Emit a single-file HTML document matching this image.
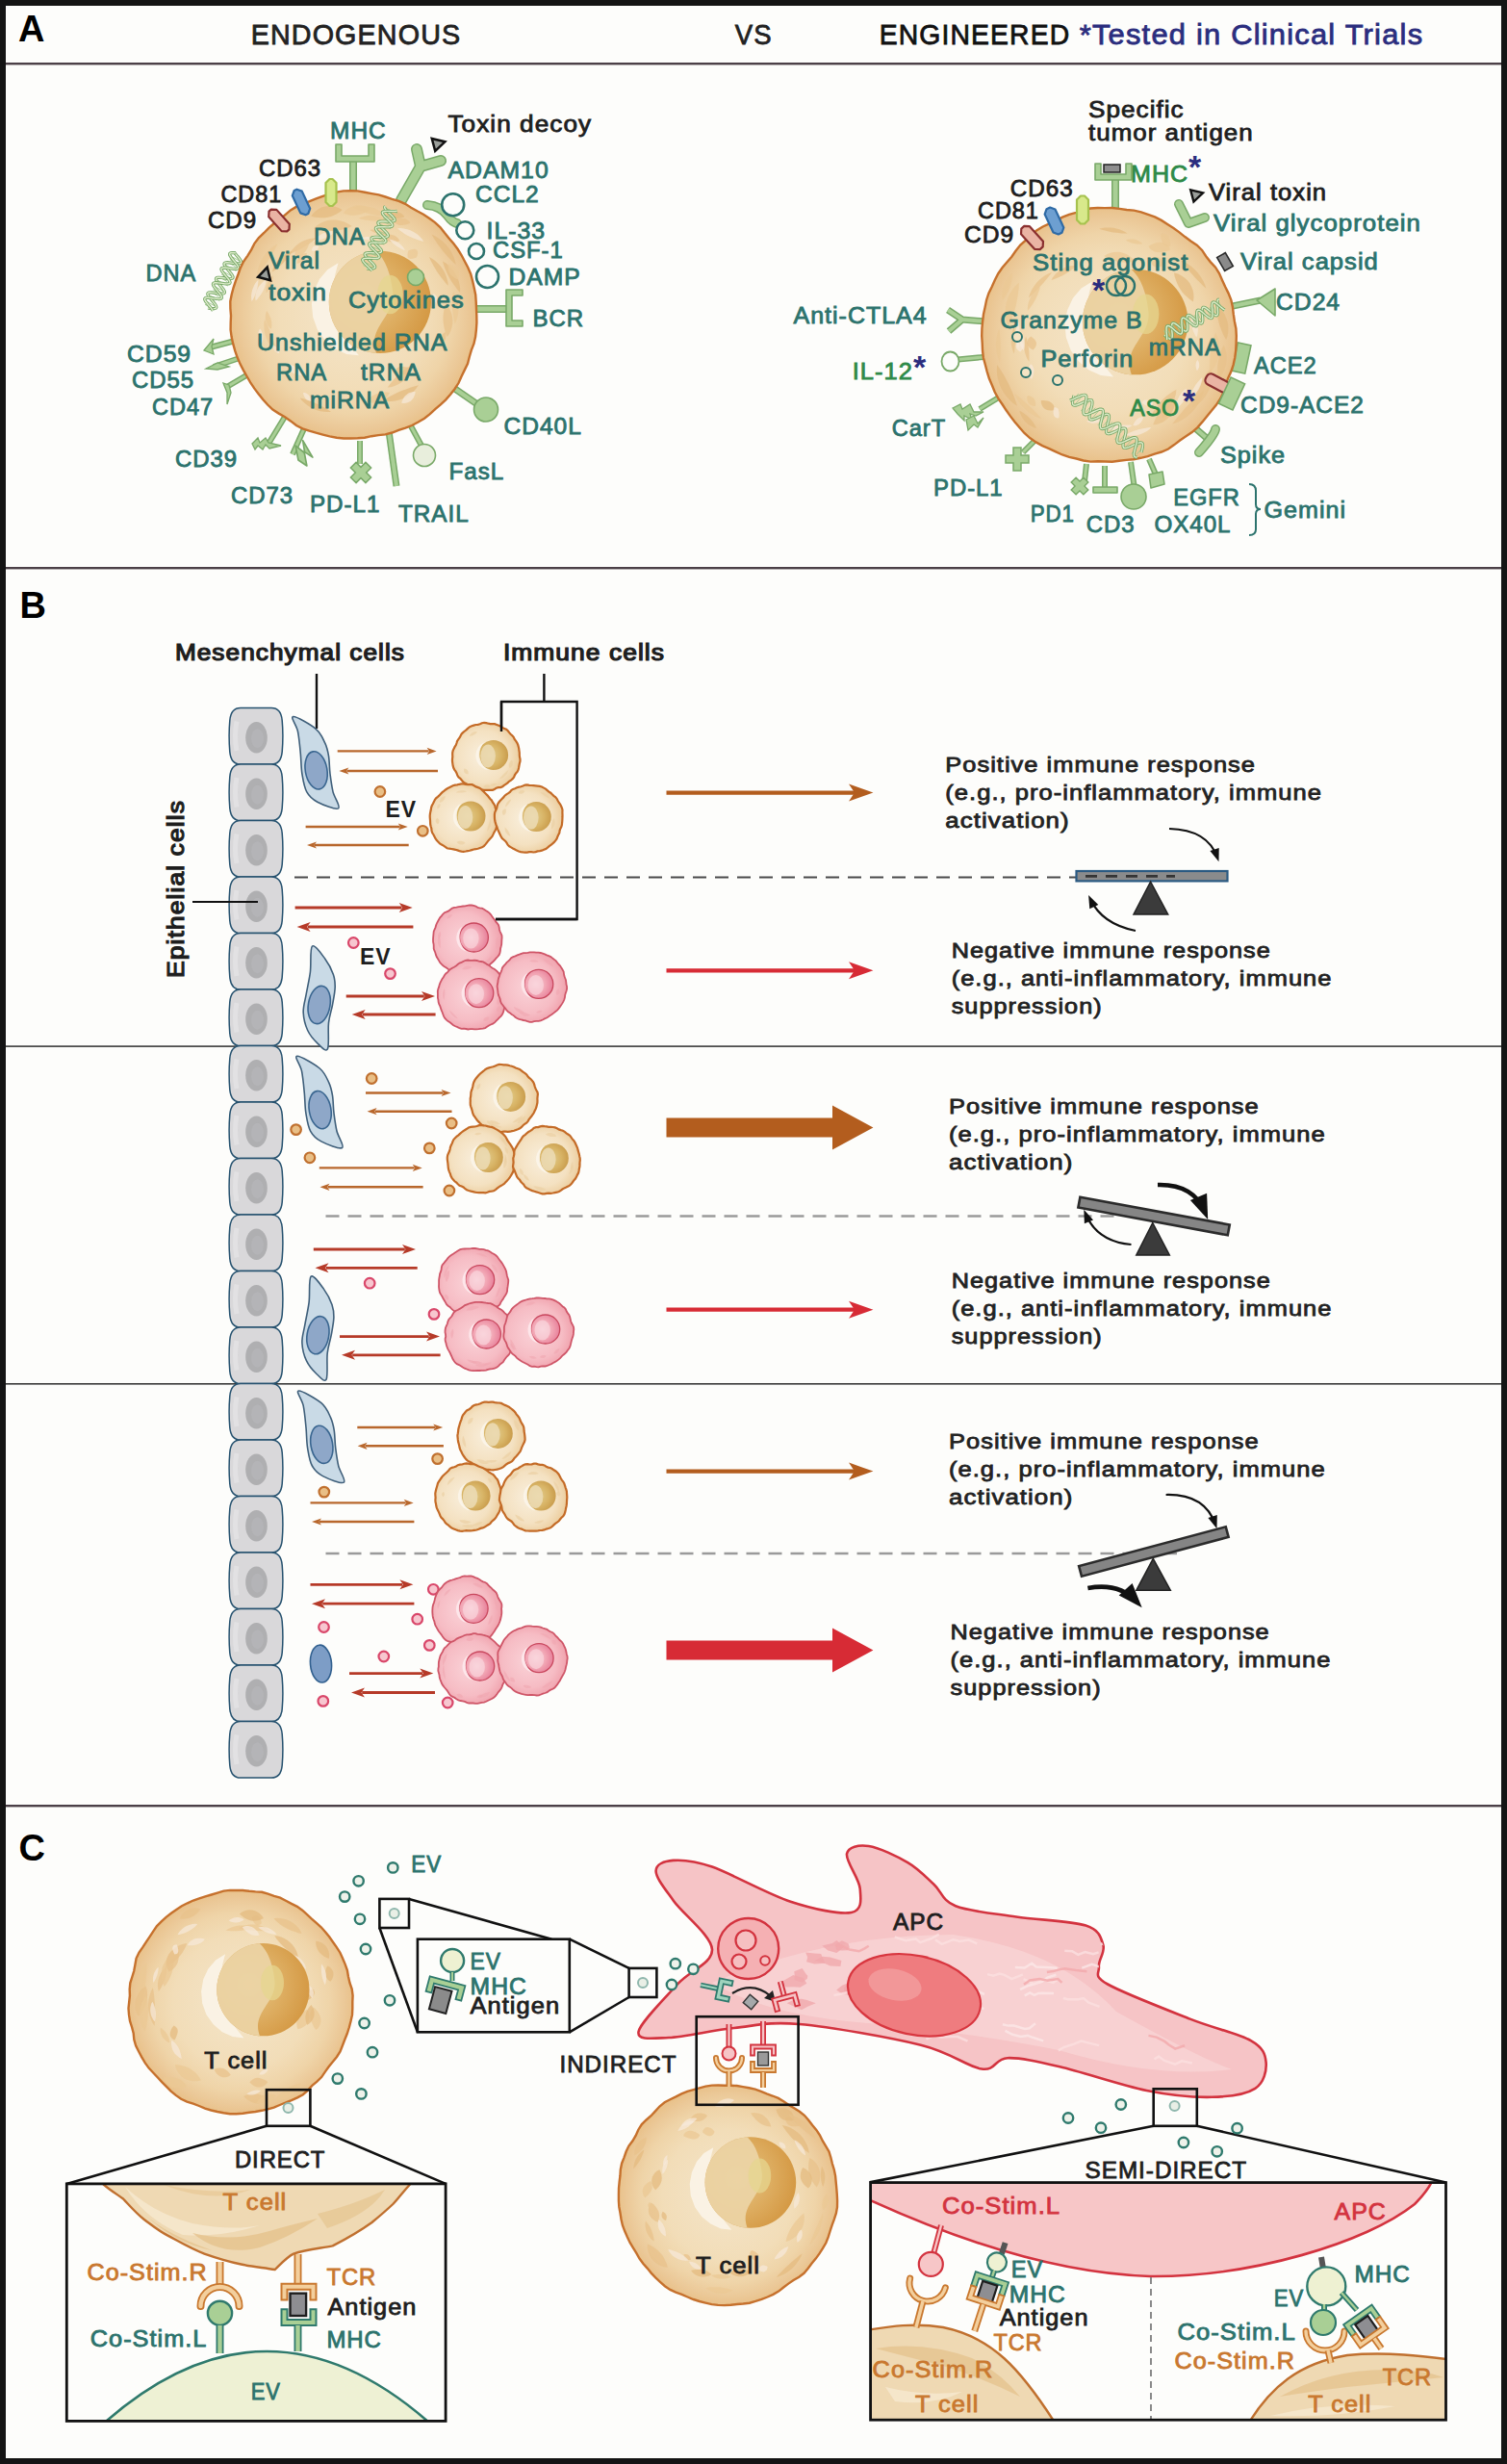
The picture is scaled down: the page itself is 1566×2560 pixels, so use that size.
<!DOCTYPE html>
<html><head><meta charset="utf-8"><title>EV figure</title>
<style>html,body{margin:0;padding:0;background:#fdfdfb;width:1566px;height:2560px;overflow:hidden}
text{font-family:"Liberation Sans",sans-serif}</style></head><body>
<svg width="1566" height="2560" viewBox="0 0 1566 2560" font-family="Liberation Sans, sans-serif" style="display:block">
<defs>
<radialGradient id="gCell" cx="0.5" cy="0.5" r="0.5">
 <stop offset="0" stop-color="#f4e5ca"/><stop offset="0.6" stop-color="#f2ddb8"/>
 <stop offset="0.8" stop-color="#efd4a8"/><stop offset="0.93" stop-color="#ebc897"/><stop offset="1" stop-color="#e9c28b"/></radialGradient>
<radialGradient id="gNuc" cx="0.35" cy="0.45" r="0.7">
 <stop offset="0" stop-color="#e7c585"/><stop offset="0.55" stop-color="#ddac5f"/><stop offset="1" stop-color="#d39640"/></radialGradient>
<radialGradient id="gTan" cx="0.45" cy="0.5" r="0.55">
 <stop offset="0" stop-color="#f9efdd"/><stop offset="0.7" stop-color="#f4e1c1"/><stop offset="1" stop-color="#ecce9f"/></radialGradient>
<radialGradient id="gTanNuc" cx="0.4" cy="0.5" r="0.6">
 <stop offset="0" stop-color="#e2cd8e"/><stop offset="0.6" stop-color="#d8b466"/><stop offset="1" stop-color="#c99c4c"/></radialGradient>
<radialGradient id="gPink" cx="0.45" cy="0.5" r="0.55">
 <stop offset="0" stop-color="#fad3d8"/><stop offset="0.7" stop-color="#f6bcc4"/><stop offset="1" stop-color="#f0a2ad"/></radialGradient>
<radialGradient id="gPinkNuc" cx="0.4" cy="0.5" r="0.6">
 <stop offset="0" stop-color="#f9d3da"/><stop offset="0.6" stop-color="#f1a3b2"/><stop offset="1" stop-color="#e7809a"/></radialGradient>
</defs>
<rect x="0" y="0" width="1566" height="2560" fill="#141414"/>
<rect x="6" y="6" width="1554" height="2548" fill="#fdfdfb"/>
<rect x="6" y="65" width="1554" height="2.4" fill="#4b4047"/>
<rect x="6" y="589" width="1554" height="2.4" fill="#4b4047"/>
<rect x="6" y="1875" width="1554" height="2.4" fill="#4b4047"/>
<rect x="6" y="1086.3" width="1554" height="1.6" fill="#3a3a3a"/>
<rect x="6" y="1437" width="1554" height="1.6" fill="#3a3a3a"/>
<text x="19" y="43" font-size="38" fill="#000" font-weight="bold" letter-spacing="0.85" text-anchor="start" >A</text>
<text x="20.5" y="641.6" font-size="38" fill="#000" font-weight="bold" letter-spacing="0.85" text-anchor="start" >B</text>
<text x="19.5" y="1933" font-size="38" fill="#000" font-weight="bold" letter-spacing="0.85" text-anchor="start" >C</text>
<text x="260.7" y="45.6" font-size="29" fill="#222" stroke="#222" stroke-width="0.8" textLength="218.6" lengthAdjust="spacingAndGlyphs" letter-spacing="1.16" text-anchor="start" >ENDOGENOUS</text>
<text x="763.7" y="45.6" font-size="29" fill="#222" stroke="#222" stroke-width="0.8" textLength="38.9" lengthAdjust="spacingAndGlyphs" letter-spacing="1.16" text-anchor="start" >VS</text>
<text x="913.7" y="45.6" font-size="29" fill="#111" stroke="#111" stroke-width="0.8" textLength="198.6" lengthAdjust="spacingAndGlyphs" letter-spacing="1.16" text-anchor="start" >ENGINEERED</text>
<text x="1121.7" y="45.6" font-size="29" fill="#2b2d7e" stroke="#2b2d7e" stroke-width="0.8" textLength="357.6" lengthAdjust="spacingAndGlyphs" letter-spacing="1.16" text-anchor="start" >*Tested in Clinical Trials</text>
<line x1="367" y1="200" x2="367" y2="167" stroke="#79a968" stroke-width="8" stroke-linecap="butt"/>
<line x1="367" y1="200" x2="367" y2="167" stroke="#a9cf95" stroke-width="5" stroke-linecap="butt"/>
<path d="M349.0,150 L355.0,150 L355.0,162 L383.0,162 L383.0,150 L389.0,150 L389.0,168 L349.0,168Z" fill="#a9cf95" stroke="#79a968" stroke-width="1.6" stroke-linejoin="round"/>
<path d="M417,208 L437,173 M437,173 L433,155 M437,173 L458,167" stroke="#79a968" stroke-width="12" stroke-linecap="round" stroke-linejoin="round" fill="none"/>
<path d="M417,208 L437,173 M437,173 L433,155 M437,173 L458,167" stroke="#a9cf95" stroke-width="9" stroke-linecap="round" stroke-linejoin="round" fill="none"/>
<path d="M444,213 Q458,214 465,224 Q470,231 475,232" stroke="#79a968" stroke-width="10" stroke-linecap="round" fill="none"/>
<path d="M444,213 Q458,214 465,224 Q470,231 475,232" stroke="#a9cf95" stroke-width="7" stroke-linecap="round" fill="none"/>
<line x1="494" y1="321" x2="528" y2="321" stroke="#79a968" stroke-width="8" stroke-linecap="butt"/>
<line x1="494" y1="321" x2="528" y2="321" stroke="#a9cf95" stroke-width="5" stroke-linecap="butt"/>
<path d="M526,301 L543,301 L543,307 L532,307 L532,333 L543,333 L543,339 L526,339Z" fill="#a9cf95" stroke="#79a968" stroke-width="1.6" stroke-linejoin="round"/>
<line x1="467" y1="400" x2="496" y2="420" stroke="#79a968" stroke-width="7" stroke-linecap="butt"/>
<line x1="467" y1="400" x2="496" y2="420" stroke="#a9cf95" stroke-width="4" stroke-linecap="butt"/>
<circle cx="505" cy="425.5" r="12.5" fill="#a9cf95" stroke="#79a968" stroke-width="1.6"/>
<line x1="425" y1="439" x2="438" y2="463" stroke="#79a968" stroke-width="6" stroke-linecap="butt"/>
<line x1="425" y1="439" x2="438" y2="463" stroke="#a9cf95" stroke-width="3" stroke-linecap="butt"/>
<circle cx="441" cy="473" r="11.5" fill="#e8eedc" stroke="#79a968" stroke-width="1.6"/>
<line x1="404" y1="448" x2="412" y2="505" stroke="#79a968" stroke-width="7" stroke-linecap="butt"/>
<line x1="404" y1="448" x2="412" y2="505" stroke="#a9cf95" stroke-width="4" stroke-linecap="butt"/>
<line x1="374" y1="458" x2="374" y2="482" stroke="#79a968" stroke-width="6" stroke-linecap="butt"/>
<line x1="374" y1="458" x2="374" y2="482" stroke="#a9cf95" stroke-width="3" stroke-linecap="butt"/>
<g transform="translate(375,491) rotate(45)"><path d="M-4,-11 L4,-11 L4,-4 L11,-4 L11,4 L4,4 L4,11 L-4,11 L-4,4 L-11,4 L-11,-4 L-4,-4Z" fill="#a9cf95" stroke="#79a968" stroke-width="1.5"/></g>
<line x1="317" y1="443" x2="304" y2="472" stroke="#79a968" stroke-width="6" stroke-linecap="butt"/>
<line x1="317" y1="443" x2="304" y2="472" stroke="#a9cf95" stroke-width="3" stroke-linecap="butt"/>
<g transform="translate(310,478) rotate(20) scale(1.3)"><path d="M0,0 L-6,-10 L3,-7 L-2,-16 L10,-6 L2,-8 L8,2Z" fill="#a9cf95" stroke="#79a968" stroke-width="1.3" stroke-linejoin="round"/></g>
<line x1="296" y1="433" x2="279" y2="461" stroke="#79a968" stroke-width="6" stroke-linecap="butt"/>
<line x1="296" y1="433" x2="279" y2="461" stroke="#a9cf95" stroke-width="3" stroke-linecap="butt"/>
<path d="M262,461 L268,455 L270,460 L276,455 L279,460 L292,463 L280,466 L276,462 L273,467 L268,463 L265,467Z" fill="#a9cf95" stroke="#79a968" stroke-width="1.3"/>
<line x1="256" y1="390" x2="234" y2="403" stroke="#79a968" stroke-width="6" stroke-linecap="butt"/>
<line x1="256" y1="390" x2="234" y2="403" stroke="#a9cf95" stroke-width="3" stroke-linecap="butt"/>
<path d="M232,398 L236,408 L236,420 L240,408 L238,400Z" fill="#a9cf95" stroke="#79a968" stroke-width="1.3"/>
<line x1="249" y1="372" x2="222" y2="381" stroke="#79a968" stroke-width="6" stroke-linecap="butt"/>
<line x1="249" y1="372" x2="222" y2="381" stroke="#a9cf95" stroke-width="3" stroke-linecap="butt"/>
<path d="M214,383 L226,377 L238,381 L226,384Z" fill="#a9cf95" stroke="#79a968" stroke-width="1.3"/>
<line x1="248" y1="353" x2="218" y2="361" stroke="#79a968" stroke-width="6" stroke-linecap="butt"/>
<line x1="248" y1="353" x2="218" y2="361" stroke="#a9cf95" stroke-width="3" stroke-linecap="butt"/>
<path d="M212,364 L222,352 L220,360 L222,368Z" fill="#a9cf95" stroke="#79a968" stroke-width="1.3"/>
<line x1="220.7" y1="320.6" x2="213.0" y2="316.3" stroke="#a9cc95" stroke-width="1"/>
<line x1="224.8" y1="318.8" x2="212.3" y2="311.9" stroke="#a9cc95" stroke-width="1"/>
<line x1="220.3" y1="312.2" x2="220.3" y2="312.2" stroke="#a9cc95" stroke-width="1"/>
<line x1="215.8" y1="305.7" x2="228.3" y2="312.6" stroke="#a9cc95" stroke-width="1"/>
<line x1="219.9" y1="303.9" x2="227.6" y2="308.1" stroke="#a9cc95" stroke-width="1"/>
<line x1="229.3" y1="305.0" x2="221.6" y2="300.8" stroke="#a9cc95" stroke-width="1"/>
<line x1="233.4" y1="303.2" x2="221.0" y2="296.3" stroke="#a9cc95" stroke-width="1"/>
<line x1="228.9" y1="296.7" x2="228.9" y2="296.7" stroke="#a9cc95" stroke-width="1"/>
<line x1="224.4" y1="290.1" x2="236.9" y2="297.0" stroke="#a9cc95" stroke-width="1"/>
<line x1="228.5" y1="288.3" x2="236.2" y2="292.6" stroke="#a9cc95" stroke-width="1"/>
<line x1="237.9" y1="289.5" x2="230.2" y2="285.2" stroke="#a9cc95" stroke-width="1"/>
<line x1="242.0" y1="287.7" x2="229.6" y2="280.8" stroke="#a9cc95" stroke-width="1"/>
<line x1="237.5" y1="281.1" x2="237.5" y2="281.1" stroke="#a9cc95" stroke-width="1"/>
<line x1="233.0" y1="274.5" x2="245.5" y2="281.5" stroke="#a9cc95" stroke-width="1"/>
<line x1="237.1" y1="272.8" x2="244.8" y2="277.0" stroke="#a9cc95" stroke-width="1"/>
<line x1="246.6" y1="273.9" x2="238.8" y2="269.6" stroke="#a9cc95" stroke-width="1"/>
<line x1="250.7" y1="272.1" x2="238.2" y2="265.2" stroke="#a9cc95" stroke-width="1"/>
<line x1="246.1" y1="265.6" x2="246.1" y2="265.6" stroke="#a9cc95" stroke-width="1"/>
<path d="M216.0,320.0 L218.2,320.3 L220.3,320.5 L222.1,320.6 L223.5,320.5 L224.4,320.1 L224.8,319.4 L224.7,318.4 L224.2,317.2 L223.2,315.7 L221.9,314.1 L220.5,312.4 L219.0,310.7 L217.7,309.1 L216.6,307.6 L216.0,306.3 L215.8,305.2 L216.1,304.5 L216.9,304.0 L218.2,303.8 L219.9,303.9 L221.9,304.1 L224.1,304.4 L226.3,304.7 L228.5,304.9 L230.3,305.1 L231.8,305.0 L232.9,304.6 L233.4,304.0 L233.4,303.1 L232.9,301.9 L232.0,300.5 L230.8,298.9 L229.4,297.2 L227.9,295.5 L226.6,293.9 L225.5,292.3 L224.7,291.0 L224.4,289.9 L224.6,289.1 L225.3,288.5 L226.5,288.3 L228.1,288.3 L230.1,288.5 L232.2,288.7 L234.5,289.1 L236.6,289.3 L238.6,289.5 L240.1,289.5 L241.3,289.2 L241.9,288.6 L242.1,287.8 L241.7,286.7 L240.9,285.3 L239.7,283.7 L238.3,282.1 L236.9,280.3 L235.5,278.7 L234.3,277.1 L233.4,275.7 L233.0,274.5 L233.1,273.7 L233.7,273.1 L234.8,272.8 L236.3,272.7 L238.2,272.9 L240.3,273.1 L242.6,273.4 L244.8,273.7 L246.8,273.9 L248.4,273.9 L249.7,273.7 L250.4,273.2 L250.7,272.4 L250.4,271.4 L249.7,270.1 L248.6,268.5 L247.3,266.9 L245.8,265.2 L244.4,263.5 L243.1,261.9" fill="none" stroke="#7aa96b" stroke-width="3.2"/>
<path d="M216.0,320.0 L218.2,320.3 L220.3,320.5 L222.1,320.6 L223.5,320.5 L224.4,320.1 L224.8,319.4 L224.7,318.4 L224.2,317.2 L223.2,315.7 L221.9,314.1 L220.5,312.4 L219.0,310.7 L217.7,309.1 L216.6,307.6 L216.0,306.3 L215.8,305.2 L216.1,304.5 L216.9,304.0 L218.2,303.8 L219.9,303.9 L221.9,304.1 L224.1,304.4 L226.3,304.7 L228.5,304.9 L230.3,305.1 L231.8,305.0 L232.9,304.6 L233.4,304.0 L233.4,303.1 L232.9,301.9 L232.0,300.5 L230.8,298.9 L229.4,297.2 L227.9,295.5 L226.6,293.9 L225.5,292.3 L224.7,291.0 L224.4,289.9 L224.6,289.1 L225.3,288.5 L226.5,288.3 L228.1,288.3 L230.1,288.5 L232.2,288.7 L234.5,289.1 L236.6,289.3 L238.6,289.5 L240.1,289.5 L241.3,289.2 L241.9,288.6 L242.1,287.8 L241.7,286.7 L240.9,285.3 L239.7,283.7 L238.3,282.1 L236.9,280.3 L235.5,278.7 L234.3,277.1 L233.4,275.7 L233.0,274.5 L233.1,273.7 L233.7,273.1 L234.8,272.8 L236.3,272.7 L238.2,272.9 L240.3,273.1 L242.6,273.4 L244.8,273.7 L246.8,273.9 L248.4,273.9 L249.7,273.7 L250.4,273.2 L250.7,272.4 L250.4,271.4 L249.7,270.1 L248.6,268.5 L247.3,266.9 L245.8,265.2 L244.4,263.5 L243.1,261.9" fill="none" stroke="#dcecc9" stroke-width="1.4"/>
<path d="M221.3,322.9 L220.4,321.5 L219.2,319.9 L217.8,318.2 L216.3,316.5 L215.0,314.8 L213.8,313.3 L213.1,312.0 L212.7,310.9 L212.9,310.1 L213.6,309.5 L214.8,309.3 L216.5,309.3 L218.4,309.5 L220.6,309.7 L222.8,310.1 L225.0,310.3 L226.9,310.5 L228.5,310.5 L229.7,310.2 L230.3,309.6 L230.4,308.8 L230.1,307.7 L229.2,306.3 L228.1,304.7 L226.7,303.1 L225.2,301.3 L223.9,299.7 L222.7,298.1 L221.8,296.7 L221.4,295.5 L221.5,294.7 L222.0,294.1 L223.1,293.8 L224.7,293.7 L226.6,293.9 L228.7,294.1 L231.0,294.4 L233.1,294.7 L235.1,294.9 L236.8,294.9 L238.1,294.7 L238.8,294.2 L239.1,293.4 L238.8,292.4 L238.1,291.1 L237.0,289.5 L235.6,287.9 L234.2,286.2 L232.8,284.5 L231.5,282.9 L230.6,281.4 L230.0,280.2 L230.0,279.3 L230.5,278.6 L231.5,278.3 L232.9,278.2 L234.8,278.3 L236.8,278.5 L239.1,278.8 L241.3,279.1 L243.3,279.3 L245.1,279.4 L246.4,279.2 L247.3,278.8 L247.7,278.1 L247.5,277.1 L246.9,275.8 L245.9,274.3 L244.6,272.7 L243.1,271.0 L241.7,269.3 L240.4,267.7 L239.4,266.2 L238.7,264.9 L238.6,263.9 L238.9,263.2 L239.8,262.8 L241.2,262.6 L242.9,262.7 L245.0,262.9" fill="none" stroke="#7aa96b" stroke-width="3.2"/>
<path d="M221.3,322.9 L220.4,321.5 L219.2,319.9 L217.8,318.2 L216.3,316.5 L215.0,314.8 L213.8,313.3 L213.1,312.0 L212.7,310.9 L212.9,310.1 L213.6,309.5 L214.8,309.3 L216.5,309.3 L218.4,309.5 L220.6,309.7 L222.8,310.1 L225.0,310.3 L226.9,310.5 L228.5,310.5 L229.7,310.2 L230.3,309.6 L230.4,308.8 L230.1,307.7 L229.2,306.3 L228.1,304.7 L226.7,303.1 L225.2,301.3 L223.9,299.7 L222.7,298.1 L221.8,296.7 L221.4,295.5 L221.5,294.7 L222.0,294.1 L223.1,293.8 L224.7,293.7 L226.6,293.9 L228.7,294.1 L231.0,294.4 L233.1,294.7 L235.1,294.9 L236.8,294.9 L238.1,294.7 L238.8,294.2 L239.1,293.4 L238.8,292.4 L238.1,291.1 L237.0,289.5 L235.6,287.9 L234.2,286.2 L232.8,284.5 L231.5,282.9 L230.6,281.4 L230.0,280.2 L230.0,279.3 L230.5,278.6 L231.5,278.3 L232.9,278.2 L234.8,278.3 L236.8,278.5 L239.1,278.8 L241.3,279.1 L243.3,279.3 L245.1,279.4 L246.4,279.2 L247.3,278.8 L247.7,278.1 L247.5,277.1 L246.9,275.8 L245.9,274.3 L244.6,272.7 L243.1,271.0 L241.7,269.3 L240.4,267.7 L239.4,266.2 L238.7,264.9 L238.6,263.9 L238.9,263.2 L239.8,262.8 L241.2,262.6 L242.9,262.7 L245.0,262.9" fill="none" stroke="#dcecc9" stroke-width="1.4"/>
<path d="M495.3,328.0 L495.4,335.3 L494.9,342.6 L494.1,349.8 L492.5,356.9 L489.8,363.8 L487.8,370.7 L486.0,377.9 L482.8,384.4 L479.6,391.0 L476.6,397.8 L472.6,404.0 L468.1,409.8 L463.2,415.3 L457.8,420.4 L452.2,425.1 L446.8,430.2 L441.0,434.8 L434.6,438.5 L428.1,442.0 L421.3,444.6 L414.3,446.9 L407.5,449.5 L400.4,451.4 L393.2,452.1 L386.0,453.2 L378.9,454.7 L371.6,455.3 L364.4,455.5 L357.1,455.5 L349.8,454.8 L342.6,453.4 L335.5,451.6 L328.4,449.7 L321.4,447.6 L314.4,445.3 L307.9,442.0 L302.0,437.4 L296.1,433.2 L289.7,429.6 L283.4,425.6 L278.1,420.5 L273.2,415.0 L268.6,409.2 L264.2,403.4 L260.2,397.3 L256.5,391.0 L252.9,384.6 L249.5,378.1 L246.6,371.3 L244.2,364.3 L242.2,357.2 L240.6,350.1 L239.6,342.7 L239.7,335.3 L240.0,328.0 L239.4,320.6 L239.3,313.2 L240.7,306.0 L242.6,298.8 L244.9,291.9 L247.5,285.0 L249.9,278.1 L253.2,271.5 L257.4,265.6 L261.2,259.4 L264.5,252.8 L268.9,247.0 L274.3,242.0 L279.3,236.8 L284.9,232.0 L290.8,227.9 L296.4,223.2 L301.9,218.4 L308.2,214.7 L315.0,212.0 L321.7,209.1 L328.5,206.4 L335.4,203.8 L342.4,201.6 L349.5,199.6 L356.9,198.4 L364.3,198.2 L371.7,198.4 L379.0,199.7 L386.2,201.1 L393.5,202.4 L400.5,204.5 L407.4,206.8 L414.4,208.9 L421.1,211.8 L427.2,215.7 L433.5,219.3 L440.0,222.7 L446.0,226.8 L452.0,231.1 L457.4,236.0 L461.9,241.8 L466.5,247.4 L471.3,253.0 L475.6,258.8 L479.5,265.0 L482.9,271.5 L486.3,278.0 L489.2,284.7 L491.1,291.9 L492.7,299.0 L494.2,306.2 L494.7,313.5 L495.0,320.7Z" fill="url(#gCell)" stroke="#c6712d" stroke-width="2.4"/>
<path d="M463.2,315.4 L465.8,318.6 L467.7,322.0 L469.1,325.5 L470.0,329.1 L470.4,332.8 L470.3,336.5 L469.6,340.1 L468.5,343.6 L466.9,347.0 L464.6,350.1 L464.6,350.1 L463.1,346.3 L462.1,342.6 L461.3,339.1 L460.8,335.7 L460.5,332.3 L460.5,329.0 L460.8,325.7 L461.3,322.4 L462.0,318.9 L463.2,315.4Z" fill="#e8c28b" opacity="0.75"/>
<path d="M460.0,271.5 L463.6,273.6 L466.7,276.2 L469.4,279.0 L471.8,282.1 L473.9,285.4 L475.6,288.8 L476.8,292.5 L477.7,296.2 L478.2,300.1 L478.0,304.0 L478.0,304.0 L475.2,300.8 L472.9,297.6 L470.6,294.5 L468.6,291.4 L466.8,288.2 L465.1,285.1 L463.6,281.8 L462.2,278.5 L461.0,275.1 L460.0,271.5Z" fill="#e4bb80" opacity="0.75"/>
<path d="M427.0,382.5 L426.8,384.5 L426.2,386.1 L425.2,387.3 L423.9,388.3 L422.4,389.0 L420.6,389.3 L418.5,389.2 L416.2,388.8 L413.7,388.0 L410.8,386.5 L410.8,386.5 L411.2,384.7 L411.9,383.3 L412.8,382.3 L413.9,381.5 L415.3,381.0 L417.0,380.8 L419.0,380.9 L421.3,381.2 L423.8,381.6 L427.0,382.5Z" fill="#e8c28b" opacity="0.75"/>
<path d="M471.0,302.8 L472.8,305.9 L474.2,309.1 L475.3,312.4 L476.0,315.8 L476.4,319.3 L476.4,322.8 L476.0,326.3 L475.3,329.7 L474.3,333.1 L472.7,336.4 L472.7,336.4 L471.8,333.0 L471.2,329.7 L470.7,326.4 L470.3,323.1 L470.0,319.8 L469.9,316.5 L470.0,313.2 L470.1,309.8 L470.4,306.4 L471.0,302.8Z" fill="#ebc894" opacity="0.75"/>
<path d="M356.7,221.3 L359.2,218.6 L361.9,216.6 L364.8,215.0 L367.7,213.9 L370.6,213.3 L373.6,213.2 L376.5,213.5 L379.4,214.3 L382.2,215.5 L384.8,217.5 L384.8,217.5 L381.7,219.5 L378.7,221.0 L375.9,222.2 L373.1,223.0 L370.4,223.6 L367.7,223.8 L365.0,223.7 L362.3,223.3 L359.5,222.6 L356.7,221.3Z" fill="#ebc894" opacity="0.75"/>
<path d="M308.5,273.8 L308.7,271.9 L309.1,270.2 L309.7,268.6 L310.5,267.2 L311.5,266.0 L312.7,265.0 L314.0,264.1 L315.5,263.5 L317.1,263.0 L319.0,262.9 L319.0,262.9 L318.5,264.8 L317.9,266.4 L317.2,267.8 L316.3,269.1 L315.4,270.3 L314.3,271.2 L313.1,272.1 L311.8,272.8 L310.3,273.4 L308.5,273.8Z" fill="#ebc894" opacity="0.75"/>
<path d="M281.7,341.8 L280.0,340.2 L278.6,338.5 L277.5,336.6 L276.7,334.8 L276.1,332.8 L275.8,330.9 L275.7,328.9 L275.9,327.0 L276.3,325.0 L277.2,323.1 L277.2,323.1 L278.6,325.1 L279.6,327.0 L280.5,328.9 L281.3,330.7 L281.8,332.5 L282.2,334.4 L282.3,336.2 L282.3,338.0 L282.2,339.9 L281.7,341.8Z" fill="#ebc894" opacity="0.75"/>
<path d="M446.1,267.0 L449.5,268.9 L452.6,271.2 L455.3,273.7 L457.8,276.4 L460.0,279.4 L461.8,282.6 L463.3,286.0 L464.5,289.5 L465.4,293.1 L465.7,296.8 L465.7,296.8 L463.0,293.9 L460.7,291.0 L458.4,288.2 L456.3,285.3 L454.3,282.4 L452.5,279.5 L450.7,276.5 L449.1,273.5 L447.5,270.4 L446.1,267.0Z" fill="#e4bb80" opacity="0.75"/>
<path d="M434.9,400.3 L432.4,403.8 L429.5,406.9 L426.2,409.6 L422.7,412.0 L418.9,413.9 L414.9,415.4 L410.8,416.4 L406.5,417.0 L402.1,417.1 L397.7,416.6 L397.7,416.6 L401.0,414.3 L404.4,412.3 L407.9,410.5 L411.3,408.8 L414.9,407.1 L418.6,405.6 L422.4,404.2 L426.3,402.8 L430.4,401.5 L434.9,400.3Z" fill="#e4bb80" opacity="0.75"/>
<path d="M408.9,229.8 L411.3,228.5 L413.4,227.7 L415.5,227.1 L417.5,226.9 L419.4,226.9 L421.1,227.3 L422.6,228.0 L424.1,228.9 L425.3,230.1 L426.3,231.8 L426.3,231.8 L423.8,232.8 L421.5,233.4 L419.5,233.8 L417.5,234.0 L415.8,234.0 L414.2,233.7 L412.7,233.1 L411.3,232.3 L410.0,231.3 L408.9,229.8Z" fill="#e8c28b" opacity="0.75"/>
<path d="M267.1,285.6 L267.6,281.6 L268.6,277.7 L269.9,273.9 L271.6,270.3 L273.6,266.9 L275.9,263.7 L278.6,260.7 L281.5,258.0 L284.7,255.5 L288.2,253.5 L288.2,253.5 L286.6,257.1 L284.7,260.6 L282.9,263.9 L280.9,267.2 L278.9,270.3 L276.8,273.4 L274.6,276.5 L272.3,279.6 L269.8,282.6 L267.1,285.6Z" fill="#ebc894" opacity="0.75"/>
<path d="M300.6,264.1 L302.3,261.0 L304.5,258.4 L306.8,255.9 L309.4,253.7 L312.3,251.8 L315.3,250.2 L318.5,248.9 L321.8,248.0 L325.3,247.4 L328.9,247.2 L328.9,247.2 L326.4,249.5 L323.8,251.4 L321.2,253.3 L318.6,255.1 L315.9,256.7 L313.1,258.3 L310.2,259.8 L307.1,261.3 L304.0,262.7 L300.6,264.1Z" fill="#e8c28b" opacity="0.75"/>
<path d="M384.3,239.0 L386.4,238.5 L388.4,238.4 L390.5,238.4 L392.5,238.6 L394.5,239.1 L396.4,239.7 L398.2,240.5 L400.0,241.5 L401.7,242.7 L403.3,244.2 L403.3,244.2 L401.1,244.2 L399.1,244.0 L397.1,243.8 L395.2,243.4 L393.3,243.0 L391.5,242.4 L389.6,241.7 L387.8,241.0 L386.0,240.1 L384.3,239.0Z" fill="#e8c28b" opacity="0.75"/>
<path d="M305.9,267.8 L306.1,264.9 L306.7,262.4 L307.6,260.1 L308.9,258.1 L310.3,256.4 L312.1,254.9 L314.1,253.8 L316.3,252.9 L318.6,252.4 L321.3,252.5 L321.3,252.5 L320.5,255.2 L319.5,257.6 L318.4,259.6 L317.1,261.5 L315.8,263.1 L314.2,264.4 L312.5,265.6 L310.5,266.5 L308.4,267.3 L305.9,267.8Z" fill="#ebc894" opacity="0.75"/>
<path d="M462.5,344.9 L463.1,346.5 L463.3,348.0 L463.3,349.5 L463.2,351.0 L462.8,352.4 L462.2,353.7 L461.3,355.0 L460.3,356.2 L459.1,357.3 L457.6,358.3 L457.6,358.3 L457.2,356.7 L457.1,355.2 L457.2,353.8 L457.4,352.4 L457.8,351.1 L458.3,349.8 L459.1,348.5 L460.0,347.3 L461.1,346.1 L462.5,344.9Z" fill="#e8c28b" opacity="0.75"/>
<path d="M323.2,224.6 L325.5,221.4 L328.3,218.9 L331.2,216.9 L334.4,215.3 L337.8,214.4 L341.2,213.9 L344.8,214.0 L348.4,214.7 L352.1,215.9 L355.7,218.0 L355.7,218.0 L352.7,220.5 L349.8,222.3 L346.8,223.8 L343.8,225.0 L340.8,225.8 L337.7,226.2 L334.4,226.3 L330.9,226.1 L327.3,225.7 L323.2,224.6Z" fill="#e4bb80" opacity="0.75"/>
<path d="M405.0,408.0 L403.3,410.7 L401.4,413.0 L399.2,414.9 L396.8,416.4 L394.3,417.5 L391.6,418.2 L388.9,418.6 L386.1,418.5 L383.2,418.0 L380.4,416.9 L380.4,416.9 L382.7,414.6 L385.0,412.8 L387.2,411.3 L389.5,410.1 L391.8,409.1 L394.2,408.4 L396.7,407.9 L399.3,407.6 L402.0,407.6 L405.0,408.0Z" fill="#ebc894" opacity="0.75"/>
<path d="M448.6,243.6 L452.5,245.4 L456.1,247.7 L459.4,250.2 L462.4,253.1 L465.2,256.2 L467.7,259.6 L469.8,263.2 L471.5,267.0 L472.9,270.9 L473.8,275.1 L473.8,275.1 L470.6,272.2 L467.7,269.2 L464.9,266.3 L462.3,263.3 L459.8,260.2 L457.4,257.1 L455.0,253.9 L452.8,250.6 L450.6,247.2 L448.6,243.6Z" fill="#e4bb80" opacity="0.75"/>
<path d="M366.8,215.5 L370.5,214.5 L374.2,214.1 L377.9,214.1 L381.6,214.5 L385.3,215.2 L388.9,216.3 L392.3,217.8 L395.6,219.7 L398.8,221.9 L401.6,224.7 L401.6,224.7 L398.0,224.6 L394.5,224.2 L391.0,223.7 L387.6,223.0 L384.2,222.2 L380.8,221.2 L377.4,220.1 L374.0,218.8 L370.4,217.3 L366.8,215.5Z" fill="#ebc894" opacity="0.75"/>
<path d="M287.8,366.5 L284.8,363.9 L282.2,360.9 L280.0,357.7 L278.1,354.4 L276.5,350.8 L275.4,347.1 L274.6,343.4 L274.3,339.5 L274.3,335.7 L274.9,331.8 L274.9,331.8 L276.7,335.5 L278.4,339.0 L279.9,342.5 L281.3,345.9 L282.6,349.3 L283.9,352.7 L285.0,356.0 L286.0,359.5 L287.0,362.9 L287.8,366.5Z" fill="#ebc894" opacity="0.75"/>
<path d="M276.7,304.5 L276.4,302.4 L276.5,300.3 L276.7,298.3 L277.1,296.4 L277.8,294.4 L278.6,292.6 L279.6,290.9 L280.8,289.2 L282.2,287.7 L283.8,286.3 L283.8,286.3 L283.7,288.4 L283.4,290.4 L282.9,292.3 L282.4,294.1 L281.8,295.9 L281.0,297.7 L280.1,299.4 L279.1,301.1 L278.0,302.8 L276.7,304.5Z" fill="#ebc894" opacity="0.75"/>
<path d="M401.2,222.7 L403.6,221.4 L405.9,220.6 L408.1,220.1 L410.2,219.9 L412.3,220.1 L414.2,220.5 L416.0,221.3 L417.7,222.3 L419.2,223.6 L420.4,225.4 L420.4,225.4 L417.9,226.3 L415.5,226.8 L413.3,227.2 L411.3,227.3 L409.4,227.2 L407.5,226.8 L405.8,226.2 L404.2,225.3 L402.7,224.3 L401.2,222.7Z" fill="#e4bb80" opacity="0.75"/>
<path d="M326.1,237.3 L329.3,234.3 L332.8,232.0 L336.7,230.3 L340.7,229.1 L344.8,228.5 L349.1,228.6 L353.4,229.2 L357.6,230.5 L361.7,232.4 L365.7,235.1 L365.7,235.1 L362.0,236.8 L358.4,238.0 L354.8,238.8 L351.1,239.4 L347.4,239.7 L343.6,239.7 L339.6,239.5 L335.4,239.0 L331.0,238.4 L326.1,237.3Z" fill="#e8c28b" opacity="0.75"/>
<path d="M466.0,274.1 L468.7,274.8 L470.8,275.9 L472.7,277.2 L474.2,278.7 L475.4,280.3 L476.3,282.1 L476.8,284.0 L477.0,286.1 L476.8,288.3 L476.1,290.6 L476.1,290.6 L473.6,289.5 L471.6,288.2 L469.9,286.8 L468.5,285.4 L467.4,283.9 L466.6,282.2 L466.0,280.4 L465.7,278.5 L465.6,276.4 L466.0,274.1Z" fill="#ebc894" opacity="0.75"/>
<path d="M424.3,260.6 L426.7,259.5 L428.7,259.0 L430.4,258.8 L431.8,259.0 L432.8,259.5 L433.6,260.4 L434.0,261.7 L434.1,263.2 L433.8,265.1 L432.9,267.4 L432.9,267.4 L430.4,268.3 L428.5,268.7 L426.9,268.9 L425.6,268.7 L424.6,268.2 L423.9,267.4 L423.6,266.3 L423.5,264.8 L423.7,263.0 L424.3,260.6Z" fill="#ebc894" opacity="0.75"/>
<path d="M428.1,379.3 L427.3,383.1 L425.9,386.6 L424.1,389.9 L421.9,392.8 L419.3,395.5 L416.5,397.7 L413.4,399.6 L410.1,401.1 L406.5,402.2 L402.8,402.6 L402.8,402.6 L405.1,399.3 L407.4,396.4 L409.7,393.8 L412.0,391.2 L414.4,388.9 L416.8,386.7 L419.4,384.7 L422.1,382.8 L424.9,380.9 L428.1,379.3Z" fill="#e8c28b" opacity="0.75"/>
<path d="M397.8,245.7 L400.1,244.6 L402.2,244.1 L404.3,243.8 L406.3,243.8 L408.3,244.2 L410.0,244.8 L411.6,245.7 L413.1,247.0 L414.4,248.4 L415.4,250.3 L415.4,250.3 L413.0,250.9 L410.7,251.2 L408.7,251.3 L406.8,251.2 L405.0,250.9 L403.4,250.4 L401.8,249.6 L400.4,248.6 L399.0,247.4 L397.8,245.7Z" fill="#e8c28b" opacity="0.75"/>
<path d="M372.7,226.8 L375.6,225.5 L378.6,224.7 L381.6,224.1 L384.6,223.8 L387.5,223.9 L390.5,224.2 L393.3,224.8 L396.2,225.7 L398.9,226.8 L401.5,228.4 L401.5,228.4 L398.3,228.9 L395.2,229.2 L392.2,229.3 L389.3,229.4 L386.5,229.3 L383.7,229.1 L381.0,228.8 L378.2,228.3 L375.5,227.7 L372.7,226.8Z" fill="#ebc894" opacity="0.75"/>
<path d="M282.8,282.6 L283.6,279.5 L284.8,276.7 L286.3,274.0 L288.1,271.5 L290.1,269.1 L292.4,267.0 L294.9,265.1 L297.6,263.5 L300.5,262.1 L303.6,261.1 L303.6,261.1 L302.1,263.7 L300.4,266.1 L298.6,268.4 L296.8,270.5 L294.8,272.7 L292.7,274.7 L290.5,276.7 L288.1,278.7 L285.6,280.7 L282.8,282.6Z" fill="#e4bb80" opacity="0.75"/>
<path d="M344.1,427.9 L340.3,428.1 L336.6,427.8 L333.0,427.2 L329.4,426.2 L326.0,424.9 L322.7,423.3 L319.6,421.3 L316.7,419.0 L314.0,416.4 L311.7,413.4 L311.7,413.4 L315.3,414.3 L318.7,415.4 L322.0,416.6 L325.3,417.8 L328.5,419.2 L331.6,420.6 L334.7,422.2 L337.8,423.9 L340.9,425.8 L344.1,427.9Z" fill="#e4bb80" opacity="0.75"/>
<path d="M375.7,247.5 L377.1,246.8 L378.4,246.5 L379.7,246.2 L381.0,246.1 L382.4,246.1 L383.6,246.2 L384.9,246.5 L386.1,246.9 L387.3,247.5 L388.5,248.2 L388.5,248.2 L387.1,248.7 L385.7,248.9 L384.4,249.1 L383.1,249.2 L381.8,249.1 L380.6,249.0 L379.3,248.8 L378.1,248.5 L376.9,248.1 L375.7,247.5Z" fill="#f7eadb" opacity="0.7"/>
<path d="M261.6,313.3 L261.2,310.8 L261.1,308.3 L261.2,305.9 L261.6,303.5 L262.2,301.2 L263.0,298.9 L264.0,296.7 L265.2,294.6 L266.7,292.5 L268.4,290.6 L268.4,290.6 L268.4,293.1 L268.1,295.5 L267.7,297.8 L267.2,300.1 L266.6,302.3 L265.9,304.5 L265.0,306.7 L264.1,308.9 L263.0,311.1 L261.6,313.3Z" fill="#f7eadb" opacity="0.7"/>
<path d="M307.8,388.2 L306.3,388.2 L305.1,387.9 L304.1,387.4 L303.2,386.8 L302.6,385.9 L302.1,384.9 L301.8,383.8 L301.8,382.5 L301.9,381.0 L302.4,379.3 L302.4,379.3 L303.8,379.5 L304.9,379.9 L305.9,380.4 L306.7,381.0 L307.3,381.8 L307.7,382.7 L307.9,383.8 L308.1,385.1 L308.0,386.5 L307.8,388.2Z" fill="#f7eadb" opacity="0.7"/>
<path d="M272.0,356.8 L270.7,355.6 L269.8,354.2 L269.1,352.7 L268.5,351.2 L268.2,349.7 L268.1,348.1 L268.3,346.5 L268.6,344.8 L269.2,343.1 L270.1,341.5 L270.1,341.5 L271.2,342.8 L272.0,344.2 L272.6,345.7 L273.0,347.1 L273.3,348.6 L273.4,350.1 L273.3,351.7 L273.1,353.3 L272.7,355.0 L272.0,356.8Z" fill="#f7eadb" opacity="0.7"/>
<path d="M323.6,416.4 L322.2,416.5 L321.0,416.2 L319.9,415.8 L318.8,415.2 L317.9,414.4 L317.1,413.5 L316.4,412.3 L315.8,411.1 L315.3,409.6 L315.0,407.9 L315.0,407.9 L316.4,408.0 L317.5,408.3 L318.6,408.7 L319.5,409.4 L320.4,410.1 L321.2,411.0 L321.9,412.1 L322.5,413.4 L323.1,414.8 L323.6,416.4Z" fill="#f7eadb" opacity="0.7"/>
<path d="M325.5,250.8 L327.2,248.5 L329.2,246.6 L331.4,244.9 L333.6,243.4 L336.0,242.2 L338.6,241.3 L341.2,240.6 L343.8,240.2 L346.5,240.1 L349.3,240.4 L349.3,240.4 L347.0,242.2 L344.8,243.7 L342.5,245.0 L340.2,246.2 L337.9,247.3 L335.6,248.2 L333.2,249.1 L330.7,249.8 L328.2,250.4 L325.5,250.8Z" fill="#f7eadb" opacity="0.7"/>
<path d="M265.7,312.6 L265.3,310.0 L265.4,307.5 L265.8,305.0 L266.5,302.6 L267.5,300.2 L268.7,298.0 L270.3,295.9 L272.1,293.9 L274.1,292.1 L276.6,290.5 L276.6,290.5 L276.4,292.9 L275.9,295.3 L275.3,297.5 L274.5,299.7 L273.5,301.9 L272.3,304.0 L270.9,306.2 L269.4,308.3 L267.7,310.4 L265.7,312.6Z" fill="#f7eadb" opacity="0.7"/>
<path d="M431.7,407.0 L431.3,409.5 L430.5,411.6 L429.6,413.4 L428.3,415.1 L426.9,416.4 L425.3,417.5 L423.5,418.3 L421.6,418.8 L419.5,419.0 L417.2,418.7 L417.2,418.7 L418.0,416.3 L419.0,414.3 L420.0,412.6 L421.2,411.1 L422.6,409.9 L424.0,408.8 L425.7,408.0 L427.5,407.4 L429.4,407.0 L431.7,407.0Z" fill="#f7eadb" opacity="0.7"/>
<path d="M413.0,237.3 L416.4,237.1 L419.7,237.5 L422.9,238.2 L425.9,239.1 L428.8,240.4 L431.5,242.0 L434.1,243.8 L436.4,245.9 L438.5,248.2 L440.3,250.9 L440.3,250.9 L436.9,250.0 L433.8,249.0 L430.8,248.0 L427.9,246.8 L425.2,245.6 L422.6,244.2 L420.1,242.7 L417.7,241.1 L415.3,239.3 L413.0,237.3Z" fill="#f7eadb" opacity="0.7"/>
<path d="M290.1,367.3 L288.6,366.8 L287.4,366.2 L286.4,365.5 L285.4,364.7 L284.7,363.8 L284.1,362.9 L283.6,361.9 L283.3,360.8 L283.2,359.6 L283.4,358.4 L283.4,358.4 L284.8,359.0 L285.9,359.8 L287.0,360.5 L287.8,361.3 L288.6,362.1 L289.2,363.0 L289.6,364.0 L289.9,365.0 L290.1,366.1 L290.1,367.3Z" fill="#f7eadb" opacity="0.7"/>
<path d="M324.0,260.4 L324.1,259.1 L324.5,258.0 L324.9,257.1 L325.5,256.3 L326.2,255.8 L327.0,255.4 L327.9,255.2 L328.9,255.2 L330.0,255.3 L331.2,255.8 L331.2,255.8 L330.9,257.2 L330.5,258.2 L330.0,259.1 L329.5,259.8 L328.8,260.3 L328.1,260.7 L327.2,260.9 L326.3,260.9 L325.2,260.8 L324.0,260.4Z" fill="#f7eadb" opacity="0.7"/>
<path d="M316.7,389.3 L314.7,389.8 L312.9,389.9 L311.3,389.8 L309.9,389.4 L308.7,388.8 L307.7,388.0 L306.9,387.0 L306.3,385.7 L306.0,384.3 L306.0,382.6 L306.0,382.6 L308.1,382.4 L309.8,382.4 L311.4,382.6 L312.7,383.0 L313.8,383.5 L314.8,384.3 L315.5,385.2 L316.1,386.3 L316.5,387.6 L316.7,389.3Z" fill="#f7eadb" opacity="0.7"/>
<path d="M404.4,248.6 L406.5,248.9 L408.5,249.5 L410.5,250.2 L412.3,251.2 L414.1,252.3 L415.7,253.5 L417.3,255.0 L418.7,256.5 L419.9,258.3 L421.0,260.2 L421.0,260.2 L419.0,259.5 L417.1,258.7 L415.4,257.8 L413.7,256.8 L412.0,255.7 L410.4,254.5 L408.9,253.2 L407.3,251.8 L405.8,250.3 L404.4,248.6Z" fill="#f7eadb" opacity="0.7"/>
<path d="M450.4,304.7 L451.8,305.8 L452.9,306.9 L453.8,308.1 L454.6,309.4 L455.2,310.7 L455.6,312.1 L455.9,313.5 L455.9,314.9 L455.8,316.3 L455.5,317.8 L455.5,317.8 L454.3,316.5 L453.3,315.3 L452.5,314.0 L451.7,312.8 L451.2,311.5 L450.8,310.2 L450.5,308.9 L450.3,307.6 L450.2,306.2 L450.4,304.7Z" fill="#f7eadb" opacity="0.7"/>
<path d="M373.0,369.2 L360.2,367.9 L348.2,362.4 L337.8,353.8 L329.9,342.5 L325.2,329.5 L323.9,315.7 L326.3,302.2 L332.0,289.9 L340.5,279.9 L351.5,273.2 L351.5,273.2 L348.4,284.8 L346.6,295.5 L346.2,305.6 L346.9,315.1 L348.5,324.3 L350.9,333.3 L354.4,342.2 L359.0,351.1 L365.2,360.0 L373.0,369.2Z" fill="#fbf4e8" opacity="0.9"/>
<clipPath id="nc3"><circle cx="394.9" cy="313.9" r="53.1"/></clipPath>
<circle cx="394.9" cy="313.9" r="53.1" fill="url(#gNuc)"/>
<g clip-path="url(#nc3)">
<path d="M384.3,255.5 L331.1,287.4 L336.4,367.0 L392.2,369.7 C378.9,340.5 410.8,329.9 408.2,303.3 C405.5,282.0 400.2,266.1 384.3,255.5Z" fill="#ecd4a6" opacity="0.93"/>
<ellipse cx="405.5" cy="306.0" rx="13.3" ry="20.2" fill="#e6d58f" opacity="0.75"/>
</g>
<line x1="385.7" y1="279.1" x2="377.6" y2="275.7" stroke="#a9cc95" stroke-width="1"/>
<line x1="389.6" y1="276.9" x2="376.5" y2="271.3" stroke="#a9cc95" stroke-width="1"/>
<line x1="384.4" y1="270.8" x2="384.4" y2="270.8" stroke="#a9cc95" stroke-width="1"/>
<line x1="379.2" y1="264.8" x2="392.4" y2="270.3" stroke="#a9cc95" stroke-width="1"/>
<line x1="383.1" y1="262.6" x2="391.2" y2="266.0" stroke="#a9cc95" stroke-width="1"/>
<line x1="392.6" y1="262.8" x2="384.5" y2="259.3" stroke="#a9cc95" stroke-width="1"/>
<line x1="396.5" y1="260.5" x2="383.3" y2="255.0" stroke="#a9cc95" stroke-width="1"/>
<line x1="391.3" y1="254.5" x2="391.3" y2="254.5" stroke="#a9cc95" stroke-width="1"/>
<line x1="386.1" y1="248.5" x2="399.2" y2="254.0" stroke="#a9cc95" stroke-width="1"/>
<line x1="389.9" y1="246.3" x2="398.1" y2="249.7" stroke="#a9cc95" stroke-width="1"/>
<line x1="399.4" y1="246.4" x2="391.3" y2="243.0" stroke="#a9cc95" stroke-width="1"/>
<line x1="403.3" y1="244.2" x2="390.2" y2="238.7" stroke="#a9cc95" stroke-width="1"/>
<line x1="398.1" y1="238.2" x2="398.1" y2="238.2" stroke="#a9cc95" stroke-width="1"/>
<line x1="392.9" y1="232.2" x2="406.1" y2="237.7" stroke="#a9cc95" stroke-width="1"/>
<line x1="396.8" y1="230.0" x2="404.9" y2="233.4" stroke="#a9cc95" stroke-width="1"/>
<line x1="406.3" y1="230.1" x2="398.1" y2="226.7" stroke="#a9cc95" stroke-width="1"/>
<line x1="410.2" y1="227.9" x2="397.0" y2="222.4" stroke="#a9cc95" stroke-width="1"/>
<line x1="404.9" y1="221.9" x2="404.9" y2="221.9" stroke="#a9cc95" stroke-width="1"/>
<line x1="399.7" y1="215.9" x2="412.9" y2="221.4" stroke="#a9cc95" stroke-width="1"/>
<path d="M381.0,279.0 L383.4,279.1 L385.5,279.1 L387.4,278.9 L388.7,278.6 L389.5,278.0 L389.7,277.2 L389.3,276.1 L388.3,274.8 L387.0,273.3 L385.3,271.7 L383.6,270.1 L382.0,268.5 L380.6,267.0 L379.6,265.7 L379.1,264.6 L379.3,263.7 L380.1,263.1 L381.4,262.8 L383.2,262.6 L385.4,262.6 L387.7,262.7 L390.1,262.8 L392.3,262.8 L394.1,262.6 L395.5,262.3 L396.3,261.7 L396.5,260.9 L396.2,259.8 L395.2,258.5 L393.9,257.1 L392.3,255.5 L390.5,253.8 L388.9,252.2 L387.5,250.7 L386.5,249.4 L386.0,248.3 L386.1,247.4 L386.8,246.8 L388.1,246.5 L389.9,246.3 L392.1,246.3 L394.4,246.4 L396.8,246.4 L399.0,246.5 L400.9,246.3 L402.3,246.0 L403.1,245.5 L403.4,244.6 L403.0,243.6 L402.1,242.3 L400.8,240.8 L399.2,239.2 L397.5,237.6 L395.8,236.0 L394.4,234.5 L393.4,233.2 L392.9,232.0 L392.9,231.2 L393.6,230.5 L394.9,230.2 L396.7,230.0 L398.8,230.0 L401.1,230.0 L403.5,230.1 L405.7,230.1 L407.6,230.0 L409.1,229.7 L410.0,229.2 L410.2,228.4 L409.9,227.3 L409.0,226.1 L407.7,224.6 L406.1,223.0 L404.4,221.4 L402.7,219.8 L401.3,218.3 L400.2,216.9 L399.7,215.8 L399.8,214.9 L400.4,214.2" fill="none" stroke="#7aa96b" stroke-width="3.2"/>
<path d="M381.0,279.0 L383.4,279.1 L385.5,279.1 L387.4,278.9 L388.7,278.6 L389.5,278.0 L389.7,277.2 L389.3,276.1 L388.3,274.8 L387.0,273.3 L385.3,271.7 L383.6,270.1 L382.0,268.5 L380.6,267.0 L379.6,265.7 L379.1,264.6 L379.3,263.7 L380.1,263.1 L381.4,262.8 L383.2,262.6 L385.4,262.6 L387.7,262.7 L390.1,262.8 L392.3,262.8 L394.1,262.6 L395.5,262.3 L396.3,261.7 L396.5,260.9 L396.2,259.8 L395.2,258.5 L393.9,257.1 L392.3,255.5 L390.5,253.8 L388.9,252.2 L387.5,250.7 L386.5,249.4 L386.0,248.3 L386.1,247.4 L386.8,246.8 L388.1,246.5 L389.9,246.3 L392.1,246.3 L394.4,246.4 L396.8,246.4 L399.0,246.5 L400.9,246.3 L402.3,246.0 L403.1,245.5 L403.4,244.6 L403.0,243.6 L402.1,242.3 L400.8,240.8 L399.2,239.2 L397.5,237.6 L395.8,236.0 L394.4,234.5 L393.4,233.2 L392.9,232.0 L392.9,231.2 L393.6,230.5 L394.9,230.2 L396.7,230.0 L398.8,230.0 L401.1,230.0 L403.5,230.1 L405.7,230.1 L407.6,230.0 L409.1,229.7 L410.0,229.2 L410.2,228.4 L409.9,227.3 L409.0,226.1 L407.7,224.6 L406.1,223.0 L404.4,221.4 L402.7,219.8 L401.3,218.3 L400.2,216.9 L399.7,215.8 L399.8,214.9 L400.4,214.2" fill="none" stroke="#dcecc9" stroke-width="1.4"/>
<path d="M386.6,281.3 L385.5,280.0 L384.0,278.4 L382.3,276.8 L380.6,275.2 L379.0,273.6 L377.8,272.2 L377.0,270.9 L376.7,269.9 L377.1,269.2 L378.1,268.7 L379.6,268.4 L381.6,268.3 L383.8,268.3 L386.2,268.4 L388.5,268.5 L390.6,268.5 L392.3,268.3 L393.5,267.8 L394.1,267.2 L394.1,266.3 L393.5,265.1 L392.4,263.7 L390.9,262.2 L389.2,260.6 L387.5,258.9 L385.9,257.4 L384.7,255.9 L383.8,254.7 L383.6,253.7 L383.9,252.9 L384.9,252.4 L386.4,252.1 L388.3,252.0 L390.5,252.0 L392.9,252.1 L395.3,252.2 L397.4,252.1 L399.1,252.0 L400.3,251.5 L400.9,250.9 L400.9,250.0 L400.4,248.8 L399.3,247.5 L397.8,246.0 L396.2,244.4 L394.4,242.7 L392.8,241.1 L391.6,239.7 L390.7,238.4 L390.4,237.4 L390.7,236.6 L391.6,236.1 L393.1,235.8 L395.0,235.7 L397.3,235.7 L399.6,235.8 L402.0,235.9 L404.1,235.8 L405.8,235.6 L407.1,235.3 L407.7,234.6 L407.8,233.7 L407.3,232.6 L406.2,231.2 L404.8,229.7 L403.1,228.1 L401.4,226.5 L399.8,224.9 L398.5,223.4 L397.6,222.2 L397.3,221.1 L397.5,220.3 L398.4,219.8 L399.9,219.5 L401.8,219.4 L404.0,219.4 L406.4,219.5 L408.7,219.5 L410.8,219.5 L412.6,219.3" fill="none" stroke="#7aa96b" stroke-width="3.2"/>
<path d="M386.6,281.3 L385.5,280.0 L384.0,278.4 L382.3,276.8 L380.6,275.2 L379.0,273.6 L377.8,272.2 L377.0,270.9 L376.7,269.9 L377.1,269.2 L378.1,268.7 L379.6,268.4 L381.6,268.3 L383.8,268.3 L386.2,268.4 L388.5,268.5 L390.6,268.5 L392.3,268.3 L393.5,267.8 L394.1,267.2 L394.1,266.3 L393.5,265.1 L392.4,263.7 L390.9,262.2 L389.2,260.6 L387.5,258.9 L385.9,257.4 L384.7,255.9 L383.8,254.7 L383.6,253.7 L383.9,252.9 L384.9,252.4 L386.4,252.1 L388.3,252.0 L390.5,252.0 L392.9,252.1 L395.3,252.2 L397.4,252.1 L399.1,252.0 L400.3,251.5 L400.9,250.9 L400.9,250.0 L400.4,248.8 L399.3,247.5 L397.8,246.0 L396.2,244.4 L394.4,242.7 L392.8,241.1 L391.6,239.7 L390.7,238.4 L390.4,237.4 L390.7,236.6 L391.6,236.1 L393.1,235.8 L395.0,235.7 L397.3,235.7 L399.6,235.8 L402.0,235.9 L404.1,235.8 L405.8,235.6 L407.1,235.3 L407.7,234.6 L407.8,233.7 L407.3,232.6 L406.2,231.2 L404.8,229.7 L403.1,228.1 L401.4,226.5 L399.8,224.9 L398.5,223.4 L397.6,222.2 L397.3,221.1 L397.5,220.3 L398.4,219.8 L399.9,219.5 L401.8,219.4 L404.0,219.4 L406.4,219.5 L408.7,219.5 L410.8,219.5 L412.6,219.3" fill="none" stroke="#dcecc9" stroke-width="1.4"/>
<g transform="translate(344,200) rotate(0)"><path d="M-5.5,-10.0 L-1.5,-14.0 L1.5,-14.0 L5.5,-10.0 L5.5,10.0 L1.5,14.0 L-1.5,14.0 L-5.5,10.0Z" fill="#d8e98b" stroke="#a6c24e" stroke-width="2.2" stroke-linejoin="round"/></g>
<g transform="translate(313,210) rotate(-25)"><path d="M-5.5,-10.0 L-1.5,-14.0 L1.5,-14.0 L5.5,-10.0 L5.5,10.0 L1.5,14.0 L-1.5,14.0 L-5.5,10.0Z" fill="#6d9fd1" stroke="#2f6ba6" stroke-width="2.2" stroke-linejoin="round"/></g>
<g transform="translate(290,229) rotate(-42)"><path d="M-5.5,-10.0 L-1.5,-14.0 L1.5,-14.0 L5.5,-10.0 L5.5,10.0 L1.5,14.0 L-1.5,14.0 L-5.5,10.0Z" fill="#eab4a4" stroke="#8a2f2f" stroke-width="2.2" stroke-linejoin="round"/></g>
<circle cx="470.7" cy="212.8" r="11.5" fill="#fdfdfb" stroke="#2c736d" stroke-width="2.6"/>
<circle cx="483.3" cy="239.3" r="9" fill="#fdfdfb" stroke="#2c736d" stroke-width="2.6"/>
<circle cx="495" cy="261" r="8" fill="#fdfdfb" stroke="#2c736d" stroke-width="2.6"/>
<circle cx="506.5" cy="287.5" r="11.5" fill="#fdfdfb" stroke="#2c736d" stroke-width="2.6"/>
<circle cx="432" cy="288" r="8.5" fill="#a9cf95" stroke="#79a968" stroke-width="1.6"/>
<g transform="translate(276,284) rotate(15) scale(0.95)"><path d="M-7,6 L7,6 L0,-7Z" fill="#9a9e9a" stroke="#111" stroke-width="2.6" stroke-linejoin="miter"/></g>
<g transform="translate(456,149) rotate(75) scale(0.95)"><path d="M-7,6 L7,6 L0,-7Z" fill="#9a9e9a" stroke="#111" stroke-width="2.6" stroke-linejoin="miter"/></g>
<text x="343.0" y="144" font-size="23" fill="#2c736d" stroke="#2c736d" stroke-width="0.8" textLength="58.7" lengthAdjust="spacingAndGlyphs" letter-spacing="0.92" text-anchor="start" >MHC</text>
<text x="465.5" y="136.5" font-size="23" fill="#1e1e1e" stroke="#1e1e1e" stroke-width="0.8" textLength="149.6" lengthAdjust="spacingAndGlyphs" letter-spacing="0.92" text-anchor="start" >Toxin decoy</text>
<text x="269.0" y="183" font-size="23" fill="#1e1e1e" stroke="#1e1e1e" stroke-width="0.8" textLength="65.1" lengthAdjust="spacingAndGlyphs" letter-spacing="0.92" text-anchor="start" >CD63</text>
<text x="229.5" y="209.5" font-size="23" fill="#1e1e1e" stroke="#1e1e1e" stroke-width="0.8" textLength="63.6" lengthAdjust="spacingAndGlyphs" letter-spacing="0.92" text-anchor="start" >CD81</text>
<text x="216.0" y="236.7" font-size="23" fill="#1e1e1e" stroke="#1e1e1e" stroke-width="0.8" textLength="51.1" lengthAdjust="spacingAndGlyphs" letter-spacing="0.92" text-anchor="start" >CD9</text>
<text x="465.5" y="184.6" font-size="23" fill="#2c736d" stroke="#2c736d" stroke-width="0.8" textLength="105.2" lengthAdjust="spacingAndGlyphs" letter-spacing="0.92" text-anchor="start" >ADAM10</text>
<text x="494.0" y="209.5" font-size="23" fill="#2c736d" stroke="#2c736d" stroke-width="0.8" textLength="66.7" lengthAdjust="spacingAndGlyphs" letter-spacing="0.92" text-anchor="start" >CCL2</text>
<text x="505.5" y="247.6" font-size="23" fill="#2c736d" stroke="#2c736d" stroke-width="0.8" textLength="61.6" lengthAdjust="spacingAndGlyphs" letter-spacing="0.92" text-anchor="start" >IL-33</text>
<text x="512.0" y="267.5" font-size="23" fill="#2c736d" stroke="#2c736d" stroke-width="0.8" textLength="73.6" lengthAdjust="spacingAndGlyphs" letter-spacing="0.92" text-anchor="start" >CSF-1</text>
<text x="528.5" y="295.7" font-size="23" fill="#2c736d" stroke="#2c736d" stroke-width="0.8" textLength="75.3" lengthAdjust="spacingAndGlyphs" letter-spacing="0.92" text-anchor="start" >DAMP</text>
<text x="553.5" y="339" font-size="23" fill="#2c736d" stroke="#2c736d" stroke-width="0.8" textLength="53.6" lengthAdjust="spacingAndGlyphs" letter-spacing="0.92" text-anchor="start" >BCR</text>
<text x="151.5" y="292.4" font-size="23" fill="#2c736d" stroke="#2c736d" stroke-width="0.8" textLength="52.6" lengthAdjust="spacingAndGlyphs" letter-spacing="0.92" text-anchor="start" >DNA</text>
<text x="326.0" y="254.3" font-size="23" fill="#2c736d" stroke="#2c736d" stroke-width="0.8" textLength="53.9" lengthAdjust="spacingAndGlyphs" letter-spacing="0.92" text-anchor="start" >DNA</text>
<text x="279.0" y="279" font-size="23" fill="#2c736d" stroke="#2c736d" stroke-width="0.8" textLength="54.1" lengthAdjust="spacingAndGlyphs" letter-spacing="0.92" text-anchor="start" >Viral</text>
<text x="279.0" y="312.3" font-size="23" fill="#2c736d" stroke="#2c736d" stroke-width="0.8" textLength="61.1" lengthAdjust="spacingAndGlyphs" letter-spacing="0.92" text-anchor="start" >toxin</text>
<text x="362.0" y="320" font-size="23" fill="#2c736d" stroke="#2c736d" stroke-width="0.8" textLength="120.7" lengthAdjust="spacingAndGlyphs" letter-spacing="0.92" text-anchor="start" >Cytokines</text>
<text x="267.0" y="363.7" font-size="23" fill="#2c736d" stroke="#2c736d" stroke-width="0.8" textLength="198.5" lengthAdjust="spacingAndGlyphs" letter-spacing="0.92" text-anchor="start" >Unshielded RNA</text>
<text x="287.0" y="394.5" font-size="23" fill="#2c736d" stroke="#2c736d" stroke-width="0.8" textLength="53.1" lengthAdjust="spacingAndGlyphs" letter-spacing="0.92" text-anchor="start" >RNA</text>
<text x="375.0" y="394.5" font-size="23" fill="#2c736d" stroke="#2c736d" stroke-width="0.8" textLength="62.9" lengthAdjust="spacingAndGlyphs" letter-spacing="0.92" text-anchor="start" >tRNA</text>
<text x="322.0" y="424" font-size="23" fill="#2c736d" stroke="#2c736d" stroke-width="0.8" textLength="83.1" lengthAdjust="spacingAndGlyphs" letter-spacing="0.92" text-anchor="start" >miRNA</text>
<text x="132.0" y="375.8" font-size="23" fill="#2c736d" stroke="#2c736d" stroke-width="0.8" textLength="67.1" lengthAdjust="spacingAndGlyphs" letter-spacing="0.92" text-anchor="start" >CD59</text>
<text x="137.0" y="403" font-size="23" fill="#2c736d" stroke="#2c736d" stroke-width="0.8" textLength="65.1" lengthAdjust="spacingAndGlyphs" letter-spacing="0.92" text-anchor="start" >CD55</text>
<text x="158.0" y="431" font-size="23" fill="#2c736d" stroke="#2c736d" stroke-width="0.8" textLength="64.1" lengthAdjust="spacingAndGlyphs" letter-spacing="0.92" text-anchor="start" >CD47</text>
<text x="182.0" y="485.3" font-size="23" fill="#2c736d" stroke="#2c736d" stroke-width="0.8" textLength="65.1" lengthAdjust="spacingAndGlyphs" letter-spacing="0.92" text-anchor="start" >CD39</text>
<text x="240.0" y="523.4" font-size="23" fill="#2c736d" stroke="#2c736d" stroke-width="0.8" textLength="65.1" lengthAdjust="spacingAndGlyphs" letter-spacing="0.92" text-anchor="start" >CD73</text>
<text x="322.0" y="532.4" font-size="23" fill="#2c736d" stroke="#2c736d" stroke-width="0.8" textLength="73.5" lengthAdjust="spacingAndGlyphs" letter-spacing="0.92" text-anchor="start" >PD-L1</text>
<text x="414.0" y="541.7" font-size="23" fill="#2c736d" stroke="#2c736d" stroke-width="0.8" textLength="73.7" lengthAdjust="spacingAndGlyphs" letter-spacing="0.92" text-anchor="start" >TRAIL</text>
<text x="466.5" y="497.6" font-size="23" fill="#2c736d" stroke="#2c736d" stroke-width="0.8" textLength="57.6" lengthAdjust="spacingAndGlyphs" letter-spacing="0.92" text-anchor="start" >FasL</text>
<text x="523.5" y="451" font-size="23" fill="#2c736d" stroke="#2c736d" stroke-width="0.8" textLength="81.3" lengthAdjust="spacingAndGlyphs" letter-spacing="0.92" text-anchor="start" >CD40L</text>
<line x1="1159" y1="216" x2="1159" y2="186" stroke="#79a968" stroke-width="8" stroke-linecap="butt"/>
<line x1="1159" y1="216" x2="1159" y2="186" stroke="#a9cf95" stroke-width="5" stroke-linecap="butt"/>
<path d="M1138.0,170 L1144.0,170 L1144.0,181 L1170.0,181 L1170.0,170 L1176.0,170 L1176.0,187 L1138.0,187Z" fill="#a9cf95" stroke="#79a968" stroke-width="1.6" stroke-linejoin="round"/>
<rect x="1147" y="171" width="17" height="8" fill="#8e8e8e" stroke="#222" stroke-width="1.5"/>
<path d="M1225,212 L1235,232 L1252,226" stroke="#79a968" stroke-width="10" stroke-linecap="round" stroke-linejoin="round" fill="none"/>
<path d="M1225,212 L1235,232 L1252,226" stroke="#a9cf95" stroke-width="7" stroke-linecap="round" stroke-linejoin="round" fill="none"/>
<g transform="translate(1273,272) rotate(-30)"><rect x="-5" y="-8" width="10" height="16" fill="#8a8a8a" stroke="#2a2a2a" stroke-width="1.6"/></g>
<line x1="1281" y1="318" x2="1310" y2="312" stroke="#79a968" stroke-width="7" stroke-linecap="butt"/>
<line x1="1281" y1="318" x2="1310" y2="312" stroke="#a9cf95" stroke-width="4" stroke-linecap="butt"/>
<path d="M1306,312 L1325,300 L1325,328Z" fill="#a9cf95" stroke="#79a968" stroke-width="1.6" stroke-linejoin="round"/>
<g transform="translate(1290,372) rotate(12)"><rect x="-7" y="-15" width="14" height="30" fill="#a9cf95" stroke="#79a968" stroke-width="1.6"/></g>
<line x1="1241" y1="444" x2="1256" y2="457" stroke="#79a968" stroke-width="7" stroke-linecap="butt"/>
<line x1="1241" y1="444" x2="1256" y2="457" stroke="#a9cf95" stroke-width="4" stroke-linecap="butt"/>
<path d="M1246,470 Q1262,452 1263,446" stroke="#79a968" stroke-width="10" stroke-linecap="round" fill="none"/>
<path d="M1246,470 Q1262,452 1263,446" stroke="#a9cf95" stroke-width="7" stroke-linecap="round" fill="none"/>
<line x1="1194" y1="477" x2="1201" y2="493" stroke="#79a968" stroke-width="6" stroke-linecap="butt"/>
<line x1="1194" y1="477" x2="1201" y2="493" stroke="#a9cf95" stroke-width="3" stroke-linecap="butt"/>
<path d="M1194,493 L1208,490 L1210,503 L1196,507Z" fill="#a9cf95" stroke="#79a968" stroke-width="1.6" stroke-linejoin="round"/>
<line x1="1175" y1="480" x2="1179" y2="508" stroke="#79a968" stroke-width="6" stroke-linecap="butt"/>
<line x1="1175" y1="480" x2="1179" y2="508" stroke="#a9cf95" stroke-width="3" stroke-linecap="butt"/>
<circle cx="1178" cy="516" r="13" fill="#a9cf95" stroke="#79a968" stroke-width="1.6"/>
<line x1="1148" y1="484" x2="1148" y2="508" stroke="#79a968" stroke-width="6" stroke-linecap="butt"/>
<line x1="1148" y1="484" x2="1148" y2="508" stroke="#a9cf95" stroke-width="3" stroke-linecap="butt"/>
<path d="M1136,506 L1161,506 L1161,512 L1136,512Z" fill="#a9cf95" stroke="#79a968" stroke-width="1.6" stroke-linejoin="round"/>
<line x1="1129" y1="482" x2="1127" y2="500" stroke="#79a968" stroke-width="6" stroke-linecap="butt"/>
<line x1="1129" y1="482" x2="1127" y2="500" stroke="#a9cf95" stroke-width="3" stroke-linecap="butt"/>
<g transform="translate(1122,505) rotate(45)"><path d="M-3.5,-9 L3.5,-9 L3.5,-3.5 L9,-3.5 L9,3.5 L3.5,3.5 L3.5,9 L-3.5,9 L-3.5,3.5 L-9,3.5 L-9,-3.5 L-3.5,-3.5Z" fill="#a9cf95" stroke="#79a968" stroke-width="1.4"/></g>
<line x1="1078" y1="455" x2="1063" y2="470" stroke="#79a968" stroke-width="6" stroke-linecap="butt"/>
<line x1="1078" y1="455" x2="1063" y2="470" stroke="#a9cf95" stroke-width="3" stroke-linecap="butt"/>
<g transform="translate(1057,477)"><path d="M-4,-12 L4,-12 L4,-4 L12,-4 L12,4 L4,4 L4,12 L-4,12 L-4,4 L-12,4 L-12,-4 L-4,-4Z" fill="#a9cf95" stroke="#79a968" stroke-width="1.5"/></g>
<line x1="1041" y1="411" x2="1018" y2="425" stroke="#79a968" stroke-width="6" stroke-linecap="butt"/>
<line x1="1041" y1="411" x2="1018" y2="425" stroke="#a9cf95" stroke-width="3" stroke-linecap="butt"/>
<path d="M990,424 L998,420 L1000,425 L1008,420 L1012,428 L1022,428 L1014,432 L1008,430 L1010,436 L1002,432 L1002,437 L995,430Z" fill="#a9cf95" stroke="#79a968" stroke-width="1.3"/>
<path d="M1004,436 L1012,432 L1016,440 L1022,434 L1016,444 L1012,441 L1006,447Z" fill="#a9cf95" stroke="#79a968" stroke-width="1.3"/>
<line x1="1022" y1="371" x2="990" y2="374" stroke="#79a968" stroke-width="6" stroke-linecap="butt"/>
<line x1="1022" y1="371" x2="990" y2="374" stroke="#a9cf95" stroke-width="3" stroke-linecap="butt"/>
<ellipse cx="987.5" cy="375.5" rx="9" ry="10" fill="#fdfdfb" stroke="#79a968" stroke-width="1.8"/>
<path d="M1024,334 L1000,332 L985,322 M1000,332 L986,344" stroke="#79a968" stroke-width="7" stroke-linecap="butt" fill="none"/>
<path d="M1024,334 L1000,332 L985,322 M1000,332 L986,344" stroke="#a9cf95" stroke-width="4" stroke-linecap="butt" fill="none"/>
<path d="M1284.8,349.0 L1284.6,356.6 L1284.2,364.2 L1283.2,371.7 L1281.6,379.1 L1279.2,386.3 L1276.0,393.2 L1273.7,400.4 L1271.4,407.7 L1268.0,414.5 L1263.8,420.8 L1258.9,426.7 L1254.2,432.6 L1249.4,438.4 L1244.4,444.1 L1238.7,449.1 L1232.4,453.3 L1226.2,457.5 L1220.2,462.1 L1214.0,466.5 L1207.0,469.5 L1199.8,471.7 L1192.6,474.1 L1185.3,475.8 L1178.0,477.2 L1170.5,477.9 L1163.1,478.7 L1155.7,479.8 L1148.3,479.5 L1140.8,479.2 L1133.2,479.6 L1125.8,478.5 L1118.5,476.5 L1111.1,474.8 L1103.9,472.5 L1097.1,469.3 L1090.2,466.1 L1083.2,463.1 L1076.5,459.4 L1070.2,455.1 L1064.5,450.0 L1059.5,444.2 L1054.6,438.4 L1049.9,432.4 L1045.6,426.3 L1041.5,420.0 L1037.3,413.8 L1033.7,407.2 L1030.9,400.2 L1027.9,393.3 L1025.7,386.1 L1023.8,378.8 L1021.8,371.5 L1021.0,364.0 L1020.7,356.5 L1020.2,349.0 L1020.4,341.5 L1021.1,334.0 L1022.0,326.5 L1023.6,319.2 L1025.1,311.7 L1027.4,304.6 L1030.8,297.8 L1033.8,290.9 L1037.3,284.2 L1041.6,278.1 L1046.5,272.3 L1051.3,266.7 L1055.6,260.5 L1060.3,254.6 L1065.9,249.7 L1071.4,244.5 L1077.1,239.4 L1083.6,235.5 L1090.5,232.4 L1097.3,229.2 L1104.0,225.7 L1111.0,222.9 L1118.3,220.9 L1125.6,218.5 L1132.9,216.5 L1140.6,216.0 L1148.2,216.1 L1155.8,216.0 L1163.3,216.9 L1170.8,218.0 L1178.4,218.6 L1185.8,220.3 L1193.0,222.8 L1200.1,225.4 L1206.9,228.9 L1213.2,233.0 L1219.5,237.0 L1225.5,241.4 L1231.4,246.1 L1237.4,250.4 L1243.7,254.7 L1249.1,259.9 L1253.2,266.2 L1257.8,272.1 L1263.0,277.7 L1267.0,284.1 L1270.0,291.0 L1273.1,297.8 L1276.5,304.6 L1279.3,311.6 L1280.9,319.0 L1281.8,326.5 L1282.9,334.0 L1284.4,341.4Z" fill="url(#gCell)" stroke="#c6712d" stroke-width="2.4"/>
<path d="M1220.0,283.5 L1224.2,284.6 L1227.8,286.4 L1231.1,288.7 L1233.9,291.3 L1236.3,294.3 L1238.1,297.7 L1239.5,301.3 L1240.3,305.1 L1240.5,309.1 L1239.9,313.4 L1239.9,313.4 L1236.4,311.0 L1233.5,308.5 L1230.8,306.0 L1228.5,303.4 L1226.5,300.6 L1224.8,297.7 L1223.3,294.6 L1222.0,291.3 L1220.8,287.7 L1220.0,283.5Z" fill="#e4bb80" opacity="0.75"/>
<path d="M1068.9,309.6 L1069.9,306.0 L1071.4,302.6 L1073.2,299.3 L1075.3,296.2 L1077.6,293.3 L1080.3,290.6 L1083.2,288.3 L1086.3,286.1 L1089.5,284.3 L1093.1,282.9 L1093.1,282.9 L1091.0,285.8 L1088.8,288.5 L1086.5,291.2 L1084.2,293.9 L1081.9,296.5 L1079.5,299.1 L1077.0,301.7 L1074.4,304.3 L1071.8,307.0 L1068.9,309.6Z" fill="#e8c28b" opacity="0.75"/>
<path d="M1056.9,421.8 L1052.7,419.0 L1049.0,415.6 L1045.7,411.8 L1042.8,407.8 L1040.4,403.4 L1038.5,398.9 L1037.0,394.1 L1036.1,389.2 L1035.8,384.2 L1036.1,379.1 L1036.1,379.1 L1039.1,383.2 L1041.7,387.3 L1044.1,391.3 L1046.3,395.4 L1048.4,399.5 L1050.3,403.7 L1052.2,408.0 L1053.9,412.4 L1055.5,416.9 L1056.9,421.8Z" fill="#e4bb80" opacity="0.75"/>
<path d="M1227.3,270.7 L1231.1,272.3 L1234.6,274.4 L1237.9,276.8 L1240.9,279.4 L1243.7,282.3 L1246.3,285.4 L1248.5,288.8 L1250.5,292.3 L1252.2,295.9 L1253.4,299.8 L1253.4,299.8 L1250.3,296.9 L1247.4,294.1 L1244.6,291.2 L1241.9,288.4 L1239.3,285.5 L1236.8,282.7 L1234.3,279.8 L1231.9,276.8 L1229.6,273.8 L1227.3,270.7Z" fill="#e4bb80" opacity="0.75"/>
<path d="M1193.6,255.7 L1196.7,253.9 L1199.7,252.7 L1202.5,252.0 L1205.2,251.8 L1207.7,252.0 L1209.9,252.6 L1211.9,253.7 L1213.7,255.1 L1215.2,257.0 L1216.2,259.5 L1216.2,259.5 L1212.7,260.7 L1209.6,261.4 L1206.8,261.9 L1204.3,262.0 L1202.0,261.9 L1199.9,261.4 L1198.1,260.6 L1196.4,259.4 L1194.8,257.9 L1193.6,255.7Z" fill="#ebc894" opacity="0.75"/>
<path d="M1082.3,435.1 L1078.4,433.8 L1074.8,432.0 L1071.4,430.0 L1068.2,427.7 L1065.2,425.1 L1062.4,422.2 L1059.9,419.2 L1057.7,415.9 L1055.7,412.4 L1054.2,408.8 L1054.2,408.8 L1057.5,411.3 L1060.6,413.8 L1063.6,416.4 L1066.5,418.9 L1069.3,421.5 L1072.0,424.1 L1074.7,426.7 L1077.3,429.4 L1079.8,432.2 L1082.3,435.1Z" fill="#ebc894" opacity="0.75"/>
<path d="M1265.1,317.2 L1268.2,320.1 L1270.7,323.4 L1272.7,326.8 L1274.3,330.4 L1275.5,334.1 L1276.2,337.8 L1276.4,341.7 L1276.2,345.5 L1275.5,349.3 L1274.1,353.1 L1274.1,353.1 L1272.0,349.3 L1270.3,345.7 L1268.8,342.1 L1267.5,338.6 L1266.5,335.1 L1265.7,331.7 L1265.2,328.2 L1264.9,324.6 L1264.8,321.0 L1265.1,317.2Z" fill="#e4bb80" opacity="0.75"/>
<path d="M1047.6,338.8 L1045.8,333.9 L1044.9,329.0 L1044.6,324.0 L1044.9,319.1 L1045.8,314.3 L1047.3,309.6 L1049.4,305.2 L1052.0,301.0 L1055.1,297.1 L1058.9,293.8 L1058.9,293.8 L1058.7,299.1 L1058.1,303.9 L1057.4,308.6 L1056.6,313.1 L1055.7,317.5 L1054.5,321.7 L1053.1,326.0 L1051.6,330.2 L1049.8,334.5 L1047.6,338.8Z" fill="#ebc894" opacity="0.75"/>
<path d="M1221.2,417.6 L1220.9,420.2 L1220.1,422.6 L1219.2,424.8 L1218.0,426.8 L1216.7,428.6 L1215.1,430.2 L1213.4,431.6 L1211.5,432.8 L1209.4,433.7 L1207.2,434.3 L1207.2,434.3 L1208.1,431.7 L1209.2,429.5 L1210.3,427.5 L1211.5,425.6 L1212.8,423.9 L1214.2,422.3 L1215.8,420.9 L1217.4,419.6 L1219.2,418.5 L1221.2,417.6Z" fill="#e8c28b" opacity="0.75"/>
<path d="M1041.9,311.6 L1041.3,308.3 L1041.2,305.1 L1041.5,302.0 L1042.1,299.0 L1043.0,296.0 L1044.2,293.3 L1045.7,290.7 L1047.5,288.2 L1049.5,286.0 L1052.0,284.0 L1052.0,284.0 L1051.8,287.4 L1051.4,290.5 L1050.8,293.4 L1050.0,296.3 L1049.1,299.0 L1048.1,301.7 L1046.8,304.2 L1045.4,306.7 L1043.8,309.2 L1041.9,311.6Z" fill="#ebc894" opacity="0.75"/>
<path d="M1067.9,322.9 L1067.8,319.9 L1068.2,317.0 L1068.8,314.1 L1069.8,311.4 L1071.0,308.7 L1072.5,306.2 L1074.2,303.9 L1076.2,301.7 L1078.4,299.8 L1080.9,298.1 L1080.9,298.1 L1080.2,300.9 L1079.2,303.6 L1078.2,306.2 L1077.1,308.7 L1075.9,311.2 L1074.6,313.6 L1073.1,315.9 L1071.5,318.3 L1069.8,320.6 L1067.9,322.9Z" fill="#ebc894" opacity="0.75"/>
<path d="M1170.0,249.4 L1171.9,248.8 L1173.8,248.5 L1175.6,248.5 L1177.5,248.6 L1179.3,248.8 L1181.0,249.3 L1182.7,250.0 L1184.3,250.9 L1185.9,251.9 L1187.3,253.2 L1187.3,253.2 L1185.4,253.5 L1183.5,253.5 L1181.7,253.4 L1179.9,253.3 L1178.2,253.0 L1176.5,252.5 L1174.8,252.0 L1173.2,251.3 L1171.5,250.5 L1170.0,249.4Z" fill="#ebc894" opacity="0.75"/>
<path d="M1077.0,444.9 L1074.3,444.2 L1071.9,443.0 L1069.7,441.7 L1067.6,440.2 L1065.7,438.4 L1064.0,436.5 L1062.5,434.3 L1061.2,432.0 L1060.1,429.5 L1059.4,426.8 L1059.4,426.8 L1061.9,428.0 L1064.1,429.4 L1066.1,430.9 L1068.0,432.4 L1069.8,434.2 L1071.4,436.0 L1073.0,438.0 L1074.4,440.1 L1075.8,442.4 L1077.0,444.9Z" fill="#e4bb80" opacity="0.75"/>
<path d="M1250.8,405.6 L1249.6,410.5 L1247.7,415.2 L1245.3,419.6 L1242.5,423.7 L1239.4,427.5 L1235.8,431.0 L1231.9,434.0 L1227.6,436.7 L1223.2,439.0 L1218.3,440.6 L1218.3,440.6 L1221.2,436.5 L1224.3,432.8 L1227.3,429.2 L1230.3,425.6 L1233.4,422.2 L1236.7,418.8 L1240.0,415.5 L1243.4,412.2 L1246.9,408.9 L1250.8,405.6Z" fill="#e8c28b" opacity="0.75"/>
<path d="M1092.5,291.1 L1094.0,288.3 L1096.0,285.7 L1098.1,283.4 L1100.6,281.4 L1103.2,279.7 L1106.0,278.2 L1109.0,277.1 L1112.1,276.3 L1115.3,275.9 L1118.7,275.9 L1118.7,275.9 L1116.4,278.1 L1114.1,279.9 L1111.7,281.7 L1109.3,283.3 L1106.8,284.8 L1104.2,286.2 L1101.5,287.5 L1098.7,288.8 L1095.7,290.0 L1092.5,291.1Z" fill="#e8c28b" opacity="0.75"/>
<path d="M1221.2,414.2 L1221.1,418.8 L1220.2,423.0 L1218.8,426.8 L1217.0,430.3 L1214.7,433.4 L1212.1,436.0 L1209.0,438.2 L1205.7,439.8 L1202.1,441.0 L1198.2,441.3 L1198.2,441.3 L1199.9,436.9 L1201.7,433.1 L1203.6,429.6 L1205.5,426.5 L1207.6,423.8 L1209.8,421.3 L1212.2,419.1 L1214.9,417.2 L1217.8,415.5 L1221.2,414.2Z" fill="#e8c28b" opacity="0.75"/>
<path d="M1195.7,268.9 L1198.0,267.7 L1200.1,267.2 L1201.9,267.0 L1203.6,267.3 L1205.0,267.9 L1206.2,268.8 L1207.2,270.2 L1207.9,271.8 L1208.3,273.8 L1208.2,276.3 L1208.2,276.3 L1205.8,277.1 L1203.8,277.5 L1202.0,277.6 L1200.5,277.3 L1199.2,276.8 L1198.1,275.9 L1197.2,274.7 L1196.5,273.2 L1196.0,271.3 L1195.7,268.9Z" fill="#ebc894" opacity="0.75"/>
<path d="M1073.7,363.4 L1071.5,362.4 L1069.9,361.2 L1068.7,359.9 L1067.9,358.5 L1067.4,357.1 L1067.4,355.6 L1067.7,354.1 L1068.4,352.6 L1069.5,351.1 L1071.2,349.6 L1071.2,349.6 L1073.2,351.0 L1074.6,352.3 L1075.7,353.6 L1076.5,354.9 L1076.9,356.2 L1077.0,357.5 L1076.7,358.8 L1076.1,360.3 L1075.2,361.8 L1073.7,363.4Z" fill="#e8c28b" opacity="0.75"/>
<path d="M1258.4,383.0 L1259.3,388.0 L1259.2,392.9 L1258.5,397.7 L1257.3,402.4 L1255.5,406.8 L1253.2,410.9 L1250.4,414.7 L1247.0,418.2 L1243.3,421.2 L1238.9,423.6 L1238.9,423.6 L1240.0,418.6 L1241.3,414.0 L1242.7,409.6 L1244.3,405.5 L1246.1,401.5 L1248.0,397.7 L1250.2,393.9 L1252.6,390.2 L1255.3,386.6 L1258.4,383.0Z" fill="#e8c28b" opacity="0.75"/>
<path d="M1096.4,426.0 L1093.8,426.6 L1091.5,426.6 L1089.4,426.3 L1087.5,425.7 L1085.9,424.9 L1084.5,423.7 L1083.4,422.2 L1082.5,420.4 L1081.9,418.5 L1081.8,416.1 L1081.8,416.1 L1084.4,415.9 L1086.7,416.2 L1088.6,416.5 L1090.4,417.1 L1091.9,418.0 L1093.2,419.0 L1094.3,420.3 L1095.2,421.9 L1095.9,423.7 L1096.4,426.0Z" fill="#e4bb80" opacity="0.75"/>
<path d="M1222.4,404.8 L1221.9,409.4 L1220.6,413.5 L1218.9,417.4 L1216.6,421.0 L1214.0,424.1 L1210.9,426.9 L1207.5,429.2 L1203.8,431.0 L1199.8,432.3 L1195.6,432.9 L1195.6,432.9 L1197.8,428.8 L1200.1,425.2 L1202.5,421.9 L1204.9,418.9 L1207.3,416.1 L1209.9,413.5 L1212.7,411.1 L1215.6,408.9 L1218.8,406.7 L1222.4,404.8Z" fill="#e8c28b" opacity="0.75"/>
<path d="M1206.1,242.8 L1208.1,242.5 L1209.7,242.7 L1211.3,243.2 L1212.6,244.1 L1213.8,245.2 L1214.7,246.8 L1215.4,248.6 L1215.9,250.7 L1216.2,253.1 L1216.0,256.0 L1216.0,256.0 L1214.1,256.2 L1212.5,255.9 L1211.1,255.3 L1209.9,254.5 L1208.9,253.4 L1208.1,251.9 L1207.4,250.2 L1206.8,248.1 L1206.3,245.8 L1206.1,242.8Z" fill="#ebc894" opacity="0.75"/>
<path d="M1147.4,265.9 L1150.6,263.9 L1154.0,262.7 L1157.5,262.0 L1161.0,261.8 L1164.4,262.1 L1167.8,263.0 L1171.0,264.3 L1174.1,266.2 L1176.9,268.5 L1179.4,271.4 L1179.4,271.4 L1175.8,272.2 L1172.4,272.5 L1169.2,272.6 L1166.1,272.5 L1163.0,272.1 L1160.0,271.4 L1156.9,270.5 L1153.9,269.3 L1150.7,267.9 L1147.4,265.9Z" fill="#ebc894" opacity="0.75"/>
<path d="M1053.7,367.4 L1052.6,364.8 L1051.8,362.1 L1051.2,359.4 L1050.8,356.6 L1050.7,353.8 L1050.8,351.0 L1051.2,348.2 L1051.8,345.4 L1052.6,342.7 L1053.8,340.0 L1053.8,340.0 L1054.2,342.8 L1054.5,345.5 L1054.7,348.2 L1054.9,350.9 L1054.9,353.6 L1054.9,356.3 L1054.7,359.0 L1054.5,361.8 L1054.2,364.6 L1053.7,367.4Z" fill="#e8c28b" opacity="0.75"/>
<path d="M1069.4,375.8 L1067.8,373.5 L1066.6,371.0 L1065.7,368.5 L1064.9,365.8 L1064.5,363.2 L1064.3,360.4 L1064.3,357.7 L1064.6,355.0 L1065.2,352.2 L1066.1,349.6 L1066.1,349.6 L1067.0,352.2 L1067.6,354.8 L1068.2,357.3 L1068.6,359.9 L1069.0,362.4 L1069.3,365.0 L1069.4,367.6 L1069.5,370.3 L1069.5,373.0 L1069.4,375.8Z" fill="#e8c28b" opacity="0.75"/>
<path d="M1076.0,422.0 L1074.1,421.9 L1072.5,421.5 L1071.0,420.8 L1069.8,420.0 L1068.8,419.0 L1068.1,417.8 L1067.6,416.4 L1067.3,414.8 L1067.2,413.1 L1067.6,411.1 L1067.6,411.1 L1069.5,411.3 L1071.1,411.8 L1072.4,412.5 L1073.5,413.3 L1074.4,414.3 L1075.2,415.4 L1075.7,416.7 L1076.0,418.2 L1076.2,419.9 L1076.0,422.0Z" fill="#ebc894" opacity="0.75"/>
<path d="M1142.2,237.8 L1145.2,237.0 L1148.2,236.6 L1151.2,236.4 L1154.2,236.5 L1157.2,236.8 L1160.2,237.4 L1163.1,238.3 L1166.0,239.4 L1168.8,240.7 L1171.5,242.4 L1171.5,242.4 L1168.5,242.5 L1165.6,242.4 L1162.7,242.1 L1159.9,241.8 L1157.0,241.4 L1154.1,240.9 L1151.2,240.3 L1148.3,239.6 L1145.3,238.8 L1142.2,237.8Z" fill="#e4bb80" opacity="0.75"/>
<path d="M1263.2,345.5 L1265.1,349.7 L1266.3,354.1 L1266.9,358.6 L1267.1,363.1 L1266.8,367.5 L1265.9,371.9 L1264.5,376.1 L1262.7,380.2 L1260.4,384.1 L1257.5,387.7 L1257.5,387.7 L1257.1,383.0 L1257.1,378.6 L1257.2,374.4 L1257.5,370.2 L1258.0,366.1 L1258.6,362.0 L1259.4,358.0 L1260.4,353.9 L1261.6,349.7 L1263.2,345.5Z" fill="#ebc894" opacity="0.75"/>
<path d="M1039.0,376.5 L1037.5,373.2 L1036.4,369.8 L1035.6,366.2 L1035.1,362.7 L1034.9,359.1 L1035.0,355.5 L1035.4,351.9 L1036.0,348.3 L1037.0,344.8 L1038.3,341.4 L1038.3,341.4 L1038.8,344.9 L1039.1,348.3 L1039.4,351.8 L1039.6,355.2 L1039.7,358.7 L1039.7,362.1 L1039.6,365.7 L1039.5,369.2 L1039.3,372.8 L1039.0,376.5Z" fill="#ebc894" opacity="0.75"/>
<path d="M1271.6,358.4 L1273.2,362.2 L1274.1,366.0 L1274.6,369.8 L1274.6,373.6 L1274.2,377.3 L1273.4,381.0 L1272.1,384.5 L1270.5,387.9 L1268.4,391.2 L1265.8,394.1 L1265.8,394.1 L1265.3,390.0 L1265.2,386.2 L1265.2,382.5 L1265.4,378.9 L1265.9,375.4 L1266.6,372.0 L1267.4,368.6 L1268.6,365.2 L1269.9,361.8 L1271.6,358.4Z" fill="#e8c28b" opacity="0.75"/>
<path d="M1058.2,362.0 L1057.0,359.3 L1056.2,356.5 L1055.6,353.7 L1055.3,350.9 L1055.2,348.0 L1055.4,345.1 L1055.8,342.3 L1056.5,339.4 L1057.4,336.7 L1058.7,334.0 L1058.7,334.0 L1059.1,336.9 L1059.4,339.7 L1059.5,342.5 L1059.6,345.3 L1059.6,348.0 L1059.5,350.8 L1059.3,353.5 L1059.0,356.3 L1058.7,359.1 L1058.2,362.0Z" fill="#f7eadb" opacity="0.7"/>
<path d="M1232.7,403.6 L1232.8,406.5 L1232.6,409.2 L1232.0,411.7 L1231.2,414.1 L1230.1,416.3 L1228.8,418.4 L1227.3,420.2 L1225.5,421.9 L1223.5,423.3 L1221.3,424.4 L1221.3,424.4 L1221.8,421.5 L1222.5,418.9 L1223.3,416.5 L1224.2,414.2 L1225.2,412.1 L1226.4,410.2 L1227.7,408.3 L1229.2,406.6 L1230.8,405.0 L1232.7,403.6Z" fill="#f7eadb" opacity="0.7"/>
<path d="M1145.0,436.9 L1143.4,438.0 L1141.8,438.7 L1140.1,439.3 L1138.5,439.6 L1136.9,439.8 L1135.3,439.7 L1133.7,439.5 L1132.2,439.0 L1130.7,438.4 L1129.3,437.4 L1129.3,437.4 L1131.1,436.6 L1132.8,436.0 L1134.5,435.6 L1136.1,435.3 L1137.6,435.2 L1139.1,435.2 L1140.6,435.4 L1142.1,435.7 L1143.6,436.1 L1145.0,436.9Z" fill="#f7eadb" opacity="0.7"/>
<path d="M1176.8,441.9 L1174.2,443.5 L1171.5,444.8 L1168.7,445.8 L1165.8,446.5 L1162.9,446.9 L1160.0,447.1 L1157.0,446.9 L1154.0,446.5 L1151.1,445.8 L1148.3,444.8 L1148.3,444.8 L1151.1,443.9 L1154.0,443.2 L1156.8,442.7 L1159.6,442.2 L1162.4,441.9 L1165.2,441.7 L1168.0,441.6 L1170.8,441.6 L1173.8,441.6 L1176.8,441.9Z" fill="#f7eadb" opacity="0.7"/>
<path d="M1072.1,393.8 L1070.6,392.9 L1069.5,391.7 L1068.7,390.4 L1068.2,389.0 L1067.9,387.4 L1067.9,385.8 L1068.2,384.0 L1068.8,382.2 L1069.7,380.3 L1071.1,378.2 L1071.1,378.2 L1072.3,379.3 L1073.2,380.4 L1073.8,381.7 L1074.3,383.0 L1074.5,384.4 L1074.4,386.0 L1074.2,387.7 L1073.7,389.6 L1073.1,391.5 L1072.1,393.8Z" fill="#f7eadb" opacity="0.7"/>
<path d="M1249.2,392.1 L1249.0,394.9 L1248.5,397.5 L1247.7,400.1 L1246.6,402.5 L1245.4,404.9 L1243.9,407.1 L1242.2,409.2 L1240.2,411.1 L1238.1,412.8 L1235.8,414.2 L1235.8,414.2 L1236.5,411.6 L1237.5,409.1 L1238.6,406.8 L1239.7,404.5 L1241.0,402.3 L1242.3,400.1 L1243.8,398.0 L1245.5,396.0 L1247.2,394.0 L1249.2,392.1Z" fill="#f7eadb" opacity="0.7"/>
<path d="M1063.7,364.2 L1062.4,362.7 L1061.5,361.1 L1060.7,359.5 L1060.2,357.8 L1059.9,356.1 L1059.8,354.4 L1059.9,352.7 L1060.3,350.9 L1060.8,349.2 L1061.7,347.5 L1061.7,347.5 L1062.7,349.2 L1063.4,350.9 L1064.0,352.5 L1064.4,354.1 L1064.7,355.7 L1064.8,357.4 L1064.8,359.0 L1064.6,360.7 L1064.3,362.4 L1063.7,364.2Z" fill="#f7eadb" opacity="0.7"/>
<path d="M1100.4,434.3 L1099.0,434.5 L1097.8,434.3 L1096.8,433.8 L1096.0,433.1 L1095.3,432.1 L1094.9,430.9 L1094.6,429.4 L1094.6,427.6 L1094.7,425.7 L1095.2,423.3 L1095.2,423.3 L1096.6,423.2 L1097.6,423.4 L1098.5,423.9 L1099.2,424.6 L1099.8,425.5 L1100.2,426.8 L1100.5,428.2 L1100.6,429.9 L1100.6,431.9 L1100.4,434.3Z" fill="#f7eadb" opacity="0.7"/>
<path d="M1060.2,365.4 L1058.5,364.4 L1057.4,363.4 L1056.5,362.3 L1056.0,361.2 L1055.7,360.0 L1055.8,358.7 L1056.2,357.5 L1057.0,356.2 L1058.0,354.9 L1059.5,353.7 L1059.5,353.7 L1061.0,354.7 L1062.1,355.8 L1062.9,356.9 L1063.4,358.0 L1063.6,359.1 L1063.5,360.2 L1063.1,361.4 L1062.5,362.6 L1061.6,363.9 L1060.2,365.4Z" fill="#f7eadb" opacity="0.7"/>
<path d="M1188.1,433.4 L1187.5,435.4 L1186.8,437.0 L1185.9,438.4 L1184.9,439.6 L1183.9,440.6 L1182.7,441.3 L1181.5,441.8 L1180.2,442.2 L1178.8,442.3 L1177.3,442.0 L1177.3,442.0 L1178.2,440.1 L1179.1,438.6 L1180.0,437.2 L1181.0,436.1 L1182.0,435.1 L1183.1,434.4 L1184.2,433.8 L1185.4,433.5 L1186.7,433.3 L1188.1,433.4Z" fill="#f7eadb" opacity="0.7"/>
<path d="M1238.6,329.1 L1240.4,330.9 L1241.8,332.9 L1242.9,334.9 L1243.8,337.1 L1244.5,339.3 L1244.8,341.5 L1244.9,343.7 L1244.6,346.0 L1244.2,348.3 L1243.3,350.5 L1243.3,350.5 L1241.9,348.3 L1240.8,346.1 L1239.9,344.0 L1239.2,341.9 L1238.7,339.9 L1238.3,337.8 L1238.1,335.7 L1238.0,333.6 L1238.1,331.4 L1238.6,329.1Z" fill="#f7eadb" opacity="0.7"/>
<path d="M1198.1,418.3 L1197.7,419.6 L1197.1,420.6 L1196.3,421.3 L1195.3,421.7 L1194.2,421.9 L1193.0,421.9 L1191.6,421.5 L1190.1,420.9 L1188.5,420.0 L1186.8,418.6 L1186.8,418.6 L1187.2,417.4 L1187.8,416.5 L1188.6,415.9 L1189.4,415.6 L1190.5,415.4 L1191.6,415.5 L1193.0,415.9 L1194.5,416.4 L1196.1,417.2 L1198.1,418.3Z" fill="#f7eadb" opacity="0.7"/>
<path d="M1244.6,373.9 L1245.3,375.3 L1245.8,376.5 L1246.1,377.8 L1246.2,379.0 L1246.2,380.1 L1246.1,381.3 L1245.7,382.3 L1245.3,383.3 L1244.7,384.3 L1243.8,385.2 L1243.8,385.2 L1243.3,383.8 L1242.9,382.5 L1242.7,381.2 L1242.5,380.0 L1242.5,378.9 L1242.7,377.8 L1242.9,376.8 L1243.3,375.8 L1243.8,374.8 L1244.6,373.9Z" fill="#f7eadb" opacity="0.7"/>
<path d="M1196.4,444.1 L1194.2,446.2 L1191.8,447.9 L1189.3,449.3 L1186.7,450.6 L1184.0,451.5 L1181.2,452.2 L1178.3,452.6 L1175.4,452.7 L1172.4,452.6 L1169.5,452.0 L1169.5,452.0 L1172.0,450.5 L1174.6,449.3 L1177.2,448.3 L1179.8,447.3 L1182.4,446.5 L1185.0,445.8 L1187.8,445.2 L1190.5,444.7 L1193.4,444.3 L1196.4,444.1Z" fill="#f7eadb" opacity="0.7"/>
<path d="M1157.1,391.5 L1143.9,390.1 L1131.6,384.5 L1120.9,375.6 L1112.7,364.0 L1107.8,350.6 L1106.5,336.3 L1109.0,322.4 L1114.9,309.7 L1123.6,299.4 L1135.0,292.5 L1135.0,292.5 L1131.8,304.5 L1129.9,315.5 L1129.5,325.9 L1130.2,335.7 L1131.9,345.2 L1134.4,354.4 L1137.9,363.6 L1142.8,372.9 L1149.1,382.0 L1157.1,391.5Z" fill="#fbf4e8" opacity="0.9"/>
<clipPath id="nc5"><circle cx="1179.7" cy="334.5" r="54.8"/></clipPath>
<circle cx="1179.7" cy="334.5" r="54.8" fill="url(#gNuc)"/>
<g clip-path="url(#nc5)">
<path d="M1168.8,274.2 L1114.0,307.1 L1119.5,389.3 L1177.0,392.0 C1163.3,361.9 1196.2,350.9 1193.4,323.5 C1190.7,301.6 1185.2,285.2 1168.8,274.2Z" fill="#ecd4a6" opacity="0.93"/>
<ellipse cx="1190.7" cy="326.3" rx="13.7" ry="20.8" fill="#e6d58f" opacity="0.75"/>
</g>
<line x1="1213.5" y1="350.8" x2="1209.7" y2="343.5" stroke="#a9cc95" stroke-width="1"/>
<line x1="1217.8" y1="351.5" x2="1211.7" y2="339.6" stroke="#a9cc95" stroke-width="1"/>
<line x1="1217.9" y1="343.9" x2="1217.9" y2="343.9" stroke="#a9cc95" stroke-width="1"/>
<line x1="1218.0" y1="336.4" x2="1224.1" y2="348.2" stroke="#a9cc95" stroke-width="1"/>
<line x1="1222.3" y1="337.0" x2="1226.1" y2="344.3" stroke="#a9cc95" stroke-width="1"/>
<line x1="1229.3" y1="342.7" x2="1225.5" y2="335.4" stroke="#a9cc95" stroke-width="1"/>
<line x1="1233.6" y1="343.3" x2="1227.5" y2="331.5" stroke="#a9cc95" stroke-width="1"/>
<line x1="1233.7" y1="335.8" x2="1233.7" y2="335.8" stroke="#a9cc95" stroke-width="1"/>
<line x1="1233.8" y1="328.2" x2="1239.9" y2="340.0" stroke="#a9cc95" stroke-width="1"/>
<line x1="1238.1" y1="328.8" x2="1241.9" y2="336.2" stroke="#a9cc95" stroke-width="1"/>
<line x1="1245.0" y1="334.5" x2="1241.3" y2="327.2" stroke="#a9cc95" stroke-width="1"/>
<line x1="1249.4" y1="335.2" x2="1243.3" y2="323.3" stroke="#a9cc95" stroke-width="1"/>
<line x1="1249.5" y1="327.6" x2="1249.5" y2="327.6" stroke="#a9cc95" stroke-width="1"/>
<line x1="1249.6" y1="320.1" x2="1255.7" y2="331.9" stroke="#a9cc95" stroke-width="1"/>
<line x1="1253.9" y1="320.7" x2="1257.7" y2="328.0" stroke="#a9cc95" stroke-width="1"/>
<line x1="1260.8" y1="326.4" x2="1257.1" y2="319.1" stroke="#a9cc95" stroke-width="1"/>
<line x1="1265.2" y1="327.0" x2="1259.0" y2="315.2" stroke="#a9cc95" stroke-width="1"/>
<line x1="1265.3" y1="319.4" x2="1265.3" y2="319.4" stroke="#a9cc95" stroke-width="1"/>
<line x1="1265.4" y1="311.9" x2="1271.5" y2="323.7" stroke="#a9cc95" stroke-width="1"/>
<path d="M1210.0,348.0 L1211.7,349.4 L1213.3,350.7 L1214.8,351.7 L1216.0,352.2 L1217.0,352.3 L1217.6,351.7 L1218.0,350.7 L1218.2,349.2 L1218.2,347.2 L1218.0,345.1 L1217.8,342.9 L1217.6,340.7 L1217.6,338.8 L1217.7,337.2 L1218.1,336.1 L1218.8,335.6 L1219.7,335.6 L1221.0,336.1 L1222.4,337.1 L1224.0,338.3 L1225.7,339.8 L1227.4,341.2 L1229.0,342.5 L1230.5,343.5 L1231.7,344.1 L1232.7,344.1 L1233.4,343.6 L1233.8,342.6 L1234.0,341.1 L1234.0,339.2 L1233.8,337.1 L1233.6,334.8 L1233.4,332.7 L1233.4,330.7 L1233.5,329.1 L1233.9,328.0 L1234.5,327.5 L1235.5,327.4 L1236.7,327.9 L1238.1,328.8 L1239.7,330.1 L1241.4,331.5 L1243.1,333.0 L1244.7,334.3 L1246.2,335.3 L1247.4,335.9 L1248.4,336.0 L1249.2,335.5 L1249.6,334.5 L1249.8,333.0 L1249.8,331.1 L1249.6,329.0 L1249.4,326.8 L1249.2,324.6 L1249.2,322.6 L1249.3,321.0 L1249.7,319.9 L1250.3,319.3 L1251.2,319.3 L1252.4,319.7 L1253.8,320.6 L1255.4,321.9 L1257.1,323.3 L1258.8,324.7 L1260.4,326.1 L1261.9,327.1 L1263.2,327.7 L1264.2,327.8 L1264.9,327.4 L1265.4,326.4 L1265.6,325.0 L1265.5,323.1 L1265.4,321.0 L1265.2,318.7 L1265.0,316.6 L1265.0,314.6 L1265.1,313.0 L1265.4,311.8 L1266.0,311.2 L1266.9,311.1" fill="none" stroke="#7aa96b" stroke-width="3.2"/>
<path d="M1210.0,348.0 L1211.7,349.4 L1213.3,350.7 L1214.8,351.7 L1216.0,352.2 L1217.0,352.3 L1217.6,351.7 L1218.0,350.7 L1218.2,349.2 L1218.2,347.2 L1218.0,345.1 L1217.8,342.9 L1217.6,340.7 L1217.6,338.8 L1217.7,337.2 L1218.1,336.1 L1218.8,335.6 L1219.7,335.6 L1221.0,336.1 L1222.4,337.1 L1224.0,338.3 L1225.7,339.8 L1227.4,341.2 L1229.0,342.5 L1230.5,343.5 L1231.7,344.1 L1232.7,344.1 L1233.4,343.6 L1233.8,342.6 L1234.0,341.1 L1234.0,339.2 L1233.8,337.1 L1233.6,334.8 L1233.4,332.7 L1233.4,330.7 L1233.5,329.1 L1233.9,328.0 L1234.5,327.5 L1235.5,327.4 L1236.7,327.9 L1238.1,328.8 L1239.7,330.1 L1241.4,331.5 L1243.1,333.0 L1244.7,334.3 L1246.2,335.3 L1247.4,335.9 L1248.4,336.0 L1249.2,335.5 L1249.6,334.5 L1249.8,333.0 L1249.8,331.1 L1249.6,329.0 L1249.4,326.8 L1249.2,324.6 L1249.2,322.6 L1249.3,321.0 L1249.7,319.9 L1250.3,319.3 L1251.2,319.3 L1252.4,319.7 L1253.8,320.6 L1255.4,321.9 L1257.1,323.3 L1258.8,324.7 L1260.4,326.1 L1261.9,327.1 L1263.2,327.7 L1264.2,327.8 L1264.9,327.4 L1265.4,326.4 L1265.6,325.0 L1265.5,323.1 L1265.4,321.0 L1265.2,318.7 L1265.0,316.6 L1265.0,314.6 L1265.1,313.0 L1265.4,311.8 L1266.0,311.2 L1266.9,311.1" fill="none" stroke="#dcecc9" stroke-width="1.4"/>
<path d="M1212.6,353.0 L1212.7,351.3 L1212.6,349.3 L1212.4,347.1 L1212.2,344.9 L1212.1,342.8 L1212.1,341.0 L1212.3,339.6 L1212.8,338.7 L1213.6,338.4 L1214.6,338.6 L1215.9,339.3 L1217.5,340.4 L1219.1,341.7 L1220.8,343.2 L1222.5,344.6 L1224.1,345.8 L1225.4,346.6 L1226.6,347.0 L1227.5,346.9 L1228.1,346.2 L1228.4,344.9 L1228.5,343.3 L1228.4,341.3 L1228.2,339.1 L1228.0,336.9 L1227.9,334.8 L1227.9,332.9 L1228.1,331.5 L1228.6,330.6 L1229.3,330.2 L1230.4,330.4 L1231.7,331.1 L1233.2,332.1 L1234.8,333.5 L1236.5,334.9 L1238.2,336.3 L1239.8,337.6 L1241.2,338.4 L1242.3,338.8 L1243.2,338.7 L1243.8,338.1 L1244.2,336.9 L1244.3,335.2 L1244.2,333.2 L1244.0,331.0 L1243.8,328.8 L1243.7,326.7 L1243.7,324.9 L1243.9,323.4 L1244.3,322.5 L1245.1,322.1 L1246.1,322.2 L1247.4,322.9 L1248.9,323.9 L1250.5,325.2 L1252.2,326.7 L1253.9,328.1 L1255.5,329.3 L1256.9,330.2 L1258.1,330.7 L1259.0,330.6 L1259.6,329.9 L1259.9,328.8 L1260.0,327.2 L1260.0,325.2 L1259.8,323.0 L1259.6,320.8 L1259.4,318.6 L1259.4,316.8 L1259.6,315.3 L1260.1,314.4 L1260.8,313.9 L1261.8,314.0 L1263.1,314.7 L1264.6,315.7 L1266.2,317.0 L1267.9,318.5 L1269.6,319.9 L1271.2,321.1 L1272.6,322.0" fill="none" stroke="#7aa96b" stroke-width="3.2"/>
<path d="M1212.6,353.0 L1212.7,351.3 L1212.6,349.3 L1212.4,347.1 L1212.2,344.9 L1212.1,342.8 L1212.1,341.0 L1212.3,339.6 L1212.8,338.7 L1213.6,338.4 L1214.6,338.6 L1215.9,339.3 L1217.5,340.4 L1219.1,341.7 L1220.8,343.2 L1222.5,344.6 L1224.1,345.8 L1225.4,346.6 L1226.6,347.0 L1227.5,346.9 L1228.1,346.2 L1228.4,344.9 L1228.5,343.3 L1228.4,341.3 L1228.2,339.1 L1228.0,336.9 L1227.9,334.8 L1227.9,332.9 L1228.1,331.5 L1228.6,330.6 L1229.3,330.2 L1230.4,330.4 L1231.7,331.1 L1233.2,332.1 L1234.8,333.5 L1236.5,334.9 L1238.2,336.3 L1239.8,337.6 L1241.2,338.4 L1242.3,338.8 L1243.2,338.7 L1243.8,338.1 L1244.2,336.9 L1244.3,335.2 L1244.2,333.2 L1244.0,331.0 L1243.8,328.8 L1243.7,326.7 L1243.7,324.9 L1243.9,323.4 L1244.3,322.5 L1245.1,322.1 L1246.1,322.2 L1247.4,322.9 L1248.9,323.9 L1250.5,325.2 L1252.2,326.7 L1253.9,328.1 L1255.5,329.3 L1256.9,330.2 L1258.1,330.7 L1259.0,330.6 L1259.6,329.9 L1259.9,328.8 L1260.0,327.2 L1260.0,325.2 L1259.8,323.0 L1259.6,320.8 L1259.4,318.6 L1259.4,316.8 L1259.6,315.3 L1260.1,314.4 L1260.8,313.9 L1261.8,314.0 L1263.1,314.7 L1264.6,315.7 L1266.2,317.0 L1267.9,318.5 L1269.6,319.9 L1271.2,321.1 L1272.6,322.0" fill="none" stroke="#dcecc9" stroke-width="1.4"/>
<line x1="1114.7" y1="416.1" x2="1120.8" y2="408.9" stroke="#a9cc95" stroke-width="1"/>
<line x1="1116.3" y1="421.2" x2="1126.2" y2="409.6" stroke="#a9cc95" stroke-width="1"/>
<line x1="1124.8" y1="418.4" x2="1124.8" y2="418.4" stroke="#a9cc95" stroke-width="1"/>
<line x1="1133.2" y1="415.5" x2="1123.3" y2="427.1" stroke="#a9cc95" stroke-width="1"/>
<line x1="1134.8" y1="420.7" x2="1128.7" y2="427.9" stroke="#a9cc95" stroke-width="1"/>
<line x1="1132.2" y1="430.8" x2="1138.3" y2="423.6" stroke="#a9cc95" stroke-width="1"/>
<line x1="1133.8" y1="436.0" x2="1143.7" y2="424.4" stroke="#a9cc95" stroke-width="1"/>
<line x1="1142.2" y1="433.1" x2="1142.2" y2="433.1" stroke="#a9cc95" stroke-width="1"/>
<line x1="1150.7" y1="430.3" x2="1140.8" y2="441.9" stroke="#a9cc95" stroke-width="1"/>
<line x1="1152.3" y1="435.4" x2="1146.2" y2="442.6" stroke="#a9cc95" stroke-width="1"/>
<line x1="1149.7" y1="445.6" x2="1155.8" y2="438.4" stroke="#a9cc95" stroke-width="1"/>
<line x1="1151.3" y1="450.7" x2="1161.2" y2="439.1" stroke="#a9cc95" stroke-width="1"/>
<line x1="1159.8" y1="447.9" x2="1159.8" y2="447.9" stroke="#a9cc95" stroke-width="1"/>
<line x1="1168.2" y1="445.0" x2="1158.3" y2="456.6" stroke="#a9cc95" stroke-width="1"/>
<line x1="1169.8" y1="450.2" x2="1163.7" y2="457.4" stroke="#a9cc95" stroke-width="1"/>
<line x1="1167.2" y1="460.3" x2="1173.3" y2="453.1" stroke="#a9cc95" stroke-width="1"/>
<line x1="1168.8" y1="465.5" x2="1178.7" y2="453.9" stroke="#a9cc95" stroke-width="1"/>
<line x1="1177.2" y1="462.6" x2="1177.2" y2="462.6" stroke="#a9cc95" stroke-width="1"/>
<line x1="1185.7" y1="459.8" x2="1175.8" y2="471.4" stroke="#a9cc95" stroke-width="1"/>
<line x1="1187.3" y1="464.9" x2="1181.2" y2="472.1" stroke="#a9cc95" stroke-width="1"/>
<path d="M1116.0,411.0 L1115.3,413.6 L1114.7,416.1 L1114.5,418.2 L1114.6,419.8 L1115.2,420.8 L1116.3,421.2 L1118.0,421.1 L1120.0,420.5 L1122.3,419.5 L1124.8,418.4 L1127.2,417.2 L1129.5,416.3 L1131.5,415.6 L1133.2,415.5 L1134.3,415.9 L1134.9,417.0 L1135.0,418.6 L1134.8,420.7 L1134.2,423.1 L1133.5,425.8 L1132.8,428.4 L1132.2,430.8 L1132.0,432.9 L1132.1,434.5 L1132.7,435.6 L1133.8,436.0 L1135.5,435.9 L1137.5,435.2 L1139.8,434.3 L1142.2,433.1 L1144.7,432.0 L1147.0,431.0 L1149.0,430.4 L1150.7,430.3 L1151.8,430.7 L1152.4,431.7 L1152.5,433.3 L1152.3,435.4 L1151.7,437.9 L1151.0,440.5 L1150.3,443.1 L1149.7,445.6 L1149.5,447.7 L1149.6,449.3 L1150.2,450.3 L1151.3,450.7 L1153.0,450.6 L1155.0,450.0 L1157.3,449.0 L1159.8,447.9 L1162.2,446.7 L1164.5,445.8 L1166.5,445.1 L1168.2,445.0 L1169.3,445.4 L1169.9,446.5 L1170.0,448.1 L1169.8,450.2 L1169.2,452.6 L1168.5,455.2 L1167.8,457.9 L1167.2,460.3 L1167.0,462.4 L1167.1,464.0 L1167.7,465.1 L1168.8,465.5 L1170.5,465.4 L1172.5,464.7 L1174.8,463.8 L1177.2,462.6 L1179.7,461.5 L1182.0,460.5 L1184.0,459.9 L1185.7,459.8 L1186.8,460.2 L1187.4,461.2 L1187.5,462.8 L1187.3,464.9 L1186.7,467.4 L1186.0,470.0" fill="none" stroke="#7aa96b" stroke-width="3.2"/>
<path d="M1116.0,411.0 L1115.3,413.6 L1114.7,416.1 L1114.5,418.2 L1114.6,419.8 L1115.2,420.8 L1116.3,421.2 L1118.0,421.1 L1120.0,420.5 L1122.3,419.5 L1124.8,418.4 L1127.2,417.2 L1129.5,416.3 L1131.5,415.6 L1133.2,415.5 L1134.3,415.9 L1134.9,417.0 L1135.0,418.6 L1134.8,420.7 L1134.2,423.1 L1133.5,425.8 L1132.8,428.4 L1132.2,430.8 L1132.0,432.9 L1132.1,434.5 L1132.7,435.6 L1133.8,436.0 L1135.5,435.9 L1137.5,435.2 L1139.8,434.3 L1142.2,433.1 L1144.7,432.0 L1147.0,431.0 L1149.0,430.4 L1150.7,430.3 L1151.8,430.7 L1152.4,431.7 L1152.5,433.3 L1152.3,435.4 L1151.7,437.9 L1151.0,440.5 L1150.3,443.1 L1149.7,445.6 L1149.5,447.7 L1149.6,449.3 L1150.2,450.3 L1151.3,450.7 L1153.0,450.6 L1155.0,450.0 L1157.3,449.0 L1159.8,447.9 L1162.2,446.7 L1164.5,445.8 L1166.5,445.1 L1168.2,445.0 L1169.3,445.4 L1169.9,446.5 L1170.0,448.1 L1169.8,450.2 L1169.2,452.6 L1168.5,455.2 L1167.8,457.9 L1167.2,460.3 L1167.0,462.4 L1167.1,464.0 L1167.7,465.1 L1168.8,465.5 L1170.5,465.4 L1172.5,464.7 L1174.8,463.8 L1177.2,462.6 L1179.7,461.5 L1182.0,460.5 L1184.0,459.9 L1185.7,459.8 L1186.8,460.2 L1187.4,461.2 L1187.5,462.8 L1187.3,464.9 L1186.7,467.4 L1186.0,470.0" fill="none" stroke="#dcecc9" stroke-width="1.4"/>
<path d="M1111.8,415.9 L1113.8,415.3 L1116.2,414.4 L1118.6,413.2 L1121.1,412.1 L1123.4,411.1 L1125.4,410.5 L1127.0,410.3 L1128.2,410.8 L1128.8,411.8 L1128.9,413.4 L1128.7,415.5 L1128.1,418.0 L1127.4,420.6 L1126.7,423.2 L1126.1,425.7 L1125.8,427.8 L1126.0,429.4 L1126.6,430.4 L1127.7,430.8 L1129.3,430.7 L1131.3,430.1 L1133.7,429.1 L1136.1,428.0 L1138.6,426.8 L1140.9,425.8 L1142.9,425.2 L1144.5,425.1 L1145.7,425.5 L1146.3,426.6 L1146.4,428.2 L1146.2,430.3 L1145.6,432.7 L1144.9,435.3 L1144.2,438.0 L1143.6,440.4 L1143.3,442.5 L1143.5,444.1 L1144.1,445.1 L1145.2,445.6 L1146.8,445.4 L1148.8,444.8 L1151.2,443.9 L1153.6,442.7 L1156.1,441.6 L1158.4,440.6 L1160.4,440.0 L1162.0,439.8 L1163.2,440.3 L1163.8,441.3 L1163.9,442.9 L1163.7,445.0 L1163.1,447.5 L1162.4,450.1 L1161.7,452.7 L1161.1,455.2 L1160.8,457.3 L1161.0,458.9 L1161.6,459.9 L1162.7,460.3 L1164.3,460.2 L1166.3,459.6 L1168.7,458.6 L1171.1,457.5 L1173.6,456.3 L1175.9,455.3 L1177.9,454.7 L1179.5,454.6 L1180.7,455.0 L1181.3,456.1 L1181.4,457.7 L1181.2,459.8 L1180.6,462.2 L1179.9,464.8 L1179.2,467.5 L1178.6,469.9 L1178.3,472.0 L1178.5,473.6 L1179.1,474.6 L1180.2,475.1 L1181.8,474.9" fill="none" stroke="#7aa96b" stroke-width="3.2"/>
<path d="M1111.8,415.9 L1113.8,415.3 L1116.2,414.4 L1118.6,413.2 L1121.1,412.1 L1123.4,411.1 L1125.4,410.5 L1127.0,410.3 L1128.2,410.8 L1128.8,411.8 L1128.9,413.4 L1128.7,415.5 L1128.1,418.0 L1127.4,420.6 L1126.7,423.2 L1126.1,425.7 L1125.8,427.8 L1126.0,429.4 L1126.6,430.4 L1127.7,430.8 L1129.3,430.7 L1131.3,430.1 L1133.7,429.1 L1136.1,428.0 L1138.6,426.8 L1140.9,425.8 L1142.9,425.2 L1144.5,425.1 L1145.7,425.5 L1146.3,426.6 L1146.4,428.2 L1146.2,430.3 L1145.6,432.7 L1144.9,435.3 L1144.2,438.0 L1143.6,440.4 L1143.3,442.5 L1143.5,444.1 L1144.1,445.1 L1145.2,445.6 L1146.8,445.4 L1148.8,444.8 L1151.2,443.9 L1153.6,442.7 L1156.1,441.6 L1158.4,440.6 L1160.4,440.0 L1162.0,439.8 L1163.2,440.3 L1163.8,441.3 L1163.9,442.9 L1163.7,445.0 L1163.1,447.5 L1162.4,450.1 L1161.7,452.7 L1161.1,455.2 L1160.8,457.3 L1161.0,458.9 L1161.6,459.9 L1162.7,460.3 L1164.3,460.2 L1166.3,459.6 L1168.7,458.6 L1171.1,457.5 L1173.6,456.3 L1175.9,455.3 L1177.9,454.7 L1179.5,454.6 L1180.7,455.0 L1181.3,456.1 L1181.4,457.7 L1181.2,459.8 L1180.6,462.2 L1179.9,464.8 L1179.2,467.5 L1178.6,469.9 L1178.3,472.0 L1178.5,473.6 L1179.1,474.6 L1180.2,475.1 L1181.8,474.9" fill="none" stroke="#dcecc9" stroke-width="1.4"/>
<g transform="translate(1265,398) rotate(28)"><rect x="-13" y="-6" width="26" height="12" rx="5" fill="#eab4a4" stroke="#8a2f2f" stroke-width="2.2"/></g>
<g transform="translate(1280,409) rotate(25)"><rect x="-8" y="-15" width="16" height="30" fill="#a9cf95" stroke="#79a968" stroke-width="1.6"/></g>
<g transform="translate(1125,218) rotate(0)"><path d="M-6.0,-10.5 L-2.0,-14.5 L2.0,-14.5 L6.0,-10.5 L6.0,10.5 L2.0,14.5 L-2.0,14.5 L-6.0,10.5Z" fill="#d8e98b" stroke="#a6c24e" stroke-width="2.2" stroke-linejoin="round"/></g>
<g transform="translate(1095.5,229.5) rotate(-25)"><path d="M-6.0,-10.5 L-2.0,-14.5 L2.0,-14.5 L6.0,-10.5 L6.0,10.5 L2.0,14.5 L-2.0,14.5 L-6.0,10.5Z" fill="#6d9fd1" stroke="#2f6ba6" stroke-width="2.2" stroke-linejoin="round"/></g>
<g transform="translate(1072.5,247) rotate(-42)"><path d="M-6.0,-10.5 L-2.0,-14.5 L2.0,-14.5 L6.0,-10.5 L6.0,10.5 L2.0,14.5 L-2.0,14.5 L-6.0,10.5Z" fill="#eab4a4" stroke="#8a2f2f" stroke-width="2.2" stroke-linejoin="round"/></g>
<circle cx="1160" cy="297" r="10" fill="none" stroke="#2c736d" stroke-width="2.4"/>
<circle cx="1169" cy="297" r="10" fill="none" stroke="#2c736d" stroke-width="2.4"/>
<circle cx="1057" cy="350" r="5" fill="#f5e4c4" stroke="#2c736d" stroke-width="2"/>
<circle cx="1066" cy="387" r="5" fill="#f5e4c4" stroke="#2c736d" stroke-width="2"/>
<circle cx="1099" cy="395" r="5" fill="#f5e4c4" stroke="#2c736d" stroke-width="2"/>
<g transform="translate(1244,202) rotate(75) scale(0.9)"><path d="M-7,6 L7,6 L0,-7Z" fill="#9a9e9a" stroke="#111" stroke-width="2.6" stroke-linejoin="miter"/></g>
<text x="1235" y="185" font-size="34" fill="#2b2d7e" font-weight="bold" letter-spacing="0.85" text-anchor="start" >*</text>
<text x="949" y="393" font-size="34" fill="#2b2d7e" font-weight="bold" letter-spacing="0.85" text-anchor="start" >*</text>
<text x="1229" y="428" font-size="34" fill="#2b2d7e" font-weight="bold" letter-spacing="0.85" text-anchor="start" >*</text>
<text x="1135" y="313" font-size="34" fill="#2b2d7e" font-weight="bold" letter-spacing="0.85" text-anchor="start" >*</text>
<text x="1131.0" y="122" font-size="23" fill="#1e1e1e" stroke="#1e1e1e" stroke-width="0.8" textLength="99.7" lengthAdjust="spacingAndGlyphs" letter-spacing="0.92" text-anchor="start" >Specific</text>
<text x="1131.0" y="146" font-size="23" fill="#1e1e1e" stroke="#1e1e1e" stroke-width="0.8" textLength="171.7" lengthAdjust="spacingAndGlyphs" letter-spacing="0.92" text-anchor="start" >tumor antigen</text>
<text x="1175.0" y="188.5" font-size="23" fill="#2e8a48" stroke="#2e8a48" stroke-width="0.8" textLength="60.1" lengthAdjust="spacingAndGlyphs" letter-spacing="0.92" text-anchor="start" >MHC</text>
<text x="1256.0" y="208.4" font-size="23" fill="#1e1e1e" stroke="#1e1e1e" stroke-width="0.8" textLength="123.1" lengthAdjust="spacingAndGlyphs" letter-spacing="0.92" text-anchor="start" >Viral toxin</text>
<text x="1261.0" y="240" font-size="23" fill="#2c736d" stroke="#2c736d" stroke-width="0.8" textLength="215.9" lengthAdjust="spacingAndGlyphs" letter-spacing="0.92" text-anchor="start" >Viral glycoprotein</text>
<text x="1289.0" y="280" font-size="23" fill="#2c736d" stroke="#2c736d" stroke-width="0.8" textLength="143.8" lengthAdjust="spacingAndGlyphs" letter-spacing="0.92" text-anchor="start" >Viral capsid</text>
<text x="1326.0" y="322" font-size="23" fill="#2c736d" stroke="#2c736d" stroke-width="0.8" textLength="67.1" lengthAdjust="spacingAndGlyphs" letter-spacing="0.92" text-anchor="start" >CD24</text>
<text x="1049.8" y="203.8" font-size="23" fill="#1e1e1e" stroke="#1e1e1e" stroke-width="0.8" textLength="65.8" lengthAdjust="spacingAndGlyphs" letter-spacing="0.92" text-anchor="start" >CD63</text>
<text x="1016.0" y="227" font-size="23" fill="#1e1e1e" stroke="#1e1e1e" stroke-width="0.8" textLength="63.8" lengthAdjust="spacingAndGlyphs" letter-spacing="0.92" text-anchor="start" >CD81</text>
<text x="1002.0" y="251.6" font-size="23" fill="#1e1e1e" stroke="#1e1e1e" stroke-width="0.8" textLength="52.1" lengthAdjust="spacingAndGlyphs" letter-spacing="0.92" text-anchor="start" >CD9</text>
<text x="1073.0" y="281" font-size="23" fill="#2c736d" stroke="#2c736d" stroke-width="0.8" textLength="162.4" lengthAdjust="spacingAndGlyphs" letter-spacing="0.92" text-anchor="start" >Sting agonist</text>
<text x="824.5" y="336" font-size="23" fill="#2c736d" stroke="#2c736d" stroke-width="0.8" textLength="139.2" lengthAdjust="spacingAndGlyphs" letter-spacing="0.92" text-anchor="start" >Anti-CTLA4</text>
<text x="1039.6" y="341" font-size="23" fill="#2c736d" stroke="#2c736d" stroke-width="0.8" textLength="147.9" lengthAdjust="spacingAndGlyphs" letter-spacing="0.92" text-anchor="start" >Granzyme B</text>
<text x="1081.4" y="381" font-size="23" fill="#2c736d" stroke="#2c736d" stroke-width="0.8" textLength="96.7" lengthAdjust="spacingAndGlyphs" letter-spacing="0.92" text-anchor="start" >Perforin</text>
<text x="1193.8" y="368.7" font-size="23" fill="#2c736d" stroke="#2c736d" stroke-width="0.8" textLength="75.3" lengthAdjust="spacingAndGlyphs" letter-spacing="0.92" text-anchor="start" >mRNA</text>
<text x="1303.0" y="388" font-size="23" fill="#2c736d" stroke="#2c736d" stroke-width="0.8" textLength="65.7" lengthAdjust="spacingAndGlyphs" letter-spacing="0.92" text-anchor="start" >ACE2</text>
<text x="1289.0" y="429" font-size="23" fill="#2c736d" stroke="#2c736d" stroke-width="0.8" textLength="128.9" lengthAdjust="spacingAndGlyphs" letter-spacing="0.92" text-anchor="start" >CD9-ACE2</text>
<text x="885.8" y="394.3" font-size="23" fill="#2e8a48" stroke="#2e8a48" stroke-width="0.8" textLength="63.0" lengthAdjust="spacingAndGlyphs" letter-spacing="0.92" text-anchor="start" >IL-12</text>
<text x="926.7" y="453.3" font-size="23" fill="#2c736d" stroke="#2c736d" stroke-width="0.8" textLength="56.4" lengthAdjust="spacingAndGlyphs" letter-spacing="0.92" text-anchor="start" >CarT</text>
<text x="1174.3" y="432.4" font-size="23" fill="#2e8a48" stroke="#2e8a48" stroke-width="0.8" textLength="51.8" lengthAdjust="spacingAndGlyphs" letter-spacing="0.92" text-anchor="start" >ASO</text>
<text x="1268.0" y="480.5" font-size="23" fill="#2c736d" stroke="#2c736d" stroke-width="0.8" textLength="68.1" lengthAdjust="spacingAndGlyphs" letter-spacing="0.92" text-anchor="start" >Spike</text>
<text x="970.0" y="515" font-size="23" fill="#2c736d" stroke="#2c736d" stroke-width="0.8" textLength="72.6" lengthAdjust="spacingAndGlyphs" letter-spacing="0.92" text-anchor="start" >PD-L1</text>
<text x="1070.7" y="541.5" font-size="23" fill="#2c736d" stroke="#2c736d" stroke-width="0.8" textLength="46.2" lengthAdjust="spacingAndGlyphs" letter-spacing="0.92" text-anchor="start" >PD1</text>
<text x="1128.8" y="553" font-size="23" fill="#2c736d" stroke="#2c736d" stroke-width="0.8" textLength="50.8" lengthAdjust="spacingAndGlyphs" letter-spacing="0.92" text-anchor="start" >CD3</text>
<text x="1219.3" y="525.3" font-size="23" fill="#2c736d" stroke="#2c736d" stroke-width="0.8" textLength="69.5" lengthAdjust="spacingAndGlyphs" letter-spacing="0.92" text-anchor="start" >EGFR</text>
<text x="1199.4" y="553" font-size="23" fill="#2c736d" stroke="#2c736d" stroke-width="0.8" textLength="80.1" lengthAdjust="spacingAndGlyphs" letter-spacing="0.92" text-anchor="start" >OX40L</text>
<text x="1313.6" y="537.8" font-size="23" fill="#2c736d" stroke="#2c736d" stroke-width="0.8" textLength="85.5" lengthAdjust="spacingAndGlyphs" letter-spacing="0.92" text-anchor="start" >Gemini</text>
<path d="M1298,503 Q1305,503 1305,510 L1305,524 Q1305,529 1310,529 Q1305,529 1305,534 L1305,550 Q1305,556 1298,556" fill="none" stroke="#2c736d" stroke-width="2"/>
<text x="181.9" y="686" font-size="23.5" fill="#1e1e1e" stroke="#1e1e1e" stroke-width="1.2" textLength="239.1" lengthAdjust="spacingAndGlyphs" letter-spacing="0.94" text-anchor="start" >Mesenchymal cells</text>
<text x="522.9" y="686" font-size="23.5" fill="#1e1e1e" stroke="#1e1e1e" stroke-width="1.2" textLength="168.1" lengthAdjust="spacingAndGlyphs" letter-spacing="0.94" text-anchor="start" >Immune cells</text>
<text x="189.9" y="1015" font-size="23.5" fill="#1e1e1e" stroke="#1e1e1e" stroke-width="1.2" textLength="185.1" lengthAdjust="spacingAndGlyphs" letter-spacing="0.94" text-anchor="start" transform="rotate(-90 191 1015)">Epithelial cells</text>
<path d="M329,700 L329,757" stroke="#111" stroke-width="2.4" fill="none"/>
<path d="M565.4,700 L565.4,729 M521,760 L521,729 L599.6,729 L599.6,955 L515,955" stroke="#111" stroke-width="2.4" fill="none"/>
<path d="M200,937 L268,937" stroke="#111" stroke-width="2.2" fill="none"/>
<line x1="306" y1="911.5" x2="1118" y2="911.5" stroke="#4a4a4a" stroke-width="2.2" stroke-dasharray="14,9"/>
<line x1="338.5" y1="1263.5" x2="1160" y2="1263.5" stroke="#9a9a9a" stroke-width="2.4" stroke-dasharray="14,9"/>
<line x1="338.5" y1="1614" x2="1223" y2="1614" stroke="#9a9a9a" stroke-width="2.4" stroke-dasharray="14,9"/>
<path d="M250,735.6 L282,735.6 Q292,735.6 293.2,748.6 Q294.6,764.85 293.2,781.1 Q292,794.1 282,794.1 L250,794.1 Q240,794.1 238.8,781.1 Q237.4,764.85 238.8,748.6 Q240,735.6 250,735.6Z" fill="#d9d8da" stroke="#26526f" stroke-width="1.5"/>
<path d="M246,749.6 Q243,764.85 246,780.1" stroke="#e4e3e5" stroke-width="5" fill="none" opacity="0.8"/>
<ellipse cx="266.5" cy="766.2" rx="11.3" ry="16.3" fill="#afafb1"/>
<ellipse cx="267.5" cy="767.2" rx="6.5" ry="10" fill="#b8b8ba" opacity="0.6"/>
<path d="M250,794.1 L282,794.1 Q292,794.1 293.2,807.1 Q294.6,823.35 293.2,839.6 Q292,852.6 282,852.6 L250,852.6 Q240,852.6 238.8,839.6 Q237.4,823.35 238.8,807.1 Q240,794.1 250,794.1Z" fill="#d9d8da" stroke="#26526f" stroke-width="1.5"/>
<path d="M246,808.1 Q243,823.35 246,838.6" stroke="#e4e3e5" stroke-width="5" fill="none" opacity="0.8"/>
<ellipse cx="266.5" cy="824.7" rx="11.3" ry="16.3" fill="#afafb1"/>
<ellipse cx="267.5" cy="825.7" rx="6.5" ry="10" fill="#b8b8ba" opacity="0.6"/>
<path d="M250,852.6 L282,852.6 Q292,852.6 293.2,865.6 Q294.6,881.85 293.2,898.1 Q292,911.1 282,911.1 L250,911.1 Q240,911.1 238.8,898.1 Q237.4,881.85 238.8,865.6 Q240,852.6 250,852.6Z" fill="#d9d8da" stroke="#26526f" stroke-width="1.5"/>
<path d="M246,866.6 Q243,881.85 246,897.1" stroke="#e4e3e5" stroke-width="5" fill="none" opacity="0.8"/>
<ellipse cx="266.5" cy="883.2" rx="11.3" ry="16.3" fill="#afafb1"/>
<ellipse cx="267.5" cy="884.2" rx="6.5" ry="10" fill="#b8b8ba" opacity="0.6"/>
<path d="M250,911.1 L282,911.1 Q292,911.1 293.2,924.1 Q294.6,940.35 293.2,956.6 Q292,969.6 282,969.6 L250,969.6 Q240,969.6 238.8,956.6 Q237.4,940.35 238.8,924.1 Q240,911.1 250,911.1Z" fill="#d9d8da" stroke="#26526f" stroke-width="1.5"/>
<path d="M246,925.1 Q243,940.35 246,955.6" stroke="#e4e3e5" stroke-width="5" fill="none" opacity="0.8"/>
<ellipse cx="266.5" cy="941.7" rx="11.3" ry="16.3" fill="#afafb1"/>
<ellipse cx="267.5" cy="942.7" rx="6.5" ry="10" fill="#b8b8ba" opacity="0.6"/>
<path d="M250,969.6 L282,969.6 Q292,969.6 293.2,982.6 Q294.6,998.85 293.2,1015.0999999999999 Q292,1028.1 282,1028.1 L250,1028.1 Q240,1028.1 238.8,1015.0999999999999 Q237.4,998.85 238.8,982.6 Q240,969.6 250,969.6Z" fill="#d9d8da" stroke="#26526f" stroke-width="1.5"/>
<path d="M246,983.6 Q243,998.85 246,1014.0999999999999" stroke="#e4e3e5" stroke-width="5" fill="none" opacity="0.8"/>
<ellipse cx="266.5" cy="1000.2" rx="11.3" ry="16.3" fill="#afafb1"/>
<ellipse cx="267.5" cy="1001.2" rx="6.5" ry="10" fill="#b8b8ba" opacity="0.6"/>
<path d="M250,1028.1 L282,1028.1 Q292,1028.1 293.2,1041.1 Q294.6,1057.35 293.2,1073.6 Q292,1086.6 282,1086.6 L250,1086.6 Q240,1086.6 238.8,1073.6 Q237.4,1057.35 238.8,1041.1 Q240,1028.1 250,1028.1Z" fill="#d9d8da" stroke="#26526f" stroke-width="1.5"/>
<path d="M246,1042.1 Q243,1057.35 246,1072.6" stroke="#e4e3e5" stroke-width="5" fill="none" opacity="0.8"/>
<ellipse cx="266.5" cy="1058.6999999999998" rx="11.3" ry="16.3" fill="#afafb1"/>
<ellipse cx="267.5" cy="1059.6999999999998" rx="6.5" ry="10" fill="#b8b8ba" opacity="0.6"/>
<path d="M250,1086.6 L282,1086.6 Q292,1086.6 293.2,1099.6 Q294.6,1115.85 293.2,1132.1 Q292,1145.1 282,1145.1 L250,1145.1 Q240,1145.1 238.8,1132.1 Q237.4,1115.85 238.8,1099.6 Q240,1086.6 250,1086.6Z" fill="#d9d8da" stroke="#26526f" stroke-width="1.5"/>
<path d="M246,1100.6 Q243,1115.85 246,1131.1" stroke="#e4e3e5" stroke-width="5" fill="none" opacity="0.8"/>
<ellipse cx="266.5" cy="1117.1999999999998" rx="11.3" ry="16.3" fill="#afafb1"/>
<ellipse cx="267.5" cy="1118.1999999999998" rx="6.5" ry="10" fill="#b8b8ba" opacity="0.6"/>
<path d="M250,1145.1 L282,1145.1 Q292,1145.1 293.2,1158.1 Q294.6,1174.35 293.2,1190.6 Q292,1203.6 282,1203.6 L250,1203.6 Q240,1203.6 238.8,1190.6 Q237.4,1174.35 238.8,1158.1 Q240,1145.1 250,1145.1Z" fill="#d9d8da" stroke="#26526f" stroke-width="1.5"/>
<path d="M246,1159.1 Q243,1174.35 246,1189.6" stroke="#e4e3e5" stroke-width="5" fill="none" opacity="0.8"/>
<ellipse cx="266.5" cy="1175.6999999999998" rx="11.3" ry="16.3" fill="#afafb1"/>
<ellipse cx="267.5" cy="1176.6999999999998" rx="6.5" ry="10" fill="#b8b8ba" opacity="0.6"/>
<path d="M250,1203.6 L282,1203.6 Q292,1203.6 293.2,1216.6 Q294.6,1232.85 293.2,1249.1 Q292,1262.1 282,1262.1 L250,1262.1 Q240,1262.1 238.8,1249.1 Q237.4,1232.85 238.8,1216.6 Q240,1203.6 250,1203.6Z" fill="#d9d8da" stroke="#26526f" stroke-width="1.5"/>
<path d="M246,1217.6 Q243,1232.85 246,1248.1" stroke="#e4e3e5" stroke-width="5" fill="none" opacity="0.8"/>
<ellipse cx="266.5" cy="1234.1999999999998" rx="11.3" ry="16.3" fill="#afafb1"/>
<ellipse cx="267.5" cy="1235.1999999999998" rx="6.5" ry="10" fill="#b8b8ba" opacity="0.6"/>
<path d="M250,1262.1 L282,1262.1 Q292,1262.1 293.2,1275.1 Q294.6,1291.35 293.2,1307.6 Q292,1320.6 282,1320.6 L250,1320.6 Q240,1320.6 238.8,1307.6 Q237.4,1291.35 238.8,1275.1 Q240,1262.1 250,1262.1Z" fill="#d9d8da" stroke="#26526f" stroke-width="1.5"/>
<path d="M246,1276.1 Q243,1291.35 246,1306.6" stroke="#e4e3e5" stroke-width="5" fill="none" opacity="0.8"/>
<ellipse cx="266.5" cy="1292.6999999999998" rx="11.3" ry="16.3" fill="#afafb1"/>
<ellipse cx="267.5" cy="1293.6999999999998" rx="6.5" ry="10" fill="#b8b8ba" opacity="0.6"/>
<path d="M250,1320.6 L282,1320.6 Q292,1320.6 293.2,1333.6 Q294.6,1349.85 293.2,1366.1 Q292,1379.1 282,1379.1 L250,1379.1 Q240,1379.1 238.8,1366.1 Q237.4,1349.85 238.8,1333.6 Q240,1320.6 250,1320.6Z" fill="#d9d8da" stroke="#26526f" stroke-width="1.5"/>
<path d="M246,1334.6 Q243,1349.85 246,1365.1" stroke="#e4e3e5" stroke-width="5" fill="none" opacity="0.8"/>
<ellipse cx="266.5" cy="1351.1999999999998" rx="11.3" ry="16.3" fill="#afafb1"/>
<ellipse cx="267.5" cy="1352.1999999999998" rx="6.5" ry="10" fill="#b8b8ba" opacity="0.6"/>
<path d="M250,1379.1 L282,1379.1 Q292,1379.1 293.2,1392.1 Q294.6,1408.35 293.2,1424.6 Q292,1437.6 282,1437.6 L250,1437.6 Q240,1437.6 238.8,1424.6 Q237.4,1408.35 238.8,1392.1 Q240,1379.1 250,1379.1Z" fill="#d9d8da" stroke="#26526f" stroke-width="1.5"/>
<path d="M246,1393.1 Q243,1408.35 246,1423.6" stroke="#e4e3e5" stroke-width="5" fill="none" opacity="0.8"/>
<ellipse cx="266.5" cy="1409.6999999999998" rx="11.3" ry="16.3" fill="#afafb1"/>
<ellipse cx="267.5" cy="1410.6999999999998" rx="6.5" ry="10" fill="#b8b8ba" opacity="0.6"/>
<path d="M250,1437.6 L282,1437.6 Q292,1437.6 293.2,1450.6 Q294.6,1466.85 293.2,1483.1 Q292,1496.1 282,1496.1 L250,1496.1 Q240,1496.1 238.8,1483.1 Q237.4,1466.85 238.8,1450.6 Q240,1437.6 250,1437.6Z" fill="#d9d8da" stroke="#26526f" stroke-width="1.5"/>
<path d="M246,1451.6 Q243,1466.85 246,1482.1" stroke="#e4e3e5" stroke-width="5" fill="none" opacity="0.8"/>
<ellipse cx="266.5" cy="1468.1999999999998" rx="11.3" ry="16.3" fill="#afafb1"/>
<ellipse cx="267.5" cy="1469.1999999999998" rx="6.5" ry="10" fill="#b8b8ba" opacity="0.6"/>
<path d="M250,1496.1 L282,1496.1 Q292,1496.1 293.2,1509.1 Q294.6,1525.35 293.2,1541.6 Q292,1554.6 282,1554.6 L250,1554.6 Q240,1554.6 238.8,1541.6 Q237.4,1525.35 238.8,1509.1 Q240,1496.1 250,1496.1Z" fill="#d9d8da" stroke="#26526f" stroke-width="1.5"/>
<path d="M246,1510.1 Q243,1525.35 246,1540.6" stroke="#e4e3e5" stroke-width="5" fill="none" opacity="0.8"/>
<ellipse cx="266.5" cy="1526.6999999999998" rx="11.3" ry="16.3" fill="#afafb1"/>
<ellipse cx="267.5" cy="1527.6999999999998" rx="6.5" ry="10" fill="#b8b8ba" opacity="0.6"/>
<path d="M250,1554.6 L282,1554.6 Q292,1554.6 293.2,1567.6 Q294.6,1583.85 293.2,1600.1 Q292,1613.1 282,1613.1 L250,1613.1 Q240,1613.1 238.8,1600.1 Q237.4,1583.85 238.8,1567.6 Q240,1554.6 250,1554.6Z" fill="#d9d8da" stroke="#26526f" stroke-width="1.5"/>
<path d="M246,1568.6 Q243,1583.85 246,1599.1" stroke="#e4e3e5" stroke-width="5" fill="none" opacity="0.8"/>
<ellipse cx="266.5" cy="1585.1999999999998" rx="11.3" ry="16.3" fill="#afafb1"/>
<ellipse cx="267.5" cy="1586.1999999999998" rx="6.5" ry="10" fill="#b8b8ba" opacity="0.6"/>
<path d="M250,1613.1 L282,1613.1 Q292,1613.1 293.2,1626.1 Q294.6,1642.35 293.2,1658.6 Q292,1671.6 282,1671.6 L250,1671.6 Q240,1671.6 238.8,1658.6 Q237.4,1642.35 238.8,1626.1 Q240,1613.1 250,1613.1Z" fill="#d9d8da" stroke="#26526f" stroke-width="1.5"/>
<path d="M246,1627.1 Q243,1642.35 246,1657.6" stroke="#e4e3e5" stroke-width="5" fill="none" opacity="0.8"/>
<ellipse cx="266.5" cy="1643.6999999999998" rx="11.3" ry="16.3" fill="#afafb1"/>
<ellipse cx="267.5" cy="1644.6999999999998" rx="6.5" ry="10" fill="#b8b8ba" opacity="0.6"/>
<path d="M250,1671.6 L282,1671.6 Q292,1671.6 293.2,1684.6 Q294.6,1700.85 293.2,1717.1 Q292,1730.1 282,1730.1 L250,1730.1 Q240,1730.1 238.8,1717.1 Q237.4,1700.85 238.8,1684.6 Q240,1671.6 250,1671.6Z" fill="#d9d8da" stroke="#26526f" stroke-width="1.5"/>
<path d="M246,1685.6 Q243,1700.85 246,1716.1" stroke="#e4e3e5" stroke-width="5" fill="none" opacity="0.8"/>
<ellipse cx="266.5" cy="1702.1999999999998" rx="11.3" ry="16.3" fill="#afafb1"/>
<ellipse cx="267.5" cy="1703.1999999999998" rx="6.5" ry="10" fill="#b8b8ba" opacity="0.6"/>
<path d="M250,1730.1 L282,1730.1 Q292,1730.1 293.2,1743.1 Q294.6,1759.35 293.2,1775.6 Q292,1788.6 282,1788.6 L250,1788.6 Q240,1788.6 238.8,1775.6 Q237.4,1759.35 238.8,1743.1 Q240,1730.1 250,1730.1Z" fill="#d9d8da" stroke="#26526f" stroke-width="1.5"/>
<path d="M246,1744.1 Q243,1759.35 246,1774.6" stroke="#e4e3e5" stroke-width="5" fill="none" opacity="0.8"/>
<ellipse cx="266.5" cy="1760.6999999999998" rx="11.3" ry="16.3" fill="#afafb1"/>
<ellipse cx="267.5" cy="1761.6999999999998" rx="6.5" ry="10" fill="#b8b8ba" opacity="0.6"/>
<path d="M250,1788.6 L282,1788.6 Q292,1788.6 293.2,1801.6 Q294.6,1817.85 293.2,1834.1 Q292,1847.1 282,1847.1 L250,1847.1 Q240,1847.1 238.8,1834.1 Q237.4,1817.85 238.8,1801.6 Q240,1788.6 250,1788.6Z" fill="#d9d8da" stroke="#26526f" stroke-width="1.5"/>
<path d="M246,1802.6 Q243,1817.85 246,1833.1" stroke="#e4e3e5" stroke-width="5" fill="none" opacity="0.8"/>
<ellipse cx="266.5" cy="1819.1999999999998" rx="11.3" ry="16.3" fill="#afafb1"/>
<ellipse cx="267.5" cy="1820.1999999999998" rx="6.5" ry="10" fill="#b8b8ba" opacity="0.6"/>
<path d="M200,937 L268,937" stroke="#111" stroke-width="2.2" fill="none"/>
<g transform="translate(0,0)"><path d="M304.6,744.6 C307.7,744.1 322.7,752.7 328.2,757.3 C333.7,761.9 335.6,767.5 337.8,772.2 C340.0,776.9 340.6,780.1 341.5,785.4 C342.4,790.7 342.2,797.8 343.0,804.0 C343.8,810.2 344.6,816.6 346.0,822.6 C347.4,828.6 354.3,838.0 351.6,839.8 C348.9,841.6 335.3,836.1 329.8,833.2 C324.3,830.3 321.4,827.5 318.7,822.6 C316.0,817.7 315.0,810.6 313.9,804.0 C312.8,797.4 313.0,790.1 312.3,782.8 C311.6,775.5 310.8,766.4 309.5,760.0 C308.2,753.6 301.5,745.1 304.6,744.6Z" fill="#c9dae6" stroke="#3f5f7a" stroke-width="1.6" stroke-linejoin="round"/>
</g>
<ellipse cx="328.6" cy="800.4" rx="11.3" ry="19.8" transform="rotate(-10 328.6 800.4)" fill="#8ea7c8" stroke="#3a6690" stroke-width="1.6"/>
<g transform="translate(0,0)"><path d="M324.5,983.0 C327.1,980.7 334.2,991.3 337.8,996.2 C341.4,1001.1 344.6,1007.3 346.3,1012.2 C348.0,1017.1 348.3,1020.1 348.2,1025.4 C348.1,1030.7 346.6,1037.8 345.5,1044.0 C344.4,1050.2 342.4,1054.9 341.5,1062.6 C340.6,1070.2 342.3,1086.3 340.4,1089.9 C338.5,1093.5 333.8,1087.5 330.3,1084.3 C326.9,1081.1 322.2,1075.9 319.7,1070.5 C317.2,1065.1 315.5,1058.2 315.2,1052.0 C314.9,1045.8 316.9,1040.4 318.1,1033.4 C319.3,1026.4 321.3,1018.4 322.4,1010.0 C323.5,1001.6 321.9,985.3 324.5,983.0Z" fill="#c9dae6" stroke="#3f5f7a" stroke-width="1.6" stroke-linejoin="round"/>
</g>
<ellipse cx="331.7" cy="1044" rx="11.3" ry="19.8" transform="rotate(10 331.7 1044)" fill="#8ea7c8" stroke="#3a6690" stroke-width="1.6"/>
<line x1="350.7" y1="780.4" x2="445.6" y2="780.4" stroke="#b8672c" stroke-width="2.4"/>
<path d="M453.6,780.4 L443.6,776.8 L446.1,780.4 L443.6,784.0Z" fill="#b8672c"/>
<line x1="455" y1="801" x2="360.4" y2="801" stroke="#b8672c" stroke-width="2.4"/>
<path d="M352.4,801 L362.4,797.4 L359.9,801 L362.4,804.6Z" fill="#b8672c"/>
<line x1="317.6" y1="859" x2="415.7" y2="859" stroke="#b8672c" stroke-width="2.4"/>
<path d="M423.7,859 L413.7,855.4 L416.2,859 L413.7,862.6Z" fill="#b8672c"/>
<line x1="424.7" y1="878" x2="327.0" y2="878" stroke="#b8672c" stroke-width="2.4"/>
<path d="M319,878 L329,874.4 L326.5,878 L329,881.6Z" fill="#b8672c"/>
<line x1="306.6" y1="943" x2="417.5" y2="943" stroke="#b63a28" stroke-width="2.8"/>
<path d="M428.7,943 L414.7,938 L418.2,943 L414.7,948Z" fill="#b63a28"/>
<line x1="429.4" y1="963" x2="319.8" y2="963" stroke="#b63a28" stroke-width="2.8"/>
<path d="M308.6,963 L322.6,958 L319.1,963 L322.6,968Z" fill="#b63a28"/>
<line x1="359.7" y1="1035" x2="440.8" y2="1035" stroke="#b63a28" stroke-width="2.8"/>
<path d="M452,1035 L438,1030 L441.5,1035 L438,1040Z" fill="#b63a28"/>
<line x1="452.6" y1="1054" x2="376.9" y2="1054" stroke="#b63a28" stroke-width="2.8"/>
<path d="M365.7,1054 L379.7,1049 L376.2,1054 L379.7,1059Z" fill="#b63a28"/>
<circle cx="394.9" cy="822.5" r="5.3" fill="#e9bf86" stroke="#c0702f" stroke-width="2.2"/>
<circle cx="439.3" cy="863.3" r="5.3" fill="#e9bf86" stroke="#c0702f" stroke-width="2.2"/>
<circle cx="367.3" cy="979.5" r="5.3" fill="#f7c6cf" stroke="#d9476a" stroke-width="2.2"/>
<circle cx="405.5" cy="1011.6" r="5.3" fill="#f7c6cf" stroke="#d9476a" stroke-width="2.2"/>
<text x="400.5" y="849" font-size="23" fill="#1e1e1e" font-weight="bold" letter-spacing="0.85" text-anchor="start" >EV</text>
<text x="374" y="1002" font-size="23" fill="#1e1e1e" font-weight="bold" letter-spacing="0.85" text-anchor="start" >EV</text>
<path d="M540.0,786.5 L540.5,788.7 L540.5,790.9 L539.9,793.1 L539.5,795.3 L539.1,797.5 L538.6,799.7 L537.7,801.7 L536.1,803.4 L534.9,805.3 L534.1,807.4 L532.7,809.2 L531.0,810.6 L529.1,811.8 L527.5,813.3 L525.8,814.7 L523.9,815.8 L522.2,817.2 L520.2,818.1 L517.8,818.1 L515.8,818.7 L513.9,820.0 L511.9,820.8 L509.6,820.9 L507.5,820.9 L505.3,820.9 L503.1,820.8 L501.0,820.7 L498.8,820.8 L496.6,820.3 L494.6,819.5 L492.6,818.7 L490.5,817.9 L488.5,817.0 L486.8,815.7 L484.9,814.5 L482.9,813.6 L481.1,812.2 L479.7,810.5 L478.3,808.9 L476.5,807.4 L475.3,805.6 L474.6,803.4 L473.5,801.4 L472.2,799.6 L471.2,797.6 L470.6,795.4 L470.3,793.2 L470.0,791.0 L470.0,788.7 L470.3,786.5 L470.2,784.3 L470.2,782.1 L470.7,779.9 L471.6,777.9 L472.6,775.9 L473.8,774.0 L474.5,772.0 L475.1,769.9 L476.3,768.1 L477.6,766.4 L478.6,764.4 L479.7,762.5 L481.3,760.9 L483.0,759.5 L484.7,758.1 L486.3,756.6 L488.1,755.2 L490.2,754.3 L492.3,753.6 L494.4,753.0 L496.6,752.8 L498.8,752.3 L500.8,751.3 L503.1,750.8 L505.3,751.1 L507.5,751.7 L509.6,752.1 L511.9,752.1 L514.1,752.1 L516.2,752.9 L518.3,753.8 L520.3,754.7 L522.1,756.0 L524.1,756.9 L526.1,757.8 L527.8,759.3 L529.2,761.1 L530.6,762.7 L532.3,764.2 L533.7,765.9 L534.6,767.9 L535.9,769.7 L537.2,771.5 L538.1,773.5 L538.7,775.6 L539.2,777.8 L539.5,780.0 L539.8,782.1 L539.8,784.3Z" fill="url(#gTan)" stroke="#c46b27" stroke-width="2.2"/>
<path d="M509.8,816.8 L509.1,817.5 L508.4,818.0 L507.7,818.4 L507.0,818.7 L506.2,818.8 L505.4,818.7 L504.7,818.5 L503.9,818.2 L503.2,817.7 L502.5,817.0 L502.5,817.0 L503.3,816.4 L504.0,815.9 L504.7,815.6 L505.4,815.5 L506.1,815.4 L506.8,815.4 L507.5,815.6 L508.2,815.8 L509.0,816.2 L509.8,816.8Z" fill="#ebd0a4" opacity="0.7"/>
<path d="M528.2,800.1 L527.9,801.4 L527.3,802.7 L526.7,804.0 L525.9,805.1 L525.0,806.1 L523.9,807.1 L522.8,807.9 L521.6,808.5 L520.3,809.0 L518.9,809.4 L518.9,809.4 L519.7,808.3 L520.6,807.3 L521.5,806.3 L522.4,805.3 L523.2,804.4 L524.2,803.6 L525.1,802.7 L526.1,801.8 L527.1,800.9 L528.2,800.1Z" fill="#ebd0a4" opacity="0.7"/>
<path d="M487.8,764.9 L488.2,763.9 L488.8,763.0 L489.4,762.2 L490.2,761.5 L491.0,761.0 L491.9,760.6 L492.8,760.3 L493.8,760.1 L494.9,760.1 L495.9,760.4 L495.9,760.4 L495.3,761.2 L494.6,761.9 L493.9,762.6 L493.2,763.1 L492.4,763.6 L491.6,764.0 L490.8,764.3 L489.9,764.6 L488.9,764.8 L487.8,764.9Z" fill="#ebd0a4" opacity="0.7"/>
<path d="M515.9,814.4 L515.4,815.1 L514.9,815.6 L514.3,816.1 L513.6,816.4 L513.0,816.6 L512.3,816.7 L511.6,816.8 L510.8,816.7 L510.1,816.5 L509.4,816.1 L509.4,816.1 L509.9,815.5 L510.5,815.1 L511.1,814.7 L511.7,814.4 L512.4,814.2 L513.0,814.1 L513.7,814.1 L514.4,814.1 L515.1,814.2 L515.9,814.4Z" fill="#ebd0a4" opacity="0.7"/>
<path d="M531.8,789.8 L532.4,790.8 L532.7,791.8 L532.9,792.7 L532.9,793.7 L532.7,794.6 L532.4,795.4 L531.9,796.2 L531.2,797.0 L530.4,797.6 L529.4,798.1 L529.4,798.1 L529.0,797.0 L528.9,796.0 L528.9,795.1 L528.9,794.3 L529.1,793.5 L529.4,792.8 L529.8,792.0 L530.3,791.3 L530.9,790.6 L531.8,789.8Z" fill="#ebd0a4" opacity="0.7"/>
<path d="M486.6,804.3 L485.5,804.3 L484.6,804.1 L483.8,803.7 L483.2,803.3 L482.7,802.7 L482.3,802.0 L482.1,801.2 L482.0,800.4 L482.1,799.5 L482.4,798.5 L482.4,798.5 L483.4,798.7 L484.2,799.1 L484.9,799.4 L485.5,799.9 L485.9,800.4 L486.2,801.0 L486.5,801.6 L486.6,802.4 L486.7,803.3 L486.6,804.3Z" fill="#ebd0a4" opacity="0.7"/>
<circle cx="512.6" cy="784.5" r="15.5" fill="url(#gTanNuc)"/>
<ellipse cx="507.1" cy="785.5" rx="7.8" ry="12.1" fill="#ecdcb6" opacity="0.85"/>
<path d="M507.6,800.0 L503.9,799.2 L500.6,797.3 L497.7,794.6 L495.7,791.2 L494.5,787.4 L494.4,783.4 L495.4,779.5 L497.2,776.0 L499.8,773.2 L503.0,771.3 L503.0,771.3 L501.0,774.3 L499.5,777.3 L498.6,780.4 L498.3,783.6 L498.5,786.7 L499.3,789.8 L500.5,792.7 L502.4,795.4 L504.7,797.8 L507.6,800.0Z" fill="#fbf5ea" opacity="0.9"/>
<path d="M517.7,850.0 L517.3,852.2 L516.3,854.4 L515.9,856.5 L516.0,858.8 L515.5,861.0 L514.5,863.0 L513.4,864.9 L512.5,866.9 L511.5,868.9 L510.1,870.6 L508.5,872.2 L507.1,873.9 L505.8,875.6 L504.4,877.4 L502.8,879.1 L500.9,880.3 L498.8,881.0 L496.6,881.7 L494.4,882.2 L492.3,882.5 L490.2,883.1 L488.1,883.8 L486.0,884.1 L483.9,884.5 L481.7,884.8 L479.5,884.6 L477.4,884.1 L475.3,883.4 L473.3,882.8 L471.2,882.4 L469.0,882.0 L466.8,881.7 L464.5,881.2 L462.7,879.9 L460.9,878.6 L458.9,877.6 L457.0,876.3 L455.4,874.7 L453.8,873.1 L452.5,871.2 L451.5,869.2 L450.5,867.2 L449.2,865.3 L448.5,863.1 L448.3,860.8 L447.7,858.7 L447.2,856.6 L447.1,854.4 L447.0,852.2 L446.8,850.0 L446.7,847.8 L446.9,845.6 L447.3,843.4 L447.8,841.3 L448.1,839.1 L448.8,837.0 L449.9,835.1 L450.9,833.1 L451.8,831.0 L453.1,829.3 L454.9,827.8 L456.5,826.4 L458.0,824.8 L459.6,823.2 L461.3,821.9 L463.0,820.5 L464.8,819.3 L466.8,818.3 L468.8,817.3 L470.7,816.3 L472.9,815.6 L475.1,815.3 L477.3,814.8 L479.5,814.4 L481.7,814.4 L483.9,814.8 L486.1,815.1 L488.4,815.0 L490.6,815.2 L492.7,816.3 L494.6,817.4 L496.7,818.1 L498.8,818.9 L500.5,820.4 L502.1,822.0 L503.6,823.5 L505.1,825.0 L506.7,826.6 L508.0,828.2 L509.4,829.9 L510.9,831.5 L511.9,833.4 L513.1,835.2 L514.3,837.1 L514.7,839.3 L515.5,841.3 L516.4,843.4 L516.8,845.6 L517.3,847.8Z" fill="url(#gTan)" stroke="#c46b27" stroke-width="2.2"/>
<path d="M455.1,856.3 L454.3,855.8 L453.7,855.2 L453.2,854.6 L452.9,853.9 L452.7,853.3 L452.7,852.5 L452.9,851.8 L453.2,851.1 L453.7,850.4 L454.4,849.8 L454.4,849.8 L455.1,850.4 L455.6,851.0 L456.0,851.6 L456.3,852.2 L456.4,852.8 L456.4,853.5 L456.3,854.1 L456.1,854.8 L455.7,855.5 L455.1,856.3Z" fill="#ebd0a4" opacity="0.7"/>
<path d="M509.7,851.1 L510.0,852.5 L510.2,853.8 L510.2,855.2 L510.0,856.6 L509.7,857.9 L509.3,859.2 L508.7,860.4 L508.0,861.6 L507.1,862.7 L506.2,863.7 L506.2,863.7 L506.4,862.3 L506.7,861.0 L507.0,859.8 L507.3,858.5 L507.6,857.3 L508.0,856.1 L508.4,854.9 L508.8,853.7 L509.2,852.4 L509.7,851.1Z" fill="#ebd0a4" opacity="0.7"/>
<path d="M454.7,840.4 L454.4,839.7 L454.3,838.9 L454.3,838.3 L454.4,837.6 L454.6,837.0 L454.9,836.5 L455.4,836.0 L455.9,835.6 L456.5,835.2 L457.3,834.9 L457.3,834.9 L457.5,835.7 L457.5,836.4 L457.4,837.1 L457.3,837.7 L457.1,838.2 L456.8,838.7 L456.4,839.2 L456.0,839.6 L455.4,840.0 L454.7,840.4Z" fill="#ebd0a4" opacity="0.7"/>
<path d="M473.7,823.4 L474.7,822.7 L475.8,822.1 L476.9,821.7 L478.1,821.4 L479.3,821.2 L480.5,821.2 L481.7,821.3 L482.9,821.5 L484.0,821.9 L485.2,822.5 L485.2,822.5 L484.0,822.8 L482.8,823.0 L481.7,823.2 L480.6,823.4 L479.5,823.5 L478.4,823.6 L477.2,823.6 L476.1,823.6 L474.9,823.6 L473.7,823.4Z" fill="#ebd0a4" opacity="0.7"/>
<path d="M483.6,875.7 L482.8,876.6 L481.8,877.1 L480.9,877.4 L479.9,877.6 L478.9,877.6 L478.0,877.4 L477.0,877.0 L476.2,876.5 L475.3,875.8 L474.7,874.8 L474.7,874.8 L475.7,874.3 L476.7,874.0 L477.6,873.8 L478.5,873.8 L479.3,873.8 L480.1,873.9 L481.0,874.2 L481.8,874.6 L482.7,875.0 L483.6,875.7Z" fill="#ebd0a4" opacity="0.7"/>
<path d="M456.8,834.1 L456.8,832.9 L456.9,831.9 L457.3,830.9 L457.7,830.0 L458.3,829.2 L459.0,828.6 L459.8,828.0 L460.8,827.6 L461.8,827.3 L463.0,827.2 L463.0,827.2 L462.7,828.3 L462.3,829.2 L461.9,830.1 L461.5,830.9 L460.9,831.6 L460.3,832.2 L459.6,832.7 L458.8,833.2 L457.9,833.7 L456.8,834.1Z" fill="#ebd0a4" opacity="0.7"/>
<circle cx="489.0" cy="848" r="15.5" fill="url(#gTanNuc)"/>
<ellipse cx="483.5" cy="849" rx="7.8" ry="12.1" fill="#ecdcb6" opacity="0.85"/>
<path d="M484.0,863.5 L480.3,862.7 L477.0,860.8 L474.1,858.1 L472.1,854.7 L470.9,850.9 L470.8,846.9 L471.8,843.0 L473.6,839.5 L476.2,836.7 L479.4,834.8 L479.4,834.8 L477.4,837.8 L475.9,840.8 L475.0,843.9 L474.7,847.1 L474.9,850.2 L475.7,853.3 L476.9,856.2 L478.8,858.9 L481.1,861.3 L484.0,863.5Z" fill="#fbf5ea" opacity="0.9"/>
<path d="M584.4,850.6 L584.3,852.8 L584.1,854.9 L583.9,857.1 L583.3,859.1 L582.2,861.1 L581.6,863.1 L581.3,865.3 L580.3,867.3 L579.4,869.2 L578.6,871.4 L577.4,873.2 L575.9,874.9 L574.3,876.5 L572.5,877.8 L570.7,879.1 L569.0,880.6 L567.2,882.0 L565.2,882.8 L563.1,883.7 L560.9,884.1 L558.7,884.4 L556.6,885.1 L554.4,885.5 L552.2,885.2 L550.0,885.2 L547.8,885.6 L545.6,885.6 L543.4,885.4 L541.1,885.1 L539.0,884.5 L536.9,883.6 L535.0,882.5 L533.0,881.5 L531.1,880.4 L529.2,879.3 L527.6,877.7 L526.5,875.7 L525.2,873.9 L523.5,872.5 L521.8,871.1 L520.7,869.2 L519.7,867.2 L518.8,865.3 L517.9,863.3 L517.1,861.3 L516.4,859.2 L515.6,857.2 L514.8,855.0 L514.3,852.8 L514.0,850.6 L513.9,848.3 L513.9,846.0 L514.3,843.8 L515.3,841.7 L516.2,839.6 L516.6,837.4 L517.3,835.2 L518.6,833.3 L520.1,831.6 L521.6,830.0 L523.2,828.4 L524.5,826.7 L526.2,825.3 L528.2,824.2 L529.9,822.9 L531.3,821.1 L533.1,819.9 L535.2,819.2 L537.2,818.3 L539.3,817.6 L541.4,817.3 L543.5,816.5 L545.6,815.6 L547.8,815.4 L550.0,815.8 L552.2,816.0 L554.4,816.1 L556.5,816.3 L558.7,816.6 L560.9,816.9 L563.1,817.5 L565.1,818.6 L567.0,819.6 L568.7,821.1 L570.4,822.6 L572.2,823.7 L573.8,825.3 L575.4,826.8 L577.1,828.1 L578.6,829.8 L579.6,831.8 L580.7,833.7 L582.1,835.5 L583.1,837.5 L584.0,839.6 L584.5,841.7 L584.4,844.0 L584.5,846.2 L584.5,848.4Z" fill="url(#gTan)" stroke="#c46b27" stroke-width="2.2"/>
<path d="M525.1,838.6 L525.2,837.5 L525.4,836.4 L525.8,835.4 L526.2,834.4 L526.8,833.5 L527.5,832.7 L528.3,831.9 L529.2,831.3 L530.1,830.8 L531.2,830.4 L531.2,830.4 L530.8,831.4 L530.3,832.4 L529.8,833.3 L529.3,834.1 L528.8,834.9 L528.1,835.7 L527.5,836.5 L526.8,837.2 L526.0,837.9 L525.1,838.6Z" fill="#ebd0a4" opacity="0.7"/>
<path d="M561.5,823.1 L562.8,823.2 L564.0,823.4 L565.2,823.8 L566.3,824.3 L567.4,825.0 L568.4,825.7 L569.2,826.6 L570.0,827.5 L570.7,828.5 L571.3,829.7 L571.3,829.7 L570.1,829.2 L569.0,828.7 L568.0,828.1 L567.0,827.5 L566.1,826.9 L565.1,826.2 L564.2,825.5 L563.3,824.8 L562.4,824.0 L561.5,823.1Z" fill="#ebd0a4" opacity="0.7"/>
<path d="M523.2,847.1 L522.5,846.2 L522.2,845.4 L522.0,844.6 L521.9,843.7 L522.0,842.9 L522.3,842.2 L522.8,841.5 L523.4,840.9 L524.2,840.4 L525.1,840.0 L525.1,840.0 L525.6,840.9 L525.8,841.8 L525.9,842.6 L525.9,843.3 L525.8,844.0 L525.6,844.6 L525.2,845.3 L524.7,845.9 L524.1,846.5 L523.2,847.1Z" fill="#ebd0a4" opacity="0.7"/>
<path d="M575.4,850.0 L576.1,851.2 L576.4,852.4 L576.6,853.7 L576.6,854.9 L576.5,856.2 L576.1,857.4 L575.6,858.5 L574.9,859.6 L574.1,860.5 L573.1,861.4 L573.1,861.4 L573.0,860.0 L573.0,858.8 L573.0,857.7 L573.1,856.6 L573.3,855.5 L573.6,854.4 L573.9,853.4 L574.3,852.3 L574.8,851.2 L575.4,850.0Z" fill="#ebd0a4" opacity="0.7"/>
<path d="M530.3,868.7 L529.1,868.3 L528.1,867.7 L527.2,867.0 L526.5,866.1 L525.8,865.2 L525.3,864.2 L524.9,863.1 L524.7,862.0 L524.6,860.8 L524.8,859.6 L524.8,859.6 L525.7,860.4 L526.4,861.2 L527.1,862.0 L527.7,862.8 L528.3,863.7 L528.8,864.6 L529.2,865.5 L529.6,866.5 L530.0,867.6 L530.3,868.7Z" fill="#ebd0a4" opacity="0.7"/>
<path d="M538.7,824.0 L539.0,823.1 L539.5,822.4 L540.1,821.9 L540.7,821.4 L541.4,821.1 L542.2,821.0 L542.9,821.0 L543.7,821.2 L544.5,821.5 L545.3,822.1 L545.3,822.1 L544.7,822.9 L544.2,823.5 L543.6,823.9 L543.0,824.3 L542.4,824.5 L541.8,824.7 L541.1,824.7 L540.4,824.6 L539.6,824.4 L538.7,824.0Z" fill="#ebd0a4" opacity="0.7"/>
<circle cx="557.3" cy="848.6" r="15.5" fill="url(#gTanNuc)"/>
<ellipse cx="551.8" cy="849.6" rx="7.8" ry="12.1" fill="#ecdcb6" opacity="0.85"/>
<path d="M552.3,864.1 L548.6,863.3 L545.3,861.4 L542.4,858.7 L540.4,855.3 L539.2,851.5 L539.1,847.5 L540.1,843.6 L541.9,840.1 L544.5,837.3 L547.7,835.4 L547.7,835.4 L545.7,838.4 L544.2,841.4 L543.3,844.5 L543.0,847.7 L543.2,850.8 L544.0,853.9 L545.2,856.8 L547.1,859.5 L549.4,861.9 L552.3,864.1Z" fill="#fbf5ea" opacity="0.9"/>
<path d="M521.4,976.6 L521.3,978.9 L521.2,981.1 L520.7,983.3 L520.1,985.5 L519.9,987.8 L519.5,990.1 L518.6,992.2 L517.1,994.0 L515.5,995.7 L514.1,997.4 L512.5,999.0 L510.8,1000.5 L509.2,1001.9 L507.8,1003.7 L506.5,1005.6 L504.8,1007.1 L502.8,1008.3 L500.7,1009.1 L498.5,1009.7 L496.4,1010.5 L494.4,1011.7 L492.3,1012.5 L490.0,1013.1 L487.7,1013.1 L485.4,1012.8 L483.1,1012.8 L480.8,1012.8 L478.6,1012.2 L476.5,1011.4 L474.3,1010.7 L472.2,1010.0 L469.9,1009.6 L467.8,1008.7 L466.0,1007.1 L464.2,1005.8 L462.2,1004.6 L460.4,1003.2 L458.7,1001.7 L457.2,1000.0 L456.0,997.9 L454.9,996.0 L453.7,994.0 L452.9,991.9 L452.3,989.7 L451.4,987.7 L450.7,985.5 L450.7,983.2 L450.6,981.0 L450.1,978.8 L450.0,976.6 L450.1,974.4 L450.3,972.2 L450.5,969.9 L450.7,967.7 L451.6,965.6 L452.5,963.6 L453.1,961.4 L453.9,959.3 L455.0,957.3 L456.1,955.3 L457.2,953.3 L458.8,951.6 L460.2,949.8 L461.9,948.2 L464.1,947.3 L466.2,946.4 L468.0,945.0 L469.9,943.6 L472.0,942.9 L474.3,942.6 L476.6,942.2 L478.8,941.8 L481.0,941.5 L483.2,941.3 L485.4,940.8 L487.7,940.3 L490.0,940.5 L492.2,940.9 L494.4,941.6 L496.4,942.8 L498.5,943.4 L500.9,943.7 L502.9,944.7 L504.8,946.0 L506.8,947.2 L508.6,948.6 L510.1,950.3 L511.4,952.2 L512.7,954.0 L514.1,955.8 L515.3,957.6 L516.8,959.4 L518.1,961.2 L518.7,963.4 L519.0,965.7 L519.6,967.8 L520.6,969.9 L521.5,972.0 L521.6,974.3Z" fill="url(#gPink)" stroke="#cf5668" stroke-width="1.8"/>
<path d="M457.6,985.2 L456.6,984.0 L455.9,982.7 L455.4,981.3 L455.0,979.9 L454.8,978.5 L454.9,977.0 L455.0,975.5 L455.4,974.1 L455.9,972.7 L456.7,971.4 L456.7,971.4 L457.1,972.9 L457.3,974.3 L457.5,975.6 L457.7,977.0 L457.8,978.3 L457.8,979.6 L457.8,980.9 L457.8,982.3 L457.7,983.7 L457.6,985.2Z" fill="#f0a6b1" opacity="0.6"/>
<path d="M456.1,975.2 L455.6,974.4 L455.3,973.6 L455.1,972.8 L455.0,972.0 L455.1,971.2 L455.3,970.4 L455.6,969.7 L456.1,969.0 L456.7,968.4 L457.4,967.8 L457.4,967.8 L457.8,968.7 L458.0,969.5 L458.1,970.3 L458.1,971.0 L458.0,971.7 L457.9,972.4 L457.6,973.1 L457.2,973.8 L456.8,974.5 L456.1,975.2Z" fill="#f0a6b1" opacity="0.6"/>
<path d="M464.5,954.4 L464.7,953.5 L465.0,952.8 L465.4,952.2 L465.9,951.6 L466.4,951.1 L467.0,950.7 L467.7,950.4 L468.4,950.3 L469.2,950.2 L470.1,950.2 L470.1,950.2 L469.7,951.0 L469.4,951.7 L468.9,952.3 L468.5,952.8 L468.0,953.2 L467.4,953.6 L466.8,953.9 L466.1,954.1 L465.4,954.3 L464.5,954.4Z" fill="#f0a6b1" opacity="0.6"/>
<path d="M511.2,993.1 L510.8,994.4 L510.3,995.6 L509.6,996.7 L508.9,997.7 L508.0,998.7 L507.1,999.6 L506.0,1000.3 L504.9,1001.0 L503.8,1001.6 L502.5,1002.0 L502.5,1002.0 L503.3,1000.9 L504.1,1000.0 L504.9,999.0 L505.7,998.1 L506.5,997.2 L507.4,996.4 L508.3,995.6 L509.2,994.7 L510.1,993.9 L511.2,993.1Z" fill="#f0a6b1" opacity="0.6"/>
<path d="M516.7,973.1 L517.4,974.3 L517.9,975.5 L518.2,976.8 L518.4,978.1 L518.4,979.4 L518.2,980.7 L517.8,982.0 L517.3,983.2 L516.6,984.4 L515.6,985.4 L515.6,985.4 L515.3,984.1 L515.2,982.8 L515.1,981.6 L515.1,980.3 L515.2,979.2 L515.3,978.0 L515.5,976.8 L515.8,975.6 L516.2,974.4 L516.7,973.1Z" fill="#f0a6b1" opacity="0.6"/>
<path d="M499.7,998.3 L499.1,999.2 L498.4,999.9 L497.7,1000.5 L496.9,1001.1 L496.0,1001.5 L495.1,1001.8 L494.1,1002.0 L493.1,1002.1 L492.2,1002.1 L491.1,1002.0 L491.1,1002.0 L491.9,1001.3 L492.7,1000.8 L493.5,1000.4 L494.3,999.9 L495.2,999.6 L496.0,999.2 L496.9,998.9 L497.7,998.7 L498.7,998.5 L499.7,998.3Z" fill="#f0a6b1" opacity="0.6"/>
<circle cx="492.4" cy="974.0" r="15" fill="url(#gPinkNuc)" stroke="#c9485e" stroke-width="1.3"/>
<ellipse cx="489.4" cy="975.0" rx="8.2" ry="10.5" fill="#fad6dd" opacity="0.7"/>
<path d="M484.9,988.7 L481.9,987.6 L479.2,985.7 L476.9,983.2 L475.3,980.2 L474.4,976.9 L474.2,973.4 L474.9,970.1 L476.2,967.0 L478.2,964.3 L480.7,962.3 L480.7,962.3 L479.3,965.1 L478.3,967.9 L477.7,970.7 L477.6,973.5 L477.8,976.3 L478.5,979.0 L479.5,981.6 L480.9,984.2 L482.7,986.5 L484.9,988.7Z" fill="#fde9ec" opacity="0.9"/>
<path d="M526.7,1034.3 L527.0,1036.6 L527.0,1038.9 L526.7,1041.1 L526.2,1043.4 L525.3,1045.5 L524.1,1047.5 L523.5,1049.7 L522.9,1052.0 L521.9,1054.0 L520.5,1055.8 L518.8,1057.4 L517.2,1059.1 L515.6,1060.7 L514.0,1062.4 L512.1,1063.6 L510.0,1064.5 L508.0,1065.5 L506.1,1066.8 L504.2,1068.1 L501.9,1068.6 L499.6,1068.8 L497.4,1069.1 L495.2,1069.3 L493.0,1069.4 L490.8,1069.2 L488.6,1069.2 L486.4,1069.5 L484.2,1069.0 L482.0,1068.7 L479.6,1068.8 L477.4,1068.2 L475.4,1067.1 L473.2,1066.3 L471.2,1065.2 L469.4,1063.7 L467.6,1062.3 L465.6,1061.1 L463.9,1059.6 L462.3,1057.9 L461.1,1055.9 L460.3,1053.7 L459.5,1051.5 L458.6,1049.4 L457.9,1047.3 L457.2,1045.2 L456.2,1043.2 L455.6,1041.0 L455.4,1038.8 L454.9,1036.6 L454.9,1034.3 L454.9,1032.0 L454.8,1029.8 L455.3,1027.5 L456.1,1025.4 L456.6,1023.2 L457.4,1021.1 L458.4,1019.1 L459.4,1017.1 L460.8,1015.2 L461.9,1013.3 L463.3,1011.5 L465.0,1010.1 L466.5,1008.4 L468.1,1006.9 L470.0,1005.7 L472.0,1004.7 L473.9,1003.6 L475.6,1002.0 L477.5,1000.6 L479.6,999.8 L481.7,998.8 L483.8,997.8 L486.2,997.5 L488.5,997.8 L490.8,997.9 L493.1,997.7 L495.4,998.0 L497.6,998.6 L499.9,999.0 L502.1,999.4 L504.2,1000.6 L506.1,1001.9 L508.0,1002.9 L509.8,1004.4 L511.6,1005.7 L513.6,1006.7 L515.4,1008.1 L517.0,1009.7 L518.5,1011.3 L519.8,1013.2 L520.8,1015.2 L521.9,1017.2 L522.8,1019.3 L523.6,1021.3 L524.6,1023.3 L525.9,1025.3 L526.5,1027.5 L526.2,1029.8 L526.2,1032.1Z" fill="url(#gPink)" stroke="#cf5668" stroke-width="1.8"/>
<path d="M461.5,1039.0 L460.9,1037.9 L460.4,1036.7 L460.2,1035.5 L460.0,1034.3 L460.0,1033.1 L460.1,1031.8 L460.3,1030.6 L460.7,1029.4 L461.2,1028.3 L461.9,1027.2 L461.9,1027.2 L462.1,1028.5 L462.2,1029.7 L462.3,1030.9 L462.3,1032.0 L462.3,1033.2 L462.2,1034.3 L462.1,1035.4 L461.9,1036.6 L461.7,1037.8 L461.5,1039.0Z" fill="#f0a6b1" opacity="0.6"/>
<path d="M518.8,1036.2 L519.5,1037.1 L519.8,1037.9 L520.1,1038.8 L520.1,1039.7 L520.0,1040.5 L519.8,1041.3 L519.4,1042.1 L518.8,1042.8 L518.1,1043.4 L517.2,1043.9 L517.2,1043.9 L516.8,1043.0 L516.5,1042.1 L516.4,1041.3 L516.4,1040.5 L516.5,1039.8 L516.7,1039.0 L517.0,1038.3 L517.5,1037.6 L518.0,1036.9 L518.8,1036.2Z" fill="#f0a6b1" opacity="0.6"/>
<path d="M480.1,1006.9 L480.9,1006.0 L481.8,1005.2 L482.8,1004.6 L483.8,1004.1 L484.9,1003.8 L486.1,1003.7 L487.2,1003.7 L488.4,1003.9 L489.5,1004.3 L490.6,1004.9 L490.6,1004.9 L489.6,1005.6 L488.6,1006.1 L487.6,1006.5 L486.6,1006.8 L485.6,1007.1 L484.6,1007.2 L483.5,1007.3 L482.4,1007.3 L481.3,1007.2 L480.1,1006.9Z" fill="#f0a6b1" opacity="0.6"/>
<path d="M508.2,1056.8 L508.1,1057.8 L507.8,1058.7 L507.4,1059.4 L506.8,1060.0 L506.2,1060.4 L505.5,1060.8 L504.8,1060.9 L504.0,1060.9 L503.1,1060.8 L502.1,1060.4 L502.1,1060.4 L502.5,1059.4 L502.9,1058.7 L503.3,1058.1 L503.8,1057.6 L504.3,1057.2 L504.9,1056.9 L505.6,1056.7 L506.3,1056.6 L507.2,1056.6 L508.2,1056.8Z" fill="#f0a6b1" opacity="0.6"/>
<path d="M519.4,1045.4 L519.7,1046.3 L519.9,1047.1 L519.9,1047.8 L519.7,1048.6 L519.5,1049.2 L519.1,1049.9 L518.5,1050.4 L517.9,1050.8 L517.2,1051.2 L516.2,1051.4 L516.2,1051.4 L516.0,1050.5 L516.0,1049.7 L516.1,1048.9 L516.2,1048.3 L516.5,1047.7 L516.8,1047.1 L517.3,1046.6 L517.8,1046.2 L518.5,1045.7 L519.4,1045.4Z" fill="#f0a6b1" opacity="0.6"/>
<path d="M476.1,1058.4 L474.8,1058.1 L473.6,1057.5 L472.4,1056.9 L471.4,1056.1 L470.4,1055.3 L469.5,1054.3 L468.7,1053.2 L468.0,1052.1 L467.4,1050.9 L467.0,1049.6 L467.0,1049.6 L468.1,1050.4 L469.0,1051.3 L470.0,1052.1 L470.9,1052.9 L471.8,1053.8 L472.7,1054.7 L473.5,1055.6 L474.4,1056.5 L475.3,1057.4 L476.1,1058.4Z" fill="#f0a6b1" opacity="0.6"/>
<circle cx="497.8" cy="1031.7" r="15" fill="url(#gPinkNuc)" stroke="#c9485e" stroke-width="1.3"/>
<ellipse cx="494.8" cy="1032.7" rx="8.2" ry="10.5" fill="#fad6dd" opacity="0.7"/>
<path d="M490.3,1046.4 L487.3,1045.3 L484.6,1043.4 L482.3,1040.9 L480.7,1037.9 L479.8,1034.6 L479.6,1031.1 L480.3,1027.8 L481.6,1024.7 L483.6,1022.0 L486.1,1020.0 L486.1,1020.0 L484.7,1022.8 L483.7,1025.6 L483.1,1028.4 L483.0,1031.2 L483.2,1034.0 L483.9,1036.7 L484.9,1039.3 L486.3,1041.9 L488.1,1044.2 L490.3,1046.4Z" fill="#fde9ec" opacity="0.9"/>
<path d="M589.1,1025.0 L589.1,1027.3 L588.6,1029.5 L587.8,1031.7 L587.2,1033.8 L587.0,1036.1 L586.4,1038.3 L585.5,1040.4 L584.4,1042.4 L583.1,1044.3 L581.8,1046.1 L580.5,1047.9 L579.0,1049.6 L577.2,1051.0 L575.5,1052.4 L573.7,1053.8 L571.8,1054.9 L570.0,1056.3 L568.1,1057.5 L566.0,1058.4 L564.0,1059.5 L561.9,1060.4 L559.7,1060.9 L557.3,1060.9 L555.1,1061.1 L552.8,1061.8 L550.5,1061.9 L548.2,1061.2 L546.0,1060.4 L543.8,1060.0 L541.6,1059.5 L539.4,1058.8 L537.3,1058.0 L535.4,1056.7 L533.7,1055.1 L531.8,1053.9 L530.0,1052.6 L528.1,1051.3 L526.5,1049.7 L525.2,1047.8 L523.8,1046.1 L522.4,1044.3 L521.0,1042.5 L520.1,1040.4 L519.7,1038.1 L518.9,1036.0 L518.0,1033.9 L517.5,1031.7 L517.3,1029.5 L517.0,1027.3 L516.6,1025.0 L516.9,1022.7 L517.4,1020.5 L517.6,1018.3 L518.2,1016.1 L519.0,1014.0 L519.6,1011.9 L520.6,1009.9 L521.4,1007.7 L522.0,1005.5 L523.4,1003.6 L525.0,1002.0 L526.4,1000.2 L528.1,998.7 L529.7,997.1 L531.2,995.2 L533.2,994.1 L535.4,993.3 L537.5,992.4 L539.6,991.7 L541.7,990.9 L543.9,990.2 L546.1,990.1 L548.4,989.8 L550.6,989.4 L552.8,989.3 L555.0,989.4 L557.3,989.7 L559.5,989.7 L561.8,990.0 L564.0,990.7 L566.1,991.4 L568.2,992.3 L570.3,993.1 L572.4,994.1 L574.2,995.6 L576.0,996.9 L577.8,998.4 L579.2,1000.2 L580.6,1002.0 L582.2,1003.6 L583.4,1005.6 L584.6,1007.5 L585.7,1009.5 L586.0,1011.8 L586.4,1014.1 L587.2,1016.2 L588.0,1018.3 L588.3,1020.5 L588.5,1022.8Z" fill="url(#gPink)" stroke="#cf5668" stroke-width="1.8"/>
<path d="M551.1,1054.8 L549.8,1055.4 L548.5,1055.8 L547.2,1055.9 L545.9,1055.9 L544.7,1055.7 L543.5,1055.2 L542.3,1054.6 L541.3,1053.9 L540.3,1052.9 L539.5,1051.7 L539.5,1051.7 L540.9,1051.6 L542.2,1051.6 L543.4,1051.7 L544.5,1051.8 L545.6,1052.1 L546.7,1052.4 L547.8,1052.9 L548.9,1053.4 L550.0,1054.0 L551.1,1054.8Z" fill="#f0a6b1" opacity="0.6"/>
<path d="M563.5,1050.1 L563.1,1050.8 L562.6,1051.3 L562.0,1051.8 L561.4,1052.1 L560.7,1052.3 L560.0,1052.5 L559.3,1052.5 L558.6,1052.4 L557.9,1052.3 L557.1,1051.9 L557.1,1051.9 L557.7,1051.3 L558.3,1050.9 L558.9,1050.5 L559.4,1050.2 L560.0,1050.0 L560.7,1049.9 L561.3,1049.8 L562.0,1049.8 L562.7,1049.9 L563.5,1050.1Z" fill="#f0a6b1" opacity="0.6"/>
<path d="M550.1,998.5 L551.0,997.9 L552.0,997.5 L553.0,997.3 L554.0,997.2 L555.0,997.2 L556.0,997.3 L557.0,997.6 L557.9,998.0 L558.8,998.5 L559.6,999.2 L559.6,999.2 L558.6,999.5 L557.6,999.6 L556.7,999.6 L555.7,999.7 L554.8,999.6 L553.9,999.5 L553.0,999.4 L552.1,999.1 L551.1,998.9 L550.1,998.5Z" fill="#f0a6b1" opacity="0.6"/>
<path d="M544.9,1052.3 L543.5,1052.5 L542.1,1052.5 L540.8,1052.2 L539.5,1051.8 L538.2,1051.3 L537.1,1050.5 L536.1,1049.6 L535.2,1048.6 L534.4,1047.5 L533.8,1046.1 L533.8,1046.1 L535.2,1046.5 L536.4,1046.9 L537.6,1047.4 L538.7,1047.9 L539.8,1048.4 L540.8,1049.1 L541.9,1049.7 L542.9,1050.5 L543.9,1051.3 L544.9,1052.3Z" fill="#f0a6b1" opacity="0.6"/>
<path d="M580.2,1027.5 L580.9,1028.2 L581.3,1029.0 L581.5,1029.7 L581.6,1030.5 L581.5,1031.2 L581.3,1031.9 L580.9,1032.5 L580.4,1033.1 L579.7,1033.6 L578.8,1034.0 L578.8,1034.0 L578.3,1033.2 L578.0,1032.4 L577.8,1031.7 L577.8,1031.0 L577.9,1030.4 L578.1,1029.8 L578.4,1029.2 L578.8,1028.7 L579.4,1028.1 L580.2,1027.5Z" fill="#f0a6b1" opacity="0.6"/>
<path d="M564.0,996.6 L565.5,996.5 L567.0,996.7 L568.4,997.0 L569.8,997.6 L571.0,998.3 L572.2,999.2 L573.2,1000.3 L574.0,1001.5 L574.7,1002.8 L575.2,1004.2 L575.2,1004.2 L573.8,1003.7 L572.5,1003.1 L571.3,1002.5 L570.1,1001.9 L569.1,1001.2 L568.0,1000.4 L567.0,999.6 L566.0,998.7 L565.0,997.7 L564.0,996.6Z" fill="#f0a6b1" opacity="0.6"/>
<circle cx="559.8" cy="1022.4" r="15" fill="url(#gPinkNuc)" stroke="#c9485e" stroke-width="1.3"/>
<ellipse cx="556.8" cy="1023.4" rx="8.2" ry="10.5" fill="#fad6dd" opacity="0.7"/>
<path d="M552.3,1037.1 L549.3,1036.0 L546.6,1034.1 L544.3,1031.6 L542.7,1028.6 L541.8,1025.3 L541.6,1021.8 L542.3,1018.5 L543.6,1015.4 L545.6,1012.7 L548.1,1010.7 L548.1,1010.7 L546.7,1013.5 L545.7,1016.3 L545.1,1019.1 L545.0,1021.9 L545.2,1024.7 L545.9,1027.4 L546.9,1030.0 L548.3,1032.6 L550.1,1034.9 L552.3,1037.1Z" fill="#fde9ec" opacity="0.9"/>
<path d="M521,760 L521,729 M599.6,955 L515,955" stroke="#111" stroke-width="2.4" fill="none"/>
<line x1="692.5" y1="823.6" x2="890" y2="823.6" stroke="#b35d1e" stroke-width="4.2"/>
<path d="M907.4,823.6 L882,814.6 L888,823.6 L882,832.6Z" fill="#b35d1e"/>
<line x1="692.5" y1="1008.3" x2="890" y2="1008.3" stroke="#d72b35" stroke-width="4.2"/>
<path d="M907.4,1008.3 L882,999.3 L888,1008.3 L882,1017.3Z" fill="#d72b35"/>
<text x="982.3" y="802.3" font-size="22.6" fill="#222" stroke="#222" stroke-width="0.8" textLength="322.7" lengthAdjust="spacingAndGlyphs" letter-spacing="0.90" text-anchor="start" >Positive immune response</text>
<text x="982.3" y="831.3" font-size="22.6" fill="#222" stroke="#222" stroke-width="0.8" textLength="391.7" lengthAdjust="spacingAndGlyphs" letter-spacing="0.90" text-anchor="start" >(e.g., pro-inflammatory, immune</text>
<text x="982.3" y="860.3" font-size="22.6" fill="#222" stroke="#222" stroke-width="0.8" textLength="129.4" lengthAdjust="spacingAndGlyphs" letter-spacing="0.90" text-anchor="start" >activation)</text>
<text x="988.7" y="995" font-size="22.6" fill="#222" stroke="#222" stroke-width="0.8" textLength="332.1" lengthAdjust="spacingAndGlyphs" letter-spacing="0.90" text-anchor="start" >Negative immune response</text>
<text x="988.7" y="1024" font-size="22.6" fill="#222" stroke="#222" stroke-width="0.8" textLength="395.8" lengthAdjust="spacingAndGlyphs" letter-spacing="0.90" text-anchor="start" >(e.g., anti-inflammatory, immune</text>
<text x="988.7" y="1053" font-size="22.6" fill="#222" stroke="#222" stroke-width="0.8" textLength="157.0" lengthAdjust="spacingAndGlyphs" letter-spacing="0.90" text-anchor="start" >suppression)</text>
<rect x="1118.5" y="905" width="157" height="10.4" fill="#8a8b8c" stroke="#2b5a82" stroke-width="2.2"/>
<line x1="1128" y1="910.4" x2="1221" y2="910.4" stroke="#343434" stroke-width="2.6" stroke-dasharray="12,9"/>
<path d="M1195.6,916 L1213.7,950 L1178,950Z" fill="#3b3b3b" stroke="#222" stroke-width="1.5"/>
<path d="M1215,861 Q1255,862 1265,891" fill="none" stroke="#111" stroke-width="2.2"/>
<path d="M1266.5,895.3 L1266.7,880.9 L1257.4,884.1Z" fill="#111"/>
<path d="M1180,967 Q1145,960 1133,934" fill="none" stroke="#111" stroke-width="2.2"/>
<path d="M1131.1,929.9 L1132.3,944.2 L1141.3,940.1Z" fill="#111"/>
<g transform="translate(4,352.7)"><path d="M304.6,744.6 C307.7,744.1 322.7,752.7 328.2,757.3 C333.7,761.9 335.6,767.5 337.8,772.2 C340.0,776.9 340.6,780.1 341.5,785.4 C342.4,790.7 342.2,797.8 343.0,804.0 C343.8,810.2 344.6,816.6 346.0,822.6 C347.4,828.6 354.3,838.0 351.6,839.8 C348.9,841.6 335.3,836.1 329.8,833.2 C324.3,830.3 321.4,827.5 318.7,822.6 C316.0,817.7 315.0,810.6 313.9,804.0 C312.8,797.4 313.0,790.1 312.3,782.8 C311.6,775.5 310.8,766.4 309.5,760.0 C308.2,753.6 301.5,745.1 304.6,744.6Z" fill="#c9dae6" stroke="#3f5f7a" stroke-width="1.6" stroke-linejoin="round"/>
</g>
<ellipse cx="332.6" cy="1153.1" rx="11.3" ry="19.8" transform="rotate(-10 332.6 1153.1)" fill="#8ea7c8" stroke="#3a6690" stroke-width="1.6"/>
<g transform="translate(-1.3,343.2)"><path d="M324.5,983.0 C327.1,980.7 334.2,991.3 337.8,996.2 C341.4,1001.1 344.6,1007.3 346.3,1012.2 C348.0,1017.1 348.3,1020.1 348.2,1025.4 C348.1,1030.7 346.6,1037.8 345.5,1044.0 C344.4,1050.2 342.4,1054.9 341.5,1062.6 C340.6,1070.2 342.3,1086.3 340.4,1089.9 C338.5,1093.5 333.8,1087.5 330.3,1084.3 C326.9,1081.1 322.2,1075.9 319.7,1070.5 C317.2,1065.1 315.5,1058.2 315.2,1052.0 C314.9,1045.8 316.9,1040.4 318.1,1033.4 C319.3,1026.4 321.3,1018.4 322.4,1010.0 C323.5,1001.6 321.9,985.3 324.5,983.0Z" fill="#c9dae6" stroke="#3f5f7a" stroke-width="1.6" stroke-linejoin="round"/>
</g>
<ellipse cx="330.4" cy="1387.2" rx="11.3" ry="19.8" transform="rotate(10 330.4 1387.2)" fill="#8ea7c8" stroke="#3a6690" stroke-width="1.6"/>
<line x1="380" y1="1135.5" x2="460.5" y2="1135.5" stroke="#b8672c" stroke-width="2.4"/>
<path d="M468.5,1135.5 L458.5,1131.9 L461.0,1135.5 L458.5,1139.1Z" fill="#b8672c"/>
<line x1="469.5" y1="1154.7" x2="389.6" y2="1154.7" stroke="#b8672c" stroke-width="2.4"/>
<path d="M381.6,1154.7 L391.6,1151.1000000000001 L389.1,1154.7 L391.6,1158.3Z" fill="#b8672c"/>
<line x1="331.8" y1="1213.4" x2="430.7" y2="1213.4" stroke="#b8672c" stroke-width="2.4"/>
<path d="M438.7,1213.4 L428.7,1209.8000000000002 L431.2,1213.4 L428.7,1217.0Z" fill="#b8672c"/>
<line x1="439.6" y1="1233.3" x2="340.5" y2="1233.3" stroke="#b8672c" stroke-width="2.4"/>
<path d="M332.5,1233.3 L342.5,1229.7 L340.0,1233.3 L342.5,1236.8999999999999Z" fill="#b8672c"/>
<line x1="325.8" y1="1298" x2="420.8" y2="1298" stroke="#b63a28" stroke-width="2.8"/>
<path d="M432,1298 L418,1293 L421.5,1298 L418,1303Z" fill="#b63a28"/>
<line x1="433.7" y1="1317.3" x2="338.7" y2="1317.3" stroke="#b63a28" stroke-width="2.8"/>
<path d="M327.5,1317.3 L341.5,1312.3 L338.0,1317.3 L341.5,1322.3Z" fill="#b63a28"/>
<line x1="353" y1="1388.6" x2="445.8" y2="1388.6" stroke="#b63a28" stroke-width="2.8"/>
<path d="M457,1388.6 L443,1383.6 L446.5,1388.6 L443,1393.6Z" fill="#b63a28"/>
<line x1="457.6" y1="1407.8" x2="366.2" y2="1407.8" stroke="#b63a28" stroke-width="2.8"/>
<path d="M355,1407.8 L369,1402.8 L365.5,1407.8 L369,1412.8Z" fill="#b63a28"/>
<circle cx="386.2" cy="1120.5" r="5.3" fill="#e9bf86" stroke="#c0702f" stroke-width="2.2"/>
<circle cx="307.6" cy="1173.6" r="5.3" fill="#e9bf86" stroke="#c0702f" stroke-width="2.2"/>
<circle cx="321.9" cy="1202.8" r="5.3" fill="#e9bf86" stroke="#c0702f" stroke-width="2.2"/>
<circle cx="469.2" cy="1167" r="5.3" fill="#e9bf86" stroke="#c0702f" stroke-width="2.2"/>
<circle cx="446.3" cy="1192.9" r="5.3" fill="#e9bf86" stroke="#c0702f" stroke-width="2.2"/>
<circle cx="466.9" cy="1237" r="5.3" fill="#e9bf86" stroke="#c0702f" stroke-width="2.2"/>
<circle cx="384.2" cy="1333.2" r="5.3" fill="#f7c6cf" stroke="#d9476a" stroke-width="2.2"/>
<circle cx="451" cy="1365.4" r="5.3" fill="#f7c6cf" stroke="#d9476a" stroke-width="2.2"/>
<path d="M558.4,1141.4 L558.5,1143.6 L558.4,1145.8 L557.9,1148.0 L557.4,1150.2 L556.6,1152.2 L555.6,1154.2 L554.7,1156.2 L553.6,1158.0 L552.3,1159.8 L550.9,1161.5 L549.6,1163.1 L548.5,1165.1 L547.1,1166.7 L545.2,1167.9 L543.5,1169.2 L542.0,1170.9 L540.3,1172.3 L538.2,1173.2 L536.2,1174.0 L534.2,1174.8 L532.0,1175.2 L529.9,1175.7 L527.7,1175.9 L525.5,1175.6 L523.3,1175.7 L521.1,1176.0 L518.9,1176.0 L516.8,1175.5 L514.6,1175.1 L512.5,1174.7 L510.4,1173.9 L508.5,1172.9 L506.7,1171.7 L504.8,1170.5 L502.8,1169.7 L500.7,1168.7 L499.1,1167.2 L497.5,1165.6 L495.9,1164.0 L494.6,1162.2 L493.4,1160.4 L492.1,1158.6 L491.2,1156.5 L490.7,1154.3 L490.1,1152.2 L489.4,1150.1 L488.8,1148.0 L488.7,1145.8 L488.8,1143.6 L488.7,1141.4 L489.1,1139.3 L489.3,1137.1 L489.4,1134.9 L490.0,1132.9 L490.7,1130.8 L491.3,1128.7 L491.7,1126.5 L492.3,1124.4 L493.3,1122.4 L494.6,1120.5 L496.0,1118.8 L497.5,1117.1 L499.0,1115.5 L500.7,1114.1 L502.5,1112.7 L504.2,1111.2 L506.1,1110.1 L508.2,1109.4 L510.4,1108.8 L512.5,1108.3 L514.6,1107.4 L516.6,1106.5 L518.8,1105.9 L521.1,1106.0 L523.3,1106.4 L525.5,1106.4 L527.7,1106.6 L529.8,1107.2 L531.9,1107.7 L534.0,1108.5 L535.9,1109.5 L538.0,1110.2 L540.0,1110.9 L541.8,1112.3 L543.4,1113.7 L545.3,1114.8 L547.0,1116.2 L548.3,1118.0 L549.7,1119.6 L551.4,1121.0 L552.9,1122.6 L554.2,1124.4 L555.1,1126.4 L555.7,1128.6 L556.4,1130.7 L557.4,1132.7 L558.5,1134.7 L558.9,1136.9 L558.6,1139.2Z" fill="url(#gTan)" stroke="#c46b27" stroke-width="2.2"/>
<path d="M546.1,1159.5 L546.0,1160.9 L545.5,1162.1 L545.0,1163.3 L544.2,1164.3 L543.4,1165.1 L542.4,1165.8 L541.2,1166.4 L540.0,1166.8 L538.8,1167.0 L537.4,1166.9 L537.4,1166.9 L538.0,1165.7 L538.6,1164.7 L539.3,1163.7 L540.1,1162.9 L540.9,1162.2 L541.7,1161.5 L542.7,1160.9 L543.7,1160.4 L544.8,1159.9 L546.1,1159.5Z" fill="#ebd0a4" opacity="0.7"/>
<path d="M519.8,1167.8 L518.6,1168.3 L517.3,1168.5 L516.1,1168.5 L514.9,1168.4 L513.8,1168.0 L512.7,1167.6 L511.7,1166.9 L510.8,1166.1 L510.0,1165.2 L509.3,1164.1 L509.3,1164.1 L510.6,1164.1 L511.8,1164.2 L512.9,1164.4 L513.9,1164.6 L514.9,1164.9 L515.9,1165.3 L516.8,1165.8 L517.8,1166.4 L518.8,1167.0 L519.8,1167.8Z" fill="#ebd0a4" opacity="0.7"/>
<path d="M513.8,1168.8 L512.7,1169.2 L511.6,1169.2 L510.6,1169.2 L509.6,1168.9 L508.7,1168.5 L507.9,1168.0 L507.2,1167.3 L506.5,1166.5 L506.0,1165.6 L505.7,1164.5 L505.7,1164.5 L506.8,1164.5 L507.8,1164.6 L508.8,1164.8 L509.6,1165.1 L510.4,1165.4 L511.2,1165.9 L511.9,1166.4 L512.5,1167.1 L513.2,1167.9 L513.8,1168.8Z" fill="#ebd0a4" opacity="0.7"/>
<path d="M542.8,1159.3 L542.3,1160.6 L541.6,1161.7 L540.8,1162.8 L539.8,1163.7 L538.8,1164.5 L537.7,1165.1 L536.5,1165.7 L535.2,1166.0 L533.9,1166.2 L532.5,1166.2 L532.5,1166.2 L533.5,1165.2 L534.4,1164.4 L535.4,1163.6 L536.3,1162.9 L537.3,1162.2 L538.3,1161.6 L539.3,1161.0 L540.4,1160.4 L541.5,1159.8 L542.8,1159.3Z" fill="#ebd0a4" opacity="0.7"/>
<path d="M521.4,1171.0 L520.2,1171.4 L519.0,1171.5 L517.7,1171.6 L516.5,1171.5 L515.4,1171.2 L514.2,1170.8 L513.1,1170.3 L512.1,1169.7 L511.1,1169.0 L510.3,1168.1 L510.3,1168.1 L511.5,1168.2 L512.6,1168.3 L513.8,1168.5 L514.9,1168.7 L516.0,1169.0 L517.0,1169.3 L518.1,1169.7 L519.2,1170.1 L520.3,1170.5 L521.4,1171.0Z" fill="#ebd0a4" opacity="0.7"/>
<path d="M495.9,1132.2 L495.5,1131.3 L495.4,1130.5 L495.3,1129.7 L495.5,1128.9 L495.7,1128.2 L496.1,1127.5 L496.7,1126.9 L497.3,1126.4 L498.0,1126.0 L499.0,1125.7 L499.0,1125.7 L499.2,1126.7 L499.2,1127.5 L499.1,1128.3 L499.0,1129.0 L498.7,1129.6 L498.4,1130.2 L497.9,1130.8 L497.4,1131.3 L496.7,1131.8 L495.9,1132.2Z" fill="#ebd0a4" opacity="0.7"/>
<circle cx="530.5999999999999" cy="1139.4" r="15.5" fill="url(#gTanNuc)"/>
<ellipse cx="525.0999999999999" cy="1140.4" rx="7.8" ry="12.1" fill="#ecdcb6" opacity="0.85"/>
<path d="M525.6,1154.9 L521.9,1154.1 L518.6,1152.2 L515.7,1149.5 L513.7,1146.1 L512.5,1142.3 L512.4,1138.3 L513.4,1134.4 L515.2,1130.9 L517.8,1128.1 L521.0,1126.2 L521.0,1126.2 L519.0,1129.2 L517.5,1132.2 L516.6,1135.3 L516.3,1138.5 L516.5,1141.6 L517.3,1144.7 L518.5,1147.6 L520.4,1150.3 L522.7,1152.7 L525.6,1154.9Z" fill="#fbf5ea" opacity="0.9"/>
<path d="M535.0,1204.5 L535.4,1206.7 L535.1,1208.9 L534.7,1211.1 L534.0,1213.2 L533.6,1215.4 L533.1,1217.6 L532.0,1219.6 L530.9,1221.5 L529.7,1223.4 L528.3,1225.1 L526.9,1226.7 L525.4,1228.3 L523.9,1229.9 L522.0,1231.1 L520.1,1232.2 L518.3,1233.4 L516.6,1234.7 L514.9,1236.1 L513.0,1237.3 L510.8,1237.7 L508.6,1237.9 L506.5,1238.7 L504.4,1239.3 L502.2,1239.2 L500.0,1239.2 L497.8,1239.2 L495.6,1239.0 L493.5,1238.6 L491.4,1238.1 L489.3,1237.6 L487.1,1237.0 L485.0,1236.3 L483.2,1235.0 L481.6,1233.5 L479.7,1232.5 L477.5,1231.7 L475.8,1230.2 L474.3,1228.7 L472.4,1227.3 L470.9,1225.6 L469.6,1223.8 L468.5,1221.8 L467.9,1219.6 L467.0,1217.6 L466.2,1215.5 L465.8,1213.3 L465.6,1211.1 L465.4,1208.9 L465.1,1206.7 L464.8,1204.5 L464.8,1202.3 L465.2,1200.1 L466.1,1198.0 L467.0,1196.0 L467.6,1194.0 L468.0,1191.8 L468.8,1189.8 L469.8,1187.9 L470.5,1185.8 L471.5,1183.8 L473.0,1182.2 L474.7,1180.7 L476.4,1179.4 L478.0,1177.9 L479.6,1176.5 L481.4,1175.1 L483.2,1174.0 L485.1,1172.8 L486.9,1171.5 L489.1,1170.9 L491.3,1170.7 L493.5,1170.5 L495.6,1170.0 L497.8,1169.2 L500.0,1169.0 L502.2,1169.3 L504.4,1169.5 L506.6,1170.1 L508.7,1170.6 L510.9,1170.9 L513.0,1171.8 L514.9,1172.9 L516.8,1173.9 L518.7,1175.1 L520.5,1176.3 L522.2,1177.7 L523.8,1179.2 L525.2,1180.8 L526.3,1182.7 L527.3,1184.6 L528.4,1186.5 L529.7,1188.2 L530.9,1189.9 L532.1,1191.8 L533.1,1193.8 L533.8,1195.8 L534.6,1197.9 L535.0,1200.1 L534.7,1202.3Z" fill="url(#gTan)" stroke="#c46b27" stroke-width="2.2"/>
<path d="M524.7,1199.0 L525.3,1200.0 L525.8,1201.0 L526.1,1202.1 L526.3,1203.2 L526.4,1204.3 L526.4,1205.4 L526.2,1206.5 L525.8,1207.6 L525.4,1208.6 L524.8,1209.6 L524.8,1209.6 L524.5,1208.5 L524.3,1207.4 L524.2,1206.3 L524.1,1205.3 L524.1,1204.3 L524.1,1203.3 L524.2,1202.3 L524.3,1201.2 L524.4,1200.1 L524.7,1199.0Z" fill="#ebd0a4" opacity="0.7"/>
<path d="M525.2,1202.3 L525.9,1203.5 L526.4,1204.7 L526.7,1205.9 L526.8,1207.2 L526.7,1208.4 L526.4,1209.6 L526.0,1210.8 L525.3,1211.9 L524.5,1212.9 L523.5,1213.8 L523.5,1213.8 L523.3,1212.5 L523.2,1211.3 L523.2,1210.1 L523.2,1209.0 L523.4,1207.9 L523.6,1206.9 L523.8,1205.8 L524.2,1204.7 L524.6,1203.5 L525.2,1202.3Z" fill="#ebd0a4" opacity="0.7"/>
<path d="M519.2,1180.4 L520.2,1180.6 L521.1,1180.9 L521.9,1181.3 L522.6,1181.8 L523.3,1182.3 L523.8,1183.0 L524.3,1183.8 L524.6,1184.6 L524.9,1185.5 L525.0,1186.5 L525.0,1186.5 L524.1,1186.1 L523.3,1185.7 L522.6,1185.2 L521.9,1184.7 L521.3,1184.2 L520.8,1183.6 L520.4,1182.9 L519.9,1182.2 L519.5,1181.4 L519.2,1180.4Z" fill="#ebd0a4" opacity="0.7"/>
<path d="M493.0,1178.6 L493.7,1178.0 L494.3,1177.5 L495.0,1177.1 L495.8,1176.9 L496.6,1176.7 L497.3,1176.7 L498.1,1176.8 L498.9,1176.9 L499.7,1177.3 L500.4,1177.7 L500.4,1177.7 L499.7,1178.2 L499.0,1178.6 L498.3,1178.8 L497.6,1179.0 L496.9,1179.2 L496.1,1179.2 L495.4,1179.2 L494.7,1179.1 L493.9,1178.9 L493.0,1178.6Z" fill="#ebd0a4" opacity="0.7"/>
<path d="M518.9,1181.0 L520.2,1181.5 L521.4,1182.2 L522.5,1183.0 L523.6,1183.9 L524.5,1185.0 L525.3,1186.1 L525.9,1187.3 L526.5,1188.6 L526.9,1189.9 L527.0,1191.3 L527.0,1191.3 L526.0,1190.4 L525.1,1189.4 L524.2,1188.4 L523.4,1187.5 L522.6,1186.5 L521.8,1185.5 L521.0,1184.4 L520.3,1183.4 L519.6,1182.3 L518.9,1181.0Z" fill="#ebd0a4" opacity="0.7"/>
<path d="M525.0,1191.7 L525.8,1192.2 L526.5,1192.7 L527.1,1193.3 L527.5,1194.0 L527.9,1194.7 L528.1,1195.5 L528.1,1196.3 L528.1,1197.1 L527.9,1198.0 L527.5,1198.8 L527.5,1198.8 L526.8,1198.2 L526.2,1197.6 L525.8,1197.0 L525.4,1196.3 L525.1,1195.7 L524.9,1195.0 L524.8,1194.3 L524.8,1193.5 L524.8,1192.7 L525.0,1191.7Z" fill="#ebd0a4" opacity="0.7"/>
<circle cx="507.3" cy="1202.5" r="15.5" fill="url(#gTanNuc)"/>
<ellipse cx="501.8" cy="1203.5" rx="7.8" ry="12.1" fill="#ecdcb6" opacity="0.85"/>
<path d="M502.3,1218.0 L498.6,1217.2 L495.3,1215.3 L492.4,1212.6 L490.4,1209.2 L489.2,1205.4 L489.1,1201.4 L490.1,1197.5 L491.9,1194.0 L494.5,1191.2 L497.7,1189.3 L497.7,1189.3 L495.7,1192.3 L494.2,1195.3 L493.3,1198.4 L493.0,1201.6 L493.2,1204.7 L494.0,1207.8 L495.2,1210.7 L497.1,1213.4 L499.4,1215.8 L502.3,1218.0Z" fill="#fbf5ea" opacity="0.9"/>
<path d="M602.8,1205.5 L602.5,1207.7 L602.5,1209.9 L602.4,1212.1 L601.9,1214.2 L601.6,1216.4 L601.1,1218.6 L600.0,1220.6 L599.1,1222.6 L598.0,1224.5 L596.5,1226.2 L595.2,1228.0 L593.9,1229.8 L592.3,1231.3 L590.4,1232.6 L588.4,1233.6 L586.4,1234.4 L584.5,1235.5 L582.7,1236.8 L580.9,1238.0 L578.8,1238.7 L576.6,1239.1 L574.5,1239.5 L572.3,1239.8 L570.2,1239.7 L568.0,1239.9 L565.8,1240.4 L563.6,1240.4 L561.5,1239.7 L559.4,1239.0 L557.3,1238.4 L555.2,1237.7 L553.1,1237.1 L551.0,1236.3 L549.2,1235.2 L547.1,1234.2 L545.4,1232.8 L544.2,1230.8 L542.7,1229.3 L541.2,1227.7 L540.0,1225.8 L538.4,1224.3 L537.1,1222.5 L536.3,1220.4 L535.5,1218.4 L534.7,1216.3 L533.7,1214.3 L533.0,1212.2 L533.3,1209.9 L533.6,1207.7 L533.4,1205.5 L533.3,1203.3 L533.9,1201.2 L534.3,1199.1 L534.3,1196.9 L534.7,1194.7 L535.8,1192.8 L536.9,1190.9 L537.9,1189.0 L539.2,1187.2 L540.4,1185.4 L541.6,1183.7 L542.7,1181.7 L544.1,1180.0 L545.9,1178.8 L547.5,1177.3 L549.2,1175.9 L551.2,1174.9 L553.0,1173.6 L554.7,1172.0 L556.9,1171.2 L559.2,1171.1 L561.3,1170.4 L563.5,1169.9 L565.8,1170.2 L568.0,1170.4 L570.2,1170.8 L572.4,1170.9 L574.6,1171.0 L576.8,1171.4 L578.8,1172.2 L580.7,1173.4 L582.8,1174.1 L584.9,1174.7 L586.8,1175.9 L588.5,1177.3 L590.3,1178.5 L592.2,1179.7 L593.5,1181.5 L594.7,1183.4 L596.2,1185.0 L597.4,1186.8 L598.3,1188.8 L599.2,1190.8 L600.1,1192.8 L600.6,1194.9 L601.2,1197.0 L601.8,1199.1 L602.2,1201.2 L602.7,1203.3Z" fill="url(#gTan)" stroke="#c46b27" stroke-width="2.2"/>
<path d="M550.0,1226.8 L549.0,1226.6 L548.0,1226.3 L547.2,1225.8 L546.4,1225.2 L545.7,1224.6 L545.1,1223.8 L544.7,1222.9 L544.4,1222.0 L544.2,1221.0 L544.2,1220.0 L544.2,1220.0 L545.1,1220.4 L545.9,1220.9 L546.6,1221.5 L547.3,1222.1 L547.9,1222.7 L548.4,1223.4 L548.9,1224.1 L549.3,1224.9 L549.7,1225.8 L550.0,1226.8Z" fill="#ebd0a4" opacity="0.7"/>
<path d="M543.7,1221.1 L542.7,1220.7 L541.9,1220.2 L541.2,1219.6 L540.7,1219.0 L540.3,1218.2 L540.0,1217.4 L539.8,1216.6 L539.8,1215.7 L540.0,1214.8 L540.3,1213.8 L540.3,1213.8 L541.2,1214.4 L541.8,1214.9 L542.4,1215.6 L542.9,1216.2 L543.2,1216.9 L543.5,1217.6 L543.7,1218.3 L543.8,1219.2 L543.8,1220.0 L543.7,1221.1Z" fill="#ebd0a4" opacity="0.7"/>
<path d="M594.8,1207.2 L595.2,1208.1 L595.4,1208.9 L595.5,1209.8 L595.5,1210.6 L595.4,1211.5 L595.2,1212.3 L594.8,1213.0 L594.4,1213.8 L593.8,1214.5 L593.1,1215.1 L593.1,1215.1 L593.0,1214.2 L592.9,1213.3 L593.0,1212.5 L593.0,1211.7 L593.2,1211.0 L593.4,1210.2 L593.6,1209.5 L593.9,1208.7 L594.3,1208.0 L594.8,1207.2Z" fill="#ebd0a4" opacity="0.7"/>
<path d="M566.9,1178.6 L568.1,1177.8 L569.3,1177.3 L570.6,1177.0 L571.8,1176.9 L573.1,1177.1 L574.3,1177.4 L575.5,1177.9 L576.6,1178.6 L577.5,1179.5 L578.4,1180.6 L578.4,1180.6 L577.0,1180.9 L575.8,1181.0 L574.6,1181.1 L573.5,1181.0 L572.4,1180.9 L571.3,1180.7 L570.3,1180.3 L569.2,1179.9 L568.1,1179.3 L566.9,1178.6Z" fill="#ebd0a4" opacity="0.7"/>
<path d="M567.3,1235.7 L566.0,1236.3 L564.6,1236.6 L563.1,1236.7 L561.7,1236.7 L560.3,1236.4 L559.0,1236.0 L557.7,1235.4 L556.5,1234.6 L555.4,1233.7 L554.5,1232.5 L554.5,1232.5 L555.9,1232.5 L557.3,1232.6 L558.6,1232.7 L559.9,1232.9 L561.1,1233.2 L562.3,1233.5 L563.6,1234.0 L564.8,1234.4 L566.0,1235.0 L567.3,1235.7Z" fill="#ebd0a4" opacity="0.7"/>
<path d="M595.3,1210.2 L595.6,1211.4 L595.7,1212.6 L595.7,1213.7 L595.5,1214.8 L595.1,1215.9 L594.7,1216.9 L594.1,1217.9 L593.3,1218.8 L592.5,1219.6 L591.5,1220.2 L591.5,1220.2 L591.6,1219.1 L591.8,1218.0 L592.1,1216.9 L592.4,1215.9 L592.7,1215.0 L593.1,1214.0 L593.6,1213.1 L594.1,1212.1 L594.6,1211.2 L595.3,1210.2Z" fill="#ebd0a4" opacity="0.7"/>
<circle cx="575.3" cy="1203.5" r="15.5" fill="url(#gTanNuc)"/>
<ellipse cx="569.8" cy="1204.5" rx="7.8" ry="12.1" fill="#ecdcb6" opacity="0.85"/>
<path d="M570.3,1219.0 L566.6,1218.2 L563.3,1216.3 L560.4,1213.6 L558.4,1210.2 L557.2,1206.4 L557.1,1202.4 L558.1,1198.5 L559.9,1195.0 L562.5,1192.2 L565.7,1190.3 L565.7,1190.3 L563.7,1193.3 L562.2,1196.3 L561.3,1199.4 L561.0,1202.6 L561.2,1205.7 L562.0,1208.8 L563.2,1211.7 L565.1,1214.4 L567.4,1216.8 L570.3,1219.0Z" fill="#fbf5ea" opacity="0.9"/>
<path d="M528.2,1332.2 L527.9,1334.5 L527.6,1336.7 L527.2,1339.0 L527.1,1341.3 L526.5,1343.5 L525.3,1345.5 L524.0,1347.4 L522.9,1349.4 L521.6,1351.2 L520.4,1353.1 L519.5,1355.2 L517.9,1356.8 L515.9,1358.0 L514.4,1359.6 L512.7,1361.1 L510.7,1362.1 L508.8,1363.3 L507.0,1364.6 L505.0,1365.7 L502.9,1366.7 L500.7,1367.4 L498.5,1367.8 L496.3,1368.7 L494.0,1369.4 L491.7,1369.5 L489.4,1368.8 L487.2,1367.9 L485.0,1367.2 L482.7,1367.1 L480.5,1366.8 L478.4,1365.8 L476.4,1364.8 L474.3,1363.9 L472.5,1362.5 L470.7,1361.1 L469.0,1359.6 L467.5,1358.0 L465.6,1356.7 L464.0,1355.1 L462.9,1353.1 L461.8,1351.2 L460.6,1349.3 L459.6,1347.3 L458.4,1345.4 L457.2,1343.4 L456.6,1341.2 L456.2,1339.0 L456.0,1336.7 L456.1,1334.4 L456.1,1332.2 L456.1,1330.0 L456.4,1327.7 L456.8,1325.5 L457.1,1323.3 L458.0,1321.2 L458.6,1319.1 L458.8,1316.7 L459.5,1314.5 L461.0,1312.7 L462.4,1310.9 L463.9,1309.2 L465.2,1307.4 L466.8,1305.6 L468.6,1304.3 L470.5,1303.1 L472.4,1301.7 L474.3,1300.6 L476.2,1299.3 L478.2,1298.2 L480.5,1297.7 L482.8,1297.5 L485.1,1297.4 L487.3,1297.3 L489.5,1297.2 L491.7,1296.9 L493.9,1297.0 L496.1,1297.4 L498.3,1297.8 L500.5,1297.9 L502.7,1298.2 L504.9,1298.8 L507.2,1299.3 L509.2,1300.4 L511.0,1301.8 L513.0,1302.8 L515.0,1304.0 L516.7,1305.6 L518.0,1307.5 L519.3,1309.3 L520.8,1311.1 L522.1,1312.9 L523.2,1314.9 L524.3,1316.9 L525.3,1318.9 L526.1,1321.0 L526.5,1323.3 L526.9,1325.5 L527.6,1327.7 L528.3,1329.9Z" fill="url(#gPink)" stroke="#cf5668" stroke-width="1.8"/>
<path d="M461.4,1328.0 L461.2,1326.4 L461.2,1324.9 L461.3,1323.3 L461.6,1321.8 L462.1,1320.3 L462.8,1318.9 L463.6,1317.6 L464.6,1316.4 L465.7,1315.2 L466.9,1314.3 L466.9,1314.3 L466.5,1315.8 L466.0,1317.2 L465.5,1318.6 L465.1,1319.9 L464.5,1321.3 L464.0,1322.6 L463.4,1323.9 L462.8,1325.3 L462.2,1326.6 L461.4,1328.0Z" fill="#f0a6b1" opacity="0.6"/>
<path d="M494.7,1302.4 L496.0,1302.1 L497.2,1302.0 L498.5,1302.0 L499.7,1302.2 L500.9,1302.5 L502.1,1302.9 L503.2,1303.5 L504.2,1304.2 L505.2,1304.9 L506.1,1305.9 L506.1,1305.9 L504.8,1305.7 L503.6,1305.5 L502.5,1305.2 L501.3,1304.9 L500.2,1304.6 L499.1,1304.3 L498.1,1303.9 L497.0,1303.4 L495.8,1303.0 L494.7,1302.4Z" fill="#f0a6b1" opacity="0.6"/>
<path d="M519.4,1336.9 L519.7,1338.2 L519.7,1339.5 L519.6,1340.7 L519.4,1342.0 L519.0,1343.1 L518.4,1344.3 L517.8,1345.3 L517.0,1346.3 L516.1,1347.2 L515.0,1347.9 L515.0,1347.9 L515.3,1346.7 L515.6,1345.5 L515.9,1344.4 L516.2,1343.3 L516.7,1342.2 L517.1,1341.2 L517.6,1340.1 L518.1,1339.1 L518.7,1338.0 L519.4,1336.9Z" fill="#f0a6b1" opacity="0.6"/>
<path d="M464.0,1331.9 L463.2,1330.6 L462.8,1329.3 L462.6,1327.9 L462.6,1326.6 L462.8,1325.2 L463.3,1323.9 L463.9,1322.7 L464.7,1321.6 L465.7,1320.6 L466.9,1319.8 L466.9,1319.8 L467.0,1321.2 L467.0,1322.5 L467.0,1323.8 L466.8,1325.0 L466.6,1326.1 L466.3,1327.3 L465.9,1328.4 L465.4,1329.5 L464.8,1330.7 L464.0,1331.9Z" fill="#f0a6b1" opacity="0.6"/>
<path d="M465.9,1350.6 L464.9,1350.4 L464.1,1350.1 L463.4,1349.6 L462.9,1349.1 L462.5,1348.5 L462.2,1347.8 L462.0,1347.1 L462.0,1346.3 L462.2,1345.5 L462.5,1344.5 L462.5,1344.5 L463.4,1344.9 L464.2,1345.3 L464.8,1345.7 L465.3,1346.2 L465.6,1346.8 L465.9,1347.4 L466.0,1348.0 L466.1,1348.8 L466.1,1349.6 L465.9,1350.6Z" fill="#f0a6b1" opacity="0.6"/>
<path d="M510.7,1313.3 L511.9,1313.7 L512.9,1314.3 L513.9,1315.0 L514.7,1315.8 L515.4,1316.7 L516.0,1317.7 L516.4,1318.8 L516.7,1320.0 L516.8,1321.2 L516.7,1322.5 L516.7,1322.5 L515.7,1321.7 L514.9,1320.9 L514.1,1320.1 L513.4,1319.3 L512.8,1318.4 L512.3,1317.5 L511.8,1316.6 L511.4,1315.6 L511.0,1314.5 L510.7,1313.3Z" fill="#f0a6b1" opacity="0.6"/>
<circle cx="498.7" cy="1329.6000000000001" r="15" fill="url(#gPinkNuc)" stroke="#c9485e" stroke-width="1.3"/>
<ellipse cx="495.7" cy="1330.6000000000001" rx="8.2" ry="10.5" fill="#fad6dd" opacity="0.7"/>
<path d="M491.2,1344.3 L488.2,1343.2 L485.5,1341.3 L483.2,1338.8 L481.6,1335.8 L480.7,1332.5 L480.5,1329.0 L481.2,1325.7 L482.5,1322.6 L484.5,1319.9 L487.0,1317.9 L487.0,1317.9 L485.6,1320.7 L484.6,1323.5 L484.0,1326.3 L483.9,1329.1 L484.1,1331.9 L484.8,1334.6 L485.8,1337.2 L487.2,1339.8 L489.0,1342.1 L491.2,1344.3Z" fill="#fde9ec" opacity="0.9"/>
<path d="M534.8,1388.6 L534.8,1390.9 L534.6,1393.2 L533.8,1395.4 L533.1,1397.5 L532.3,1399.6 L531.3,1401.6 L530.5,1403.7 L529.8,1405.9 L528.6,1407.7 L526.9,1409.3 L525.5,1411.0 L524.2,1412.8 L523.0,1414.8 L521.3,1416.3 L519.5,1417.6 L517.9,1419.4 L516.1,1420.8 L513.9,1421.6 L511.7,1422.1 L509.4,1422.4 L507.2,1422.9 L505.1,1423.6 L502.8,1423.8 L500.6,1423.9 L498.4,1424.0 L496.2,1424.0 L493.9,1424.1 L491.6,1424.2 L489.3,1423.9 L487.1,1423.3 L485.0,1422.5 L482.8,1421.7 L480.8,1420.6 L478.9,1419.3 L477.0,1418.1 L474.8,1417.1 L473.0,1415.7 L471.6,1413.8 L470.4,1411.8 L469.5,1409.6 L468.5,1407.5 L467.6,1405.5 L466.6,1403.6 L465.4,1401.6 L464.6,1399.6 L463.9,1397.5 L463.4,1395.3 L462.7,1393.1 L462.6,1390.9 L463.2,1388.6 L463.0,1386.4 L462.5,1384.1 L462.6,1381.8 L463.0,1379.5 L463.9,1377.4 L464.9,1375.3 L465.4,1373.1 L466.3,1370.9 L467.9,1369.2 L469.4,1367.5 L470.5,1365.5 L471.6,1363.5 L473.4,1362.0 L475.6,1361.0 L477.6,1359.9 L479.5,1358.8 L481.3,1357.5 L483.1,1356.1 L485.2,1355.3 L487.3,1354.5 L489.5,1353.9 L491.7,1353.4 L493.9,1352.9 L496.1,1352.8 L498.4,1352.8 L500.6,1353.0 L502.9,1353.3 L505.0,1353.7 L507.3,1354.0 L509.6,1354.2 L511.7,1355.1 L513.6,1356.3 L515.6,1357.3 L517.4,1358.7 L519.3,1359.9 L521.3,1360.9 L522.9,1362.5 L524.4,1364.1 L526.2,1365.6 L527.5,1367.5 L528.8,1369.3 L530.3,1371.1 L531.3,1373.1 L532.0,1375.3 L532.6,1377.5 L533.4,1379.6 L534.1,1381.8 L534.5,1384.0 L534.7,1386.3Z" fill="url(#gPink)" stroke="#cf5668" stroke-width="1.8"/>
<path d="M510.8,1415.6 L510.2,1416.4 L509.5,1417.0 L508.7,1417.6 L507.9,1418.0 L507.0,1418.3 L506.1,1418.5 L505.2,1418.6 L504.2,1418.6 L503.3,1418.4 L502.3,1418.1 L502.3,1418.1 L503.1,1417.5 L503.9,1417.0 L504.7,1416.6 L505.5,1416.3 L506.3,1416.0 L507.2,1415.8 L508.0,1415.7 L508.9,1415.6 L509.8,1415.5 L510.8,1415.6Z" fill="#f0a6b1" opacity="0.6"/>
<path d="M469.7,1390.5 L469.1,1389.5 L468.7,1388.5 L468.4,1387.5 L468.3,1386.4 L468.3,1385.4 L468.5,1384.4 L468.9,1383.4 L469.3,1382.4 L469.9,1381.5 L470.7,1380.7 L470.7,1380.7 L471.0,1381.8 L471.2,1382.8 L471.3,1383.8 L471.3,1384.8 L471.2,1385.7 L471.1,1386.6 L470.9,1387.6 L470.6,1388.5 L470.2,1389.5 L469.7,1390.5Z" fill="#f0a6b1" opacity="0.6"/>
<path d="M495.9,1415.9 L494.7,1416.3 L493.5,1416.4 L492.4,1416.5 L491.2,1416.3 L490.1,1416.1 L489.0,1415.7 L487.9,1415.1 L487.0,1414.4 L486.1,1413.6 L485.3,1412.6 L485.3,1412.6 L486.5,1412.7 L487.7,1412.8 L488.7,1413.0 L489.8,1413.3 L490.8,1413.5 L491.8,1413.9 L492.8,1414.3 L493.8,1414.7 L494.9,1415.2 L495.9,1415.9Z" fill="#f0a6b1" opacity="0.6"/>
<path d="M484.5,1361.5 L485.5,1360.2 L486.6,1359.1 L487.9,1358.3 L489.2,1357.6 L490.6,1357.2 L492.1,1356.9 L493.6,1356.9 L495.1,1357.0 L496.6,1357.4 L498.0,1358.1 L498.0,1358.1 L496.7,1359.0 L495.4,1359.6 L494.1,1360.1 L492.8,1360.6 L491.6,1360.9 L490.3,1361.2 L488.9,1361.4 L487.6,1361.5 L486.1,1361.6 L484.5,1361.5Z" fill="#f0a6b1" opacity="0.6"/>
<path d="M501.0,1415.8 L499.9,1416.5 L498.8,1416.9 L497.6,1417.2 L496.4,1417.3 L495.1,1417.3 L493.9,1417.1 L492.8,1416.7 L491.7,1416.1 L490.7,1415.4 L489.7,1414.5 L489.7,1414.5 L491.0,1414.2 L492.2,1414.1 L493.3,1414.1 L494.4,1414.1 L495.5,1414.1 L496.6,1414.3 L497.6,1414.5 L498.7,1414.9 L499.9,1415.2 L501.0,1415.8Z" fill="#f0a6b1" opacity="0.6"/>
<path d="M507.3,1417.1 L506.1,1418.1 L504.9,1418.9 L503.5,1419.6 L502.1,1420.0 L500.7,1420.2 L499.2,1420.2 L497.7,1420.0 L496.3,1419.6 L494.9,1418.9 L493.7,1418.0 L493.7,1418.0 L495.1,1417.5 L496.5,1417.2 L497.8,1416.9 L499.1,1416.7 L500.4,1416.5 L501.7,1416.5 L503.0,1416.5 L504.4,1416.6 L505.8,1416.8 L507.3,1417.1Z" fill="#f0a6b1" opacity="0.6"/>
<circle cx="505.4" cy="1386.0" r="15" fill="url(#gPinkNuc)" stroke="#c9485e" stroke-width="1.3"/>
<ellipse cx="502.4" cy="1387.0" rx="8.2" ry="10.5" fill="#fad6dd" opacity="0.7"/>
<path d="M497.9,1400.7 L494.9,1399.6 L492.2,1397.7 L489.9,1395.2 L488.3,1392.2 L487.4,1388.9 L487.2,1385.4 L487.9,1382.1 L489.2,1379.0 L491.2,1376.3 L493.7,1374.3 L493.7,1374.3 L492.3,1377.1 L491.3,1379.9 L490.7,1382.7 L490.6,1385.5 L490.8,1388.3 L491.5,1391.0 L492.5,1393.6 L493.9,1396.2 L495.7,1398.5 L497.9,1400.7Z" fill="#fde9ec" opacity="0.9"/>
<path d="M596.0,1383.6 L595.9,1385.9 L595.5,1388.1 L594.7,1390.3 L594.0,1392.4 L593.5,1394.6 L593.0,1396.8 L592.4,1399.0 L591.4,1401.0 L590.0,1402.8 L588.7,1404.6 L587.1,1406.3 L585.4,1407.7 L583.8,1409.2 L582.3,1410.9 L580.6,1412.4 L578.8,1413.7 L576.9,1414.9 L574.9,1416.0 L573.0,1417.1 L570.9,1418.0 L568.7,1418.8 L566.5,1419.5 L564.2,1419.4 L562.0,1419.7 L559.7,1420.4 L557.4,1420.1 L555.1,1419.7 L552.8,1419.8 L550.6,1419.2 L548.6,1417.8 L546.6,1416.7 L544.6,1415.7 L542.6,1414.7 L540.7,1413.6 L538.9,1412.3 L537.1,1410.9 L535.7,1409.2 L534.0,1407.7 L532.2,1406.4 L530.8,1404.6 L529.6,1402.7 L528.3,1400.9 L527.2,1398.9 L526.6,1396.7 L525.8,1394.6 L524.6,1392.6 L523.6,1390.5 L523.3,1388.2 L523.5,1385.9 L523.9,1383.6 L523.9,1381.3 L523.9,1379.1 L524.3,1376.9 L525.2,1374.8 L525.9,1372.6 L526.4,1370.4 L526.9,1368.2 L527.7,1366.0 L529.1,1364.2 L530.5,1362.4 L531.6,1360.3 L533.1,1358.6 L534.8,1357.1 L536.7,1355.7 L538.5,1354.4 L540.3,1353.0 L542.3,1351.9 L544.4,1351.2 L546.6,1350.5 L548.7,1349.8 L550.9,1349.3 L553.1,1349.2 L555.3,1348.9 L557.5,1348.5 L559.7,1348.4 L561.9,1348.6 L564.1,1348.8 L566.3,1349.0 L568.5,1349.3 L570.8,1349.4 L573.1,1349.8 L575.2,1350.6 L577.3,1351.6 L579.2,1352.8 L581.2,1354.0 L582.9,1355.6 L584.5,1357.2 L586.4,1358.5 L587.9,1360.3 L588.8,1362.5 L590.0,1364.4 L591.4,1366.2 L592.2,1368.3 L592.7,1370.5 L593.2,1372.7 L594.0,1374.8 L595.2,1376.8 L596.1,1379.0 L596.3,1381.3Z" fill="url(#gPink)" stroke="#cf5668" stroke-width="1.8"/>
<path d="M546.2,1356.3 L547.0,1355.3 L547.8,1354.5 L548.8,1353.8 L549.8,1353.3 L550.9,1352.9 L552.0,1352.7 L553.1,1352.6 L554.3,1352.6 L555.4,1352.9 L556.6,1353.3 L556.6,1353.3 L555.6,1354.0 L554.6,1354.6 L553.7,1355.1 L552.7,1355.5 L551.7,1355.8 L550.7,1356.0 L549.7,1356.2 L548.6,1356.3 L547.5,1356.4 L546.2,1356.3Z" fill="#f0a6b1" opacity="0.6"/>
<path d="M534.9,1403.2 L534.0,1402.8 L533.2,1402.2 L532.5,1401.6 L531.8,1400.8 L531.3,1400.1 L530.9,1399.2 L530.6,1398.3 L530.4,1397.4 L530.3,1396.4 L530.3,1395.4 L530.3,1395.4 L531.1,1396.1 L531.7,1396.8 L532.3,1397.5 L532.8,1398.2 L533.3,1398.9 L533.7,1399.7 L534.1,1400.5 L534.4,1401.3 L534.7,1402.2 L534.9,1403.2Z" fill="#f0a6b1" opacity="0.6"/>
<path d="M557.8,1411.0 L556.9,1411.4 L556.1,1411.6 L555.2,1411.7 L554.3,1411.7 L553.5,1411.6 L552.7,1411.4 L551.9,1411.0 L551.1,1410.5 L550.4,1409.9 L549.8,1409.2 L549.8,1409.2 L550.8,1409.0 L551.6,1408.9 L552.5,1408.9 L553.3,1409.0 L554.0,1409.1 L554.8,1409.3 L555.5,1409.6 L556.3,1410.0 L557.0,1410.4 L557.8,1411.0Z" fill="#f0a6b1" opacity="0.6"/>
<path d="M581.4,1401.0 L581.3,1402.0 L581.1,1402.9 L580.7,1403.8 L580.2,1404.5 L579.7,1405.1 L579.0,1405.7 L578.2,1406.1 L577.4,1406.4 L576.4,1406.5 L575.4,1406.5 L575.4,1406.5 L575.7,1405.6 L576.1,1404.8 L576.5,1404.0 L577.0,1403.4 L577.5,1402.8 L578.1,1402.3 L578.8,1401.9 L579.6,1401.6 L580.4,1401.2 L581.4,1401.0Z" fill="#f0a6b1" opacity="0.6"/>
<path d="M567.6,1408.7 L567.1,1409.5 L566.5,1410.1 L565.9,1410.5 L565.2,1410.9 L564.5,1411.1 L563.8,1411.1 L563.0,1411.0 L562.3,1410.8 L561.6,1410.5 L560.8,1409.9 L560.8,1409.9 L561.5,1409.3 L562.1,1408.8 L562.7,1408.4 L563.4,1408.2 L564.0,1408.0 L564.6,1408.0 L565.3,1408.0 L566.0,1408.1 L566.8,1408.3 L567.6,1408.7Z" fill="#f0a6b1" opacity="0.6"/>
<path d="M536.6,1403.0 L535.4,1402.3 L534.3,1401.5 L533.3,1400.5 L532.4,1399.4 L531.7,1398.2 L531.1,1396.9 L530.7,1395.6 L530.5,1394.2 L530.4,1392.8 L530.6,1391.3 L530.6,1391.3 L531.5,1392.4 L532.2,1393.6 L532.9,1394.7 L533.6,1395.7 L534.2,1396.9 L534.8,1398.0 L535.3,1399.2 L535.8,1400.4 L536.3,1401.7 L536.6,1403.0Z" fill="#f0a6b1" opacity="0.6"/>
<circle cx="566.7" cy="1381.0" r="15" fill="url(#gPinkNuc)" stroke="#c9485e" stroke-width="1.3"/>
<ellipse cx="563.7" cy="1382.0" rx="8.2" ry="10.5" fill="#fad6dd" opacity="0.7"/>
<path d="M559.2,1395.7 L556.2,1394.6 L553.5,1392.7 L551.2,1390.2 L549.6,1387.2 L548.7,1383.9 L548.5,1380.4 L549.2,1377.1 L550.5,1374.0 L552.5,1371.3 L555.0,1369.3 L555.0,1369.3 L553.6,1372.1 L552.6,1374.9 L552.0,1377.7 L551.9,1380.5 L552.1,1383.3 L552.8,1386.0 L553.8,1388.6 L555.2,1391.2 L557.0,1393.5 L559.2,1395.7Z" fill="#fde9ec" opacity="0.9"/>
<path d="M692.5,1161.5 L865,1161.5 L865,1148.5 L907.4,1171.5 L865,1194.5 L865,1181.5 L692.5,1181.5Z" fill="#b35d1e"/>
<line x1="692.5" y1="1360.7" x2="890" y2="1360.7" stroke="#d72b35" stroke-width="4.2"/>
<path d="M907.4,1360.7 L882,1351.7 L888,1360.7 L882,1369.7Z" fill="#d72b35"/>
<text x="986.0" y="1157.3" font-size="22.6" fill="#222" stroke="#222" stroke-width="0.8" textLength="322.7" lengthAdjust="spacingAndGlyphs" letter-spacing="0.90" text-anchor="start" >Positive immune response</text>
<text x="986.0" y="1186.3" font-size="22.6" fill="#222" stroke="#222" stroke-width="0.8" textLength="391.7" lengthAdjust="spacingAndGlyphs" letter-spacing="0.90" text-anchor="start" >(e.g., pro-inflammatory, immune</text>
<text x="986.0" y="1215.3" font-size="22.6" fill="#222" stroke="#222" stroke-width="0.8" textLength="129.4" lengthAdjust="spacingAndGlyphs" letter-spacing="0.90" text-anchor="start" >activation)</text>
<text x="988.7" y="1337.8" font-size="22.6" fill="#222" stroke="#222" stroke-width="0.8" textLength="332.1" lengthAdjust="spacingAndGlyphs" letter-spacing="0.90" text-anchor="start" >Negative immune response</text>
<text x="988.7" y="1366.8" font-size="22.6" fill="#222" stroke="#222" stroke-width="0.8" textLength="395.8" lengthAdjust="spacingAndGlyphs" letter-spacing="0.90" text-anchor="start" >(e.g., anti-inflammatory, immune</text>
<text x="988.7" y="1395.8" font-size="22.6" fill="#222" stroke="#222" stroke-width="0.8" textLength="157.0" lengthAdjust="spacingAndGlyphs" letter-spacing="0.90" text-anchor="start" >suppression)</text>
<g transform="translate(0,4) rotate(10.5 1199 1260)"><rect x="1120" y="1254" width="158" height="11" fill="#858585" stroke="#2b2b2b" stroke-width="2.6"/></g>
<path d="M1197.8,1270.5 L1215.3,1304 L1180.8,1304Z" fill="#3b3b3b" stroke="#222" stroke-width="1.5"/>
<path d="M1203,1231 Q1240,1230 1252,1259" fill="none" stroke="#111" stroke-width="4.6"/>
<path d="M1255.2,1266.9 L1254.1,1239.7 L1236.9,1246.9Z" fill="#111"/>
<path d="M1175.5,1293 Q1140,1290 1128,1261" fill="none" stroke="#111" stroke-width="2.2"/>
<path d="M1126.3,1256.8 L1126.9,1271.2 L1136.0,1267.4Z" fill="#111"/>
<g transform="translate(5.7,700.4)"><path d="M304.6,744.6 C307.7,744.1 322.7,752.7 328.2,757.3 C333.7,761.9 335.6,767.5 337.8,772.2 C340.0,776.9 340.6,780.1 341.5,785.4 C342.4,790.7 342.2,797.8 343.0,804.0 C343.8,810.2 344.6,816.6 346.0,822.6 C347.4,828.6 354.3,838.0 351.6,839.8 C348.9,841.6 335.3,836.1 329.8,833.2 C324.3,830.3 321.4,827.5 318.7,822.6 C316.0,817.7 315.0,810.6 313.9,804.0 C312.8,797.4 313.0,790.1 312.3,782.8 C311.6,775.5 310.8,766.4 309.5,760.0 C308.2,753.6 301.5,745.1 304.6,744.6Z" fill="#c9dae6" stroke="#3f5f7a" stroke-width="1.6" stroke-linejoin="round"/>
</g>
<ellipse cx="334.3" cy="1500.8" rx="11.3" ry="19.8" transform="rotate(-10 334.3 1500.8)" fill="#8ea7c8" stroke="#3a6690" stroke-width="1.6"/>
<ellipse cx="333.5" cy="1728.6" rx="11" ry="19.5" transform="rotate(-5 333.5 1728.6)" fill="#7d9dc6" stroke="#32608f" stroke-width="1.6"/>
<line x1="371.3" y1="1483" x2="452.2" y2="1483" stroke="#b8672c" stroke-width="2.4"/>
<path d="M460.2,1483 L450.2,1479.4 L452.7,1483 L450.2,1486.6Z" fill="#b8672c"/>
<line x1="460.9" y1="1502.3" x2="379.6" y2="1502.3" stroke="#b8672c" stroke-width="2.4"/>
<path d="M371.6,1502.3 L381.6,1498.7 L379.1,1502.3 L381.6,1505.8999999999999Z" fill="#b8672c"/>
<line x1="322.5" y1="1561.4" x2="421.7" y2="1561.4" stroke="#b8672c" stroke-width="2.4"/>
<path d="M429.7,1561.4 L419.7,1557.8000000000002 L422.2,1561.4 L419.7,1565.0Z" fill="#b8672c"/>
<line x1="430.4" y1="1581" x2="332.0" y2="1581" stroke="#b8672c" stroke-width="2.4"/>
<path d="M324,1581 L334,1577.4 L331.5,1581 L334,1584.6Z" fill="#b8672c"/>
<line x1="322.5" y1="1646.3" x2="418.2" y2="1646.3" stroke="#b63a28" stroke-width="2.8"/>
<path d="M429.4,1646.3 L415.4,1641.3 L418.9,1646.3 L415.4,1651.3Z" fill="#b63a28"/>
<line x1="430.4" y1="1666.2" x2="335.2" y2="1666.2" stroke="#b63a28" stroke-width="2.8"/>
<path d="M324,1666.2 L338,1661.2 L334.5,1666.2 L338,1671.2Z" fill="#b63a28"/>
<line x1="363" y1="1738.6" x2="439.1" y2="1738.6" stroke="#b63a28" stroke-width="2.8"/>
<path d="M450.3,1738.6 L436.3,1733.6 L439.8,1738.6 L436.3,1743.6Z" fill="#b63a28"/>
<line x1="452" y1="1758.5" x2="376.2" y2="1758.5" stroke="#b63a28" stroke-width="2.8"/>
<path d="M365,1758.5 L379,1753.5 L375.5,1758.5 L379,1763.5Z" fill="#b63a28"/>
<circle cx="454.6" cy="1515.6" r="5.3" fill="#e9bf86" stroke="#c0702f" stroke-width="2.2"/>
<circle cx="336.8" cy="1550.1" r="5.3" fill="#e9bf86" stroke="#c0702f" stroke-width="2.2"/>
<circle cx="450.3" cy="1651.3" r="5.3" fill="#f7c6cf" stroke="#d9476a" stroke-width="2.2"/>
<circle cx="433.7" cy="1682.2" r="5.3" fill="#f7c6cf" stroke="#d9476a" stroke-width="2.2"/>
<circle cx="336.5" cy="1690.5" r="5.3" fill="#f7c6cf" stroke="#d9476a" stroke-width="2.2"/>
<circle cx="446.3" cy="1709.4" r="5.3" fill="#f7c6cf" stroke="#d9476a" stroke-width="2.2"/>
<circle cx="398.8" cy="1721" r="5.3" fill="#f7c6cf" stroke="#d9476a" stroke-width="2.2"/>
<circle cx="335.8" cy="1767.4" r="5.3" fill="#f7c6cf" stroke="#d9476a" stroke-width="2.2"/>
<circle cx="465.2" cy="1769" r="5.3" fill="#f7c6cf" stroke="#d9476a" stroke-width="2.2"/>
<path d="M545.3,1491.4 L545.5,1493.6 L545.6,1495.9 L545.0,1498.1 L544.0,1500.1 L543.0,1502.1 L542.1,1504.1 L541.4,1506.2 L540.5,1508.1 L539.1,1509.9 L537.8,1511.6 L536.3,1513.2 L534.8,1514.7 L533.5,1516.5 L532.1,1518.1 L530.3,1519.3 L528.2,1520.1 L526.4,1521.2 L524.7,1522.6 L523.0,1524.1 L521.0,1525.3 L518.9,1526.0 L516.7,1526.6 L514.5,1527.0 L512.3,1527.4 L510.0,1527.2 L507.8,1526.8 L505.5,1526.7 L503.3,1526.4 L501.2,1525.8 L499.1,1525.0 L497.1,1524.0 L495.1,1523.0 L493.2,1521.9 L491.4,1520.6 L489.6,1519.5 L487.5,1518.6 L485.6,1517.4 L484.0,1515.8 L482.7,1514.0 L481.4,1512.2 L480.3,1510.2 L479.4,1508.2 L478.3,1506.3 L477.6,1504.2 L477.2,1502.0 L476.7,1500.0 L476.1,1497.9 L475.8,1495.7 L475.6,1493.6 L475.4,1491.4 L475.8,1489.2 L476.1,1487.1 L476.3,1485.0 L476.8,1482.9 L477.4,1480.8 L478.0,1478.7 L478.7,1476.7 L479.5,1474.6 L480.1,1472.4 L481.0,1470.3 L482.5,1468.6 L483.8,1466.8 L485.4,1465.2 L487.5,1464.2 L489.3,1462.9 L490.8,1461.2 L492.7,1460.0 L494.9,1459.4 L497.2,1459.0 L499.2,1458.2 L501.2,1457.2 L503.4,1456.6 L505.6,1456.7 L507.8,1456.8 L510.0,1456.7 L512.2,1456.7 L514.3,1457.1 L516.5,1457.4 L518.7,1457.5 L520.9,1457.9 L522.9,1458.9 L524.8,1459.9 L526.9,1460.7 L528.8,1461.7 L530.6,1463.0 L532.3,1464.4 L534.0,1465.8 L535.4,1467.5 L536.6,1469.4 L538.0,1471.0 L539.4,1472.8 L540.3,1474.8 L541.1,1476.8 L542.1,1478.7 L543.3,1480.6 L544.2,1482.6 L544.5,1484.8 L544.6,1487.0 L545.0,1489.2Z" fill="url(#gTan)" stroke="#c46b27" stroke-width="2.2"/>
<path d="M534.1,1475.2 L535.4,1475.8 L536.5,1476.7 L537.4,1477.7 L538.2,1478.8 L538.8,1480.0 L539.2,1481.2 L539.4,1482.6 L539.4,1483.9 L539.2,1485.3 L538.7,1486.7 L538.7,1486.7 L537.7,1485.6 L536.9,1484.5 L536.3,1483.5 L535.7,1482.5 L535.2,1481.4 L534.8,1480.3 L534.5,1479.1 L534.3,1477.9 L534.1,1476.6 L534.1,1475.2Z" fill="#ebd0a4" opacity="0.7"/>
<path d="M508.2,1520.1 L506.8,1520.7 L505.3,1521.0 L503.9,1521.1 L502.4,1521.0 L501.0,1520.7 L499.7,1520.2 L498.4,1519.4 L497.3,1518.5 L496.2,1517.5 L495.4,1516.2 L495.4,1516.2 L496.9,1516.2 L498.3,1516.3 L499.6,1516.5 L500.9,1516.8 L502.1,1517.1 L503.3,1517.5 L504.5,1518.0 L505.7,1518.6 L507.0,1519.3 L508.2,1520.1Z" fill="#ebd0a4" opacity="0.7"/>
<path d="M486.5,1479.8 L486.2,1478.7 L486.2,1477.7 L486.3,1476.7 L486.6,1475.8 L487.1,1475.1 L487.7,1474.4 L488.4,1473.8 L489.3,1473.4 L490.3,1473.1 L491.4,1473.0 L491.4,1473.0 L491.4,1474.1 L491.3,1475.1 L491.0,1475.9 L490.7,1476.7 L490.3,1477.4 L489.8,1478.0 L489.2,1478.5 L488.5,1479.0 L487.6,1479.4 L486.5,1479.8Z" fill="#ebd0a4" opacity="0.7"/>
<path d="M531.5,1507.7 L531.1,1509.1 L530.5,1510.4 L529.8,1511.5 L528.9,1512.6 L527.9,1513.5 L526.7,1514.3 L525.5,1515.0 L524.2,1515.4 L522.9,1515.8 L521.4,1515.9 L521.4,1515.9 L522.3,1514.8 L523.3,1513.8 L524.2,1512.9 L525.1,1512.1 L526.0,1511.3 L527.0,1510.5 L528.1,1509.8 L529.1,1509.1 L530.3,1508.4 L531.5,1507.7Z" fill="#ebd0a4" opacity="0.7"/>
<path d="M516.9,1517.5 L515.8,1518.3 L514.6,1518.9 L513.3,1519.3 L512.0,1519.6 L510.7,1519.7 L509.3,1519.6 L508.0,1519.4 L506.7,1519.1 L505.5,1518.5 L504.3,1517.8 L504.3,1517.8 L505.6,1517.5 L506.9,1517.3 L508.2,1517.2 L509.4,1517.1 L510.6,1517.0 L511.8,1517.0 L513.0,1517.1 L514.3,1517.1 L515.6,1517.3 L516.9,1517.5Z" fill="#ebd0a4" opacity="0.7"/>
<path d="M484.2,1504.1 L483.2,1503.1 L482.3,1502.1 L481.6,1500.9 L481.0,1499.7 L480.6,1498.5 L480.4,1497.1 L480.3,1495.8 L480.5,1494.5 L480.8,1493.1 L481.3,1491.8 L481.3,1491.8 L481.9,1493.1 L482.4,1494.3 L482.8,1495.4 L483.2,1496.6 L483.5,1497.8 L483.8,1498.9 L484.0,1500.1 L484.1,1501.4 L484.2,1502.7 L484.2,1504.1Z" fill="#ebd0a4" opacity="0.7"/>
<circle cx="517.3" cy="1489.4" r="15.5" fill="url(#gTanNuc)"/>
<ellipse cx="511.79999999999995" cy="1490.4" rx="7.8" ry="12.1" fill="#ecdcb6" opacity="0.85"/>
<path d="M512.3,1504.9 L508.6,1504.1 L505.3,1502.2 L502.4,1499.5 L500.4,1496.1 L499.2,1492.3 L499.1,1488.3 L500.1,1484.4 L501.9,1480.9 L504.5,1478.1 L507.7,1476.2 L507.7,1476.2 L505.7,1479.2 L504.2,1482.2 L503.3,1485.3 L503.0,1488.5 L503.2,1491.6 L504.0,1494.7 L505.2,1497.6 L507.1,1500.3 L509.4,1502.7 L512.3,1504.9Z" fill="#fbf5ea" opacity="0.9"/>
<path d="M521.6,1556.0 L521.9,1558.2 L522.0,1560.4 L521.6,1562.6 L520.6,1564.7 L519.9,1566.7 L519.5,1568.9 L518.6,1571.0 L517.5,1572.9 L516.4,1574.8 L515.3,1576.7 L513.8,1578.4 L512.1,1579.8 L510.6,1581.3 L509.2,1583.1 L507.3,1584.2 L505.4,1585.3 L503.6,1586.6 L501.6,1587.4 L499.4,1587.9 L497.5,1588.8 L495.4,1589.5 L493.2,1589.8 L491.1,1590.1 L489.0,1590.3 L486.8,1590.3 L484.6,1590.2 L482.4,1590.5 L480.2,1590.8 L477.9,1590.6 L475.7,1590.1 L473.6,1589.3 L471.5,1588.4 L469.4,1587.6 L467.6,1586.2 L466.0,1584.6 L464.2,1583.3 L462.6,1581.8 L461.4,1579.8 L460.0,1578.1 L458.4,1576.6 L457.4,1574.7 L456.6,1572.6 L455.7,1570.6 L454.8,1568.7 L453.8,1566.7 L453.3,1564.6 L453.0,1562.4 L452.5,1560.3 L452.4,1558.2 L452.6,1556.0 L452.4,1553.8 L452.3,1551.6 L452.7,1549.5 L453.2,1547.4 L453.8,1545.3 L454.4,1543.2 L455.0,1541.0 L456.1,1539.1 L457.3,1537.3 L458.6,1535.5 L459.9,1533.7 L461.4,1532.2 L463.1,1530.7 L464.7,1529.3 L466.2,1527.7 L467.7,1525.9 L469.6,1524.8 L471.9,1524.3 L473.9,1523.5 L475.8,1522.2 L478.0,1521.7 L480.2,1521.5 L482.3,1520.7 L484.6,1520.3 L486.8,1520.7 L489.0,1521.1 L491.2,1521.1 L493.4,1521.5 L495.4,1522.5 L497.3,1523.5 L499.4,1524.3 L501.4,1524.9 L503.3,1526.0 L505.1,1527.2 L506.8,1528.5 L508.5,1529.8 L510.4,1530.9 L512.4,1531.9 L513.9,1533.6 L515.2,1535.4 L516.7,1537.0 L517.7,1539.0 L518.3,1541.2 L519.1,1543.2 L519.9,1545.3 L520.6,1547.3 L521.3,1549.4 L521.9,1551.6 L521.8,1553.8Z" fill="url(#gTan)" stroke="#c46b27" stroke-width="2.2"/>
<path d="M501.6,1581.0 L500.9,1582.1 L500.0,1583.0 L499.1,1583.7 L498.1,1584.3 L497.0,1584.8 L495.8,1585.1 L494.6,1585.3 L493.4,1585.3 L492.2,1585.1 L491.0,1584.8 L491.0,1584.8 L492.0,1584.0 L493.0,1583.4 L494.0,1582.9 L495.0,1582.4 L496.0,1582.0 L497.0,1581.7 L498.1,1581.4 L499.2,1581.2 L500.3,1581.1 L501.6,1581.0Z" fill="#ebd0a4" opacity="0.7"/>
<path d="M493.1,1585.0 L491.9,1585.8 L490.6,1586.4 L489.3,1586.8 L487.9,1587.1 L486.6,1587.2 L485.2,1587.0 L483.8,1586.8 L482.5,1586.3 L481.3,1585.7 L480.1,1584.9 L480.1,1584.9 L481.5,1584.6 L482.8,1584.4 L484.1,1584.2 L485.3,1584.1 L486.6,1584.1 L487.8,1584.2 L489.1,1584.3 L490.4,1584.4 L491.7,1584.6 L493.1,1585.0Z" fill="#ebd0a4" opacity="0.7"/>
<path d="M460.3,1555.2 L459.8,1554.6 L459.5,1554.0 L459.2,1553.5 L459.1,1552.9 L459.2,1552.3 L459.3,1551.8 L459.5,1551.2 L459.9,1550.8 L460.4,1550.3 L461.0,1549.9 L461.0,1549.9 L461.4,1550.5 L461.6,1551.1 L461.8,1551.6 L461.9,1552.2 L461.9,1552.7 L461.8,1553.2 L461.5,1553.7 L461.2,1554.2 L460.8,1554.7 L460.3,1555.2Z" fill="#ebd0a4" opacity="0.7"/>
<path d="M464.8,1542.9 L465.0,1541.7 L465.4,1540.6 L465.9,1539.5 L466.5,1538.5 L467.3,1537.6 L468.1,1536.8 L469.1,1536.1 L470.1,1535.5 L471.2,1535.1 L472.4,1534.8 L472.4,1534.8 L471.8,1535.9 L471.1,1536.8 L470.5,1537.7 L469.8,1538.5 L469.1,1539.3 L468.3,1540.1 L467.5,1540.8 L466.7,1541.5 L465.8,1542.2 L464.8,1542.9Z" fill="#ebd0a4" opacity="0.7"/>
<path d="M489.6,1581.3 L488.3,1582.1 L487.0,1582.6 L485.7,1582.9 L484.3,1583.0 L483.0,1582.9 L481.7,1582.6 L480.4,1582.1 L479.2,1581.5 L478.1,1580.6 L477.1,1579.5 L477.1,1579.5 L478.5,1579.3 L479.8,1579.3 L481.1,1579.3 L482.3,1579.3 L483.5,1579.5 L484.6,1579.7 L485.8,1579.9 L487.0,1580.3 L488.3,1580.7 L489.6,1581.3Z" fill="#ebd0a4" opacity="0.7"/>
<path d="M507.1,1535.7 L507.9,1535.8 L508.5,1536.0 L509.1,1536.3 L509.7,1536.7 L510.1,1537.1 L510.5,1537.7 L510.7,1538.3 L510.9,1538.9 L510.9,1539.6 L510.8,1540.4 L510.8,1540.4 L510.1,1540.2 L509.5,1539.9 L508.9,1539.6 L508.4,1539.2 L508.0,1538.8 L507.7,1538.3 L507.5,1537.8 L507.3,1537.2 L507.1,1536.5 L507.1,1535.7Z" fill="#ebd0a4" opacity="0.7"/>
<circle cx="494.1" cy="1554" r="15.5" fill="url(#gTanNuc)"/>
<ellipse cx="488.6" cy="1555" rx="7.8" ry="12.1" fill="#ecdcb6" opacity="0.85"/>
<path d="M489.1,1569.5 L485.4,1568.7 L482.1,1566.8 L479.2,1564.1 L477.2,1560.7 L476.0,1556.9 L475.9,1552.9 L476.9,1549.0 L478.7,1545.5 L481.3,1542.7 L484.5,1540.8 L484.5,1540.8 L482.5,1543.8 L481.0,1546.8 L480.1,1549.9 L479.8,1553.1 L480.0,1556.2 L480.8,1559.3 L482.0,1562.2 L483.9,1564.9 L486.2,1567.3 L489.1,1569.5Z" fill="#fbf5ea" opacity="0.9"/>
<path d="M589.3,1556.0 L589.1,1558.2 L589.0,1560.3 L588.9,1562.5 L588.6,1564.7 L588.1,1566.8 L587.7,1569.0 L587.2,1571.2 L586.4,1573.4 L585.2,1575.3 L583.5,1576.8 L582.0,1578.5 L580.7,1580.3 L578.9,1581.7 L577.1,1582.9 L575.4,1584.4 L573.8,1586.0 L572.0,1587.3 L569.8,1588.0 L567.7,1588.6 L565.7,1589.4 L563.5,1589.9 L561.3,1590.0 L559.1,1590.4 L557.0,1590.6 L554.8,1590.5 L552.6,1590.7 L550.4,1590.6 L548.2,1590.5 L546.0,1590.3 L543.9,1589.5 L541.9,1588.6 L539.8,1588.0 L537.8,1587.0 L536.0,1585.7 L534.3,1584.2 L533.0,1582.4 L531.6,1580.7 L529.7,1579.5 L527.8,1578.3 L526.3,1576.7 L525.2,1574.8 L524.2,1572.8 L522.9,1571.0 L521.8,1569.0 L521.5,1566.8 L521.1,1564.6 L520.4,1562.6 L519.5,1560.5 L518.9,1558.3 L519.1,1556.0 L519.4,1553.8 L519.9,1551.6 L520.2,1549.4 L520.6,1547.2 L521.6,1545.2 L522.8,1543.3 L523.5,1541.3 L524.4,1539.3 L525.5,1537.4 L526.7,1535.6 L528.2,1534.0 L529.9,1532.6 L531.3,1531.0 L532.5,1529.1 L534.1,1527.5 L536.2,1526.6 L538.2,1525.7 L540.0,1524.5 L541.9,1523.4 L543.8,1522.2 L545.9,1521.3 L548.2,1521.2 L550.4,1521.5 L552.6,1521.3 L554.8,1520.6 L557.0,1520.6 L559.2,1521.4 L561.3,1521.8 L563.6,1521.9 L565.7,1522.4 L567.6,1523.7 L569.6,1524.6 L571.8,1525.0 L573.8,1526.0 L575.6,1527.3 L577.5,1528.5 L579.2,1530.0 L580.6,1531.7 L581.7,1533.7 L582.7,1535.7 L583.8,1537.6 L585.2,1539.3 L586.3,1541.2 L587.0,1543.3 L587.6,1545.3 L588.3,1547.4 L588.9,1549.5 L589.0,1551.7 L589.2,1553.8Z" fill="url(#gTan)" stroke="#c46b27" stroke-width="2.2"/>
<path d="M579.9,1549.3 L580.8,1549.6 L581.4,1550.0 L581.9,1550.5 L582.3,1551.0 L582.4,1551.6 L582.4,1552.1 L582.3,1552.7 L582.0,1553.4 L581.5,1554.0 L580.7,1554.6 L580.7,1554.6 L579.9,1554.1 L579.4,1553.6 L578.9,1553.1 L578.6,1552.7 L578.5,1552.2 L578.5,1551.7 L578.6,1551.2 L578.9,1550.6 L579.3,1550.0 L579.9,1549.3Z" fill="#ebd0a4" opacity="0.7"/>
<path d="M565.2,1579.7 L564.4,1580.6 L563.6,1581.3 L562.6,1581.8 L561.7,1582.3 L560.6,1582.6 L559.6,1582.7 L558.5,1582.8 L557.4,1582.6 L556.3,1582.4 L555.3,1581.9 L555.3,1581.9 L556.3,1581.3 L557.2,1580.9 L558.2,1580.5 L559.1,1580.2 L560.0,1580.0 L561.0,1579.8 L562.0,1579.7 L563.0,1579.6 L564.1,1579.6 L565.2,1579.7Z" fill="#ebd0a4" opacity="0.7"/>
<path d="M575.2,1539.0 L576.4,1539.8 L577.4,1540.6 L578.4,1541.6 L579.2,1542.7 L579.8,1543.9 L580.4,1545.2 L580.7,1546.5 L580.9,1547.8 L580.9,1549.2 L580.7,1550.6 L580.7,1550.6 L579.9,1549.4 L579.3,1548.3 L578.6,1547.2 L578.0,1546.1 L577.5,1545.0 L577.0,1543.9 L576.5,1542.8 L576.0,1541.6 L575.6,1540.4 L575.2,1539.0Z" fill="#ebd0a4" opacity="0.7"/>
<path d="M530.3,1537.9 L530.5,1536.5 L530.9,1535.2 L531.5,1534.0 L532.3,1532.9 L533.2,1532.0 L534.2,1531.2 L535.4,1530.5 L536.6,1530.1 L538.0,1529.8 L539.4,1529.8 L539.4,1529.8 L538.8,1531.0 L538.1,1532.1 L537.3,1533.1 L536.6,1534.0 L535.7,1534.8 L534.8,1535.6 L533.9,1536.2 L532.8,1536.8 L531.7,1537.4 L530.3,1537.9Z" fill="#ebd0a4" opacity="0.7"/>
<path d="M548.2,1531.4 L549.2,1530.5 L550.3,1529.9 L551.5,1529.4 L552.7,1529.1 L554.0,1529.0 L555.2,1529.0 L556.5,1529.2 L557.7,1529.6 L558.8,1530.2 L559.9,1531.0 L559.9,1531.0 L558.6,1531.4 L557.4,1531.7 L556.3,1531.9 L555.2,1532.1 L554.1,1532.1 L552.9,1532.1 L551.8,1532.1 L550.7,1531.9 L549.5,1531.7 L548.2,1531.4Z" fill="#ebd0a4" opacity="0.7"/>
<path d="M545.0,1580.4 L543.7,1580.5 L542.4,1580.3 L541.1,1580.0 L540.0,1579.5 L538.9,1578.8 L537.9,1578.0 L537.0,1577.1 L536.3,1576.1 L535.7,1574.9 L535.3,1573.6 L535.3,1573.6 L536.6,1574.0 L537.7,1574.5 L538.7,1575.1 L539.7,1575.6 L540.7,1576.2 L541.6,1576.9 L542.5,1577.7 L543.3,1578.5 L544.2,1579.3 L545.0,1580.4Z" fill="#ebd0a4" opacity="0.7"/>
<circle cx="562.0999999999999" cy="1554" r="15.5" fill="url(#gTanNuc)"/>
<ellipse cx="556.5999999999999" cy="1555" rx="7.8" ry="12.1" fill="#ecdcb6" opacity="0.85"/>
<path d="M557.1,1569.5 L553.4,1568.7 L550.1,1566.8 L547.2,1564.1 L545.2,1560.7 L544.0,1556.9 L543.9,1552.9 L544.9,1549.0 L546.7,1545.5 L549.3,1542.7 L552.5,1540.8 L552.5,1540.8 L550.5,1543.8 L549.0,1546.8 L548.1,1549.9 L547.8,1553.1 L548.0,1556.2 L548.8,1559.3 L550.0,1562.2 L551.9,1564.9 L554.2,1567.3 L557.1,1569.5Z" fill="#fbf5ea" opacity="0.9"/>
<path d="M521.3,1673.9 L521.3,1676.2 L521.0,1678.4 L520.5,1680.7 L520.0,1682.9 L519.3,1685.0 L518.4,1687.1 L517.4,1689.1 L516.1,1690.9 L514.9,1692.8 L513.8,1694.7 L512.5,1696.6 L511.2,1698.4 L509.7,1700.1 L508.2,1701.9 L506.5,1703.3 L504.4,1704.4 L502.6,1705.7 L500.6,1706.9 L498.3,1707.3 L496.1,1707.6 L493.9,1708.4 L491.8,1709.0 L489.5,1709.1 L487.3,1709.1 L485.1,1709.2 L482.9,1709.4 L480.6,1709.5 L478.4,1709.1 L476.2,1708.7 L473.9,1708.5 L471.6,1707.9 L469.7,1706.6 L467.7,1705.6 L465.3,1705.1 L463.2,1704.0 L461.5,1702.4 L460.0,1700.6 L458.8,1698.6 L457.4,1696.8 L456.0,1695.0 L454.8,1693.1 L453.8,1691.1 L452.6,1689.2 L451.8,1687.1 L451.4,1684.8 L450.6,1682.8 L449.9,1680.6 L449.6,1678.4 L449.4,1676.1 L449.3,1673.9 L449.4,1671.7 L449.6,1669.4 L450.1,1667.2 L450.9,1665.1 L451.5,1663.0 L452.0,1660.8 L452.7,1658.6 L453.5,1656.5 L454.5,1654.5 L455.7,1652.6 L457.3,1650.9 L458.9,1649.3 L460.3,1647.5 L461.8,1645.7 L463.6,1644.3 L465.6,1643.1 L467.6,1642.1 L469.9,1641.5 L472.0,1640.9 L474.1,1640.2 L476.3,1639.5 L478.4,1638.8 L480.5,1637.8 L482.8,1637.4 L485.1,1637.7 L487.4,1637.5 L489.7,1637.4 L491.9,1638.1 L494.0,1639.1 L496.2,1639.9 L498.2,1640.9 L500.0,1642.2 L501.9,1643.3 L504.1,1644.0 L506.0,1645.1 L507.4,1646.9 L509.0,1648.5 L510.6,1649.9 L512.1,1651.5 L513.9,1653.0 L515.5,1654.6 L516.5,1656.6 L517.2,1658.8 L518.1,1660.8 L519.3,1662.8 L520.6,1664.8 L521.4,1667.0 L521.4,1669.3 L521.1,1671.6Z" fill="url(#gPink)" stroke="#cf5668" stroke-width="1.8"/>
<path d="M513.0,1659.6 L514.1,1660.8 L514.9,1662.0 L515.6,1663.4 L516.2,1664.8 L516.6,1666.2 L516.9,1667.7 L517.1,1669.2 L517.0,1670.8 L516.9,1672.3 L516.5,1673.8 L516.5,1673.8 L516.0,1672.3 L515.6,1670.9 L515.3,1669.5 L514.9,1668.1 L514.5,1666.7 L514.2,1665.4 L513.9,1664.0 L513.6,1662.6 L513.3,1661.1 L513.0,1659.6Z" fill="#f0a6b1" opacity="0.6"/>
<path d="M461.3,1658.4 L461.6,1657.3 L461.9,1656.3 L462.4,1655.3 L463.0,1654.4 L463.7,1653.6 L464.4,1652.9 L465.3,1652.3 L466.2,1651.7 L467.2,1651.3 L468.3,1651.0 L468.3,1651.0 L467.8,1652.0 L467.2,1652.9 L466.6,1653.7 L466.0,1654.5 L465.3,1655.2 L464.6,1655.9 L463.9,1656.5 L463.1,1657.2 L462.3,1657.8 L461.3,1658.4Z" fill="#f0a6b1" opacity="0.6"/>
<path d="M495.3,1700.5 L494.7,1701.3 L494.1,1701.9 L493.4,1702.4 L492.7,1702.8 L492.0,1703.0 L491.2,1703.2 L490.4,1703.1 L489.5,1703.0 L488.7,1702.7 L487.9,1702.2 L487.9,1702.2 L488.6,1701.6 L489.3,1701.1 L489.9,1700.7 L490.6,1700.4 L491.3,1700.2 L492.0,1700.1 L492.8,1700.1 L493.5,1700.1 L494.4,1700.2 L495.3,1700.5Z" fill="#f0a6b1" opacity="0.6"/>
<path d="M511.2,1678.0 L511.5,1679.2 L511.7,1680.4 L511.6,1681.5 L511.5,1682.7 L511.1,1683.8 L510.6,1684.8 L510.0,1685.8 L509.3,1686.7 L508.4,1687.5 L507.4,1688.1 L507.4,1688.1 L507.4,1686.9 L507.6,1685.8 L507.9,1684.7 L508.1,1683.7 L508.5,1682.8 L508.9,1681.8 L509.3,1680.9 L509.9,1679.9 L510.5,1679.0 L511.2,1678.0Z" fill="#f0a6b1" opacity="0.6"/>
<path d="M455.0,1671.5 L454.7,1670.5 L454.6,1669.6 L454.5,1668.6 L454.6,1667.6 L454.7,1666.7 L455.0,1665.8 L455.4,1664.9 L455.9,1664.0 L456.5,1663.2 L457.2,1662.5 L457.2,1662.5 L457.2,1663.5 L457.2,1664.5 L457.1,1665.4 L457.0,1666.3 L456.8,1667.2 L456.6,1668.0 L456.3,1668.9 L455.9,1669.8 L455.5,1670.6 L455.0,1671.5Z" fill="#f0a6b1" opacity="0.6"/>
<path d="M491.1,1645.2 L492.4,1644.9 L493.7,1644.8 L495.0,1644.8 L496.2,1645.1 L497.3,1645.5 L498.4,1646.1 L499.4,1646.8 L500.3,1647.6 L501.1,1648.6 L501.8,1649.8 L501.8,1649.8 L500.5,1649.7 L499.3,1649.5 L498.2,1649.2 L497.1,1648.9 L496.1,1648.5 L495.1,1648.0 L494.1,1647.4 L493.1,1646.8 L492.1,1646.1 L491.1,1645.2Z" fill="#f0a6b1" opacity="0.6"/>
<circle cx="492.1" cy="1671.3000000000002" r="15" fill="url(#gPinkNuc)" stroke="#c9485e" stroke-width="1.3"/>
<ellipse cx="489.1" cy="1672.3000000000002" rx="8.2" ry="10.5" fill="#fad6dd" opacity="0.7"/>
<path d="M484.6,1686.0 L481.6,1684.9 L478.9,1683.0 L476.6,1680.5 L475.0,1677.5 L474.1,1674.2 L473.9,1670.7 L474.6,1667.4 L475.9,1664.3 L477.9,1661.6 L480.4,1659.6 L480.4,1659.6 L479.0,1662.4 L478.0,1665.2 L477.4,1668.0 L477.3,1670.8 L477.5,1673.6 L478.2,1676.3 L479.2,1678.9 L480.6,1681.5 L482.4,1683.8 L484.6,1686.0Z" fill="#fde9ec" opacity="0.9"/>
<path d="M527.9,1733.6 L527.9,1735.9 L527.5,1738.1 L526.8,1740.3 L526.3,1742.5 L525.8,1744.7 L524.7,1746.7 L523.3,1748.5 L522.3,1750.4 L521.6,1752.6 L520.7,1754.6 L519.3,1756.4 L517.8,1758.1 L516.5,1760.0 L515.1,1761.9 L513.4,1763.5 L511.5,1764.7 L509.4,1765.8 L507.3,1766.7 L505.3,1767.8 L503.1,1768.6 L500.7,1768.8 L498.5,1769.3 L496.3,1769.9 L494.0,1769.9 L491.7,1769.5 L489.4,1769.5 L487.2,1769.5 L485.0,1768.9 L482.9,1767.9 L480.7,1767.3 L478.5,1767.0 L476.3,1766.3 L474.3,1765.2 L472.5,1763.9 L470.4,1762.9 L468.4,1761.8 L466.9,1760.0 L465.7,1758.0 L464.4,1756.1 L463.0,1754.5 L461.5,1752.8 L460.1,1750.9 L459.0,1749.0 L458.2,1746.9 L457.3,1744.8 L456.7,1742.6 L456.5,1740.3 L455.9,1738.1 L455.3,1735.9 L455.4,1733.6 L455.8,1731.3 L455.8,1729.1 L455.9,1726.8 L456.4,1724.5 L457.0,1722.3 L457.6,1720.1 L458.7,1718.1 L459.9,1716.1 L460.8,1714.0 L462.1,1712.1 L463.9,1710.6 L465.5,1709.0 L467.0,1707.3 L468.9,1706.0 L471.0,1705.2 L472.9,1704.0 L474.7,1702.6 L476.6,1701.6 L478.7,1700.8 L480.8,1700.0 L482.8,1699.0 L485.0,1698.4 L487.2,1698.3 L489.5,1698.0 L491.7,1697.1 L494.0,1697.2 L496.2,1697.9 L498.5,1698.1 L500.8,1698.3 L502.9,1699.0 L505.2,1699.5 L507.4,1700.3 L509.2,1701.7 L511.0,1703.2 L512.7,1704.7 L514.4,1706.2 L516.0,1707.8 L517.5,1709.3 L519.3,1710.8 L521.1,1712.3 L522.5,1714.1 L523.8,1715.9 L525.1,1717.9 L525.6,1720.2 L526.1,1722.4 L526.7,1724.6 L527.1,1726.8 L527.7,1729.1 L528.0,1731.3Z" fill="url(#gPink)" stroke="#cf5668" stroke-width="1.8"/>
<path d="M484.5,1703.7 L485.1,1702.8 L485.8,1702.1 L486.5,1701.6 L487.3,1701.2 L488.1,1701.0 L489.0,1701.0 L489.8,1701.2 L490.6,1701.6 L491.5,1702.1 L492.3,1702.8 L492.3,1702.8 L491.5,1703.6 L490.7,1704.2 L490.0,1704.6 L489.3,1704.9 L488.6,1705.0 L487.8,1705.0 L487.1,1704.9 L486.3,1704.7 L485.4,1704.3 L484.5,1703.7Z" fill="#f0a6b1" opacity="0.6"/>
<path d="M501.9,1761.6 L501.5,1762.4 L501.0,1763.1 L500.4,1763.6 L499.8,1764.0 L499.1,1764.3 L498.4,1764.3 L497.7,1764.3 L496.9,1764.1 L496.1,1763.7 L495.4,1763.2 L495.4,1763.2 L495.9,1762.4 L496.5,1761.8 L497.1,1761.4 L497.7,1761.1 L498.3,1760.8 L498.9,1760.7 L499.6,1760.8 L500.3,1760.9 L501.1,1761.1 L501.9,1761.6Z" fill="#f0a6b1" opacity="0.6"/>
<path d="M509.1,1758.0 L508.5,1759.3 L507.6,1760.4 L506.7,1761.3 L505.6,1762.1 L504.4,1762.7 L503.2,1763.1 L501.8,1763.4 L500.5,1763.5 L499.1,1763.4 L497.7,1763.0 L497.7,1763.0 L498.8,1762.0 L499.8,1761.3 L500.9,1760.6 L501.9,1760.0 L503.0,1759.5 L504.1,1759.0 L505.2,1758.7 L506.4,1758.4 L507.7,1758.1 L509.1,1758.0Z" fill="#f0a6b1" opacity="0.6"/>
<path d="M462.9,1744.7 L461.9,1743.4 L461.2,1742.0 L460.6,1740.5 L460.2,1739.0 L459.9,1737.4 L459.8,1735.9 L459.9,1734.3 L460.1,1732.7 L460.5,1731.1 L461.0,1729.7 L461.0,1729.7 L461.3,1731.2 L461.5,1732.7 L461.7,1734.2 L461.9,1735.7 L462.1,1737.2 L462.3,1738.6 L462.5,1740.1 L462.6,1741.6 L462.8,1743.1 L462.9,1744.7Z" fill="#f0a6b1" opacity="0.6"/>
<path d="M460.4,1730.3 L460.0,1728.9 L459.9,1727.5 L459.9,1726.1 L460.1,1724.7 L460.5,1723.4 L461.0,1722.1 L461.6,1720.8 L462.4,1719.7 L463.4,1718.7 L464.5,1717.8 L464.5,1717.8 L464.4,1719.2 L464.2,1720.5 L463.9,1721.8 L463.6,1723.0 L463.2,1724.3 L462.8,1725.4 L462.3,1726.6 L461.8,1727.8 L461.2,1729.0 L460.4,1730.3Z" fill="#f0a6b1" opacity="0.6"/>
<path d="M481.1,1763.2 L480.2,1763.6 L479.4,1763.7 L478.6,1763.8 L477.8,1763.6 L477.1,1763.4 L476.5,1763.0 L475.9,1762.5 L475.4,1761.8 L475.0,1761.0 L474.8,1760.1 L474.8,1760.1 L475.7,1759.9 L476.6,1759.8 L477.3,1759.8 L478.0,1760.0 L478.6,1760.2 L479.2,1760.6 L479.8,1761.0 L480.2,1761.6 L480.7,1762.3 L481.1,1763.2Z" fill="#f0a6b1" opacity="0.6"/>
<circle cx="498.7" cy="1731.0" r="15" fill="url(#gPinkNuc)" stroke="#c9485e" stroke-width="1.3"/>
<ellipse cx="495.7" cy="1732.0" rx="8.2" ry="10.5" fill="#fad6dd" opacity="0.7"/>
<path d="M491.2,1745.7 L488.2,1744.6 L485.5,1742.7 L483.2,1740.2 L481.6,1737.2 L480.7,1733.9 L480.5,1730.4 L481.2,1727.1 L482.5,1724.0 L484.5,1721.3 L487.0,1719.3 L487.0,1719.3 L485.6,1722.1 L484.6,1724.9 L484.0,1727.7 L483.9,1730.5 L484.1,1733.3 L484.8,1736.0 L485.8,1738.6 L487.2,1741.2 L489.0,1743.5 L491.2,1745.7Z" fill="#fde9ec" opacity="0.9"/>
<path d="M589.3,1725.3 L589.1,1727.6 L588.6,1729.8 L588.0,1732.0 L587.6,1734.2 L587.0,1736.3 L586.1,1738.4 L585.0,1740.3 L583.9,1742.2 L582.8,1744.2 L581.8,1746.2 L580.5,1748.0 L579.3,1749.9 L577.9,1751.7 L576.4,1753.5 L574.5,1754.8 L572.3,1755.6 L570.4,1756.7 L568.6,1758.2 L566.4,1759.0 L564.2,1759.6 L562.1,1760.5 L560.0,1761.4 L557.7,1761.5 L555.4,1761.1 L553.1,1760.8 L550.9,1761.0 L548.6,1761.2 L546.3,1760.8 L544.1,1760.4 L541.9,1759.9 L539.7,1759.1 L537.6,1758.3 L535.5,1757.4 L533.6,1756.1 L531.9,1754.4 L530.3,1752.9 L528.3,1751.7 L526.6,1750.2 L525.4,1748.2 L524.0,1746.4 L522.8,1744.5 L522.2,1742.3 L521.2,1740.3 L520.1,1738.4 L519.4,1736.2 L518.9,1734.1 L518.5,1731.9 L518.2,1729.7 L517.6,1727.5 L517.2,1725.3 L517.4,1723.1 L517.4,1720.8 L517.3,1718.5 L517.5,1716.2 L518.5,1714.1 L519.7,1712.1 L520.6,1710.0 L521.6,1708.0 L522.6,1706.0 L523.6,1703.9 L525.1,1702.1 L526.7,1700.5 L528.1,1698.7 L529.8,1697.1 L531.7,1695.8 L533.6,1694.5 L535.7,1693.6 L537.7,1692.6 L539.8,1691.8 L542.0,1691.3 L544.2,1690.4 L546.3,1689.7 L548.6,1689.4 L550.8,1689.3 L553.1,1689.6 L555.3,1689.8 L557.6,1689.9 L559.8,1690.1 L562.0,1690.6 L564.1,1691.5 L566.2,1692.2 L568.4,1692.8 L570.2,1694.2 L572.1,1695.3 L574.3,1696.2 L575.9,1697.7 L577.3,1699.5 L579.0,1701.0 L580.5,1702.7 L582.0,1704.3 L583.8,1705.8 L585.1,1707.7 L586.1,1709.8 L587.1,1711.9 L587.9,1714.0 L588.4,1716.2 L588.8,1718.5 L589.5,1720.7 L589.7,1723.0Z" fill="url(#gPink)" stroke="#cf5668" stroke-width="1.8"/>
<path d="M530.7,1747.1 L529.4,1746.4 L528.2,1745.5 L527.2,1744.5 L526.2,1743.4 L525.4,1742.2 L524.7,1740.9 L524.1,1739.5 L523.7,1738.1 L523.5,1736.6 L523.4,1735.1 L523.4,1735.1 L524.3,1736.3 L525.2,1737.5 L526.0,1738.6 L526.7,1739.8 L527.4,1740.9 L528.1,1742.1 L528.8,1743.3 L529.5,1744.5 L530.1,1745.8 L530.7,1747.1Z" fill="#f0a6b1" opacity="0.6"/>
<path d="M573.6,1703.9 L574.6,1703.8 L575.4,1704.0 L576.1,1704.2 L576.7,1704.5 L577.2,1705.0 L577.6,1705.6 L577.8,1706.2 L577.9,1707.0 L577.9,1707.8 L577.6,1708.8 L577.6,1708.8 L576.6,1708.7 L575.9,1708.5 L575.2,1708.2 L574.7,1707.9 L574.2,1707.5 L573.9,1707.0 L573.7,1706.4 L573.5,1705.7 L573.5,1704.9 L573.6,1703.9Z" fill="#f0a6b1" opacity="0.6"/>
<path d="M552.1,1753.0 L551.2,1753.5 L550.2,1753.9 L549.2,1754.1 L548.3,1754.1 L547.3,1754.0 L546.4,1753.7 L545.5,1753.3 L544.7,1752.8 L543.9,1752.1 L543.3,1751.2 L543.3,1751.2 L544.3,1750.9 L545.3,1750.8 L546.2,1750.7 L547.1,1750.8 L547.9,1750.9 L548.8,1751.1 L549.6,1751.4 L550.4,1751.8 L551.3,1752.3 L552.1,1753.0Z" fill="#f0a6b1" opacity="0.6"/>
<path d="M574.3,1746.3 L573.7,1747.7 L573.0,1748.9 L572.1,1750.0 L571.0,1751.0 L569.9,1751.8 L568.7,1752.5 L567.3,1753.0 L566.0,1753.4 L564.5,1753.5 L563.1,1753.5 L563.1,1753.5 L564.1,1752.4 L565.1,1751.6 L566.2,1750.7 L567.2,1750.0 L568.3,1749.3 L569.4,1748.6 L570.5,1748.0 L571.7,1747.4 L572.9,1746.8 L574.3,1746.3Z" fill="#f0a6b1" opacity="0.6"/>
<path d="M561.2,1696.9 L562.6,1696.9 L564.0,1697.0 L565.4,1697.4 L566.7,1697.8 L567.9,1698.4 L569.1,1699.1 L570.1,1700.0 L571.1,1701.0 L572.0,1702.0 L572.7,1703.2 L572.7,1703.2 L571.4,1702.7 L570.2,1702.2 L569.0,1701.6 L567.9,1701.1 L566.8,1700.5 L565.7,1699.8 L564.6,1699.2 L563.5,1698.5 L562.3,1697.8 L561.2,1696.9Z" fill="#f0a6b1" opacity="0.6"/>
<path d="M535.0,1747.5 L534.0,1747.7 L533.2,1747.6 L532.4,1747.4 L531.7,1747.1 L531.2,1746.7 L530.8,1746.1 L530.5,1745.4 L530.3,1744.6 L530.2,1743.8 L530.4,1742.8 L530.4,1742.8 L531.4,1742.8 L532.2,1743.0 L532.9,1743.2 L533.5,1743.5 L534.0,1743.9 L534.4,1744.4 L534.7,1745.0 L534.9,1745.7 L535.0,1746.5 L535.0,1747.5Z" fill="#f0a6b1" opacity="0.6"/>
<circle cx="560.1" cy="1722.7" r="15" fill="url(#gPinkNuc)" stroke="#c9485e" stroke-width="1.3"/>
<ellipse cx="557.1" cy="1723.7" rx="8.2" ry="10.5" fill="#fad6dd" opacity="0.7"/>
<path d="M552.6,1737.4 L549.6,1736.3 L546.9,1734.4 L544.6,1731.9 L543.0,1728.9 L542.1,1725.6 L541.9,1722.1 L542.6,1718.8 L543.9,1715.7 L545.9,1713.0 L548.4,1711.0 L548.4,1711.0 L547.0,1713.8 L546.0,1716.6 L545.4,1719.4 L545.3,1722.2 L545.5,1725.0 L546.2,1727.7 L547.2,1730.3 L548.6,1732.9 L550.4,1735.2 L552.6,1737.4Z" fill="#fde9ec" opacity="0.9"/>
<line x1="692.5" y1="1528.6" x2="890" y2="1528.6" stroke="#b35d1e" stroke-width="4.2"/>
<path d="M907.4,1528.6 L882,1519.6 L888,1528.6 L882,1537.6Z" fill="#b35d1e"/>
<path d="M692.5,1704.4 L865,1704.4 L865,1691.4 L907.4,1714.4 L865,1737.4 L865,1724.4 L692.5,1724.4Z" fill="#d72b35"/>
<text x="986.0" y="1505.2" font-size="22.6" fill="#222" stroke="#222" stroke-width="0.8" textLength="322.7" lengthAdjust="spacingAndGlyphs" letter-spacing="0.90" text-anchor="start" >Positive immune response</text>
<text x="986.0" y="1534.2" font-size="22.6" fill="#222" stroke="#222" stroke-width="0.8" textLength="391.7" lengthAdjust="spacingAndGlyphs" letter-spacing="0.90" text-anchor="start" >(e.g., pro-inflammatory, immune</text>
<text x="986.0" y="1563.2" font-size="22.6" fill="#222" stroke="#222" stroke-width="0.8" textLength="129.4" lengthAdjust="spacingAndGlyphs" letter-spacing="0.90" text-anchor="start" >activation)</text>
<text x="987.6" y="1702.7" font-size="22.6" fill="#222" stroke="#222" stroke-width="0.8" textLength="332.1" lengthAdjust="spacingAndGlyphs" letter-spacing="0.90" text-anchor="start" >Negative immune response</text>
<text x="987.6" y="1731.7" font-size="22.6" fill="#222" stroke="#222" stroke-width="0.8" textLength="395.8" lengthAdjust="spacingAndGlyphs" letter-spacing="0.90" text-anchor="start" >(e.g., anti-inflammatory, immune</text>
<text x="987.6" y="1760.7" font-size="22.6" fill="#222" stroke="#222" stroke-width="0.8" textLength="157.0" lengthAdjust="spacingAndGlyphs" letter-spacing="0.90" text-anchor="start" >suppression)</text>
<g transform="translate(0,1.5) rotate(-15 1199 1611)"><rect x="1120" y="1605" width="158" height="11" fill="#858585" stroke="#2b2b2b" stroke-width="2.6"/></g>
<path d="M1198.3,1619.4 L1216.3,1652.3 L1180.8,1652.3Z" fill="#3b3b3b" stroke="#222" stroke-width="1.5"/>
<path d="M1211.6,1553 Q1252,1552 1263,1584" fill="none" stroke="#111" stroke-width="2.2"/>
<path d="M1264.5,1588.3 L1264.8,1573.9 L1255.4,1577.1Z" fill="#111"/>
<path d="M1130.4,1650 Q1163,1644 1181,1664" fill="none" stroke="#111" stroke-width="4.6"/>
<path d="M1186.7,1670.3 L1176.6,1645.1 L1162.7,1657.6Z" fill="#111"/>
<path d="M366.3,2080.0 L366.3,2086.7 L366.0,2093.4 L364.5,2100.0 L362.8,2106.5 L360.8,2112.8 L358.3,2119.0 L355.9,2125.2 L353.5,2131.4 L350.0,2137.0 L345.7,2142.2 L341.6,2147.3 L337.8,2152.6 L334.1,2158.1 L329.4,2162.7 L324.3,2166.9 L319.8,2171.8 L314.8,2176.2 L309.0,2179.4 L302.9,2182.2 L296.7,2184.5 L290.7,2187.0 L284.6,2189.6 L278.3,2191.4 L271.9,2192.8 L265.4,2194.0 L258.9,2194.8 L252.3,2195.7 L245.7,2196.3 L239.0,2196.2 L232.4,2195.3 L225.9,2194.0 L219.4,2192.5 L213.1,2190.6 L206.9,2188.0 L200.8,2185.6 L194.3,2183.6 L188.2,2180.8 L182.7,2176.9 L177.6,2172.6 L172.9,2167.8 L168.2,2163.1 L163.7,2158.3 L159.2,2153.5 L154.6,2148.6 L150.7,2143.2 L147.3,2137.4 L144.2,2131.5 L141.2,2125.6 L139.3,2119.1 L138.7,2112.4 L137.0,2106.0 L135.0,2099.7 L134.0,2093.2 L133.5,2086.6 L134.2,2080.0 L134.9,2073.5 L134.7,2066.9 L135.3,2060.3 L137.3,2054.0 L139.2,2047.8 L140.4,2041.2 L141.6,2034.6 L144.5,2028.6 L148.3,2023.1 L151.9,2017.6 L155.6,2012.1 L159.2,2006.6 L163.0,2001.1 L167.7,1996.4 L172.6,1991.8 L177.9,1987.7 L183.3,1984.0 L188.9,1980.3 L194.8,1977.3 L200.8,1974.5 L207.1,1972.3 L213.3,1970.3 L219.7,1968.5 L226.0,1966.6 L232.4,1964.6 L239.0,1963.9 L245.7,1964.0 L252.3,1964.0 L258.9,1964.8 L265.5,1965.4 L272.1,1965.8 L278.5,1967.7 L284.8,1969.8 L291.1,1971.7 L297.0,1974.8 L302.9,1977.9 L308.8,1980.8 L314.2,1984.7 L319.1,1989.1 L323.9,1993.6 L328.8,1997.9 L333.7,2002.3 L338.1,2007.2 L342.2,2012.3 L346.0,2017.7 L349.8,2023.1 L353.4,2028.7 L356.1,2034.7 L358.7,2040.9 L360.9,2047.1 L362.0,2053.7 L363.5,2060.2 L365.7,2066.6 L366.6,2073.3Z" fill="url(#gCell)" stroke="#c6712d" stroke-width="2.4"/>
<path d="M285.2,2011.2 L288.9,2011.6 L292.3,2012.6 L295.5,2014.0 L298.6,2015.8 L301.3,2017.9 L303.8,2020.4 L305.9,2023.2 L307.6,2026.3 L309.0,2029.6 L309.8,2033.3 L309.8,2033.3 L306.6,2031.6 L303.8,2029.8 L301.1,2028.0 L298.6,2026.0 L296.2,2024.0 L293.9,2021.8 L291.7,2019.5 L289.5,2017.0 L287.3,2014.3 L285.2,2011.2Z" fill="#e4bb80" opacity="0.75"/>
<path d="M284.4,1993.2 L288.2,1992.8 L291.8,1993.0 L295.3,1993.7 L298.7,1994.7 L301.8,1996.2 L304.8,1998.0 L307.5,2000.2 L309.9,2002.8 L312.0,2005.6 L313.6,2008.9 L313.6,2008.9 L309.8,2008.2 L306.4,2007.1 L303.2,2006.0 L300.2,2004.7 L297.3,2003.3 L294.6,2001.7 L291.9,2000.0 L289.4,1998.0 L286.8,1995.8 L284.4,1993.2Z" fill="#e8c28b" opacity="0.75"/>
<path d="M176.1,2122.3 L174.1,2121.4 L172.4,2120.3 L170.9,2119.0 L169.6,2117.6 L168.5,2116.0 L167.7,2114.3 L167.1,2112.6 L166.7,2110.7 L166.6,2108.8 L166.9,2106.7 L166.9,2106.7 L168.7,2108.0 L170.2,2109.4 L171.6,2110.8 L172.8,2112.2 L173.7,2113.7 L174.6,2115.2 L175.2,2116.8 L175.7,2118.5 L176.1,2120.3 L176.1,2122.3Z" fill="#ebc894" opacity="0.75"/>
<path d="M261.6,1992.2 L262.9,1990.9 L264.2,1990.3 L265.5,1990.0 L266.7,1990.0 L267.8,1990.5 L268.9,1991.3 L269.8,1992.5 L270.7,1994.0 L271.4,1995.9 L271.9,1998.3 L271.9,1998.3 L270.4,1999.4 L269.1,2000.0 L268.0,2000.2 L266.9,2000.1 L265.9,1999.7 L265.0,1998.9 L264.1,1997.8 L263.2,1996.3 L262.4,1994.5 L261.6,1992.2Z" fill="#ebc894" opacity="0.75"/>
<path d="M171.6,2044.4 L171.7,2040.5 L172.5,2036.9 L173.8,2033.5 L175.5,2030.3 L177.7,2027.4 L180.3,2024.9 L183.3,2022.8 L186.6,2021.0 L190.3,2019.7 L194.3,2019.1 L194.3,2019.1 L193.0,2022.6 L191.4,2025.6 L189.7,2028.4 L187.9,2031.0 L185.8,2033.4 L183.5,2035.7 L181.0,2038.0 L178.2,2040.1 L175.2,2042.3 L171.6,2044.4Z" fill="#e8c28b" opacity="0.75"/>
<path d="M194.1,2168.0 L190.4,2169.2 L187.1,2169.6 L184.0,2169.6 L181.0,2169.2 L178.4,2168.4 L176.0,2167.2 L173.9,2165.5 L172.1,2163.6 L170.6,2161.3 L169.7,2158.5 L169.7,2158.5 L173.6,2158.2 L177.0,2158.3 L180.0,2158.5 L182.8,2159.0 L185.2,2159.8 L187.5,2160.8 L189.4,2162.1 L191.2,2163.7 L192.8,2165.5 L194.1,2168.0Z" fill="#ebc894" opacity="0.75"/>
<path d="M319.0,2087.7 L320.6,2090.3 L321.4,2092.8 L321.6,2095.3 L321.4,2097.8 L320.6,2100.1 L319.4,2102.2 L317.6,2104.2 L315.4,2105.9 L312.8,2107.3 L309.5,2108.2 L309.5,2108.2 L308.6,2105.5 L308.4,2103.1 L308.4,2100.9 L308.8,2098.9 L309.5,2097.0 L310.6,2095.1 L312.1,2093.3 L313.9,2091.5 L316.1,2089.6 L319.0,2087.7Z" fill="#ebc894" opacity="0.75"/>
<path d="M146.5,2083.2 L144.6,2078.8 L143.4,2074.2 L142.7,2069.6 L142.5,2064.9 L142.9,2060.3 L143.7,2055.7 L145.1,2051.3 L147.0,2047.0 L149.3,2043.0 L152.2,2039.3 L152.2,2039.3 L152.3,2044.1 L152.2,2048.7 L151.9,2053.2 L151.5,2057.5 L151.1,2061.8 L150.5,2066.0 L149.7,2070.3 L148.8,2074.5 L147.8,2078.8 L146.5,2083.2Z" fill="#ebc894" opacity="0.75"/>
<path d="M234.6,2005.8 L237.2,2004.1 L239.9,2002.8 L242.8,2001.8 L245.7,2001.0 L248.6,2000.6 L251.6,2000.6 L254.6,2000.8 L257.5,2001.3 L260.4,2002.2 L263.1,2003.5 L263.1,2003.5 L260.1,2004.3 L257.1,2004.8 L254.2,2005.3 L251.4,2005.7 L248.7,2006.0 L245.9,2006.2 L243.1,2006.3 L240.3,2006.2 L237.5,2006.1 L234.6,2005.8Z" fill="#ebc894" opacity="0.75"/>
<path d="M160.6,2105.1 L158.3,2101.5 L156.6,2097.6 L155.3,2093.6 L154.4,2089.5 L154.0,2085.3 L154.1,2081.2 L154.6,2077.0 L155.6,2072.9 L156.9,2068.9 L158.9,2065.1 L158.9,2065.1 L159.6,2069.2 L160.1,2073.2 L160.5,2077.2 L160.8,2081.1 L161.0,2085.0 L161.1,2088.9 L161.1,2092.8 L161.0,2096.8 L160.9,2100.9 L160.6,2105.1Z" fill="#e8c28b" opacity="0.75"/>
<path d="M312.6,2164.4 L311.1,2167.9 L309.0,2170.9 L306.7,2173.6 L304.1,2176.0 L301.3,2178.0 L298.3,2179.6 L295.0,2180.9 L291.7,2181.8 L288.2,2182.3 L284.5,2182.2 L284.5,2182.2 L287.0,2179.3 L289.6,2176.8 L292.1,2174.6 L294.7,2172.5 L297.4,2170.7 L300.2,2169.1 L303.0,2167.6 L306.0,2166.3 L309.2,2165.2 L312.6,2164.4Z" fill="#ebc894" opacity="0.75"/>
<path d="M144.1,2095.1 L142.1,2092.0 L140.9,2088.8 L140.3,2085.4 L140.2,2082.1 L140.6,2078.7 L141.7,2075.4 L143.2,2072.2 L145.3,2069.1 L147.9,2066.2 L151.4,2063.5 L151.4,2063.5 L152.5,2066.8 L153.0,2069.9 L153.1,2072.9 L152.9,2075.9 L152.4,2078.8 L151.5,2081.9 L150.2,2085.0 L148.6,2088.2 L146.7,2091.5 L144.1,2095.1Z" fill="#e8c28b" opacity="0.75"/>
<path d="M340.3,2042.6 L342.3,2043.6 L343.8,2044.8 L344.9,2046.2 L345.8,2047.7 L346.3,2049.3 L346.5,2051.1 L346.3,2052.9 L345.8,2054.8 L344.9,2056.7 L343.4,2058.7 L343.4,2058.7 L341.6,2057.5 L340.3,2056.2 L339.3,2054.8 L338.5,2053.4 L338.1,2051.9 L337.9,2050.3 L338.1,2048.6 L338.5,2046.8 L339.1,2044.8 L340.3,2042.6Z" fill="#e4bb80" opacity="0.75"/>
<path d="M150.7,2110.3 L148.5,2107.0 L146.9,2103.4 L145.8,2099.7 L145.2,2095.8 L145.0,2092.0 L145.4,2088.1 L146.2,2084.2 L147.6,2080.4 L149.4,2076.7 L151.9,2073.2 L151.9,2073.2 L152.9,2076.9 L153.5,2080.4 L153.9,2083.9 L154.1,2087.4 L154.0,2090.9 L153.8,2094.5 L153.3,2098.2 L152.7,2102.1 L151.9,2106.0 L150.7,2110.3Z" fill="#ebc894" opacity="0.75"/>
<path d="M181.5,2119.5 L179.8,2118.8 L178.6,2117.8 L177.7,2116.6 L177.0,2115.3 L176.7,2113.8 L176.8,2112.1 L177.2,2110.4 L177.9,2108.5 L179.0,2106.6 L180.7,2104.5 L180.7,2104.5 L182.2,2105.4 L183.3,2106.4 L184.0,2107.5 L184.5,2108.7 L184.7,2110.1 L184.6,2111.6 L184.2,2113.2 L183.6,2115.1 L182.8,2117.1 L181.5,2119.5Z" fill="#e4bb80" opacity="0.75"/>
<path d="M164.9,2069.1 L164.2,2066.2 L163.9,2063.2 L164.0,2060.3 L164.4,2057.4 L165.2,2054.6 L166.2,2051.9 L167.6,2049.3 L169.3,2046.9 L171.3,2044.6 L173.7,2042.6 L173.7,2042.6 L173.6,2045.6 L173.2,2048.5 L172.7,2051.2 L172.1,2053.8 L171.3,2056.4 L170.4,2059.0 L169.3,2061.5 L168.0,2064.0 L166.6,2066.6 L164.9,2069.1Z" fill="#e8c28b" opacity="0.75"/>
<path d="M324.6,2066.3 L325.8,2067.3 L326.4,2068.4 L326.8,2069.5 L326.8,2070.7 L326.5,2071.9 L325.9,2073.1 L325.0,2074.3 L323.8,2075.5 L322.2,2076.7 L320.2,2077.9 L320.2,2077.9 L319.2,2076.9 L318.7,2075.8 L318.4,2074.8 L318.4,2073.8 L318.7,2072.7 L319.3,2071.6 L320.2,2070.4 L321.3,2069.1 L322.7,2067.8 L324.6,2066.3Z" fill="#e4bb80" opacity="0.75"/>
<path d="M280.1,2180.7 L277.8,2182.7 L275.3,2184.0 L272.7,2184.9 L270.0,2185.4 L267.2,2185.4 L264.3,2184.9 L261.5,2183.9 L258.6,2182.5 L255.9,2180.7 L253.2,2178.1 L253.2,2178.1 L255.6,2176.7 L258.0,2175.8 L260.4,2175.3 L262.9,2175.1 L265.4,2175.3 L268.0,2175.7 L270.8,2176.5 L273.7,2177.5 L276.7,2178.9 L280.1,2180.7Z" fill="#e8c28b" opacity="0.75"/>
<path d="M170.7,2063.9 L168.9,2059.9 L167.9,2055.9 L167.5,2052.0 L167.8,2048.2 L168.5,2044.4 L169.9,2040.9 L171.8,2037.7 L174.1,2034.7 L176.9,2032.1 L180.4,2030.1 L180.4,2030.1 L180.6,2034.5 L180.4,2038.5 L180.0,2042.2 L179.5,2045.7 L178.8,2049.0 L177.7,2052.1 L176.5,2055.1 L174.9,2058.0 L173.1,2061.0 L170.7,2063.9Z" fill="#ebc894" opacity="0.75"/>
<path d="M239.8,2155.8 L237.7,2157.2 L235.7,2157.9 L233.7,2158.2 L231.8,2158.2 L229.9,2157.8 L228.2,2157.0 L226.5,2155.8 L225.0,2154.3 L223.7,2152.4 L222.7,2150.0 L222.7,2150.0 L224.9,2149.1 L226.8,2148.7 L228.7,2148.6 L230.4,2148.7 L232.1,2149.1 L233.6,2149.8 L235.2,2150.8 L236.7,2152.1 L238.3,2153.7 L239.8,2155.8Z" fill="#e8c28b" opacity="0.75"/>
<path d="M186.7,1993.6 L187.8,1991.0 L189.3,1988.8 L191.0,1986.8 L193.0,1985.2 L195.1,1984.0 L197.5,1983.1 L200.0,1982.5 L202.6,1982.3 L205.4,1982.5 L208.3,1983.2 L208.3,1983.2 L206.8,1985.6 L205.1,1987.5 L203.3,1989.1 L201.4,1990.5 L199.4,1991.6 L197.3,1992.5 L194.9,1993.1 L192.4,1993.5 L189.8,1993.8 L186.7,1993.6Z" fill="#e8c28b" opacity="0.75"/>
<path d="M247.8,2003.2 L251.1,2001.6 L254.5,2000.5 L257.9,1999.8 L261.4,1999.5 L264.9,1999.6 L268.4,2000.1 L271.8,2001.0 L275.0,2002.2 L278.1,2003.8 L281.0,2005.9 L281.0,2005.9 L277.2,2006.2 L273.7,2006.2 L270.3,2006.2 L266.9,2006.1 L263.7,2005.9 L260.5,2005.6 L257.3,2005.2 L254.2,2004.7 L251.0,2004.1 L247.8,2003.2Z" fill="#ebc894" opacity="0.75"/>
<path d="M325.8,2085.5 L328.6,2087.9 L330.5,2090.5 L332.0,2093.0 L333.0,2095.6 L333.5,2098.1 L333.4,2100.6 L332.9,2103.0 L331.9,2105.2 L330.5,2107.3 L328.3,2109.1 L328.3,2109.1 L326.2,2105.9 L324.8,2103.1 L323.6,2100.4 L322.8,2098.0 L322.4,2095.7 L322.3,2093.6 L322.5,2091.5 L323.2,2089.5 L324.1,2087.5 L325.8,2085.5Z" fill="#ebc894" opacity="0.75"/>
<path d="M175.5,2048.6 L174.0,2045.1 L173.4,2041.8 L173.2,2038.6 L173.6,2035.6 L174.5,2032.8 L175.8,2030.3 L177.6,2028.1 L179.8,2026.3 L182.4,2024.8 L185.6,2023.9 L185.6,2023.9 L186.0,2027.7 L186.0,2031.0 L185.7,2034.0 L185.2,2036.7 L184.5,2039.2 L183.4,2041.4 L182.0,2043.4 L180.3,2045.3 L178.2,2047.1 L175.5,2048.6Z" fill="#e8c28b" opacity="0.75"/>
<path d="M328.2,2016.8 L331.2,2017.3 L333.7,2018.3 L335.9,2019.6 L337.8,2021.1 L339.4,2022.9 L340.6,2024.9 L341.5,2027.2 L342.0,2029.6 L342.2,2032.1 L341.7,2034.9 L341.7,2034.9 L338.9,2033.8 L336.6,2032.5 L334.6,2031.1 L332.9,2029.6 L331.5,2027.9 L330.3,2026.1 L329.4,2024.1 L328.7,2021.9 L328.3,2019.5 L328.2,2016.8Z" fill="#e4bb80" opacity="0.75"/>
<path d="M249.0,1988.4 L251.6,1986.4 L254.3,1985.2 L257.0,1984.4 L259.7,1984.2 L262.4,1984.4 L265.0,1985.2 L267.5,1986.4 L269.8,1988.1 L272.0,1990.3 L273.9,1993.1 L273.9,1993.1 L270.9,1994.5 L268.2,1995.2 L265.7,1995.6 L263.2,1995.7 L260.9,1995.4 L258.5,1994.8 L256.2,1993.8 L253.9,1992.4 L251.5,1990.7 L249.0,1988.4Z" fill="#e4bb80" opacity="0.75"/>
<path d="M208.8,2161.5 L204.8,2162.3 L201.1,2162.3 L197.5,2161.8 L194.2,2160.8 L191.2,2159.3 L188.5,2157.3 L186.2,2154.8 L184.3,2152.0 L182.7,2148.8 L181.9,2145.0 L181.9,2145.0 L186.0,2145.4 L189.5,2146.2 L192.6,2147.1 L195.6,2148.3 L198.2,2149.7 L200.6,2151.4 L202.9,2153.3 L205.0,2155.6 L207.0,2158.2 L208.8,2161.5Z" fill="#ebc894" opacity="0.75"/>
<path d="M278.2,2162.9 L276.9,2165.0 L275.3,2166.5 L273.6,2167.6 L271.8,2168.3 L269.8,2168.6 L267.8,2168.5 L265.7,2167.9 L263.6,2166.9 L261.5,2165.6 L259.4,2163.5 L259.4,2163.5 L260.9,2161.7 L262.5,2160.5 L264.1,2159.6 L265.8,2159.1 L267.6,2158.8 L269.4,2159.0 L271.3,2159.4 L273.4,2160.2 L275.7,2161.3 L278.2,2162.9Z" fill="#e8c28b" opacity="0.75"/>
<path d="M323.5,2083.1 L325.0,2085.4 L325.9,2087.6 L326.5,2089.9 L326.6,2092.2 L326.4,2094.4 L325.7,2096.6 L324.7,2098.6 L323.3,2100.6 L321.5,2102.3 L319.1,2103.8 L319.1,2103.8 L318.2,2101.3 L317.7,2099.0 L317.4,2096.9 L317.4,2094.8 L317.7,2092.8 L318.2,2090.9 L319.1,2089.0 L320.2,2087.1 L321.6,2085.1 L323.5,2083.1Z" fill="#e4bb80" opacity="0.75"/>
<path d="M286.4,2176.7 L285.2,2179.6 L283.7,2181.9 L282.0,2183.7 L280.2,2185.2 L278.2,2186.3 L276.0,2186.9 L273.8,2187.0 L271.5,2186.8 L269.1,2186.1 L266.6,2184.8 L266.6,2184.8 L268.3,2182.1 L270.1,2180.1 L271.8,2178.5 L273.6,2177.2 L275.4,2176.2 L277.3,2175.6 L279.4,2175.3 L281.5,2175.4 L283.8,2175.8 L286.4,2176.7Z" fill="#ebc894" opacity="0.75"/>
<path d="M334.0,2040.4 L335.5,2042.2 L336.6,2044.2 L337.5,2046.3 L338.3,2048.4 L338.8,2050.6 L339.0,2052.9 L339.1,2055.2 L338.9,2057.5 L338.5,2059.9 L337.8,2062.3 L337.8,2062.3 L336.8,2060.3 L336.0,2058.3 L335.4,2056.2 L334.8,2054.2 L334.4,2052.0 L334.1,2049.9 L333.9,2047.6 L333.8,2045.3 L333.8,2042.9 L334.0,2040.4Z" fill="#f7eadb" opacity="0.7"/>
<path d="M159.3,2059.9 L159.0,2058.0 L159.0,2056.3 L159.1,2054.5 L159.4,2052.8 L159.8,2051.1 L160.4,2049.5 L161.2,2047.9 L162.1,2046.4 L163.2,2045.0 L164.5,2043.7 L164.5,2043.7 L164.6,2045.6 L164.4,2047.3 L164.1,2049.0 L163.8,2050.6 L163.3,2052.2 L162.7,2053.8 L162.1,2055.4 L161.3,2056.9 L160.4,2058.4 L159.3,2059.9Z" fill="#f7eadb" opacity="0.7"/>
<path d="M188.8,2138.9 L186.6,2137.9 L184.7,2136.6 L183.0,2135.1 L181.5,2133.4 L180.3,2131.5 L179.3,2129.4 L178.6,2127.2 L178.2,2124.8 L178.0,2122.3 L178.3,2119.7 L178.3,2119.7 L180.2,2121.0 L181.8,2122.6 L183.1,2124.1 L184.4,2125.8 L185.4,2127.6 L186.4,2129.5 L187.1,2131.6 L187.8,2133.8 L188.4,2136.2 L188.8,2138.9Z" fill="#f7eadb" opacity="0.7"/>
<path d="M237.7,1995.6 L239.2,1994.3 L240.8,1993.4 L242.3,1992.7 L244.0,1992.2 L245.6,1992.0 L247.3,1992.0 L248.9,1992.3 L250.6,1992.8 L252.2,1993.5 L253.7,1994.6 L253.7,1994.6 L252.1,1995.6 L250.5,1996.3 L248.9,1996.9 L247.4,1997.2 L245.8,1997.4 L244.3,1997.4 L242.7,1997.3 L241.1,1996.9 L239.5,1996.4 L237.7,1995.6Z" fill="#f7eadb" opacity="0.7"/>
<path d="M271.1,2172.1 L269.8,2173.3 L268.5,2174.3 L267.1,2175.1 L265.6,2175.8 L264.1,2176.2 L262.6,2176.5 L261.1,2176.6 L259.5,2176.5 L257.9,2176.2 L256.3,2175.6 L256.3,2175.6 L257.8,2174.5 L259.2,2173.7 L260.6,2173.0 L262.0,2172.4 L263.5,2172.0 L264.9,2171.7 L266.4,2171.6 L267.9,2171.6 L269.4,2171.7 L271.1,2172.1Z" fill="#f7eadb" opacity="0.7"/>
<path d="M184.5,2010.3 L185.7,2008.0 L187.3,2006.1 L189.0,2004.4 L190.9,2002.8 L192.9,2001.5 L195.2,2000.5 L197.5,1999.7 L200.0,1999.1 L202.6,1998.8 L205.3,1998.9 L205.3,1998.9 L203.7,2000.8 L202.0,2002.4 L200.2,2003.8 L198.3,2005.1 L196.3,2006.3 L194.3,2007.3 L192.1,2008.2 L189.7,2009.0 L187.3,2009.8 L184.5,2010.3Z" fill="#f7eadb" opacity="0.7"/>
<path d="M278.7,2149.9 L278.1,2151.2 L277.4,2152.3 L276.6,2153.3 L275.7,2154.1 L274.7,2154.7 L273.7,2155.2 L272.7,2155.5 L271.6,2155.6 L270.4,2155.6 L269.2,2155.3 L269.2,2155.3 L270.0,2154.1 L270.8,2153.1 L271.6,2152.2 L272.5,2151.4 L273.4,2150.8 L274.3,2150.3 L275.3,2150.0 L276.4,2149.8 L277.5,2149.7 L278.7,2149.9Z" fill="#f7eadb" opacity="0.7"/>
<path d="M194.8,2021.2 L195.7,2019.3 L196.9,2017.8 L198.3,2016.5 L200.0,2015.4 L201.8,2014.6 L203.7,2014.0 L205.8,2013.7 L208.1,2013.7 L210.4,2014.0 L212.9,2014.7 L212.9,2014.7 L211.7,2016.2 L210.4,2017.4 L208.9,2018.5 L207.4,2019.3 L205.7,2020.0 L203.9,2020.5 L201.9,2020.9 L199.7,2021.2 L197.4,2021.3 L194.8,2021.2Z" fill="#f7eadb" opacity="0.7"/>
<path d="M251.7,2002.3 L253.7,2001.4 L255.8,2001.1 L257.8,2001.1 L259.8,2001.4 L261.7,2002.1 L263.5,2003.1 L265.3,2004.5 L266.9,2006.1 L268.3,2008.1 L269.6,2010.6 L269.6,2010.6 L267.5,2011.0 L265.7,2011.0 L263.9,2010.8 L262.1,2010.4 L260.4,2009.7 L258.7,2008.8 L257.1,2007.6 L255.3,2006.1 L253.5,2004.4 L251.7,2002.3Z" fill="#f7eadb" opacity="0.7"/>
<path d="M306.4,2031.8 L308.3,2032.6 L310.1,2033.6 L311.7,2034.7 L313.1,2036.0 L314.4,2037.4 L315.5,2038.9 L316.5,2040.5 L317.2,2042.2 L317.8,2044.0 L318.1,2046.0 L318.1,2046.0 L316.4,2044.8 L314.9,2043.5 L313.5,2042.3 L312.1,2041.0 L310.9,2039.6 L309.8,2038.2 L308.8,2036.7 L307.9,2035.2 L307.1,2033.6 L306.4,2031.8Z" fill="#f7eadb" opacity="0.7"/>
<path d="M160.8,2100.2 L159.3,2098.4 L158.2,2096.5 L157.3,2094.5 L156.7,2092.4 L156.3,2090.3 L156.2,2088.2 L156.3,2086.0 L156.7,2083.9 L157.3,2081.8 L158.4,2079.7 L158.4,2079.7 L159.5,2081.7 L160.2,2083.7 L160.9,2085.7 L161.4,2087.7 L161.7,2089.7 L161.9,2091.7 L161.9,2093.7 L161.7,2095.8 L161.4,2098.0 L160.8,2100.2Z" fill="#f7eadb" opacity="0.7"/>
<path d="M181.4,2030.4 L180.4,2028.5 L179.8,2026.9 L179.4,2025.5 L179.3,2024.2 L179.4,2023.0 L179.8,2022.1 L180.4,2021.3 L181.2,2020.7 L182.2,2020.4 L183.6,2020.3 L183.6,2020.3 L184.4,2022.3 L184.9,2024.0 L185.2,2025.4 L185.3,2026.7 L185.2,2027.8 L184.9,2028.6 L184.4,2029.4 L183.7,2029.9 L182.7,2030.3 L181.4,2030.4Z" fill="#f7eadb" opacity="0.7"/>
<path d="M268.4,2002.5 L270.7,2002.1 L272.9,2002.0 L275.0,2002.2 L277.1,2002.6 L279.1,2003.3 L281.0,2004.2 L282.8,2005.3 L284.5,2006.6 L286.1,2008.1 L287.4,2009.9 L287.4,2009.9 L285.2,2009.8 L283.1,2009.4 L281.1,2009.0 L279.2,2008.5 L277.3,2007.8 L275.5,2007.1 L273.7,2006.1 L271.9,2005.1 L270.2,2003.9 L268.4,2002.5Z" fill="#f7eadb" opacity="0.7"/>
<path d="M320.9,2062.4 L322.4,2063.5 L323.5,2064.7 L324.4,2065.9 L325.2,2067.3 L325.6,2068.7 L325.9,2070.1 L325.9,2071.5 L325.6,2073.0 L325.2,2074.5 L324.3,2076.0 L324.3,2076.0 L323.0,2074.6 L322.1,2073.3 L321.2,2072.1 L320.6,2070.8 L320.2,2069.5 L319.9,2068.1 L319.9,2066.8 L320.0,2065.4 L320.3,2063.9 L320.9,2062.4Z" fill="#f7eadb" opacity="0.7"/>
<path d="M253.5,2117.4 L241.9,2116.1 L231.0,2111.2 L221.7,2103.3 L214.5,2093.2 L210.2,2081.4 L209.1,2068.9 L211.2,2056.6 L216.4,2045.5 L224.1,2036.4 L234.1,2030.3 L234.1,2030.3 L231.2,2040.9 L229.6,2050.5 L229.2,2059.7 L229.9,2068.3 L231.3,2076.6 L233.5,2084.8 L236.6,2092.9 L240.9,2101.0 L246.5,2109.0 L253.5,2117.4Z" fill="#fbf4e8" opacity="0.9"/>
<clipPath id="nc11"><circle cx="273.4" cy="2067.2" r="48.1"/></clipPath>
<circle cx="273.4" cy="2067.2" r="48.1" fill="url(#gNuc)"/>
<g clip-path="url(#nc11)">
<path d="M263.7,2014.3 L215.6,2043.2 L220.4,2115.4 L271.0,2117.8 C258.9,2091.3 287.8,2081.7 285.4,2057.6 C283.0,2038.4 278.2,2023.9 263.7,2014.3Z" fill="#ecd4a6" opacity="0.93"/>
<ellipse cx="283.0" cy="2060.0" rx="12.0" ry="18.3" fill="#e6d58f" opacity="0.75"/>
</g>
<text x="212.3" y="2149.4" font-size="23" fill="#1e1e1e" stroke="#1e1e1e" stroke-width="0.8" textLength="66.2" lengthAdjust="spacingAndGlyphs" letter-spacing="0.92" text-anchor="start" >T cell</text>
<circle cx="408.3" cy="1940.4" r="5.2" fill="#eef2ea" stroke="#2f7a6d" stroke-width="2.4"/>
<circle cx="372.6" cy="1954.3" r="5.2" fill="#eef2ea" stroke="#2f7a6d" stroke-width="2.4"/>
<circle cx="358.2" cy="1970.6" r="5.2" fill="#eef2ea" stroke="#2f7a6d" stroke-width="2.4"/>
<circle cx="374" cy="1993.8" r="5.2" fill="#eef2ea" stroke="#2f7a6d" stroke-width="2.4"/>
<circle cx="380" cy="2025" r="5.2" fill="#eef2ea" stroke="#2f7a6d" stroke-width="2.4"/>
<circle cx="405" cy="2078.3" r="5.2" fill="#eef2ea" stroke="#2f7a6d" stroke-width="2.4"/>
<circle cx="378.6" cy="2102" r="5.2" fill="#eef2ea" stroke="#2f7a6d" stroke-width="2.4"/>
<circle cx="387" cy="2132.2" r="5.2" fill="#eef2ea" stroke="#2f7a6d" stroke-width="2.4"/>
<circle cx="350.8" cy="2159.6" r="5.2" fill="#eef2ea" stroke="#2f7a6d" stroke-width="2.4"/>
<circle cx="375.4" cy="2175.4" r="5.2" fill="#eef2ea" stroke="#2f7a6d" stroke-width="2.4"/>
<text x="427.3" y="1945" font-size="23" fill="#2c736d" stroke="#2c736d" stroke-width="0.8" textLength="31.8" lengthAdjust="spacingAndGlyphs" letter-spacing="0.92" text-anchor="start" >EV</text>
<rect x="394.4" y="1972.9" width="30.600000000000023" height="30.09999999999991" fill="none" stroke="#111" stroke-width="2.6"/>
<circle cx="409.7" cy="1988" r="5" fill="#e9efe6" stroke="#8fb7ad" stroke-width="2"/>
<line x1="394.4" y1="2003" x2="433.9" y2="2111.3" stroke="#111" stroke-width="2.6"/>
<line x1="425" y1="1972.9" x2="573.2" y2="2014.7" stroke="#111" stroke-width="2.6"/>
<rect x="433.9" y="2014.7" width="157.9" height="96.6" fill="#fdfdfb" stroke="#111" stroke-width="2.6"/>
<line x1="591.8" y1="2014.7" x2="653.6" y2="2044.9" stroke="#111" stroke-width="2.6"/>
<line x1="591.8" y1="2111.3" x2="653.6" y2="2075" stroke="#111" stroke-width="2.6"/>
<rect x="653.6" y="2044.9" width="28.799999999999955" height="30.09999999999991" fill="none" stroke="#111" stroke-width="2.6"/>
<circle cx="668" cy="2060" r="5" fill="#e9efe6" stroke="#8fb7ad" stroke-width="2"/>
<circle cx="470.1" cy="2037" r="12" fill="#eef1d2" stroke="#2f7a6d" stroke-width="2.4"/>
<line x1="470" y1="2049" x2="470" y2="2058" stroke="#2f7a6d" stroke-width="5"/><line x1="470" y1="2049" x2="470" y2="2058" stroke="#a9cf95" stroke-width="2"/>
<g transform="rotate(15 463 2066)">
<path d="M444.0,2074 L450.0,2074 L450.0,2064 L476.0,2064 L476.0,2074 L482.0,2074 L482.0,2058 L444.0,2058Z" fill="#a9cf95" stroke="#2f7a6d" stroke-width="1.8" stroke-linejoin="miter"/>
<rect x="452" y="2067" width="18" height="24" fill="#8b8b8b" stroke="#222" stroke-width="2"/>
</g>
<text x="488.6" y="2046.3" font-size="23" fill="#2c736d" stroke="#2c736d" stroke-width="0.8" textLength="32.3" lengthAdjust="spacingAndGlyphs" letter-spacing="0.92" text-anchor="start" >EV</text>
<text x="488.6" y="2071.8" font-size="23" fill="#2c736d" stroke="#2c736d" stroke-width="0.8" textLength="59.3" lengthAdjust="spacingAndGlyphs" letter-spacing="0.92" text-anchor="start" >MHC</text>
<text x="488.6" y="2092" font-size="23" fill="#1e1e1e" stroke="#1e1e1e" stroke-width="0.8" textLength="93.5" lengthAdjust="spacingAndGlyphs" letter-spacing="0.92" text-anchor="start" >Antigen</text>
<text x="581.5" y="2152.6" font-size="23" fill="#1e1e1e" stroke="#1e1e1e" stroke-width="0.8" textLength="121.9" lengthAdjust="spacingAndGlyphs" letter-spacing="0.92" text-anchor="start" >INDIRECT</text>
<rect x="277" y="2171.2" width="45.39999999999998" height="37.600000000000364" fill="none" stroke="#111" stroke-width="2.6"/>
<circle cx="299.5" cy="2190" r="5" fill="#e9efe6" stroke="#8fb7ad" stroke-width="2"/>
<line x1="277" y1="2208.8" x2="69.3" y2="2268.9" stroke="#111" stroke-width="2.6"/>
<line x1="322.4" y1="2208.8" x2="463.1" y2="2268.9" stroke="#111" stroke-width="2.6"/>
<text x="243.9" y="2251.6" font-size="23" fill="#1e1e1e" stroke="#1e1e1e" stroke-width="0.8" textLength="94.5" lengthAdjust="spacingAndGlyphs" letter-spacing="0.92" text-anchor="start" >DIRECT</text>
<clipPath id="clipAPC"><path d="M663.5,2111.0 C665.0,2101.8 691.2,2075.8 704.0,2061.5 C716.8,2047.2 740.7,2039.8 740.0,2025.4 C739.3,2011.0 709.7,1988.6 700.0,1975.0 C690.3,1961.4 681.7,1951.0 681.6,1944.0 C681.5,1937.0 689.9,1933.6 699.6,1932.9 C709.3,1932.2 719.7,1932.5 740.0,1939.6 C760.3,1946.7 797.4,1967.8 821.5,1975.7 C845.6,1983.6 872.7,1989.2 884.7,1987.0 C896.7,1984.8 894.5,1972.4 893.7,1962.2 C892.9,1952.0 878.5,1933.4 880.0,1926.0 C881.5,1918.6 892.2,1916.5 902.7,1918.0 C913.2,1919.5 932.0,1928.5 943.3,1935.1 C954.6,1941.7 962.1,1950.2 970.4,1957.7 C978.7,1965.2 978.7,1974.7 993.0,1980.3 C1007.3,1985.9 1033.5,1988.1 1056.0,1991.5 C1078.5,1994.9 1113.2,1995.7 1128.3,2000.6 C1143.4,2005.5 1144.1,2013.8 1146.4,2020.9 C1148.7,2028.0 1141.1,2036.6 1141.9,2043.4 C1142.7,2050.2 1135.2,2052.5 1151.0,2061.5 C1166.8,2070.5 1211.8,2087.8 1236.6,2097.6 C1261.4,2107.4 1286.6,2112.6 1299.8,2120.1 C1313.0,2127.6 1314.8,2134.4 1315.6,2142.7 C1316.3,2151.0 1313.7,2163.8 1304.3,2169.8 C1294.9,2175.8 1278.0,2178.4 1259.2,2178.8 C1240.4,2179.2 1217.8,2177.3 1191.5,2172.0 C1165.2,2166.7 1125.4,2152.8 1101.3,2147.2 C1077.2,2141.6 1060.5,2137.8 1047.0,2138.2 C1033.5,2138.6 1035.0,2151.8 1020.0,2149.5 C1005.0,2147.2 988.5,2132.4 956.9,2124.7 C925.3,2116.9 862.9,2105.9 830.5,2103.0 C798.1,2100.1 785.4,2104.7 762.8,2107.0 C740.2,2109.3 711.5,2116.3 695.0,2117.0 C678.5,2117.7 662.0,2120.2 663.5,2111.0Z"/></clipPath>
<path d="M663.5,2111.0 C665.0,2101.8 691.2,2075.8 704.0,2061.5 C716.8,2047.2 740.7,2039.8 740.0,2025.4 C739.3,2011.0 709.7,1988.6 700.0,1975.0 C690.3,1961.4 681.7,1951.0 681.6,1944.0 C681.5,1937.0 689.9,1933.6 699.6,1932.9 C709.3,1932.2 719.7,1932.5 740.0,1939.6 C760.3,1946.7 797.4,1967.8 821.5,1975.7 C845.6,1983.6 872.7,1989.2 884.7,1987.0 C896.7,1984.8 894.5,1972.4 893.7,1962.2 C892.9,1952.0 878.5,1933.4 880.0,1926.0 C881.5,1918.6 892.2,1916.5 902.7,1918.0 C913.2,1919.5 932.0,1928.5 943.3,1935.1 C954.6,1941.7 962.1,1950.2 970.4,1957.7 C978.7,1965.2 978.7,1974.7 993.0,1980.3 C1007.3,1985.9 1033.5,1988.1 1056.0,1991.5 C1078.5,1994.9 1113.2,1995.7 1128.3,2000.6 C1143.4,2005.5 1144.1,2013.8 1146.4,2020.9 C1148.7,2028.0 1141.1,2036.6 1141.9,2043.4 C1142.7,2050.2 1135.2,2052.5 1151.0,2061.5 C1166.8,2070.5 1211.8,2087.8 1236.6,2097.6 C1261.4,2107.4 1286.6,2112.6 1299.8,2120.1 C1313.0,2127.6 1314.8,2134.4 1315.6,2142.7 C1316.3,2151.0 1313.7,2163.8 1304.3,2169.8 C1294.9,2175.8 1278.0,2178.4 1259.2,2178.8 C1240.4,2179.2 1217.8,2177.3 1191.5,2172.0 C1165.2,2166.7 1125.4,2152.8 1101.3,2147.2 C1077.2,2141.6 1060.5,2137.8 1047.0,2138.2 C1033.5,2138.6 1035.0,2151.8 1020.0,2149.5 C1005.0,2147.2 988.5,2132.4 956.9,2124.7 C925.3,2116.9 862.9,2105.9 830.5,2103.0 C798.1,2100.1 785.4,2104.7 762.8,2107.0 C740.2,2109.3 711.5,2116.3 695.0,2117.0 C678.5,2117.7 662.0,2120.2 663.5,2111.0Z" fill="#f6c4c6" stroke="#d3333f" stroke-width="2.6"/>
<g clip-path="url(#clipAPC)">
<path d="M740,2060 Q860,2010 990,2010 Q1100,2025 1160,2090 Q1250,2140 1280,2150 Q1200,2160 1100,2130 Q1000,2110 880,2100 Q790,2090 740,2060Z" fill="#f9d4d4" opacity="0.8"/>
<path d="M877.7,2021.6 L874.9,2024.7 L869.4,2029.0 L860.4,2026.6 L854.3,2021.6 L864.9,2019.1 L869.4,2016.1 L873.4,2019.4Z" fill="#f0a9ac" opacity="0.8"/>
<path d="M839.3,2052.8 L838.9,2055.8 L833.6,2059.7 L825.6,2057.3 L825.8,2052.8 L825.3,2048.2 L833.6,2045.0 L837.5,2050.7Z" fill="#f0a9ac" opacity="0.8"/>
<path d="M892.6,2065.4 L888.5,2068.2 L883.5,2074.1 L877.1,2068.9 L877.1,2065.4 L878.9,2062.8 L883.5,2057.3 L891.9,2060.7Z" fill="#f0a9ac" opacity="0.8"/>
<path d="M894.8,2067.4 L894.9,2073.7 L883.6,2072.7 L875.6,2071.9 L869.2,2067.4 L875.1,2062.7 L883.6,2059.3 L891.8,2062.9Z" fill="#f0a9ac" opacity="0.8"/>
<path d="M882.7,2023.0 L880.9,2026.3 L874.9,2026.5 L869.3,2026.1 L868.4,2023.0 L868.9,2019.7 L874.9,2016.2 L881.5,2019.3Z" fill="#f0a9ac" opacity="0.8"/>
<path d="M854.7,2033.6 L857.4,2039.7 L846.5,2040.5 L838.0,2038.3 L839.2,2033.6 L837.1,2028.4 L846.5,2029.6 L853.2,2029.9Z" fill="#f0a9ac" opacity="0.8"/>
<path d="M910.5,2061.6 L908.2,2066.6 L899.1,2069.7 L889.4,2067.0 L891.2,2061.6 L895.0,2059.3 L899.1,2056.7 L905.0,2058.3Z" fill="#f0a9ac" opacity="0.8"/>
<path d="M847.8,2081.3 L839.2,2084.7 L832.9,2088.2 L826.1,2085.1 L817.7,2081.3 L825.6,2077.2 L832.9,2076.7 L838.6,2078.1Z" fill="#f0a9ac" opacity="0.8"/>
<path d="M874.4,2037.1 L873.4,2043.0 L862.7,2042.5 L857.2,2040.1 L846.5,2037.1 L855.0,2032.8 L862.7,2033.5 L866.9,2034.8Z" fill="#f0a9ac" opacity="0.8"/>
<path d="M838.3,2060.8 L831.4,2064.7 L824.3,2064.2 L817.6,2064.5 L808.2,2060.8 L816.5,2056.4 L824.3,2052.0 L834.7,2055.0Z" fill="#f0a9ac" opacity="0.8"/>
<path d="M804.6,2103.7 L814.0,2104.1 L820.2,2105.5 L825.1,2104.8 L832.7,2109.4 L843.7,2107.0" stroke="#fbe0e0" stroke-width="2.5" fill="none" opacity="0.8"/>
<path d="M1104.8,2076.0 L1109.6,2077.3 L1120.4,2077.3 L1126.0,2076.1 L1131.3,2080.6 L1142.6,2084.8" stroke="#fbe0e0" stroke-width="2.5" fill="none" opacity="0.8"/>
<path d="M929.7,2012.5 L941.1,2016.3 L951.7,2014.4 L956.2,2018.2 L967.8,2014.0 L975.7,2009.7" stroke="#fbe0e0" stroke-width="2.5" fill="none" opacity="0.8"/>
<path d="M1106.3,2026.7 L1114.1,2027.2 L1120.3,2030.9 L1127.6,2028.0 L1136.0,2030.3 L1141.6,2028.4" stroke="#fbe0e0" stroke-width="2.5" fill="none" opacity="0.8"/>
<path d="M1060.0,2067.0 L1068.1,2063.2 L1073.9,2061.5 L1082.6,2058.8 L1088.4,2054.6 L1097.4,2051.8" stroke="#fbe7e7" stroke-width="2.5" fill="none" opacity="0.8"/>
<path d="M1143.9,2019.2 L1149.8,2020.9 L1155.5,2017.2 L1167.0,2017.9 L1174.7,2020.8 L1185.2,2017.7" stroke="#fbe7e7" stroke-width="2.5" fill="none" opacity="0.8"/>
<path d="M1063.6,2056.1 L1070.9,2059.7 L1075.3,2061.2 L1084.5,2056.8 L1094.3,2059.8 L1099.2,2056.8" stroke="#fbe0e0" stroke-width="2.5" fill="none" opacity="0.8"/>
<path d="M979.4,2064.8 L985.7,2062.3 L997.1,2061.8 L1008.0,2062.3 L1012.4,2067.3 L1023.0,2072.0" stroke="#fbe7e7" stroke-width="2.5" fill="none" opacity="0.8"/>
<path d="M866.5,2073.1 L872.2,2072.1 L876.7,2070.9 L888.6,2068.6 L898.9,2068.1 L906.2,2072.7" stroke="#fbe0e0" stroke-width="2.5" fill="none" opacity="0.8"/>
<path d="M1064.7,2073.3 L1070.3,2070.4 L1074.7,2072.8 L1079.2,2070.9 L1083.6,2070.7 L1095.0,2071.0" stroke="#fbe7e7" stroke-width="2.5" fill="none" opacity="0.8"/>
<path d="M1184.3,2020.4 L1189.8,2021.4 L1199.2,2018.7 L1204.2,2022.6 L1210.1,2023.6 L1219.1,2022.8" stroke="#fbe0e0" stroke-width="2.5" fill="none" opacity="0.8"/>
<path d="M1026.1,2051.1 L1032.2,2052.8 L1038.7,2050.5 L1043.7,2051.9 L1051.4,2056.2 L1062.9,2051.3" stroke="#fbe0e0" stroke-width="2.5" fill="none" opacity="0.8"/>
<path d="M1199.4,2139.5 L1204.0,2136.6 L1210.1,2141.0 L1221.1,2144.7 L1228.1,2141.3 L1238.8,2143.4" stroke="#fbe0e0" stroke-width="2.5" fill="none" opacity="0.8"/>
<path d="M1193.5,2114.9 L1201.8,2116.6 L1210.2,2120.9 L1215.0,2124.7 L1221.2,2128.6 L1231.1,2125.2" stroke="#f3a9ab" stroke-width="2.5" fill="none" opacity="0.8"/>
<path d="M1041.9,2103.3 L1047.6,2104.6 L1053.7,2104.5 L1064.9,2108.0 L1069.7,2107.2 L1075.9,2102.2" stroke="#fbe7e7" stroke-width="2.5" fill="none" opacity="0.8"/>
<path d="M1054.8,2044.1 L1064.8,2044.6 L1072.2,2039.7 L1076.8,2043.5 L1088.0,2044.0 L1098.7,2044.8" stroke="#fbe7e7" stroke-width="2.5" fill="none" opacity="0.8"/>
<path d="M971.9,2015.4 L978.8,2019.8 L990.6,2015.2 L997.5,2017.0 L1006.8,2015.5 L1015.3,2019.3" stroke="#fbe0e0" stroke-width="2.5" fill="none" opacity="0.8"/>
<path d="M1099.8,2130.3 L1105.7,2127.0 L1116.1,2123.7 L1123.4,2120.5 L1134.8,2123.4 L1142.1,2125.1" stroke="#fbe0e0" stroke-width="2.5" fill="none" opacity="0.8"/>
<path d="M1124.3,2044.7 L1134.6,2040.8 L1145.6,2044.4 L1151.4,2047.5 L1159.0,2045.6 L1169.4,2042.8" stroke="#fbe7e7" stroke-width="2.5" fill="none" opacity="0.8"/>
<path d="M1064.0,2061.8 L1070.2,2057.5 L1080.4,2056.0 L1088.5,2057.8 L1099.3,2056.1 L1103.5,2059.9" stroke="#f3a9ab" stroke-width="2.5" fill="none" opacity="0.8"/>
<path d="M871.4,2135.1 L877.6,2131.2 L885.0,2133.5 L891.5,2134.6 L899.6,2133.4 L908.2,2131.0" stroke="#fbe0e0" stroke-width="2.5" fill="none" opacity="0.8"/>
<path d="M974.4,2077.6 L984.9,2079.5 L996.4,2081.8 L1002.0,2081.1 L1013.6,2085.3 L1022.5,2087.0" stroke="#fbe7e7" stroke-width="2.5" fill="none" opacity="0.8"/>
<path d="M1087.9,2049.0 L1094.4,2048.1 L1101.6,2046.1 L1106.6,2045.3 L1118.1,2047.1 L1129.4,2048.2" stroke="#f3a9ab" stroke-width="2.5" fill="none" opacity="0.8"/>
<path d="M962.4,2118.4 L968.9,2115.5 L979.1,2116.6 L985.7,2116.0 L995.1,2116.1 L1005.5,2120.7" stroke="#fbe0e0" stroke-width="2.5" fill="none" opacity="0.8"/>
<path d="M867.9,2021.0 L876.0,2022.4 L882.7,2025.5 L892.7,2027.3 L898.5,2024.3 L902.7,2021.7" stroke="#f3a9ab" stroke-width="2.5" fill="none" opacity="0.8"/>
<path d="M1044.5,2109.9 L1052.2,2113.8 L1060.8,2115.9 L1067.8,2114.9 L1073.0,2116.8 L1084.2,2120.4" stroke="#fbe7e7" stroke-width="2.5" fill="none" opacity="0.8"/>
</g>
<ellipse cx="950" cy="2072.8" rx="70" ry="41" transform="rotate(12 950 2072.8)" fill="#ef7c7f" stroke="#d8363f" stroke-width="2.2"/>
<ellipse cx="930" cy="2062" rx="28" ry="16" transform="rotate(12 930 2062)" fill="#f4a2a3" opacity="0.7"/>
<circle cx="777.7" cy="2024.5" r="31.5" fill="#f5b0b3" stroke="#d3333f" stroke-width="2.4"/>
<circle cx="775" cy="2016" r="10.5" fill="#f6bfc1" stroke="#d3333f" stroke-width="2.2"/>
<circle cx="768" cy="2038" r="7.5" fill="#f6bfc1" stroke="#d3333f" stroke-width="2.2"/>
<circle cx="795" cy="2037" r="4.8" fill="#f6bfc1" stroke="#d3333f" stroke-width="2"/>
<text x="927.9" y="2005.4" font-size="23" fill="#1e1e1e" stroke="#1e1e1e" stroke-width="0.8" textLength="53.2" lengthAdjust="spacingAndGlyphs" letter-spacing="0.92" text-anchor="start" >APC</text>
<g transform="rotate(12 745 2069)">
<line x1="727" y1="2066" x2="746" y2="2066" stroke="#2f7a6d" stroke-width="5.5"/><line x1="727" y1="2066" x2="747" y2="2066" stroke="#9fd3bd" stroke-width="2"/>
<path d="M745,2055 L759,2055 L759,2060 L750,2060 L750,2072 L759,2072 L759,2077 L745,2077Z" fill="#9fd3bd" stroke="#2f7a6d" stroke-width="1.8"/>
</g>
<g transform="rotate(40 780 2080)"><rect x="774.5" y="2074.5" width="11" height="11" fill="#a5a8aa" stroke="#333" stroke-width="1.4"/></g>
<path d="M761,2071 Q782,2058 801,2074" fill="none" stroke="#222" stroke-width="2.2"/><path d="M806,2080 L794,2076 L803,2068Z" fill="#222"/>
<g transform="rotate(-15 816 2078)">
<line x1="816" y1="2058" x2="816" y2="2074" stroke="#d3333f" stroke-width="6"/><line x1="816" y1="2058" x2="816" y2="2075" stroke="#f6c4c6" stroke-width="2.2"/>
<path d="M803.0,2087 L807.5,2087 L807.5,2077.5 L824.5,2077.5 L824.5,2087 L829.0,2087 L829.0,2073 L803.0,2073Z" fill="#f6c4c6" stroke="#d3333f" stroke-width="1.8" stroke-linejoin="miter"/>
</g>
<circle cx="701.8" cy="2040.2" r="5.2" fill="#eef2ea" stroke="#2f7a6d" stroke-width="2.4"/>
<circle cx="720.4" cy="2045.8" r="5.2" fill="#eef2ea" stroke="#2f7a6d" stroke-width="2.4"/>
<circle cx="698" cy="2062" r="5.2" fill="#eef2ea" stroke="#2f7a6d" stroke-width="2.4"/>
<path d="M869.8,2280.0 L870.1,2286.5 L870.0,2293.1 L868.9,2299.5 L866.8,2305.8 L864.6,2311.9 L862.6,2318.0 L860.7,2324.2 L858.3,2330.3 L855.0,2335.9 L851.5,2341.4 L847.7,2346.6 L843.6,2351.6 L839.7,2356.8 L835.5,2361.8 L830.3,2365.7 L824.6,2369.0 L819.3,2372.6 L814.2,2376.5 L809.1,2380.6 L803.4,2383.9 L797.5,2386.5 L791.4,2388.8 L785.1,2390.9 L778.8,2392.7 L772.3,2393.5 L765.8,2394.0 L759.3,2394.8 L752.7,2395.1 L746.1,2394.9 L739.6,2394.1 L733.2,2392.6 L726.8,2391.0 L720.6,2389.0 L714.5,2386.5 L708.5,2383.9 L702.3,2381.7 L696.4,2378.9 L690.9,2375.2 L686.0,2370.8 L681.2,2366.3 L676.7,2361.6 L672.6,2356.6 L668.3,2351.7 L664.5,2346.5 L661.3,2340.9 L657.9,2335.4 L654.6,2329.9 L651.8,2324.0 L649.2,2318.1 L646.9,2312.0 L645.5,2305.7 L644.5,2299.3 L643.3,2292.9 L642.9,2286.5 L642.9,2280.0 L643.0,2273.5 L643.6,2267.1 L644.4,2260.7 L644.8,2254.2 L646.1,2247.7 L648.5,2241.6 L650.6,2235.5 L653.4,2229.6 L657.4,2224.3 L660.7,2218.7 L663.3,2212.7 L666.9,2207.1 L671.6,2202.5 L676.5,2198.2 L681.0,2193.4 L685.4,2188.5 L690.6,2184.3 L696.4,2181.2 L702.4,2178.4 L708.2,2175.4 L714.3,2172.9 L720.6,2171.1 L726.9,2169.4 L733.2,2167.6 L739.7,2166.6 L746.3,2166.5 L752.8,2166.8 L759.2,2166.8 L765.7,2167.0 L772.1,2168.1 L778.4,2169.3 L784.7,2170.7 L790.8,2172.8 L796.8,2175.3 L802.8,2177.5 L808.8,2179.9 L814.3,2183.3 L819.7,2186.9 L825.2,2190.3 L830.8,2193.7 L835.9,2197.8 L840.2,2202.7 L844.2,2207.9 L848.3,2212.9 L851.9,2218.3 L854.8,2224.2 L858.2,2229.8 L861.5,2235.4 L863.4,2241.7 L864.9,2248.0 L866.8,2254.2 L868.1,2260.6 L868.7,2267.1 L869.3,2273.5Z" fill="url(#gCell)" stroke="#c6712d" stroke-width="2.4"/>
<path d="M855.2,2299.3 L855.1,2303.0 L854.7,2306.6 L853.9,2310.2 L852.9,2313.8 L851.6,2317.2 L850.1,2320.5 L848.2,2323.7 L846.2,2326.8 L843.9,2329.7 L841.3,2332.3 L841.3,2332.3 L842.5,2328.9 L843.8,2325.5 L845.1,2322.2 L846.4,2319.0 L847.8,2315.7 L849.2,2312.5 L850.6,2309.2 L852.0,2305.9 L853.5,2302.6 L855.2,2299.3Z" fill="#ebc894" opacity="0.75"/>
<path d="M691.9,2307.0 L690.6,2306.5 L689.6,2305.8 L688.8,2305.0 L688.2,2304.2 L687.8,2303.2 L687.6,2302.2 L687.5,2301.1 L687.7,2300.0 L688.1,2298.9 L688.7,2297.7 L688.7,2297.7 L689.9,2298.4 L690.8,2299.1 L691.6,2299.9 L692.1,2300.7 L692.5,2301.6 L692.7,2302.5 L692.8,2303.5 L692.7,2304.6 L692.4,2305.8 L691.9,2307.0Z" fill="#e4bb80" opacity="0.75"/>
<path d="M739.4,2363.0 L736.9,2364.4 L734.5,2365.1 L732.1,2365.5 L729.7,2365.6 L727.5,2365.3 L725.3,2364.7 L723.2,2363.8 L721.3,2362.5 L719.6,2361.0 L718.1,2358.9 L718.1,2358.9 L720.8,2358.2 L723.3,2357.9 L725.6,2357.7 L727.8,2357.7 L729.9,2358.0 L731.9,2358.5 L733.8,2359.2 L735.7,2360.2 L737.6,2361.4 L739.4,2363.0Z" fill="#e4bb80" opacity="0.75"/>
<path d="M835.3,2299.5 L835.9,2303.4 L835.7,2307.2 L835.0,2310.9 L833.7,2314.4 L832.0,2317.7 L829.8,2320.7 L827.1,2323.4 L824.0,2325.7 L820.6,2327.7 L816.6,2329.0 L816.6,2329.0 L817.4,2325.3 L818.5,2322.1 L819.8,2319.0 L821.3,2316.0 L823.0,2313.2 L824.9,2310.5 L827.0,2307.8 L829.5,2305.0 L832.1,2302.3 L835.3,2299.5Z" fill="#ebc894" opacity="0.75"/>
<path d="M670.3,2283.3 L668.8,2281.5 L668.1,2279.6 L667.7,2277.8 L667.6,2275.9 L668.0,2274.1 L668.8,2272.3 L670.0,2270.5 L671.6,2268.9 L673.5,2267.4 L676.0,2266.0 L676.0,2266.0 L677.1,2267.9 L677.6,2269.7 L677.8,2271.4 L677.8,2273.1 L677.3,2274.7 L676.6,2276.3 L675.5,2278.0 L674.2,2279.7 L672.5,2281.4 L670.3,2283.3Z" fill="#ebc894" opacity="0.75"/>
<path d="M730.0,2215.3 L730.6,2213.3 L731.5,2212.0 L732.5,2211.0 L733.7,2210.3 L735.0,2210.0 L736.4,2210.2 L737.8,2210.7 L739.4,2211.5 L740.9,2212.8 L742.6,2214.7 L742.6,2214.7 L741.8,2216.5 L740.9,2217.7 L739.9,2218.6 L738.9,2219.1 L737.7,2219.3 L736.5,2219.2 L735.1,2218.7 L733.6,2217.9 L732.0,2216.9 L730.0,2215.3Z" fill="#ebc894" opacity="0.75"/>
<path d="M816.0,2200.4 L819.0,2199.3 L821.6,2198.9 L824.0,2198.8 L826.1,2199.1 L827.9,2199.8 L829.5,2200.9 L830.7,2202.3 L831.5,2204.0 L832.1,2206.0 L832.1,2208.5 L832.1,2208.5 L828.9,2209.1 L826.3,2209.3 L824.0,2209.2 L822.1,2208.9 L820.4,2208.3 L819.0,2207.4 L817.9,2206.1 L817.0,2204.6 L816.3,2202.8 L816.0,2200.4Z" fill="#e8c28b" opacity="0.75"/>
<path d="M780.2,2195.6 L783.1,2195.1 L785.8,2195.2 L788.4,2195.7 L790.9,2196.5 L793.2,2197.8 L795.3,2199.4 L797.2,2201.4 L798.9,2203.7 L800.3,2206.3 L801.2,2209.4 L801.2,2209.4 L798.5,2209.3 L796.0,2208.7 L793.7,2208.0 L791.6,2207.0 L789.5,2205.8 L787.6,2204.3 L785.7,2202.6 L783.9,2200.6 L782.0,2198.3 L780.2,2195.6Z" fill="#e8c28b" opacity="0.75"/>
<path d="M658.4,2253.2 L658.5,2250.8 L658.9,2248.6 L659.4,2246.4 L660.2,2244.3 L661.2,2242.2 L662.4,2240.3 L663.8,2238.4 L665.4,2236.7 L667.1,2235.1 L669.2,2233.7 L669.2,2233.7 L668.7,2235.9 L668.0,2238.0 L667.2,2240.0 L666.3,2241.9 L665.3,2243.9 L664.2,2245.8 L663.0,2247.6 L661.6,2249.5 L660.1,2251.3 L658.4,2253.2Z" fill="#e4bb80" opacity="0.75"/>
<path d="M841.4,2241.9 L844.6,2244.0 L847.1,2246.5 L849.2,2249.3 L850.8,2252.3 L851.8,2255.4 L852.4,2258.8 L852.3,2262.2 L851.7,2265.6 L850.6,2269.0 L848.7,2272.4 L848.7,2272.4 L846.2,2269.5 L844.4,2266.7 L842.9,2263.9 L841.7,2261.1 L840.8,2258.3 L840.3,2255.3 L840.1,2252.3 L840.2,2249.0 L840.5,2245.6 L841.4,2241.9Z" fill="#e8c28b" opacity="0.75"/>
<path d="M833.6,2341.4 L832.1,2344.9 L830.2,2348.2 L828.1,2351.3 L825.7,2354.2 L823.0,2356.9 L820.2,2359.2 L817.1,2361.4 L813.8,2363.2 L810.4,2364.8 L806.7,2365.9 L806.7,2365.9 L809.3,2363.1 L811.8,2360.4 L814.4,2357.8 L817.0,2355.3 L819.6,2352.9 L822.2,2350.5 L824.9,2348.2 L827.7,2345.9 L830.5,2343.6 L833.6,2341.4Z" fill="#e4bb80" opacity="0.75"/>
<path d="M693.8,2355.8 L689.9,2355.3 L686.5,2354.1 L683.4,2352.5 L680.6,2350.5 L678.1,2348.1 L676.1,2345.4 L674.5,2342.3 L673.4,2339.0 L672.7,2335.4 L672.8,2331.5 L672.8,2331.5 L676.3,2333.0 L679.2,2334.8 L681.9,2336.7 L684.3,2338.7 L686.4,2340.9 L688.3,2343.3 L690.0,2346.0 L691.4,2348.9 L692.8,2352.1 L693.8,2355.8Z" fill="#e8c28b" opacity="0.75"/>
<path d="M710.1,2219.3 L710.7,2217.4 L711.8,2216.0 L713.0,2214.9 L714.5,2214.2 L716.3,2213.8 L718.2,2213.8 L720.2,2214.3 L722.5,2215.1 L724.8,2216.3 L727.3,2218.1 L727.3,2218.1 L726.5,2219.8 L725.5,2220.9 L724.3,2221.8 L723.0,2222.3 L721.5,2222.5 L719.7,2222.4 L717.7,2222.1 L715.5,2221.5 L713.0,2220.6 L710.1,2219.3Z" fill="#ebc894" opacity="0.75"/>
<path d="M679.7,2328.6 L677.6,2327.2 L675.9,2325.5 L674.4,2323.6 L673.2,2321.6 L672.1,2319.5 L671.3,2317.3 L670.8,2314.9 L670.5,2312.5 L670.5,2310.1 L670.9,2307.5 L670.9,2307.5 L672.5,2309.4 L673.9,2311.3 L675.1,2313.2 L676.2,2315.2 L677.1,2317.2 L677.8,2319.3 L678.5,2321.4 L679.0,2323.7 L679.5,2326.1 L679.7,2328.6Z" fill="#e8c28b" opacity="0.75"/>
<path d="M834.1,2252.1 L837.1,2253.5 L839.3,2255.2 L841.1,2257.1 L842.5,2259.2 L843.4,2261.5 L843.7,2263.8 L843.6,2266.2 L843.0,2268.7 L841.9,2271.2 L839.9,2273.6 L839.9,2273.6 L837.4,2271.6 L835.5,2269.7 L834.0,2267.7 L832.9,2265.8 L832.1,2263.8 L831.7,2261.8 L831.8,2259.6 L832.1,2257.4 L832.8,2254.9 L834.1,2252.1Z" fill="#e4bb80" opacity="0.75"/>
<path d="M683.6,2308.8 L680.8,2307.6 L678.6,2306.0 L676.8,2304.3 L675.4,2302.3 L674.4,2300.2 L673.9,2298.0 L673.8,2295.6 L674.2,2293.3 L675.0,2290.9 L676.5,2288.5 L676.5,2288.5 L679.0,2290.3 L680.8,2292.2 L682.3,2294.0 L683.5,2295.9 L684.4,2297.7 L684.9,2299.7 L685.1,2301.7 L684.9,2303.9 L684.6,2306.2 L683.6,2308.8Z" fill="#e8c28b" opacity="0.75"/>
<path d="M761.5,2379.8 L758.7,2381.1 L755.9,2381.9 L753.0,2382.5 L750.1,2382.7 L747.1,2382.6 L744.2,2382.2 L741.4,2381.4 L738.6,2380.3 L736.0,2379.0 L733.5,2377.2 L733.5,2377.2 L736.5,2376.6 L739.3,2376.3 L742.2,2376.2 L744.9,2376.2 L747.7,2376.3 L750.4,2376.7 L753.1,2377.2 L755.9,2377.8 L758.7,2378.6 L761.5,2379.8Z" fill="#ebc894" opacity="0.75"/>
<path d="M659.5,2239.3 L659.2,2236.7 L659.4,2234.2 L660.0,2231.9 L660.8,2229.7 L661.9,2227.7 L663.3,2225.8 L665.1,2224.2 L667.1,2222.7 L669.3,2221.4 L671.9,2220.5 L671.9,2220.5 L671.8,2223.1 L671.2,2225.4 L670.6,2227.5 L669.7,2229.5 L668.6,2231.4 L667.3,2233.1 L665.7,2234.8 L663.9,2236.4 L661.9,2237.9 L659.5,2239.3Z" fill="#e8c28b" opacity="0.75"/>
<path d="M812.8,2208.0 L817.2,2209.0 L821.2,2210.6 L825.0,2212.7 L828.5,2215.2 L831.7,2218.1 L834.4,2221.3 L836.8,2224.9 L838.7,2228.7 L840.1,2232.7 L840.9,2237.0 L840.9,2237.0 L837.2,2234.4 L833.9,2231.7 L830.7,2229.0 L827.8,2226.3 L825.0,2223.6 L822.3,2220.8 L819.8,2217.8 L817.4,2214.8 L815.0,2211.6 L812.8,2208.0Z" fill="#e4bb80" opacity="0.75"/>
<path d="M854.0,2250.8 L855.2,2252.7 L856.0,2254.7 L856.7,2256.7 L857.1,2258.8 L857.3,2261.0 L857.3,2263.1 L857.1,2265.3 L856.7,2267.5 L856.1,2269.7 L855.1,2271.9 L855.1,2271.9 L854.4,2269.9 L853.8,2267.9 L853.4,2265.9 L853.1,2263.8 L853.0,2261.8 L852.9,2259.7 L853.0,2257.6 L853.2,2255.4 L853.5,2253.1 L854.0,2250.8Z" fill="#e4bb80" opacity="0.75"/>
<path d="M858.9,2279.3 L859.8,2281.0 L860.3,2282.7 L860.6,2284.5 L860.6,2286.2 L860.4,2288.0 L859.9,2289.7 L859.2,2291.4 L858.2,2293.0 L857.0,2294.6 L855.4,2296.1 L855.4,2296.1 L854.8,2294.3 L854.5,2292.5 L854.4,2290.9 L854.5,2289.2 L854.7,2287.6 L855.2,2285.9 L855.8,2284.3 L856.6,2282.6 L857.6,2281.0 L858.9,2279.3Z" fill="#ebc894" opacity="0.75"/>
<path d="M717.0,2202.5 L718.1,2200.4 L719.4,2198.7 L720.9,2197.4 L722.6,2196.3 L724.4,2195.7 L726.4,2195.4 L728.5,2195.4 L730.6,2195.8 L732.8,2196.6 L735.1,2198.0 L735.1,2198.0 L733.7,2199.9 L732.2,2201.3 L730.7,2202.4 L729.2,2203.2 L727.5,2203.8 L725.7,2204.1 L723.8,2204.1 L721.7,2203.9 L719.5,2203.4 L717.0,2202.5Z" fill="#e8c28b" opacity="0.75"/>
<path d="M806.5,2191.6 L809.7,2190.6 L812.5,2190.2 L815.2,2190.3 L817.6,2190.9 L819.7,2191.9 L821.5,2193.3 L823.1,2195.1 L824.2,2197.2 L825.1,2199.7 L825.4,2202.8 L825.4,2202.8 L822.1,2203.2 L819.3,2203.2 L816.8,2202.9 L814.7,2202.4 L812.7,2201.5 L811.1,2200.3 L809.6,2198.7 L808.4,2196.8 L807.3,2194.5 L806.5,2191.6Z" fill="#e4bb80" opacity="0.75"/>
<path d="M718.0,2347.8 L716.8,2348.1 L715.7,2348.1 L714.6,2347.9 L713.7,2347.6 L712.9,2347.1 L712.2,2346.4 L711.6,2345.6 L711.1,2344.6 L710.7,2343.5 L710.5,2342.2 L710.5,2342.2 L711.8,2342.0 L712.8,2342.1 L713.8,2342.3 L714.7,2342.6 L715.5,2343.1 L716.1,2343.7 L716.7,2344.5 L717.3,2345.4 L717.7,2346.4 L718.0,2347.8Z" fill="#e8c28b" opacity="0.75"/>
<path d="M819.0,2196.2 L823.0,2197.2 L826.8,2198.8 L830.4,2200.7 L833.7,2202.9 L836.8,2205.5 L839.6,2208.3 L842.1,2211.5 L844.3,2214.8 L846.1,2218.4 L847.5,2222.2 L847.5,2222.2 L843.9,2219.9 L840.7,2217.5 L837.6,2215.0 L834.6,2212.6 L831.8,2210.1 L829.0,2207.5 L826.4,2204.9 L823.8,2202.1 L821.3,2199.3 L819.0,2196.2Z" fill="#e8c28b" opacity="0.75"/>
<path d="M780.9,2360.1 L779.0,2361.9 L776.9,2363.3 L774.6,2364.3 L772.3,2364.9 L769.9,2365.2 L767.4,2365.2 L764.9,2364.7 L762.5,2364.0 L760.1,2362.8 L757.7,2361.1 L757.7,2361.1 L759.9,2359.8 L762.1,2358.9 L764.3,2358.3 L766.4,2357.8 L768.6,2357.6 L770.9,2357.7 L773.2,2357.9 L775.6,2358.4 L778.2,2359.0 L780.9,2360.1Z" fill="#e4bb80" opacity="0.75"/>
<path d="M788.2,2342.6 L788.2,2344.8 L788.0,2346.3 L787.5,2347.5 L786.8,2348.3 L785.9,2348.7 L784.8,2348.7 L783.6,2348.2 L782.2,2347.3 L780.8,2346.0 L779.1,2344.0 L779.1,2344.0 L779.2,2341.9 L779.5,2340.4 L780.0,2339.3 L780.6,2338.6 L781.3,2338.2 L782.3,2338.3 L783.4,2338.8 L784.7,2339.6 L786.3,2340.8 L788.2,2342.6Z" fill="#e8c28b" opacity="0.75"/>
<path d="M680.2,2297.1 L678.3,2296.6 L676.8,2295.9 L675.6,2295.1 L674.6,2294.2 L673.9,2293.3 L673.5,2292.3 L673.3,2291.3 L673.5,2290.3 L673.9,2289.2 L674.7,2288.1 L674.7,2288.1 L676.6,2288.9 L678.0,2289.7 L679.2,2290.5 L680.1,2291.4 L680.8,2292.2 L681.2,2293.1 L681.4,2294.0 L681.3,2295.0 L681.0,2296.0 L680.2,2297.1Z" fill="#ebc894" opacity="0.75"/>
<path d="M681.1,2275.3 L679.2,2273.0 L678.1,2270.6 L677.4,2268.2 L677.2,2265.8 L677.5,2263.5 L678.1,2261.3 L679.3,2259.3 L680.8,2257.3 L682.8,2255.6 L685.4,2254.2 L685.4,2254.2 L686.6,2256.9 L687.3,2259.3 L687.6,2261.5 L687.7,2263.6 L687.5,2265.6 L686.9,2267.6 L686.0,2269.5 L684.8,2271.4 L683.2,2273.3 L681.1,2275.3Z" fill="#e4bb80" opacity="0.75"/>
<path d="M759.7,2365.4 L757.6,2366.4 L755.5,2367.0 L753.4,2367.5 L751.3,2367.7 L749.1,2367.6 L747.0,2367.4 L744.9,2366.9 L742.9,2366.2 L740.9,2365.3 L739.0,2364.0 L739.0,2364.0 L741.2,2363.5 L743.3,2363.2 L745.4,2363.0 L747.5,2363.0 L749.5,2363.0 L751.5,2363.2 L753.5,2363.6 L755.5,2364.0 L757.6,2364.6 L759.7,2365.4Z" fill="#ebc894" opacity="0.75"/>
<path d="M689.4,2250.3 L689.2,2248.9 L689.1,2247.5 L689.2,2246.2 L689.4,2245.0 L689.8,2243.8 L690.2,2242.6 L690.9,2241.6 L691.6,2240.6 L692.4,2239.7 L693.4,2238.9 L693.4,2238.9 L693.5,2240.4 L693.4,2241.7 L693.2,2243.0 L692.9,2244.2 L692.6,2245.3 L692.2,2246.4 L691.6,2247.5 L691.0,2248.4 L690.3,2249.4 L689.4,2250.3Z" fill="#f7eadb" opacity="0.7"/>
<path d="M704.3,2214.0 L705.3,2212.0 L706.5,2210.2 L707.9,2208.6 L709.5,2207.2 L711.1,2206.0 L713.0,2205.0 L714.9,2204.3 L717.0,2203.7 L719.1,2203.4 L721.3,2203.5 L721.3,2203.5 L720.0,2205.3 L718.5,2206.8 L717.0,2208.1 L715.5,2209.4 L713.8,2210.5 L712.1,2211.4 L710.4,2212.2 L708.5,2213.0 L706.5,2213.6 L704.3,2214.0Z" fill="#f7eadb" opacity="0.7"/>
<path d="M829.5,2278.1 L830.3,2279.8 L830.7,2281.6 L830.9,2283.3 L830.8,2285.1 L830.5,2286.8 L830.0,2288.5 L829.3,2290.2 L828.3,2291.8 L827.1,2293.3 L825.5,2294.7 L825.5,2294.7 L825.1,2293.0 L825.0,2291.3 L825.0,2289.6 L825.2,2288.0 L825.5,2286.4 L826.0,2284.8 L826.6,2283.1 L827.4,2281.5 L828.3,2279.8 L829.5,2278.1Z" fill="#f7eadb" opacity="0.7"/>
<path d="M797.7,2355.0 L797.4,2356.7 L796.9,2357.9 L796.3,2358.9 L795.5,2359.6 L794.6,2360.1 L793.6,2360.4 L792.4,2360.3 L791.2,2360.0 L789.8,2359.5 L788.3,2358.5 L788.3,2358.5 L788.7,2357.0 L789.3,2355.8 L789.9,2354.9 L790.7,2354.2 L791.5,2353.8 L792.5,2353.5 L793.6,2353.6 L794.8,2353.8 L796.1,2354.2 L797.7,2355.0Z" fill="#f7eadb" opacity="0.7"/>
<path d="M728.9,2357.4 L727.2,2357.7 L725.5,2357.7 L724.0,2357.4 L722.6,2357.0 L721.2,2356.3 L719.9,2355.4 L718.8,2354.3 L717.7,2353.0 L716.8,2351.6 L716.1,2349.8 L716.1,2349.8 L717.8,2349.8 L719.3,2350.0 L720.7,2350.4 L722.1,2350.9 L723.3,2351.5 L724.5,2352.4 L725.7,2353.4 L726.8,2354.5 L727.9,2355.8 L728.9,2357.4Z" fill="#f7eadb" opacity="0.7"/>
<path d="M691.9,2323.6 L690.0,2322.5 L688.4,2321.2 L687.0,2319.7 L685.9,2318.1 L684.9,2316.3 L684.3,2314.4 L683.9,2312.4 L683.7,2310.3 L683.9,2308.1 L684.4,2305.9 L684.4,2305.9 L686.0,2307.3 L687.3,2308.8 L688.5,2310.3 L689.4,2311.9 L690.2,2313.6 L690.9,2315.3 L691.4,2317.2 L691.7,2319.2 L691.9,2321.3 L691.9,2323.6Z" fill="#f7eadb" opacity="0.7"/>
<path d="M715.6,2348.6 L712.7,2348.8 L710.0,2348.6 L707.4,2348.0 L705.0,2347.2 L702.6,2346.1 L700.5,2344.8 L698.6,2343.2 L696.9,2341.3 L695.4,2339.3 L694.2,2337.0 L694.2,2337.0 L697.1,2337.6 L699.7,2338.4 L702.2,2339.2 L704.5,2340.2 L706.6,2341.2 L708.6,2342.4 L710.5,2343.7 L712.3,2345.1 L714.1,2346.7 L715.6,2348.6Z" fill="#f7eadb" opacity="0.7"/>
<path d="M825.4,2223.2 L827.4,2224.2 L829.2,2225.4 L830.8,2226.7 L832.3,2228.2 L833.6,2229.8 L834.7,2231.6 L835.6,2233.5 L836.3,2235.4 L836.8,2237.5 L836.9,2239.6 L836.9,2239.6 L835.1,2238.3 L833.6,2236.9 L832.2,2235.4 L830.9,2233.9 L829.7,2232.4 L828.6,2230.7 L827.6,2229.0 L826.8,2227.2 L826.0,2225.3 L825.4,2223.2Z" fill="#f7eadb" opacity="0.7"/>
<path d="M819.2,2333.9 L818.7,2336.1 L817.8,2338.1 L816.8,2340.0 L815.6,2341.6 L814.2,2343.1 L812.5,2344.4 L810.8,2345.5 L808.9,2346.4 L806.8,2347.1 L804.6,2347.4 L804.6,2347.4 L805.5,2345.3 L806.6,2343.6 L807.8,2341.9 L809.0,2340.4 L810.4,2339.1 L811.9,2337.8 L813.5,2336.7 L815.2,2335.6 L817.1,2334.7 L819.2,2333.9Z" fill="#f7eadb" opacity="0.7"/>
<path d="M707.9,2208.7 L708.9,2206.8 L710.1,2205.2 L711.4,2203.9 L713.0,2202.8 L714.6,2201.9 L716.4,2201.2 L718.2,2200.8 L720.2,2200.6 L722.2,2200.6 L724.4,2201.1 L724.4,2201.1 L723.1,2202.7 L721.8,2204.0 L720.4,2205.2 L718.9,2206.2 L717.3,2207.0 L715.7,2207.7 L713.9,2208.1 L712.1,2208.5 L710.1,2208.7 L707.9,2208.7Z" fill="#f7eadb" opacity="0.7"/>
<path d="M688.6,2258.6 L688.2,2256.9 L688.2,2255.1 L688.3,2253.5 L688.5,2251.8 L689.0,2250.3 L689.7,2248.8 L690.5,2247.4 L691.5,2246.0 L692.6,2244.8 L694.0,2243.8 L694.0,2243.8 L694.0,2245.6 L693.9,2247.3 L693.6,2248.9 L693.2,2250.4 L692.8,2251.9 L692.2,2253.3 L691.5,2254.7 L690.7,2256.1 L689.8,2257.4 L688.6,2258.6Z" fill="#f7eadb" opacity="0.7"/>
<path d="M832.8,2316.4 L833.4,2318.2 L833.7,2319.9 L833.7,2321.5 L833.6,2323.0 L833.2,2324.4 L832.7,2325.8 L831.9,2327.0 L831.0,2328.1 L829.9,2329.0 L828.5,2329.8 L828.5,2329.8 L828.1,2327.9 L828.0,2326.2 L828.1,2324.6 L828.3,2323.1 L828.6,2321.8 L829.1,2320.5 L829.8,2319.4 L830.6,2318.3 L831.5,2317.3 L832.8,2316.4Z" fill="#f7eadb" opacity="0.7"/>
<path d="M742.9,2188.3 L744.6,2186.1 L746.5,2184.3 L748.4,2182.8 L750.5,2181.7 L752.5,2180.9 L754.7,2180.4 L756.8,2180.2 L758.9,2180.4 L761.1,2180.9 L763.1,2181.9 L763.1,2181.9 L760.9,2183.8 L758.8,2185.2 L756.8,2186.5 L754.8,2187.5 L752.8,2188.3 L750.9,2188.8 L748.9,2189.1 L747.0,2189.1 L745.0,2188.9 L742.9,2188.3Z" fill="#f7eadb" opacity="0.7"/>
<path d="M809.6,2225.5 L811.0,2225.5 L812.1,2225.8 L813.1,2226.2 L814.0,2226.7 L814.8,2227.3 L815.4,2228.1 L815.9,2229.0 L816.2,2230.0 L816.4,2231.1 L816.3,2232.4 L816.3,2232.4 L815.0,2232.2 L813.9,2231.9 L812.9,2231.5 L812.0,2231.0 L811.3,2230.4 L810.7,2229.7 L810.3,2228.8 L809.9,2227.9 L809.7,2226.8 L809.6,2225.5Z" fill="#f7eadb" opacity="0.7"/>
<path d="M760.4,2316.7 L749.0,2315.5 L738.4,2310.6 L729.1,2302.9 L722.1,2292.9 L717.8,2281.3 L716.7,2269.0 L718.9,2257.0 L723.9,2246.1 L731.5,2237.1 L741.3,2231.2 L741.3,2231.2 L738.6,2241.6 L736.9,2251.1 L736.6,2260.0 L737.2,2268.5 L738.6,2276.7 L740.8,2284.7 L743.9,2292.6 L748.0,2300.6 L753.5,2308.5 L760.4,2316.7Z" fill="#fbf4e8" opacity="0.9"/>
<clipPath id="nc13"><circle cx="779.9" cy="2267.5" r="47.3"/></clipPath>
<circle cx="779.9" cy="2267.5" r="47.3" fill="url(#gNuc)"/>
<g clip-path="url(#nc13)">
<path d="M770.5,2215.4 L723.2,2243.8 L727.9,2314.8 L777.6,2317.1 C765.7,2291.1 794.1,2281.7 791.8,2258.0 C789.4,2239.1 784.7,2224.9 770.5,2215.4Z" fill="#ecd4a6" opacity="0.93"/>
<ellipse cx="789.4" cy="2260.4" rx="11.8" ry="18.0" fill="#e6d58f" opacity="0.75"/>
</g>
<text x="723.0" y="2361.5" font-size="23" fill="#1e1e1e" stroke="#1e1e1e" stroke-width="0.8" textLength="67.1" lengthAdjust="spacingAndGlyphs" letter-spacing="0.92" text-anchor="start" >T cell</text>
<line x1="757.5" y1="2103" x2="757.5" y2="2127" stroke="#d3333f" stroke-width="6"/>
<line x1="757.5" y1="2103" x2="757.5" y2="2127" stroke="#f6c4c6" stroke-width="2.4"/>
<circle cx="757.5" cy="2133.5" r="7" fill="#f6c4c6" stroke="#d3333f" stroke-width="2"/>
<path d="M744.0,2138 A13.5,13.5 0 0 0 771.0,2138" fill="none" stroke="#c9782f" stroke-width="6" stroke-linecap="round"/>
<path d="M744.0,2138 A13.5,13.5 0 0 0 771.0,2138" fill="none" stroke="#f3cf9d" stroke-width="2.4" stroke-linecap="round"/>
<line x1="757.5" y1="2152" x2="757.5" y2="2168" stroke="#c9782f" stroke-width="6"/>
<line x1="757.5" y1="2152" x2="757.5" y2="2168" stroke="#f3cf9d" stroke-width="2.4"/>
<line x1="793" y1="2100" x2="793" y2="2125" stroke="#d3333f" stroke-width="6"/>
<line x1="793" y1="2100" x2="793" y2="2125" stroke="#f6c4c6" stroke-width="2.4"/>
<path d="M780.0,2135.5 L784.0,2135.5 L784.0,2128.5 L802.0,2128.5 L802.0,2135.5 L806.0,2135.5 L806.0,2124.5 L780.0,2124.5Z" fill="#f6c4c6" stroke="#d3333f" stroke-width="1.8" stroke-linejoin="miter"/>
<rect x="787.5" y="2132" width="11" height="14" fill="#9a9a9a" stroke="#333" stroke-width="1.4"/>
<path d="M780.0,2142 L784.0,2142 L784.0,2149 L802.0,2149 L802.0,2142 L806.0,2142 L806.0,2153 L780.0,2153Z" fill="#f3cf9d" stroke="#c9782f" stroke-width="1.8" stroke-linejoin="miter"/>
<line x1="793" y1="2153" x2="793" y2="2169" stroke="#c9782f" stroke-width="6"/>
<line x1="793" y1="2153" x2="793" y2="2169" stroke="#f3cf9d" stroke-width="2.4"/>
<rect x="723.7" y="2095.2" width="105.89999999999998" height="91.60000000000036" fill="none" stroke="#111" stroke-width="2.6"/>
<rect x="1198.7" y="2170.3" width="45.09999999999991" height="38.5" fill="none" stroke="#111" stroke-width="2.6"/>
<circle cx="1220.6" cy="2188" r="5" fill="#e9efe6" stroke="#8fb7ad" stroke-width="2"/>
<line x1="1198.7" y1="2208.8" x2="903.8" y2="2267.4" stroke="#111" stroke-width="2.6"/>
<line x1="1243.8" y1="2208.8" x2="1502.5" y2="2267.4" stroke="#111" stroke-width="2.6"/>
<circle cx="1110" cy="2200.5" r="5.2" fill="#eef2ea" stroke="#2f7a6d" stroke-width="2.4"/>
<circle cx="1144" cy="2210.7" r="5.2" fill="#eef2ea" stroke="#2f7a6d" stroke-width="2.4"/>
<circle cx="1164.8" cy="2186.5" r="5.2" fill="#eef2ea" stroke="#2f7a6d" stroke-width="2.4"/>
<circle cx="1229.9" cy="2226" r="5.2" fill="#eef2ea" stroke="#2f7a6d" stroke-width="2.4"/>
<circle cx="1264.7" cy="2235.3" r="5.2" fill="#eef2ea" stroke="#2f7a6d" stroke-width="2.4"/>
<circle cx="1285.6" cy="2211.2" r="5.2" fill="#eef2ea" stroke="#2f7a6d" stroke-width="2.4"/>
<text x="1127.6" y="2263.2" font-size="23" fill="#1e1e1e" stroke="#1e1e1e" stroke-width="0.8" textLength="168.5" lengthAdjust="spacingAndGlyphs" letter-spacing="0.92" text-anchor="start" >SEMI-DIRECT</text>
<clipPath id="clipD"><rect x="69.3" y="2268.9" width="393.8" height="246.5"/></clipPath>
<clipPath id="clipS"><rect x="904.6" y="2267.6" width="597.9" height="246.6"/></clipPath>
<rect x="69.3" y="2268.9" width="393.8" height="246.5" fill="#fdfdfb"/>
<g clip-path="url(#clipD)">
<path d="M104,2262 L107.6,2269.5 C115,2276 122,2280 128,2284.5 C136,2293 142,2300 149.8,2306 C158,2312 165,2318 174.3,2322.6 C188,2330 200,2337 212.4,2341.6 C225,2346 238,2350 250.5,2352.5 C262,2355 274,2356 285.8,2358 C292,2352 298,2345 305,2341.6 C318,2337 332,2336 345.7,2333.4 C360,2326 374,2318 386.5,2309 C395,2302 402,2296 408.3,2290 C415,2283 420,2276 426,2269.5 L430,2262Z" fill="#efd9b3" stroke="#c0702f" stroke-width="2.4"/>
<path d="M130,2272 Q160,2300 200,2310 Q240,2318 270,2312 Q230,2325 190,2322 Q150,2305 130,2272Z" fill="#f6e8d0" opacity="0.8"/>
<path d="M200,2320 Q240,2330 280,2318 Q300,2312 330,2305 Q300,2325 270,2335 Q230,2345 200,2320Z" fill="#e4c08a" opacity="0.75"/>
<path d="M150,2300 Q170,2320 220,2338 Q180,2330 150,2300Z" fill="#e4c08a" opacity="0.7"/>
<path d="M330,2300 Q370,2290 400,2275 Q385,2300 340,2315Z" fill="#e6c490" opacity="0.7"/>
<path d="M170,2270 Q220,2280 260,2275 Q220,2290 170,2270Z" fill="#e6c490" opacity="0.6"/>
<path d="M109.8,2516 Q277.3,2370 444.9,2516Z" fill="#eef1d4" stroke="#2f7a6d" stroke-width="2.6"/>
</g>
<rect x="69.3" y="2268.9" width="393.8" height="246.5" fill="none" stroke="#111" stroke-width="2.8"/>
<line x1="228.5" y1="2350" x2="228.5" y2="2375" stroke="#c9782f" stroke-width="8"/>
<line x1="228.5" y1="2350" x2="228.5" y2="2375" stroke="#f3cf9d" stroke-width="4.4"/>
<path d="M208.5,2396 A20,20 0 0 1 248.5,2396" fill="none" stroke="#c9782f" stroke-width="8" stroke-linecap="round"/>
<path d="M208.5,2396 A20,20 0 0 1 248.5,2396" fill="none" stroke="#f3cf9d" stroke-width="4.4" stroke-linecap="round"/>
<circle cx="228.5" cy="2403.3" r="12.6" fill="#a9cf95" stroke="#2f7a6d" stroke-width="2.4"/>
<line x1="228.5" y1="2416" x2="228.5" y2="2445" stroke="#2f7a6d" stroke-width="8"/>
<line x1="228.5" y1="2416" x2="228.5" y2="2445" stroke="#a9cf95" stroke-width="4.4"/>
<line x1="309.5" y1="2342" x2="309.5" y2="2373" stroke="#c9782f" stroke-width="8"/>
<line x1="309.5" y1="2342" x2="309.5" y2="2373" stroke="#f3cf9d" stroke-width="4.4"/>
<path d="M292.5,2389.4 L298.5,2389.4 L298.5,2378.8 L322.5,2378.8 L322.5,2389.4 L328.5,2389.4 L328.5,2372.8 L292.5,2372.8Z" fill="#f3cf9d" stroke="#c9782f" stroke-width="2" stroke-linejoin="miter"/>
<rect x="301.5" y="2382.7" width="16.6" height="23.3" fill="#8e8e92" stroke="#1e1e1e" stroke-width="2.4"/>
<path d="M292.5,2399.3 L298.5,2399.3 L298.5,2410.0 L322.5,2410.0 L322.5,2399.3 L328.5,2399.3 L328.5,2416.0 L292.5,2416.0Z" fill="#a9cf95" stroke="#2f7a6d" stroke-width="2" stroke-linejoin="miter"/>
<line x1="309.5" y1="2416" x2="309.5" y2="2443" stroke="#2f7a6d" stroke-width="8"/>
<line x1="309.5" y1="2416" x2="309.5" y2="2443" stroke="#a9cf95" stroke-width="4.4"/>
<text x="231.5" y="2295.8" font-size="23" fill="#c9782f" stroke="#c9782f" stroke-width="0.8" textLength="66.8" lengthAdjust="spacingAndGlyphs" letter-spacing="0.92" text-anchor="start" >T cell</text>
<text x="90.5" y="2368.8" font-size="23" fill="#c9782f" stroke="#c9782f" stroke-width="0.8" textLength="125.2" lengthAdjust="spacingAndGlyphs" letter-spacing="0.92" text-anchor="start" >Co-Stim.R</text>
<text x="339.4" y="2374.4" font-size="23" fill="#c9782f" stroke="#c9782f" stroke-width="0.8" textLength="51.8" lengthAdjust="spacingAndGlyphs" letter-spacing="0.92" text-anchor="start" >TCR</text>
<text x="340.4" y="2404.5" font-size="23" fill="#1e1e1e" stroke="#1e1e1e" stroke-width="0.8" textLength="93.0" lengthAdjust="spacingAndGlyphs" letter-spacing="0.92" text-anchor="start" >Antigen</text>
<text x="93.8" y="2437.5" font-size="23" fill="#2c736d" stroke="#2c736d" stroke-width="0.8" textLength="121.6" lengthAdjust="spacingAndGlyphs" letter-spacing="0.92" text-anchor="start" >Co-Stim.L</text>
<text x="339.4" y="2438.5" font-size="23" fill="#2c736d" stroke="#2c736d" stroke-width="0.8" textLength="57.5" lengthAdjust="spacingAndGlyphs" letter-spacing="0.92" text-anchor="start" >MHC</text>
<text x="260.7" y="2493.2" font-size="23" fill="#2c736d" stroke="#2c736d" stroke-width="0.8" textLength="31.0" lengthAdjust="spacingAndGlyphs" letter-spacing="0.92" text-anchor="start" >EV</text>
<rect x="904.6" y="2267.6" width="597.9" height="246.6" fill="#fdfdfb"/>
<g clip-path="url(#clipS)">
<path d="M900,2262 L900,2284 C1000,2330 1100,2362 1195,2365 C1300,2366 1420,2330 1470,2290 C1480,2280 1487,2270 1490,2262Z" fill="#f7c6c7" stroke="#d3333f" stroke-width="2.6"/>
<path d="M900,2421 C925,2417 950,2413 980,2418 C1030,2428 1060,2460 1098,2520 L900,2520Z" fill="#efd9b3" stroke="#c0702f" stroke-width="2.4"/>
<path d="M910,2440 Q960,2432 1010,2450 Q1040,2465 1060,2490 Q1020,2470 980,2458 Q940,2448 910,2440Z" fill="#e4c08a" opacity="0.7"/>
<path d="M920,2480 Q960,2490 1000,2485 Q970,2500 930,2495Z" fill="#f6e8d0" opacity="0.8"/>
<path d="M1296,2520 C1320,2480 1350,2455 1400,2447 C1440,2443 1480,2448 1510,2452 L1510,2520Z" fill="#efd9b3" stroke="#c0702f" stroke-width="2.4"/>
<path d="M1330,2490 Q1380,2462 1440,2462 Q1480,2462 1500,2470 Q1450,2475 1400,2480 Q1360,2485 1330,2490Z" fill="#e4c08a" opacity="0.7"/>
<path d="M1320,2510 Q1380,2495 1450,2500 Q1390,2512 1320,2510Z" fill="#f6e8d0" opacity="0.8"/>
<line x1="1196" y1="2366" x2="1196" y2="2514" stroke="#8a8a8a" stroke-width="2" stroke-dasharray="7,5"/>
</g>
<rect x="904.6" y="2267.6" width="597.9" height="246.5999999999999" fill="none" stroke="#111" stroke-width="2.8"/>
<line x1="978" y1="2312" x2="970" y2="2342" stroke="#d3333f" stroke-width="6"/>
<line x1="978" y1="2312" x2="970" y2="2342" stroke="#f7c6c7" stroke-width="2.4"/>
<circle cx="967.3" cy="2352.4" r="12.5" fill="#f7c6c7" stroke="#d3333f" stroke-width="2.2"/>
<g transform="rotate(15 964 2372)">
<path d="M945,2372 A19,19 0 0 0 983,2372" fill="none" stroke="#c9782f" stroke-width="7" stroke-linecap="round"/>
<path d="M945,2372 A19,19 0 0 0 983,2372" fill="none" stroke="#f3cf9d" stroke-width="3.4" stroke-linecap="round"/>
</g>
<line x1="959" y1="2391" x2="951.9" y2="2418" stroke="#c9782f" stroke-width="7"/>
<line x1="959" y1="2391" x2="951.9" y2="2418" stroke="#f3cf9d" stroke-width="3.4"/>
<g transform="translate(-10,0) rotate(18 1030 2380)">
<line x1="1038" y1="2325" x2="1038" y2="2337" stroke="#555" stroke-width="6"/>
<circle cx="1036" cy="2347" r="10" fill="#eef1d2" stroke="#2f7a6d" stroke-width="2.2"/>
<line x1="1036" y1="2356" x2="1036" y2="2364" stroke="#2f7a6d" stroke-width="6"/>
<line x1="1036" y1="2356" x2="1036" y2="2364" stroke="#a9cf95" stroke-width="2.4"/>
<path d="M1018.0,2378 L1023.5,2378 L1023.5,2368.5 L1048.5,2368.5 L1048.5,2378 L1054.0,2378 L1054.0,2363 L1018.0,2363Z" fill="#a9cf95" stroke="#2f7a6d" stroke-width="1.8" stroke-linejoin="miter"/>
<rect x="1028" y="2370" width="16" height="21" fill="#8e8e92" stroke="#1e1e1e" stroke-width="2.2"/>
<path d="M1018.0,2378 L1023.5,2378 L1023.5,2387.5 L1048.5,2387.5 L1048.5,2378 L1054.0,2378 L1054.0,2393 L1018.0,2393Z" fill="#f3cf9d" stroke="#c9782f" stroke-width="1.8" stroke-linejoin="miter"/>
<line x1="1036" y1="2393" x2="1036" y2="2422" stroke="#c9782f" stroke-width="7"/>
<line x1="1036" y1="2393" x2="1036" y2="2422" stroke="#f3cf9d" stroke-width="3.4"/>
</g>
<line x1="1373" y1="2345" x2="1375" y2="2357" stroke="#555" stroke-width="6"/>
<circle cx="1378.3" cy="2375.4" r="20" fill="#eef1d2" stroke="#2f7a6d" stroke-width="2.4"/>
<line x1="1376" y1="2394" x2="1376" y2="2402" stroke="#2f7a6d" stroke-width="6"/>
<line x1="1376" y1="2394" x2="1376" y2="2402" stroke="#a9cf95" stroke-width="2.4"/>
<circle cx="1375" cy="2413" r="13" fill="#a9cf95" stroke="#2f7a6d" stroke-width="2.2"/>
<path d="M1357,2422 A20,20 0 0 0 1397,2422" fill="none" stroke="#c9782f" stroke-width="7" stroke-linecap="round"/>
<path d="M1357,2422 A20,20 0 0 0 1397,2422" fill="none" stroke="#f3cf9d" stroke-width="3.4" stroke-linecap="round"/>
<line x1="1380" y1="2442" x2="1383" y2="2455" stroke="#c9782f" stroke-width="7"/>
<line x1="1380" y1="2442" x2="1383" y2="2455" stroke="#f3cf9d" stroke-width="3.4"/>
<line x1="1394" y1="2382" x2="1410" y2="2400" stroke="#2f7a6d" stroke-width="6"/>
<line x1="1394" y1="2382" x2="1410" y2="2400" stroke="#a9cf95" stroke-width="2.4"/>
<g transform="rotate(-35 1420 2418)">
<path d="M1402.0,2417 L1407.5,2417 L1407.5,2407.5 L1432.5,2407.5 L1432.5,2417 L1438.0,2417 L1438.0,2402 L1402.0,2402Z" fill="#a9cf95" stroke="#2f7a6d" stroke-width="1.8" stroke-linejoin="miter"/>
<rect x="1412" y="2409" width="16" height="21" fill="#8e8e92" stroke="#1e1e1e" stroke-width="2.2"/>
<path d="M1402.0,2417 L1407.5,2417 L1407.5,2426.5 L1432.5,2426.5 L1432.5,2417 L1438.0,2417 L1438.0,2432 L1402.0,2432Z" fill="#f3cf9d" stroke="#c9782f" stroke-width="1.8" stroke-linejoin="miter"/>
<line x1="1420" y1="2432" x2="1420" y2="2445" stroke="#c9782f" stroke-width="7"/>
<line x1="1420" y1="2432" x2="1420" y2="2445" stroke="#f3cf9d" stroke-width="3.4"/>
</g>
<text x="978.9" y="2300.2" font-size="23" fill="#d3333f" stroke="#d3333f" stroke-width="0.8" textLength="123.2" lengthAdjust="spacingAndGlyphs" letter-spacing="0.92" text-anchor="start" >Co-Stim.L</text>
<text x="1386.5" y="2306.4" font-size="23" fill="#d3333f" stroke="#d3333f" stroke-width="0.8" textLength="54.3" lengthAdjust="spacingAndGlyphs" letter-spacing="0.92" text-anchor="start" >APC</text>
<text x="906.6" y="2470.3" font-size="23" fill="#c9782f" stroke="#c9782f" stroke-width="0.8" textLength="125.8" lengthAdjust="spacingAndGlyphs" letter-spacing="0.92" text-anchor="start" >Co-Stim.R</text>
<text x="950.9" y="2505.9" font-size="23" fill="#c9782f" stroke="#c9782f" stroke-width="0.8" textLength="66.5" lengthAdjust="spacingAndGlyphs" letter-spacing="0.92" text-anchor="start" >T cell</text>
<text x="1032.4" y="2442.3" font-size="23" fill="#c9782f" stroke="#c9782f" stroke-width="0.8" textLength="51.0" lengthAdjust="spacingAndGlyphs" letter-spacing="0.92" text-anchor="start" >TCR</text>
<text x="1050.8" y="2366.2" font-size="23" fill="#2c736d" stroke="#2c736d" stroke-width="0.8" textLength="33.4" lengthAdjust="spacingAndGlyphs" letter-spacing="0.92" text-anchor="start" >EV</text>
<text x="1048.7" y="2392.1" font-size="23" fill="#2c736d" stroke="#2c736d" stroke-width="0.8" textLength="59.0" lengthAdjust="spacingAndGlyphs" letter-spacing="0.92" text-anchor="start" >MHC</text>
<text x="1038.7" y="2415.5" font-size="23" fill="#1e1e1e" stroke="#1e1e1e" stroke-width="0.8" textLength="92.8" lengthAdjust="spacingAndGlyphs" letter-spacing="0.92" text-anchor="start" >Antigen</text>
<text x="1407.4" y="2371.2" font-size="23" fill="#2c736d" stroke="#2c736d" stroke-width="0.8" textLength="58.5" lengthAdjust="spacingAndGlyphs" letter-spacing="0.92" text-anchor="start" >MHC</text>
<text x="1323.8" y="2396.3" font-size="23" fill="#2c736d" stroke="#2c736d" stroke-width="0.8" textLength="31.3" lengthAdjust="spacingAndGlyphs" letter-spacing="0.92" text-anchor="start" >EV</text>
<text x="1223.4" y="2430.6" font-size="23" fill="#2c736d" stroke="#2c736d" stroke-width="0.8" textLength="123.4" lengthAdjust="spacingAndGlyphs" letter-spacing="0.92" text-anchor="start" >Co-Stim.L</text>
<text x="1220.5" y="2461.1" font-size="23" fill="#c9782f" stroke="#c9782f" stroke-width="0.8" textLength="125.4" lengthAdjust="spacingAndGlyphs" letter-spacing="0.92" text-anchor="start" >Co-Stim.R</text>
<text x="1436.7" y="2477.8" font-size="23" fill="#c9782f" stroke="#c9782f" stroke-width="0.8" textLength="51.4" lengthAdjust="spacingAndGlyphs" letter-spacing="0.92" text-anchor="start" >TCR</text>
<text x="1359.3" y="2505.9" font-size="23" fill="#c9782f" stroke="#c9782f" stroke-width="0.8" textLength="66.1" lengthAdjust="spacingAndGlyphs" letter-spacing="0.92" text-anchor="start" >T cell</text>
</svg>
</body></html>
